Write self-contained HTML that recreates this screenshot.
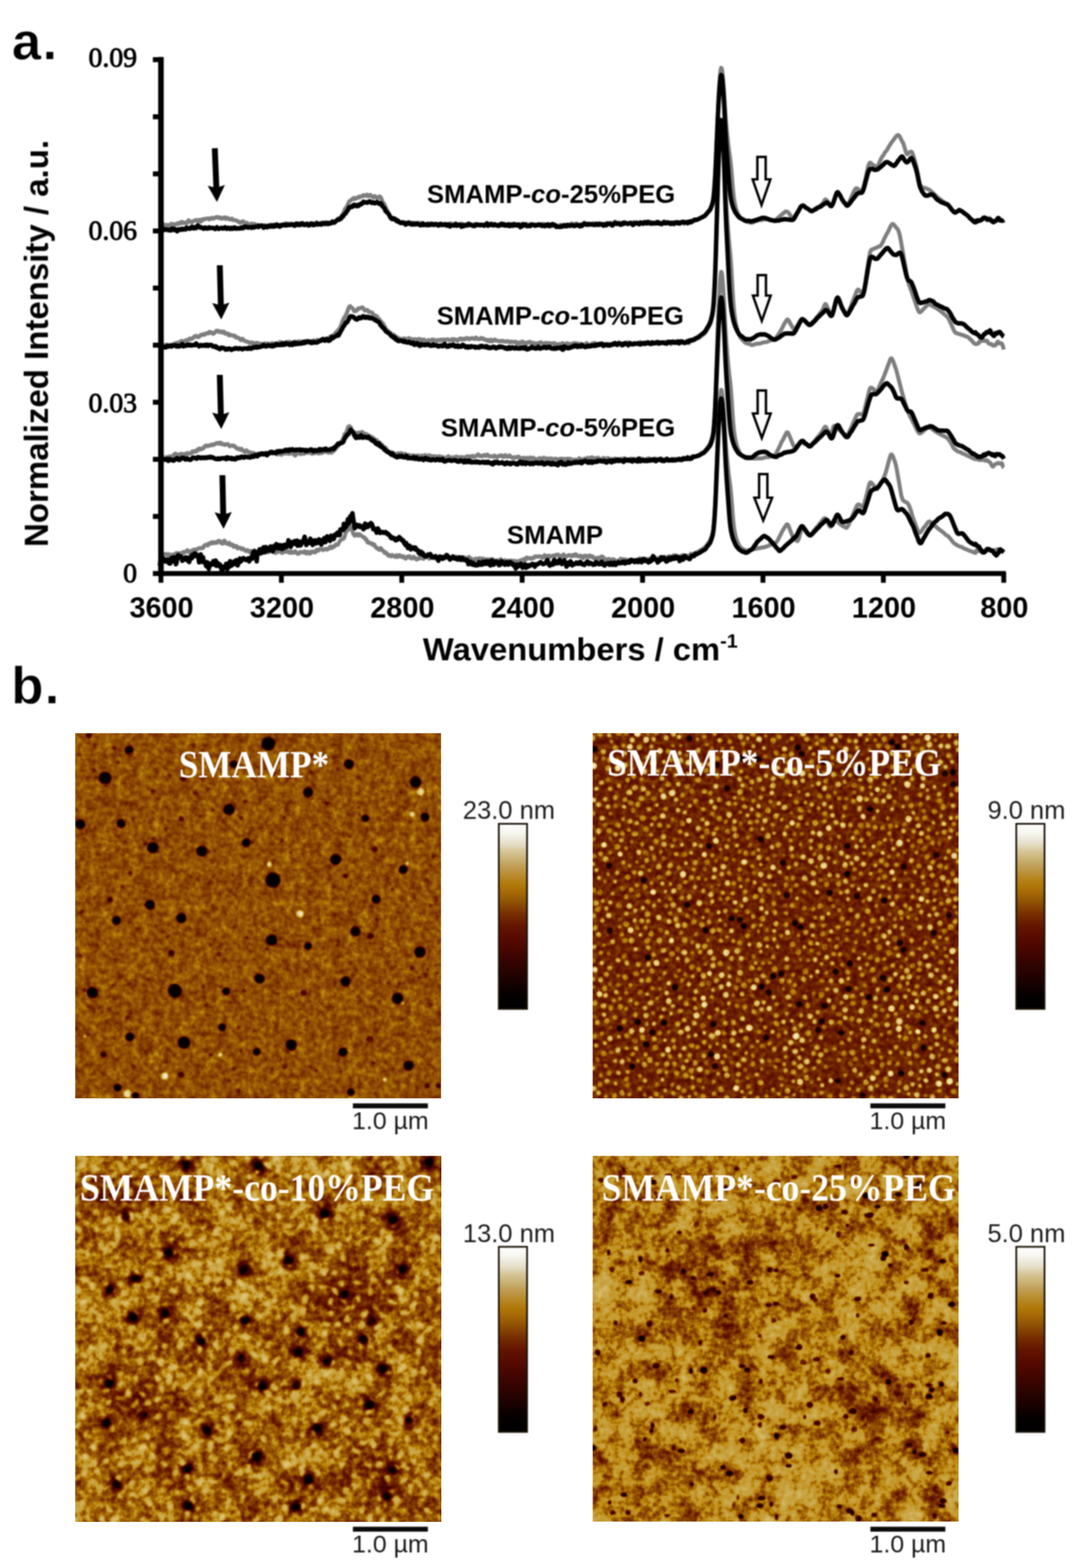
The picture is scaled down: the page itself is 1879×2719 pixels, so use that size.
<!DOCTYPE html>
<html lang="en"><head><meta charset="utf-8"><title>Figure</title>
<style>html,body{margin:0;padding:0;background:#fff}body{width:1879px;height:2719px;overflow:hidden;position:relative}svg{display:block;position:absolute;left:0;top:0}.sb{font-family:"Liberation Sans",Arial,sans-serif;font-weight:bold;fill:#000}.sr{font-family:"Liberation Sans",Arial,sans-serif;fill:#1c1c1c}.tb{font-family:"Liberation Serif","Times New Roman",serif;font-weight:bold;fill:#000}.tr{font-family:"Liberation Serif","Times New Roman",serif;fill:#000}.tw{font-family:"Liberation Serif","Times New Roman",serif;font-weight:bold;fill:#fff}</style></head><body>
<svg id="root" width="1879" height="2719" viewBox="0 0 1879 2719">
<defs><filter id="f1" filterUnits="userSpaceOnUse" x="0" y="0" width="640" height="640" color-interpolation-filters="sRGB"><feTurbulence type="fractalNoise" baseFrequency="0.11" numOctaves="2" seed="3" result="n1"/><feColorMatrix in="n1" type="matrix" values="1 0 0 0 0  1 0 0 0 0  1 0 0 0 0  0 0 0 0 1" result="a"/><feComposite in="a" in2="SourceGraphic" operator="arithmetic" k1="0" k2="0.26" k3="1" k4="-0.13" result="c"/><feTurbulence type="fractalNoise" baseFrequency="0.045" numOctaves="2" seed="17" result="n2"/><feColorMatrix in="n2" type="matrix" values="1 0 0 0 0  1 0 0 0 0  1 0 0 0 0  0 0 0 0 1" result="b"/><feComposite in="b" in2="c" operator="arithmetic" k1="0" k2="0.18" k3="1" k4="-0.09" result="c2"/><feComponentTransfer><feFuncR type="table" tableValues="0 0.004 0.008 0.012 0.015 0.035 0.056 0.077 0.099 0.123 0.148 0.173 0.198 0.222 0.245 0.268 0.291 0.314 0.335 0.356 0.377 0.398 0.419 0.442 0.465 0.488 0.516 0.545 0.57 0.594 0.618 0.649 0.685 0.721 0.749 0.761 0.773 0.786 0.814 0.841 0.86 0.878 0.896 0.914 0.929 0.942 0.955 0.968 0.981 0.987 0.994 1"/><feFuncG type="table" tableValues="0 0 0 0 0 0.002 0.004 0.006 0.008 0.009 0.011 0.013 0.015 0.018 0.022 0.025 0.028 0.032 0.047 0.062 0.077 0.092 0.113 0.146 0.179 0.212 0.242 0.271 0.306 0.342 0.378 0.418 0.46 0.502 0.542 0.578 0.614 0.65 0.686 0.723 0.751 0.778 0.805 0.832 0.859 0.886 0.913 0.94 0.965 0.977 0.988 1"/><feFuncB type="table" tableValues="0 0 0 0 0 0 0 0 0 0 0 0 0 0 0 0 0 0 0 0 0 0 0 0 0 0 0.006 0.015 0.017 0.018 0.019 0.023 0.029 0.035 0.064 0.136 0.208 0.279 0.334 0.389 0.434 0.48 0.525 0.57 0.63 0.699 0.768 0.837 0.904 0.936 0.968 1"/><feFuncA type="linear" slope="0" intercept="1"/></feComponentTransfer><feGaussianBlur stdDeviation="0.9"/></filter><filter id="f2" filterUnits="userSpaceOnUse" x="0" y="0" width="640" height="640" color-interpolation-filters="sRGB"><feTurbulence type="fractalNoise" baseFrequency="0.1" numOctaves="2" seed="5" result="n1"/><feColorMatrix in="n1" type="matrix" values="1 0 0 0 0  1 0 0 0 0  1 0 0 0 0  0 0 0 0 1" result="a"/><feComposite in="a" in2="SourceGraphic" operator="arithmetic" k1="0" k2="0.3" k3="1" k4="-0.15" result="c"/><feComponentTransfer><feFuncR type="table" tableValues="0 0.004 0.008 0.012 0.015 0.035 0.056 0.077 0.099 0.123 0.148 0.173 0.198 0.222 0.245 0.268 0.291 0.314 0.335 0.356 0.377 0.398 0.419 0.442 0.465 0.488 0.516 0.545 0.57 0.594 0.618 0.649 0.685 0.721 0.749 0.761 0.773 0.786 0.814 0.841 0.86 0.876 0.885 0.894 0.903 0.913 0.922 0.928 0.935 0.941 0.947 0.954"/><feFuncG type="table" tableValues="0 0 0 0 0 0.002 0.004 0.006 0.008 0.009 0.011 0.013 0.015 0.018 0.022 0.025 0.028 0.032 0.047 0.062 0.077 0.092 0.113 0.146 0.179 0.212 0.242 0.271 0.306 0.342 0.378 0.418 0.46 0.502 0.542 0.578 0.614 0.65 0.686 0.723 0.751 0.775 0.789 0.802 0.816 0.83 0.843 0.857 0.87 0.883 0.897 0.91"/><feFuncB type="table" tableValues="0 0 0 0 0 0 0 0 0 0 0 0 0 0 0 0 0 0 0 0 0 0 0 0 0 0 0.006 0.015 0.017 0.018 0.019 0.023 0.029 0.035 0.064 0.136 0.208 0.279 0.334 0.389 0.434 0.475 0.498 0.52 0.543 0.566 0.588 0.623 0.657 0.692 0.726 0.761"/><feFuncA type="linear" slope="0" intercept="1"/></feComponentTransfer><feGaussianBlur stdDeviation="0.9"/></filter><filter id="f3" filterUnits="userSpaceOnUse" x="0" y="0" width="640" height="640" color-interpolation-filters="sRGB"><feTurbulence type="fractalNoise" baseFrequency="0.1" numOctaves="2" seed="8" result="n1"/><feColorMatrix in="n1" type="matrix" values="1 0 0 0 0  1 0 0 0 0  1 0 0 0 0  0 0 0 0 1" result="a"/><feComposite in="a" in2="SourceGraphic" operator="arithmetic" k1="0" k2="0.42" k3="1" k4="-0.21" result="c"/><feTurbulence type="fractalNoise" baseFrequency="0.022" numOctaves="2" seed="5" result="n2"/><feColorMatrix in="n2" type="matrix" values="1 0 0 0 0  1 0 0 0 0  1 0 0 0 0  0 0 0 0 1" result="b"/><feComposite in="b" in2="c" operator="arithmetic" k1="0" k2="0.45" k3="1" k4="-0.225" result="c2"/><feComponentTransfer><feFuncR type="table" tableValues="0 0.004 0.008 0.012 0.015 0.035 0.056 0.077 0.099 0.123 0.148 0.173 0.198 0.222 0.245 0.268 0.291 0.314 0.335 0.356 0.377 0.398 0.419 0.442 0.465 0.488 0.516 0.545 0.57 0.594 0.618 0.649 0.685 0.721 0.749 0.761 0.773 0.78 0.784 0.795 0.806 0.817 0.828 0.839 0.848 0.855 0.862 0.87 0.877 0.884 0.891 0.899"/><feFuncG type="table" tableValues="0 0 0 0 0 0.002 0.004 0.006 0.008 0.009 0.011 0.013 0.015 0.018 0.022 0.025 0.028 0.032 0.047 0.062 0.077 0.092 0.113 0.146 0.179 0.212 0.242 0.271 0.306 0.342 0.378 0.418 0.46 0.502 0.542 0.578 0.614 0.633 0.647 0.662 0.676 0.691 0.706 0.72 0.733 0.743 0.754 0.765 0.776 0.787 0.798 0.809"/><feFuncB type="table" tableValues="0 0 0 0 0 0 0 0 0 0 0 0 0 0 0 0 0 0 0 0 0 0 0 0 0 0 0.006 0.015 0.017 0.018 0.019 0.023 0.029 0.035 0.064 0.136 0.208 0.246 0.275 0.297 0.319 0.341 0.362 0.384 0.404 0.422 0.44 0.458 0.476 0.494 0.512 0.531"/><feFuncA type="linear" slope="0" intercept="1"/></feComponentTransfer><feGaussianBlur stdDeviation="0.9"/></filter><filter id="f4" filterUnits="userSpaceOnUse" x="0" y="0" width="640" height="640" color-interpolation-filters="sRGB"><feTurbulence type="fractalNoise" baseFrequency="0.11" numOctaves="2" seed="12" result="n1"/><feColorMatrix in="n1" type="matrix" values="1 0 0 0 0  1 0 0 0 0  1 0 0 0 0  0 0 0 0 1" result="a"/><feComposite in="a" in2="SourceGraphic" operator="arithmetic" k1="0" k2="0.45" k3="1" k4="-0.225" result="c"/><feTurbulence type="fractalNoise" baseFrequency="0.028" numOctaves="2" seed="3" result="n2"/><feColorMatrix in="n2" type="matrix" values="1 0 0 0 0  1 0 0 0 0  1 0 0 0 0  0 0 0 0 1" result="b"/><feComposite in="b" in2="c" operator="arithmetic" k1="0" k2="0.6" k3="1" k4="-0.3" result="c2"/><feComponentTransfer><feFuncR type="table" tableValues="0 0.004 0.008 0.012 0.015 0.035 0.056 0.077 0.099 0.123 0.148 0.173 0.198 0.222 0.245 0.268 0.291 0.314 0.335 0.356 0.377 0.398 0.419 0.442 0.465 0.488 0.516 0.545 0.57 0.594 0.618 0.649 0.685 0.721 0.749 0.761 0.766 0.77 0.774 0.777 0.781 0.785 0.793 0.801 0.809 0.818 0.826 0.834 0.842 0.848 0.853 0.859"/><feFuncG type="table" tableValues="0 0 0 0 0 0.002 0.004 0.006 0.008 0.009 0.011 0.013 0.015 0.018 0.022 0.025 0.028 0.032 0.047 0.062 0.077 0.092 0.113 0.146 0.179 0.212 0.242 0.271 0.306 0.342 0.378 0.418 0.46 0.502 0.542 0.578 0.593 0.604 0.615 0.626 0.637 0.647 0.658 0.669 0.68 0.691 0.702 0.713 0.724 0.733 0.741 0.749"/><feFuncB type="table" tableValues="0 0 0 0 0 0 0 0 0 0 0 0 0 0 0 0 0 0 0 0 0 0 0 0 0 0 0.006 0.015 0.017 0.018 0.019 0.023 0.029 0.035 0.064 0.136 0.167 0.189 0.21 0.232 0.254 0.275 0.291 0.308 0.324 0.341 0.357 0.374 0.39 0.404 0.418 0.431"/><feFuncA type="linear" slope="0" intercept="1"/></feComponentTransfer><feGaussianBlur stdDeviation="0.9"/></filter><linearGradient id="cb" x1="0" y1="0" x2="0" y2="1"><stop offset="0.000" stop-color="#ffffff"/><stop offset="0.052" stop-color="#f6f5ee"/><stop offset="0.111" stop-color="#e4ddc6"/><stop offset="0.148" stop-color="#d6c698"/><stop offset="0.185" stop-color="#cbb67a"/><stop offset="0.222" stop-color="#c1a25c"/><stop offset="0.259" stop-color="#bb933e"/><stop offset="0.296" stop-color="#b68420"/><stop offset="0.333" stop-color="#b07808"/><stop offset="0.370" stop-color="#a56905"/><stop offset="0.407" stop-color="#965a05"/><stop offset="0.444" stop-color="#884604"/><stop offset="0.481" stop-color="#7a3200"/><stop offset="0.519" stop-color="#6e2300"/><stop offset="0.556" stop-color="#641400"/><stop offset="0.630" stop-color="#550a00"/><stop offset="0.704" stop-color="#410500"/><stop offset="0.778" stop-color="#2d0400"/><stop offset="0.852" stop-color="#190200"/><stop offset="0.926" stop-color="#050000"/><stop offset="1.000" stop-color="#000000"/></linearGradient><filter id="b1" x="-50%" y="-50%" width="200%" height="200%" color-interpolation-filters="sRGB"><feGaussianBlur stdDeviation="1.2"/></filter><filter id="b15" x="-50%" y="-50%" width="200%" height="200%" color-interpolation-filters="sRGB"><feGaussianBlur stdDeviation="1.7"/></filter><filter id="b2" x="-50%" y="-50%" width="200%" height="200%" color-interpolation-filters="sRGB"><feGaussianBlur stdDeviation="2"/></filter><filter id="b3" x="-50%" y="-50%" width="200%" height="200%" color-interpolation-filters="sRGB"><feGaussianBlur stdDeviation="3"/></filter><filter id="b30" x="-50%" y="-50%" width="200%" height="200%" color-interpolation-filters="sRGB"><feGaussianBlur stdDeviation="30"/></filter><filter id="b50" x="-50%" y="-50%" width="200%" height="200%" color-interpolation-filters="sRGB"><feGaussianBlur stdDeviation="50"/></filter></defs>
<filter id="soft" x="-3%" y="-3%" width="106%" height="106%" color-interpolation-filters="sRGB"><feGaussianBlur stdDeviation="0.8"/></filter>
<rect width="1879" height="2719" fill="#fff"/>
<g filter="url(#soft)">
<text class="sb" x="20.5" y="102.8" font-size="91.5" stroke="#fff" stroke-width="0.9">a<tspan x="73.8">.</tspan></text>
<text class="sb" x="19.5" y="1219.8" font-size="91.5" stroke="#fff" stroke-width="0.9">b<tspan x="77.5">.</tspan></text>
</g>
<g id="chart" filter="url(#soft)">
<path d="M277 965.4L278 963.7L279 961.6L280 960.0L281 960.2L282 961.3L283 961.8L284 962.3L285 961.2L286 960.6L287 960.5L288 962.2L289 962.5L290 961.6L291 961.0L292 960.8L293 962.4L294 963.5L295 962.2L296 961.6L297 962.0L298 961.7L299 962.5L300 961.7L301 962.2L302 962.5L303 960.8L304 960.3L305 959.4L306 959.0L307 959.7L308 959.4L309 960.0L310 959.0L311 959.6L312 959.7L313 959.8L314 960.2L315 958.6L316 958.2L317 959.3L318 956.9L319 956.9L320 958.1L321 957.0L322 957.1L323 955.7L324 955.2L325 954.1L326 955.3L327 956.2L328 958.0L329 957.9L330 956.0L331 956.0L332 955.2L333 954.5L334 954.6L335 954.1L336 953.0L337 953.0L338 952.9L339 953.1L340 953.5L341 952.8L342 952.7L343 951.4L344 950.9L345 950.6L346 950.2L347 950.9L348 950.9L349 950.6L350 950.0L351 950.6L352 950.0L353 948.4L354 946.0L355 945.7L356 944.8L357 944.6L358 944.8L359 945.5L360 946.1L361 943.2L362 942.3L363 942.5L364 942.9L365 941.8L366 942.0L367 940.2L368 942.4L369 941.7L370 941.5L371 940.4L372 941.6L373 940.5L374 940.5L375 939.8L376 941.4L377 940.6L378 938.0L379 937.7L380 937.8L381 939.4L382 938.9L383 940.1L384 942.1L385 941.5L386 942.6L387 940.1L388 938.2L389 937.4L390 938.8L391 941.8L392 941.7L393 942.0L394 943.2L395 943.1L396 942.3L397 941.1L398 941.8L399 945.1L400 944.8L401 944.2L402 945.0L403 944.4L404 946.2L405 948.3L406 947.5L407 946.5L408 946.8L409 948.2L410 946.9L411 949.0L412 951.1L413 950.5L414 950.4L415 949.5L416 950.0L417 950.2L418 951.0L419 952.5L420 951.8L421 951.0L422 951.9L423 952.7L424 953.6L425 954.8L426 954.3L427 955.7L428 955.0L429 954.0L430 955.1L431 955.7L432 956.5L433 957.8L434 957.6L435 955.3L436 956.4L437 957.0L438 958.1L439 959.4L440 958.7L441 960.5L442 961.7L443 963.1L444 962.7L445 960.1L446 961.4L447 961.2L448 958.4L449 958.4L450 958.8L451 958.9L452 960.1L453 959.4L454 959.4L455 957.2L456 957.8L457 958.0L458 958.6L459 958.1L460 958.1L461 958.0L462 955.7L463 956.1L464 957.7L465 957.6L466 957.4L467 956.7L468 955.7L469 953.9L470 955.6L471 955.7L472 956.6L473 957.4L474 957.6L475 957.0L476 958.3L477 959.1L478 958.7L479 957.5L480 955.9L481 957.4L482 955.7L483 954.9L484 953.7L485 954.6L486 954.9L487 957.7L488 958.2L489 958.9L490 956.8L491 955.9L492 956.0L493 957.0L494 956.8L495 956.9L496 956.2L497 955.0L498 955.8L499 955.6L500 957.5L501 958.4L502 957.7L503 957.3L504 956.1L505 958.7L506 957.1L507 958.3L508 957.9L509 957.1L510 958.1L511 956.9L512 956.0L513 957.7L514 958.5L515 958.9L516 960.5L517 960.1L518 959.7L519 959.5L520 957.1L521 957.2L522 957.2L523 957.3L524 957.6L525 958.0L526 958.1L527 957.7L528 955.9L529 958.3L530 958.9L531 959.9L532 957.6L533 956.8L534 957.1L535 958.1L536 957.9L537 960.2L538 959.6L539 958.7L540 956.4L541 957.1L542 956.7L543 957.2L544 956.4L545 957.8L546 958.0L547 956.8L548 956.5L549 953.1L550 954.0L551 954.8L552 954.8L553 952.9L554 952.3L555 952.5L556 952.5L557 952.0L558 952.2L559 952.5L560 953.9L561 953.2L562 952.9L563 951.9L564 951.7L565 952.5L566 952.3L567 953.1L568 952.3L569 951.3L570 951.2L571 950.6L572 948.1L573 949.2L574 947.8L575 950.4L576 947.9L577 948.9L578 948.7L579 948.3L580 946.1L581 945.9L582 944.2L583 945.1L584 944.2L585 944.7L586 944.3L587 941.4L588 940.0L589 938.2L590 937.0L591 936.2L592 935.8L593 934.9L594 934.2L595 934.3L596 933.6L597 930.9L598 928.0L599 923.7L600 922.8L601 920.7L602 919.9L603 919.1L604 918.1L605 915.7L606 914.7L607 913.9L608 915.5L609 917.8L610 919.6L611 921.3L612 924.2L613 927.0L614 927.3L615 929.1L616 927.7L617 927.7L618 925.9L619 926.2L620 928.0L621 928.9L622 927.1L623 926.4L624 927.5L625 927.8L626 928.3L627 929.4L628 930.4L629 931.1L630 931.3L631 931.5L632 932.0L633 934.8L634 934.7L635 935.0L636 937.9L637 940.4L638 939.4L639 940.1L640 941.8L641 941.3L642 941.9L643 942.2L644 943.3L645 942.4L646 944.8L647 945.0L648 944.3L649 944.2L650 947.3L651 948.4L652 949.6L653 950.8L654 950.1L655 951.0L656 952.1L657 953.3L658 953.1L659 951.0L660 950.4L661 953.2L662 952.8L663 955.1L664 954.9L665 955.6L666 956.7L667 959.1L668 958.8L669 958.2L670 958.9L671 960.8L672 962.2L673 963.5L674 963.8L675 962.3L676 964.1L677 964.1L678 964.7L679 964.3L680 962.4L681 963.8L682 964.1L683 964.2L684 964.6L685 965.7L686 964.0L687 963.0L688 964.4L689 965.9L690 965.7L691 963.2L692 962.8L693 962.7L694 963.7L695 965.2L696 965.5L697 966.0L698 965.1L699 964.4L700 965.9L701 967.4L702 967.4L703 968.7L704 967.6L705 965.6L706 965.5L707 966.4L708 964.7L709 964.8L710 964.5L711 966.8L712 968.0L713 968.2L714 968.3L715 968.3L716 966.5L717 965.4L718 966.3L719 967.1L720 968.7L721 969.2L722 970.4L723 969.8L724 969.0L725 968.5L726 967.2L727 968.5L728 968.4L729 967.8L730 966.5L731 964.9L732 967.7L733 968.0L734 969.0L735 966.8L736 965.7L737 965.0L738 964.4L739 966.3L740 965.7L741 966.0L742 965.0L743 966.3L744 968.9L745 967.9L746 966.7L747 967.1L748 966.7L749 966.0L750 964.7L751 966.9L752 967.7L753 968.2L754 966.2L755 964.8L756 966.3L757 966.1L758 966.6L759 965.3L760 965.9L761 967.6L762 968.1L763 966.9L764 967.8L765 967.1L766 967.3L767 966.4L768 966.8L769 968.2L770 967.4L771 967.0L772 966.8L773 967.5L774 965.6L775 966.5L776 967.1L777 966.9L778 967.9L779 967.4L780 966.5L781 966.5L782 967.8L783 967.1L784 966.7L785 966.5L786 965.0L787 965.3L788 966.3L789 965.0L790 964.9L791 965.7L792 966.2L793 967.8L794 967.1L795 966.3L796 965.6L797 966.0L798 966.3L799 967.4L800 967.9L801 968.2L802 968.4L803 968.4L804 966.2L805 967.3L806 968.6L807 968.7L808 967.3L809 967.9L810 967.9L811 967.0L812 967.0L813 965.9L814 967.0L815 968.7L816 969.2L817 968.6L818 969.4L819 970.8L820 971.2L821 971.5L822 970.7L823 970.8L824 968.8L825 969.1L826 968.8L827 970.1L828 970.0L829 969.3L830 968.5L831 967.9L832 968.4L833 970.0L834 970.5L835 970.0L836 969.1L837 968.3L838 970.9L839 972.0L840 970.3L841 969.8L842 972.0L843 972.3L844 970.5L845 969.8L846 969.9L847 972.4L848 972.0L849 970.0L850 970.3L851 969.7L852 969.8L853 969.3L854 969.7L855 971.6L856 971.4L857 971.7L858 973.3L859 972.0L860 971.8L861 972.8L862 972.1L863 971.8L864 972.3L865 972.8L866 970.9L867 970.8L868 969.6L869 972.5L870 973.1L871 975.1L872 975.7L873 974.8L874 973.2L875 971.4L876 973.7L877 972.8L878 973.3L879 972.4L880 972.6L881 973.9L882 972.0L883 972.4L884 973.5L885 974.4L886 972.0L887 973.7L888 972.9L889 973.6L890 974.1L891 972.3L892 973.2L893 974.2L894 973.1L895 973.0L896 973.2L897 974.0L898 973.9L899 973.4L900 972.6L901 972.6L902 971.6L903 972.8L904 973.7L905 971.6L906 970.4L907 970.9L908 969.6L909 970.3L910 971.8L911 970.7L912 967.4L913 966.8L914 967.2L915 968.4L916 968.0L917 967.8L918 967.6L919 968.6L920 967.9L921 968.9L922 968.4L923 967.6L924 968.0L925 967.7L926 966.5L927 965.0L928 964.7L929 964.8L930 965.2L931 965.2L932 965.3L933 965.4L934 964.7L935 964.4L936 965.1L937 965.2L938 965.4L939 965.4L940 967.0L941 967.2L942 965.0L943 964.3L944 962.7L945 964.3L946 965.4L947 964.5L948 965.1L949 963.9L950 963.8L951 963.6L952 965.6L953 966.0L954 964.7L955 964.1L956 964.3L957 964.2L958 963.8L959 964.3L960 963.2L961 964.3L962 963.1L963 963.5L964 962.3L965 962.8L966 962.8L967 961.5L968 962.2L969 963.9L970 964.4L971 963.7L972 963.8L973 964.9L974 966.1L975 965.8L976 964.5L977 961.2L978 963.0L979 966.0L980 966.8L981 964.8L982 964.1L983 964.2L984 963.8L985 963.1L986 962.5L987 963.0L988 963.1L989 962.9L990 964.4L991 963.3L992 964.4L993 963.8L994 962.1L995 963.5L996 962.4L997 963.7L998 961.1L999 961.5L1000 963.0L1001 964.3L1002 964.6L1003 964.8L1004 964.6L1005 964.8L1006 963.3L1007 965.7L1008 965.8L1009 965.0L1010 965.0L1011 967.8L1012 966.8L1013 963.9L1014 964.6L1015 963.4L1016 963.8L1017 965.2L1018 965.4L1019 965.6L1020 965.8L1021 963.8L1022 963.1L1023 963.3L1024 965.7L1025 964.8L1026 964.5L1027 964.6L1028 966.5L1029 967.8L1030 967.6L1031 968.4L1032 967.6L1033 968.4L1034 968.4L1035 967.8L1036 967.1L1037 968.1L1038 968.9L1039 968.4L1040 966.7L1041 965.9L1042 965.5L1043 964.8L1044 965.2L1045 965.9L1046 966.7L1047 968.4L1048 969.2L1049 970.4L1050 970.9L1051 969.4L1052 969.8L1053 970.5L1054 973.4L1055 970.7L1056 969.1L1057 970.1L1058 970.9L1059 970.8L1060 971.3L1061 970.5L1062 969.6L1063 969.6L1064 969.9L1065 971.2L1066 971.6L1067 972.8L1068 972.4L1069 973.8L1070 973.7L1071 972.0L1072 972.7L1073 971.7L1074 972.3L1075 969.7L1076 968.7L1077 969.4L1078 970.1L1079 970.1L1080 969.8L1081 969.8L1082 970.3L1083 971.3L1084 970.3L1085 970.3L1086 972.7L1087 972.6L1088 973.0L1089 972.5L1090 971.5L1091 971.1L1092 970.6L1093 970.9L1094 971.4L1095 972.3L1096 971.8L1097 972.6L1098 972.5L1099 973.5L1100 974.8L1101 973.8L1102 971.9L1103 970.8L1104 971.9L1105 971.6L1106 971.3L1107 970.9L1108 968.6L1109 968.2L1110 970.2L1111 970.5L1112 970.3L1113 968.7L1114 968.7L1115 969.4L1116 970.9L1117 970.0L1118 969.0L1119 969.6L1120 970.4L1121 971.1L1122 970.5L1123 969.5L1124 969.4L1125 969.0L1126 968.6L1127 968.9L1128 967.8L1129 970.6L1130 969.7L1131 970.8L1132 970.5L1133 969.7L1134 970.1L1135 970.0L1136 967.6L1137 968.2L1138 968.0L1139 968.1L1140 968.7L1141 968.0L1142 968.4L1143 968.0L1144 967.9L1145 968.2L1146 970.0L1147 968.8L1148 967.9L1149 967.3L1150 966.6L1151 965.1L1152 965.7L1153 966.3L1154 966.5L1155 968.8L1156 966.2L1157 966.6L1158 966.0L1159 965.7L1160 964.4L1161 964.8L1162 965.3L1163 965.2L1164 967.2L1165 967.9L1166 966.9L1167 965.3L1168 962.9L1169 964.7L1170 963.8L1171 963.3L1172 963.0L1173 963.3L1174 964.4L1175 966.0L1176 965.3L1177 965.4L1178 964.7L1179 964.4L1180 964.2L1181 965.4L1182 964.7L1183 962.8L1184 963.0L1185 965.4L1186 964.1L1187 963.4L1188 964.3L1189 965.2L1190 963.6L1191 963.8L1192 965.0L1193 963.8L1194 963.3L1195 962.9L1196 962.9L1197 960.9L1198 960.1L1199 960.9L1200 960.6L1201 961.3L1202 961.5L1203 961.7L1204 961.9L1205 961.3L1206 958.5L1207 958.0L1208 957.5L1209 957.1L1210 956.6L1211 956.2L1212 955.7L1213 954.9L1214 954.2L1215 953.6L1216 953.1L1217 952.6L1218 951.9L1219 951.1L1220 950.4L1221 949.7L1222 948.9L1223 947.8L1224 946.6L1225 945.3L1226 944.0L1227 942.6L1228 941.2L1229 939.9L1230 938.4L1231 936.7L1232 934.4L1233 931.7L1234 928.7L1235 925.1L1236 920.2L1237 912.5L1238 900.6L1239 885.6L1240 867.2L1241 843.5L1242 817.3L1243 791.7L1244 766.1L1245 741.9L1246 721.9L1247 704.9L1248 690.7L1249 681.0L1250 676.0L1251 676.9L1252 683.0L1253 693.0L1254 705.9L1255 720.4L1256 736.3L1257 753.1L1258 768.6L1259 781.4L1260 792.4L1261 802.7L1262 812.5L1263 821.5L1264 829.4L1265 836.5L1266 844.3L1267 853.9L1268 865.4L1269 878.4L1270 891.6L1271 903.0L1272 912.0L1273 918.8L1274 924.4L1275 929.2L1276 932.9L1277 936.2L1278 939.0L1279 941.3L1280 943.3L1281 945.1L1282 946.9L1283 948.4L1284 949.4L1285 950.1L1286 951.0L1287 951.8L1288 952.3L1289 952.8L1290 953.4L1291 953.9L1292 954.6L1293 955.0L1294 955.1L1295 955.1L1296 954.7L1297 954.0L1298 953.5L1299 953.5L1300 953.7L1301 953.5L1302 953.0L1303 952.7L1304 952.8L1305 952.7L1306 952.5L1307 952.2L1308 952.1L1309 951.8L1310 951.7L1311 951.6L1312 951.4L1313 951.0L1314 950.8L1315 950.7L1316 950.6L1317 950.5L1318 950.4L1319 949.9L1320 949.4L1321 949.1L1322 949.1L1323 949.2L1324 949.2L1325 948.9L1326 948.4L1327 947.9L1328 947.6L1329 947.5L1330 947.3L1331 946.9L1332 946.4L1333 945.8L1334 945.3L1335 944.8L1336 944.5L1337 944.3L1338 944.1L1339 943.7L1340 943.1L1341 942.5L1342 942.0L1343 941.7L1344 941.2L1345 940.5L1346 939.7L1347 938.7L1348 937.1L1349 935.2L1350 933.1L1351 931.0L1352 929.2L1353 927.4L1354 925.3L1355 923.1L1356 921.2L1357 919.5L1358 917.8L1359 916.2L1360 914.7L1361 913.1L1362 911.5L1363 910.1L1364 909.3L1365 909.3L1366 910.5L1367 912.4L1368 914.9L1369 917.6L1370 920.4L1371 923.1L1372 925.5L1373 927.8L1374 929.9L1375 931.9L1376 933.6L1377 934.9L1378 935.9L1379 936.6L1380 937.3L1381 937.9L1382 938.2L1383 937.6L1384 936.0L1385 933.1L1386 929.3L1387 925.5L1388 922.1L1389 919.1L1390 916.9L1391 915.8L1392 915.9L1393 916.6L1394 917.9L1395 919.2L1396 920.7L1397 922.3L1398 923.7L1399 924.9L1400 926.0L1401 927.1L1402 928.1L1403 928.3L1404 928.0L1405 927.4L1406 926.5L1407 925.3L1408 924.3L1409 923.1L1410 921.8L1411 920.4L1412 919.0L1413 917.6L1414 916.3L1415 915.0L1416 913.9L1417 912.8L1418 911.7L1419 910.5L1420 909.1L1421 907.8L1422 906.6L1423 905.5L1424 904.3L1425 902.9L1426 901.6L1427 900.4L1428 899.3L1429 898.6L1430 898.5L1431 899.0L1432 900.3L1433 902.3L1434 904.3L1435 906.4L1436 908.6L1437 910.7L1438 912.3L1439 913.3L1440 913.5L1441 912.6L1442 910.3L1443 907.2L1444 904.4L1445 902.6L1446 901.8L1447 901.7L1448 902.1L1449 903.0L1450 903.9L1451 904.6L1452 905.4L1453 906.3L1454 907.1L1455 907.9L1456 908.7L1457 909.4L1458 910.1L1459 911.0L1460 911.8L1461 912.3L1462 912.7L1463 913.0L1464 913.5L1465 914.3L1466 915.1L1467 915.3L1468 914.6L1469 913.3L1470 911.7L1471 910.1L1472 907.9L1473 905.4L1474 903.1L1475 901.0L1476 898.6L1477 895.9L1478 893.3L1479 891.2L1480 889.1L1481 886.7L1482 884.2L1483 882.0L1484 879.9L1485 877.8L1486 875.9L1487 875.0L1488 874.6L1489 874.8L1490 875.3L1491 876.2L1492 877.0L1493 877.8L1494 878.4L1495 878.6L1496 878.0L1497 876.3L1498 873.6L1499 870.2L1500 866.5L1501 862.8L1502 859.0L1503 855.2L1504 851.1L1505 846.8L1506 842.6L1507 839.2L1508 837.1L1509 836.4L1510 836.7L1511 837.5L1512 838.7L1513 840.0L1514 841.4L1515 842.7L1516 843.9L1517 845.2L1518 846.5L1519 847.8L1520 848.2L1521 847.6L1522 846.3L1523 844.9L1524 843.3L1525 841.3L1526 839.0L1527 836.9L1528 835.2L1529 833.8L1530 832.1L1531 830.2L1532 828.1L1533 825.8L1534 823.2L1535 820.2L1536 817.0L1537 813.4L1538 809.6L1539 805.8L1540 802.0L1541 798.3L1542 794.7L1543 791.4L1544 789.0L1545 788.0L1546 788.5L1547 789.9L1548 792.0L1549 794.6L1550 797.4L1551 800.1L1552 803.3L1553 807.0L1554 811.7L1555 817.1L1556 822.9L1557 828.5L1558 834.1L1559 840.0L1560 846.1L1561 852.0L1562 857.4L1563 861.9L1564 864.9L1565 866.8L1566 868.1L1567 869.0L1568 869.6L1569 870.2L1570 870.6L1571 871.0L1572 871.5L1573 872.4L1574 873.5L1575 875.2L1576 877.5L1577 880.1L1578 882.8L1579 885.8L1580 889.2L1581 892.7L1582 896.0L1583 899.0L1584 901.7L1585 904.3L1586 907.0L1587 909.8L1588 912.5L1589 915.2L1590 917.8L1591 920.4L1592 922.7L1593 923.9L1594 923.9L1595 923.4L1596 922.5L1597 921.4L1598 920.0L1599 918.4L1600 916.7L1601 915.4L1602 914.2L1603 913.1L1604 911.8L1605 910.5L1606 909.1L1607 907.7L1608 906.5L1609 905.3L1610 904.5L1611 904.1L1612 904.6L1613 905.5L1614 906.6L1615 907.6L1616 908.7L1617 909.6L1618 910.4L1619 911.1L1620 911.7L1621 912.3L1622 913.0L1623 913.8L1624 914.8L1625 915.8L1626 916.5L1627 917.1L1628 917.9L1629 918.7L1630 919.5L1631 920.2L1632 921.0L1633 921.8L1634 922.5L1635 923.3L1636 924.1L1637 925.1L1638 926.2L1639 927.3L1640 928.0L1641 928.4L1642 928.8L1643 929.5L1644 930.4L1645 931.5L1646 932.5L1647 933.7L1648 935.1L1649 936.4L1650 937.5L1651 938.8L1652 940.2L1653 941.3L1654 942.2L1655 942.8L1656 943.4L1657 943.9L1658 944.7L1659 945.5L1660 946.1L1661 946.5L1662 947.0L1663 947.3L1664 947.7L1665 948.1L1666 948.3L1667 948.4L1668 948.9L1669 949.8L1670 950.7L1671 951.1L1672 951.5L1673 951.7L1674 952.0L1675 952.4L1676 953.1L1677 953.5L1678 953.9L1679 954.3L1680 954.7L1681 955.1L1682 955.5L1683 956.0L1684 956.3L1685 956.4L1686 956.7L1687 957.4L1688 958.0L1689 958.3L1690 958.4L1691 958.7L1692 956.0L1693 954.3L1694 954.5L1695 955.7L1696 955.6L1697 954.8L1698 955.1L1699 955.7L1700 954.9L1701 953.7L1702 954.4L1703 955.9L1704 956.6L1705 956.7L1706 956.7L1707 956.5L1708 955.9L1709 955.4L1710 955.1L1711 954.8L1712 953.7L1713 952.6L1714 952.1L1715 952.2L1716 952.7L1717 954.1L1718 955.5L1719 955.5L1720 954.7L1721 954.6L1722 954.1L1723 953.6L1724 954.4L1725 956.3L1726 956.9L1727 955.9L1728 953.7L1729 952.2L1730 952.4L1731 953.9L1732 954.8L1733 953.9L1734 953.0L1735 953.5L1736 954.7L1737 955.2L1738 955.8L1739 956.8L1740 957.3" fill="none" stroke="#7e7e7e" stroke-width="6.9" stroke-linejoin="round" stroke-linecap="butt"/>
<path d="M277 794.5L278 794.2L279 793.1L280 793.5L281 792.7L282 793.1L283 793.0L284 792.9L285 793.6L286 793.8L287 793.2L288 793.2L289 792.7L290 792.5L291 792.6L292 793.0L293 792.1L294 791.2L295 791.9L296 792.8L297 791.8L298 792.0L299 791.7L300 790.2L301 789.4L302 787.5L303 788.1L304 786.6L305 787.6L306 787.5L307 788.2L308 789.6L309 789.3L310 789.6L311 789.2L312 787.4L313 788.5L314 787.0L315 787.5L316 787.1L317 787.8L318 788.3L319 788.7L320 789.5L321 787.0L322 786.8L323 786.9L324 788.0L325 785.6L326 786.0L327 786.5L328 786.3L329 786.5L330 785.9L331 786.1L332 785.5L333 783.2L334 783.7L335 782.7L336 783.7L337 783.1L338 782.3L339 781.7L340 783.0L341 781.9L342 779.9L343 781.1L344 778.7L345 777.8L346 778.5L347 778.1L348 779.4L349 777.9L350 778.2L351 778.0L352 778.0L353 776.9L354 774.8L355 774.1L356 773.5L357 772.4L358 772.4L359 773.4L360 773.8L361 773.4L362 772.7L363 772.7L364 771.8L365 772.4L366 771.5L367 770.6L368 770.9L369 771.7L370 771.3L371 771.5L372 770.4L373 769.4L374 769.2L375 768.5L376 769.0L377 768.1L378 769.1L379 769.3L380 768.6L381 768.5L382 767.5L383 768.4L384 770.2L385 770.3L386 770.1L387 769.7L388 770.5L389 771.4L390 771.6L391 770.9L392 770.2L393 770.4L394 770.5L395 770.1L396 771.3L397 772.3L398 773.8L399 773.2L400 773.1L401 772.9L402 772.6L403 772.5L404 773.5L405 772.7L406 774.0L407 773.8L408 774.5L409 776.6L410 777.2L411 778.0L412 778.0L413 778.7L414 777.9L415 777.7L416 779.6L417 780.2L418 779.3L419 778.5L420 780.6L421 780.7L422 782.1L423 782.6L424 783.8L425 783.0L426 782.4L427 780.8L428 782.4L429 782.3L430 783.5L431 785.0L432 784.5L433 786.2L434 784.4L435 785.6L436 786.6L437 785.6L438 785.3L439 785.2L440 786.1L441 786.4L442 787.8L443 788.0L444 787.9L445 787.8L446 786.9L447 787.5L448 787.6L449 788.6L450 789.3L451 788.0L452 787.4L453 787.0L454 786.4L455 785.5L456 785.8L457 786.2L458 787.8L459 787.7L460 787.9L461 786.8L462 786.6L463 787.5L464 786.4L465 788.0L466 786.5L467 784.9L468 785.0L469 784.3L470 785.0L471 785.8L472 785.5L473 786.6L474 785.8L475 784.9L476 785.6L477 785.4L478 786.3L479 787.2L480 788.0L481 785.4L482 785.0L483 785.4L484 787.5L485 787.3L486 788.1L487 787.5L488 788.5L489 787.0L490 784.8L491 783.9L492 784.6L493 785.3L494 786.6L495 786.3L496 785.2L497 785.6L498 785.7L499 786.5L500 787.1L501 787.1L502 786.5L503 786.5L504 784.4L505 784.7L506 784.8L507 785.8L508 787.1L509 786.8L510 789.0L511 787.9L512 789.9L513 788.4L514 788.0L515 785.9L516 785.8L517 785.1L518 785.3L519 784.0L520 786.0L521 787.5L522 786.7L523 786.7L524 787.0L525 784.7L526 786.2L527 786.8L528 786.4L529 785.1L530 785.4L531 785.2L532 784.9L533 784.3L534 785.2L535 785.3L536 784.9L537 785.1L538 784.8L539 785.0L540 785.3L541 787.0L542 786.4L543 786.2L544 784.8L545 785.4L546 785.8L547 785.5L548 784.5L549 783.9L550 784.9L551 785.6L552 786.4L553 785.5L554 785.8L555 785.2L556 784.7L557 785.6L558 785.6L559 785.2L560 783.9L561 782.8L562 783.1L563 783.3L564 783.4L565 783.6L566 782.3L567 783.8L568 784.1L569 785.0L570 783.5L571 784.0L572 783.2L573 784.2L574 785.1L575 783.1L576 782.6L577 783.3L578 782.1L579 781.6L580 780.1L581 779.3L582 777.3L583 776.1L584 775.3L585 774.9L586 773.1L587 771.5L588 769.7L589 768.6L590 767.4L591 766.0L592 765.2L593 763.8L594 762.5L595 759.6L596 758.3L597 753.1L598 752.5L599 751.3L600 750.3L601 748.3L602 744.9L603 741.2L604 739.7L605 739.1L606 738.9L607 740.5L608 740.8L609 744.3L610 747.1L611 747.6L612 749.7L613 752.3L614 750.9L615 751.5L616 750.6L617 750.6L618 751.5L619 751.4L620 750.6L621 751.8L622 750.2L623 750.0L624 750.4L625 750.9L626 750.1L627 749.2L628 748.9L629 751.0L630 751.2L631 752.1L632 751.9L633 753.2L634 752.4L635 752.9L636 753.6L637 753.7L638 755.7L639 756.0L640 755.4L641 756.3L642 757.8L643 757.4L644 757.7L645 759.3L646 758.7L647 760.4L648 760.2L649 762.9L650 762.0L651 762.6L652 763.0L653 763.0L654 765.7L655 766.0L656 766.8L657 766.7L658 768.7L659 768.8L660 770.5L661 770.4L662 770.7L663 772.9L664 774.2L665 774.8L666 774.9L667 775.3L668 776.0L669 777.9L670 778.1L671 780.3L672 781.3L673 783.3L674 783.1L675 783.9L676 783.4L677 784.0L678 786.3L679 785.7L680 784.3L681 784.8L682 786.2L683 787.0L684 788.2L685 787.3L686 787.5L687 788.2L688 787.8L689 786.9L690 785.9L691 786.8L692 787.3L693 788.8L694 786.6L695 785.6L696 785.6L697 786.4L698 788.2L699 788.9L700 788.4L701 787.4L702 786.8L703 788.0L704 788.8L705 789.3L706 789.7L707 789.6L708 789.5L709 789.0L710 791.2L711 791.7L712 791.5L713 789.8L714 791.3L715 790.1L716 789.7L717 790.0L718 789.6L719 789.8L720 790.9L721 791.0L722 791.3L723 791.5L724 789.7L725 789.7L726 791.4L727 791.2L728 791.0L729 791.4L730 790.3L731 791.0L732 790.0L733 790.2L734 791.0L735 790.7L736 790.4L737 789.2L738 790.1L739 790.9L740 790.3L741 791.2L742 791.6L743 791.4L744 789.4L745 790.4L746 791.0L747 790.6L748 791.5L749 793.4L750 792.7L751 790.9L752 791.0L753 791.3L754 791.4L755 791.8L756 791.6L757 791.7L758 792.5L759 791.8L760 793.1L761 791.8L762 791.0L763 792.0L764 792.5L765 792.6L766 792.9L767 792.3L768 792.9L769 793.7L770 793.9L771 793.8L772 795.4L773 796.1L774 794.6L775 792.6L776 792.7L777 791.0L778 792.2L779 792.5L780 793.4L781 793.4L782 793.0L783 793.7L784 794.1L785 793.3L786 792.7L787 793.5L788 794.1L789 793.4L790 793.4L791 791.6L792 792.0L793 793.7L794 794.1L795 793.1L796 792.7L797 793.4L798 793.4L799 792.6L800 792.4L801 793.2L802 792.8L803 793.5L804 793.5L805 793.4L806 794.1L807 792.9L808 791.9L809 792.2L810 791.2L811 792.7L812 791.7L813 792.1L814 792.4L815 791.3L816 792.8L817 792.4L818 791.8L819 790.4L820 791.1L821 792.0L822 792.6L823 792.0L824 791.1L825 791.1L826 789.9L827 789.2L828 789.3L829 787.8L830 789.1L831 790.1L832 791.2L833 791.0L834 790.3L835 791.0L836 791.2L837 790.4L838 790.1L839 789.1L840 788.9L841 790.2L842 790.7L843 789.0L844 789.4L845 788.4L846 789.4L847 790.9L848 791.2L849 791.5L850 791.1L851 791.3L852 791.4L853 791.4L854 791.1L855 792.0L856 791.9L857 790.0L858 790.3L859 791.4L860 791.8L861 792.9L862 793.0L863 792.1L864 790.9L865 790.6L866 790.6L867 789.7L868 789.7L869 791.0L870 789.9L871 790.8L872 791.7L873 792.5L874 791.3L875 790.3L876 789.1L877 791.3L878 791.5L879 791.5L880 792.3L881 792.0L882 791.6L883 789.7L884 790.4L885 791.6L886 792.7L887 792.7L888 793.8L889 793.9L890 794.1L891 793.2L892 792.7L893 793.5L894 793.3L895 793.6L896 792.9L897 791.9L898 791.9L899 791.8L900 793.1L901 793.9L902 794.0L903 794.3L904 795.0L905 795.0L906 794.6L907 793.8L908 794.6L909 794.5L910 794.0L911 795.3L912 795.7L913 796.0L914 793.9L915 794.9L916 795.1L917 795.7L918 794.6L919 793.4L920 794.1L921 794.7L922 794.0L923 794.2L924 793.7L925 794.2L926 795.5L927 795.3L928 796.0L929 797.2L930 797.2L931 797.1L932 796.8L933 795.4L934 795.1L935 795.8L936 794.3L937 794.6L938 795.8L939 796.6L940 795.8L941 795.8L942 793.8L943 793.8L944 795.1L945 796.6L946 795.3L947 795.4L948 795.3L949 794.8L950 795.9L951 797.2L952 797.6L953 796.9L954 794.9L955 796.1L956 796.6L957 795.4L958 796.6L959 796.7L960 796.3L961 797.1L962 796.6L963 795.2L964 796.9L965 797.1L966 796.8L967 796.2L968 796.5L969 796.5L970 796.6L971 795.4L972 796.2L973 795.7L974 795.5L975 796.4L976 797.1L977 796.1L978 796.6L979 795.7L980 796.7L981 796.1L982 796.0L983 795.9L984 795.3L985 795.9L986 796.2L987 797.1L988 795.5L989 797.2L990 796.3L991 797.8L992 797.0L993 797.4L994 797.5L995 797.8L996 797.6L997 797.0L998 798.5L999 797.8L1000 797.4L1001 797.7L1002 796.3L1003 797.9L1004 794.5L1005 795.4L1006 796.5L1007 796.3L1008 798.0L1009 796.6L1010 797.3L1011 796.7L1012 796.0L1013 796.3L1014 795.1L1015 795.0L1016 796.7L1017 796.0L1018 794.3L1019 793.7L1020 794.1L1021 794.2L1022 795.5L1023 794.3L1024 794.2L1025 793.3L1026 792.9L1027 795.6L1028 795.5L1029 795.0L1030 795.1L1031 795.2L1032 794.3L1033 794.4L1034 794.6L1035 795.4L1036 795.3L1037 793.7L1038 795.1L1039 795.9L1040 795.6L1041 796.2L1042 796.2L1043 796.0L1044 796.3L1045 795.3L1046 794.1L1047 794.8L1048 796.6L1049 795.9L1050 795.8L1051 795.8L1052 794.7L1053 794.5L1054 794.4L1055 794.7L1056 796.4L1057 796.7L1058 796.4L1059 796.3L1060 795.8L1061 796.2L1062 796.6L1063 796.5L1064 795.7L1065 796.5L1066 795.1L1067 796.1L1068 795.9L1069 796.0L1070 796.8L1071 796.9L1072 795.9L1073 798.0L1074 798.5L1075 797.2L1076 796.3L1077 795.3L1078 796.3L1079 797.9L1080 798.1L1081 796.1L1082 794.6L1083 794.7L1084 795.3L1085 796.2L1086 796.0L1087 796.5L1088 797.1L1089 796.5L1090 797.6L1091 798.2L1092 795.9L1093 795.4L1094 795.3L1095 795.4L1096 795.4L1097 796.0L1098 798.1L1099 796.8L1100 795.7L1101 796.4L1102 796.1L1103 796.5L1104 797.5L1105 798.5L1106 798.8L1107 798.0L1108 796.3L1109 794.8L1110 795.2L1111 795.5L1112 796.8L1113 797.6L1114 795.7L1115 796.7L1116 796.7L1117 797.5L1118 797.3L1119 797.3L1120 797.0L1121 795.5L1122 795.5L1123 795.3L1124 795.9L1125 795.0L1126 796.0L1127 796.0L1128 796.6L1129 797.5L1130 798.1L1131 798.7L1132 798.4L1133 798.3L1134 796.1L1135 794.9L1136 795.4L1137 795.4L1138 797.2L1139 797.2L1140 797.7L1141 798.3L1142 797.9L1143 796.2L1144 796.5L1145 796.5L1146 794.9L1147 796.0L1148 796.4L1149 796.5L1150 796.3L1151 796.3L1152 796.3L1153 797.4L1154 798.3L1155 797.3L1156 797.8L1157 798.6L1158 798.5L1159 797.1L1160 798.6L1161 798.3L1162 797.5L1163 796.1L1164 796.3L1165 796.0L1166 797.3L1167 796.7L1168 795.4L1169 796.3L1170 796.3L1171 796.5L1172 796.2L1173 796.8L1174 796.6L1175 796.9L1176 797.0L1177 798.1L1178 797.0L1179 796.2L1180 797.4L1181 798.7L1182 797.8L1183 794.9L1184 794.0L1185 795.4L1186 793.9L1187 795.3L1188 794.6L1189 795.7L1190 796.7L1191 796.7L1192 796.1L1193 795.7L1194 795.5L1195 795.0L1196 793.9L1197 794.6L1198 793.1L1199 791.7L1200 792.9L1201 793.2L1202 792.9L1203 792.6L1204 792.3L1205 791.6L1206 791.1L1207 790.7L1208 790.3L1209 789.9L1210 789.5L1211 789.1L1212 788.5L1213 787.9L1214 787.3L1215 786.7L1216 785.9L1217 785.1L1218 784.5L1219 783.9L1220 783.4L1221 782.8L1222 781.9L1223 780.5L1224 779.1L1225 777.8L1226 776.4L1227 774.8L1228 773.3L1229 771.9L1230 770.3L1231 768.4L1232 765.7L1233 762.7L1234 759.4L1235 755.4L1236 749.8L1237 741.2L1238 727.7L1239 710.4L1240 689.3L1241 662.2L1242 632.3L1243 603.4L1244 574.4L1245 546.9L1246 524.0L1247 504.5L1248 488.1L1249 477.0L1250 471.4L1251 472.5L1252 479.4L1253 490.9L1254 506.1L1255 523.0L1256 541.2L1257 560.4L1258 578.2L1259 593.0L1260 605.9L1261 617.7L1262 628.9L1263 639.3L1264 648.4L1265 656.6L1266 665.5L1267 676.7L1268 690.2L1269 705.4L1270 720.4L1271 733.5L1272 743.9L1273 752.0L1274 758.5L1275 764.0L1276 768.3L1277 772.1L1278 775.5L1279 778.2L1280 780.4L1281 782.4L1282 784.4L1283 786.2L1284 787.7L1285 788.8L1286 789.6L1287 790.4L1288 791.4L1289 792.3L1290 793.1L1291 793.7L1292 794.3L1293 794.7L1294 794.8L1295 794.8L1296 794.8L1297 795.0L1298 794.9L1299 794.6L1300 794.4L1301 794.4L1302 794.4L1303 794.5L1304 794.9L1305 794.9L1306 794.8L1307 794.8L1308 795.0L1309 795.2L1310 795.2L1311 794.9L1312 794.7L1313 794.7L1314 794.9L1315 794.9L1316 794.8L1317 794.7L1318 794.7L1319 794.8L1320 794.9L1321 794.8L1322 794.5L1323 794.1L1324 793.7L1325 793.4L1326 793.2L1327 793.0L1328 792.6L1329 792.4L1330 792.6L1331 792.8L1332 792.6L1333 792.3L1334 792.1L1335 791.8L1336 791.4L1337 791.2L1338 791.0L1339 790.6L1340 790.2L1341 790.2L1342 790.2L1343 789.6L1344 788.4L1345 786.8L1346 784.8L1347 782.8L1348 781.0L1349 778.9L1350 776.8L1351 774.9L1352 772.9L1353 770.6L1354 768.2L1355 766.1L1356 764.4L1357 762.9L1358 761.0L1359 758.8L1360 756.7L1361 754.8L1362 752.8L1363 750.8L1364 749.6L1365 749.6L1366 750.7L1367 752.6L1368 754.8L1369 757.1L1370 759.5L1371 761.9L1372 764.6L1373 767.2L1374 769.5L1375 771.8L1376 773.8L1377 774.9L1378 775.3L1379 775.1L1380 774.3L1381 773.4L1382 772.6L1383 772.1L1384 771.6L1385 770.6L1386 769.6L1387 768.9L1388 768.5L1389 768.0L1390 767.5L1391 767.6L1392 768.0L1393 768.6L1394 769.1L1395 769.7L1396 770.1L1397 770.5L1398 771.1L1399 771.9L1400 772.7L1401 773.5L1402 773.9L1403 773.8L1404 773.3L1405 772.4L1406 771.3L1407 770.1L1408 769.2L1409 768.3L1410 767.3L1411 765.9L1412 764.5L1413 763.3L1414 762.2L1415 761.0L1416 759.5L1417 758.2L1418 757.2L1419 756.2L1420 755.1L1421 753.7L1422 752.3L1423 751.0L1424 749.8L1425 748.3L1426 746.6L1427 745.0L1428 743.3L1429 741.6L1430 740.2L1431 739.9L1432 740.9L1433 742.7L1434 744.8L1435 747.2L1436 749.7L1437 752.1L1438 754.2L1439 755.5L1440 755.3L1441 753.3L1442 749.8L1443 745.8L1444 742.1L1445 739.5L1446 738.5L1447 738.5L1448 739.3L1449 740.3L1450 741.1L1451 741.9L1452 742.8L1453 743.7L1454 744.6L1455 745.6L1456 746.5L1457 747.4L1458 748.2L1459 749.0L1460 749.8L1461 750.7L1462 751.6L1463 752.5L1464 753.2L1465 754.0L1466 754.7L1467 755.0L1468 754.8L1469 754.1L1470 752.9L1471 751.1L1472 749.0L1473 746.7L1474 744.6L1475 742.5L1476 740.4L1477 738.0L1478 735.5L1479 733.1L1480 730.9L1481 728.8L1482 726.6L1483 724.3L1484 722.1L1485 720.2L1486 718.9L1487 718.2L1488 718.0L1489 717.9L1490 717.9L1491 718.0L1492 718.3L1493 718.5L1494 718.7L1495 718.7L1496 718.0L1497 716.1L1498 713.1L1499 709.1L1500 704.8L1501 700.7L1502 696.6L1503 692.5L1504 688.6L1505 684.6L1506 680.4L1507 676.4L1508 673.6L1509 672.2L1510 672.1L1511 672.5L1512 673.0L1513 673.7L1514 674.8L1515 676.0L1516 676.9L1517 677.8L1518 678.4L1519 678.5L1520 677.9L1521 676.9L1522 675.1L1523 672.8L1524 670.5L1525 668.4L1526 666.3L1527 664.0L1528 661.8L1529 659.6L1530 657.5L1531 655.4L1532 653.0L1533 650.4L1534 647.7L1535 645.3L1536 642.6L1537 639.8L1538 637.1L1539 634.4L1540 631.9L1541 629.2L1542 626.3L1543 623.6L1544 621.8L1545 621.3L1546 622.1L1547 623.8L1548 626.0L1549 628.5L1550 631.4L1551 634.3L1552 637.1L1553 639.8L1554 643.2L1555 647.1L1556 651.0L1557 654.8L1558 658.7L1559 662.7L1560 666.6L1561 670.6L1562 674.5L1563 678.5L1564 682.1L1565 685.4L1566 688.8L1567 692.4L1568 695.9L1569 699.1L1570 702.3L1571 705.6L1572 708.6L1573 711.5L1574 714.1L1575 716.6L1576 719.0L1577 721.0L1578 722.8L1579 724.6L1580 726.6L1581 728.8L1582 731.0L1583 732.9L1584 734.5L1585 736.3L1586 738.4L1587 740.6L1588 742.9L1589 744.9L1590 746.6L1591 748.2L1592 749.9L1593 751.2L1594 751.8L1595 751.6L1596 751.1L1597 750.5L1598 749.8L1599 749.0L1600 748.1L1601 747.1L1602 746.2L1603 745.4L1604 744.7L1605 743.8L1606 743.0L1607 742.6L1608 742.3L1609 741.9L1610 741.3L1611 740.9L1612 741.1L1613 741.8L1614 742.6L1615 743.5L1616 744.1L1617 744.8L1618 745.6L1619 746.5L1620 747.2L1621 747.8L1622 748.3L1623 748.9L1624 749.6L1625 750.2L1626 750.9L1627 751.5L1628 751.9L1629 752.4L1630 753.1L1631 753.8L1632 754.2L1633 754.6L1634 755.1L1635 755.7L1636 756.2L1637 756.5L1638 756.9L1639 757.6L1640 758.4L1641 759.0L1642 759.6L1643 760.6L1644 761.8L1645 763.3L1646 764.8L1647 766.2L1648 767.7L1649 769.3L1650 771.3L1651 773.5L1652 775.4L1653 776.9L1654 778.0L1655 778.9L1656 779.6L1657 780.3L1658 781.3L1659 782.2L1660 782.7L1661 783.1L1662 783.4L1663 783.6L1664 783.9L1665 784.2L1666 784.7L1667 785.4L1668 786.1L1669 786.6L1670 786.9L1671 787.1L1672 787.5L1673 788.0L1674 788.8L1675 789.4L1676 789.8L1677 790.1L1678 790.6L1679 791.1L1680 791.6L1681 792.0L1682 792.4L1683 793.0L1684 793.7L1685 794.2L1686 794.4L1687 794.8L1688 795.3L1689 795.9L1690 796.2L1691 795.6L1692 796.0L1693 796.3L1694 796.6L1695 796.8L1696 796.9L1697 797.5L1698 797.8L1699 796.8L1700 795.3L1701 795.6L1702 797.3L1703 797.9L1704 797.1L1705 796.3L1706 797.2L1707 798.3L1708 798.8L1709 798.9L1710 798.4L1711 798.1L1712 798.3L1713 799.7L1714 800.5L1715 801.0L1716 801.5L1717 802.8L1718 805.2L1719 807.1L1720 808.5L1721 809.1L1722 808.7L1723 806.7L1724 805.6L1725 805.4L1726 804.7L1727 804.0L1728 803.8L1729 803.3L1730 802.6L1731 803.2L1732 803.8L1733 803.9L1734 803.9L1735 803.3L1736 803.0L1737 804.2L1738 807.5L1739 810.0L1740 810.5" fill="none" stroke="#7e7e7e" stroke-width="6.9" stroke-linejoin="round" stroke-linecap="butt"/>
<path d="M277 600.3L278 600.9L279 601.0L280 601.3L281 602.3L282 601.5L283 601.7L284 601.9L285 600.1L286 600.4L287 597.8L288 598.3L289 599.5L290 599.0L291 597.8L292 599.5L293 600.1L294 599.9L295 599.8L296 598.1L297 598.8L298 599.2L299 598.1L300 597.8L301 596.3L302 596.5L303 596.3L304 595.4L305 596.2L306 594.6L307 595.3L308 595.2L309 595.4L310 593.6L311 595.0L312 593.5L313 592.7L314 591.2L315 591.5L316 591.5L317 592.0L318 592.2L319 591.4L320 591.0L321 590.7L322 590.5L323 590.3L324 589.6L325 589.3L326 588.9L327 589.3L328 588.0L329 586.9L330 587.3L331 588.1L332 587.9L333 587.5L334 586.3L335 585.9L336 584.7L337 583.2L338 583.3L339 583.6L340 582.3L341 584.1L342 583.6L343 583.6L344 584.6L345 584.3L346 583.1L347 581.7L348 580.7L349 581.3L350 580.8L351 580.1L352 580.5L353 579.0L354 579.6L355 580.4L356 579.1L357 578.8L358 577.7L359 577.6L360 578.0L361 578.2L362 576.8L363 575.3L364 577.1L365 576.8L366 576.9L367 576.5L368 577.5L369 578.8L370 578.7L371 576.9L372 576.9L373 576.4L374 575.0L375 573.5L376 573.9L377 574.1L378 573.7L379 573.9L380 575.7L381 575.3L382 575.3L383 575.9L384 574.9L385 576.7L386 576.1L387 576.1L388 575.1L389 576.5L390 578.6L391 578.4L392 577.8L393 577.9L394 579.0L395 578.6L396 581.1L397 581.4L398 581.7L399 580.0L400 580.7L401 581.4L402 581.2L403 581.7L404 581.8L405 582.5L406 583.2L407 582.1L408 583.2L409 585.3L410 584.8L411 585.3L412 585.0L413 585.9L414 586.2L415 587.6L416 587.8L417 589.6L418 588.9L419 589.6L420 587.4L421 587.9L422 589.9L423 590.3L424 591.1L425 591.2L426 592.1L427 591.9L428 592.2L429 592.6L430 593.1L431 593.9L432 593.4L433 594.8L434 594.2L435 594.3L436 595.0L437 593.8L438 593.9L439 594.3L440 595.4L441 595.7L442 595.4L443 595.2L444 595.0L445 594.2L446 594.9L447 595.6L448 596.2L449 595.5L450 595.5L451 596.4L452 596.2L453 596.3L454 596.2L455 596.5L456 596.3L457 597.0L458 596.0L459 595.3L460 596.4L461 596.1L462 596.4L463 596.4L464 595.6L465 596.7L466 596.8L467 596.2L468 597.1L469 596.6L470 596.2L471 595.3L472 594.8L473 595.7L474 596.8L475 596.4L476 595.9L477 595.3L478 595.5L479 596.2L480 595.4L481 596.8L482 597.9L483 596.6L484 595.4L485 593.1L486 594.4L487 594.9L488 593.6L489 594.1L490 594.9L491 594.9L492 594.4L493 594.9L494 595.1L495 595.7L496 594.2L497 592.9L498 594.0L499 593.9L500 593.7L501 594.0L502 592.5L503 595.8L504 594.7L505 594.6L506 594.7L507 593.8L508 593.8L509 594.4L510 592.9L511 592.5L512 592.7L513 593.6L514 594.1L515 594.4L516 594.2L517 593.6L518 591.6L519 592.3L520 593.0L521 592.4L522 593.1L523 592.4L524 594.0L525 592.3L526 592.2L527 592.3L528 592.7L529 593.1L530 591.0L531 591.8L532 592.7L533 591.1L534 593.3L535 593.0L536 593.6L537 592.6L538 592.4L539 592.2L540 592.5L541 591.3L542 591.6L543 591.0L544 590.2L545 590.9L546 591.3L547 591.3L548 590.6L549 590.6L550 589.3L551 590.9L552 590.2L553 591.0L554 591.7L555 591.6L556 589.7L557 589.0L558 588.2L559 588.8L560 588.0L561 586.8L562 588.5L563 588.8L564 590.5L565 588.0L566 588.6L567 587.2L568 588.0L569 588.1L570 585.5L571 585.7L572 584.9L573 583.1L574 583.0L575 584.1L576 582.4L577 582.1L578 580.9L579 580.2L580 579.5L581 578.7L582 576.4L583 576.5L584 575.3L585 573.5L586 574.1L587 571.8L588 570.0L589 568.9L590 567.4L591 564.6L592 561.3L593 559.1L594 555.6L595 555.0L596 551.8L597 550.0L598 549.7L599 547.2L600 545.2L601 542.9L602 540.8L603 537.1L604 534.8L605 532.4L606 531.7L607 530.9L608 532.4L609 532.7L610 534.1L611 534.5L612 535.7L613 537.6L614 539.5L615 538.6L616 539.0L617 539.6L618 538.8L619 537.8L620 536.0L621 534.8L622 535.2L623 535.0L624 535.0L625 534.0L626 533.9L627 533.8L628 532.9L629 533.6L630 534.8L631 536.4L632 538.5L633 538.4L634 538.2L635 538.2L636 537.7L637 537.5L638 539.6L639 540.6L640 540.9L641 540.5L642 541.4L643 541.8L644 542.1L645 542.0L646 543.1L647 544.8L648 545.7L649 547.1L650 547.0L651 548.1L652 547.8L653 548.1L654 549.8L655 551.9L656 552.8L657 552.9L658 555.2L659 555.7L660 556.8L661 558.0L662 559.6L663 560.7L664 560.9L665 562.9L666 565.5L667 566.1L668 568.8L669 570.1L670 571.1L671 572.6L672 574.7L673 573.8L674 575.9L675 578.2L676 577.6L677 577.2L678 579.9L679 579.7L680 579.9L681 580.4L682 580.1L683 580.8L684 581.7L685 583.5L686 584.7L687 585.3L688 584.5L689 585.0L690 586.5L691 586.3L692 587.7L693 588.3L694 587.7L695 587.7L696 587.7L697 588.2L698 587.7L699 588.7L700 586.7L701 586.8L702 587.6L703 589.3L704 588.3L705 589.1L706 588.5L707 587.7L708 586.4L709 586.3L710 587.2L711 588.1L712 587.4L713 587.9L714 588.4L715 589.4L716 588.7L717 589.8L718 588.2L719 588.2L720 588.2L721 588.7L722 589.9L723 589.6L724 589.3L725 588.3L726 587.6L727 590.1L728 590.4L729 588.9L730 588.6L731 588.9L732 590.0L733 590.0L734 589.4L735 588.7L736 590.1L737 590.9L738 591.0L739 591.4L740 591.1L741 590.4L742 590.3L743 589.6L744 591.8L745 590.9L746 590.1L747 589.9L748 589.4L749 590.4L750 588.7L751 590.6L752 590.4L753 589.5L754 590.6L755 591.1L756 590.9L757 591.5L758 591.2L759 589.4L760 590.0L761 590.1L762 589.5L763 589.2L764 590.0L765 589.0L766 590.1L767 590.4L768 589.8L769 588.7L770 588.7L771 589.5L772 589.1L773 589.2L774 588.9L775 588.9L776 588.3L777 589.1L778 589.5L779 590.1L780 589.7L781 589.4L782 589.6L783 588.4L784 589.1L785 590.3L786 588.2L787 589.9L788 588.4L789 588.7L790 588.9L791 589.1L792 590.2L793 590.9L794 590.2L795 589.3L796 587.7L797 587.4L798 587.0L799 588.3L800 588.5L801 589.0L802 587.4L803 588.5L804 588.6L805 588.6L806 588.6L807 586.8L808 587.0L809 586.6L810 586.1L811 587.5L812 586.9L813 587.6L814 588.4L815 587.2L816 587.3L817 586.5L818 586.1L819 586.8L820 586.7L821 587.1L822 587.6L823 588.0L824 587.5L825 585.4L826 585.9L827 586.6L828 587.5L829 587.8L830 588.2L831 587.9L832 588.0L833 587.0L834 586.0L835 586.6L836 586.4L837 587.1L838 588.4L839 587.7L840 588.9L841 589.0L842 589.9L843 590.0L844 589.4L845 590.7L846 589.7L847 589.8L848 591.8L849 591.4L850 590.4L851 588.9L852 591.8L853 591.3L854 591.5L855 590.9L856 589.6L857 589.1L858 588.7L859 590.3L860 590.1L861 590.7L862 590.7L863 591.1L864 591.3L865 591.7L866 591.8L867 591.6L868 591.4L869 590.9L870 591.7L871 590.9L872 591.7L873 591.7L874 592.2L875 592.3L876 592.1L877 592.4L878 592.0L879 592.3L880 591.5L881 591.8L882 592.4L883 593.4L884 593.8L885 593.4L886 592.3L887 592.8L888 592.6L889 593.2L890 593.0L891 593.2L892 593.6L893 592.5L894 592.4L895 594.3L896 594.8L897 596.0L898 595.0L899 594.1L900 593.7L901 595.0L902 594.0L903 594.3L904 593.4L905 592.3L906 592.9L907 594.0L908 593.4L909 594.7L910 594.7L911 595.1L912 594.5L913 595.5L914 594.9L915 593.6L916 594.0L917 593.4L918 592.8L919 592.8L920 594.5L921 594.4L922 596.1L923 594.7L924 596.5L925 594.6L926 594.9L927 595.8L928 598.3L929 596.7L930 596.7L931 595.3L932 595.0L933 595.6L934 595.7L935 595.3L936 595.0L937 593.4L938 594.2L939 594.2L940 595.0L941 596.1L942 596.3L943 597.5L944 597.5L945 594.7L946 594.5L947 594.4L948 595.0L949 597.2L950 597.8L951 596.0L952 594.9L953 595.6L954 595.5L955 595.4L956 595.8L957 595.5L958 595.6L959 595.4L960 596.0L961 594.9L962 596.7L963 598.0L964 597.4L965 596.8L966 597.0L967 598.0L968 597.9L969 597.3L970 596.4L971 597.1L972 597.8L973 597.0L974 596.1L975 594.8L976 596.8L977 596.3L978 597.0L979 597.2L980 596.9L981 595.9L982 595.4L983 595.9L984 595.2L985 596.2L986 596.1L987 597.6L988 596.9L989 596.7L990 596.6L991 596.7L992 595.8L993 597.0L994 596.5L995 595.0L996 594.8L997 596.8L998 597.0L999 598.6L1000 597.0L1001 595.3L1002 596.3L1003 596.7L1004 597.7L1005 597.1L1006 596.3L1007 596.2L1008 596.2L1009 596.9L1010 597.3L1011 599.0L1012 597.4L1013 598.6L1014 598.0L1015 597.1L1016 595.8L1017 595.0L1018 597.4L1019 598.4L1020 598.8L1021 598.1L1022 598.2L1023 597.4L1024 597.4L1025 596.5L1026 596.1L1027 595.5L1028 595.1L1029 595.0L1030 596.0L1031 595.0L1032 596.4L1033 596.6L1034 597.6L1035 598.0L1036 599.2L1037 598.3L1038 597.6L1039 595.9L1040 597.3L1041 597.6L1042 597.6L1043 596.9L1044 597.1L1045 597.2L1046 597.4L1047 596.3L1048 597.6L1049 597.1L1050 597.0L1051 596.6L1052 596.3L1053 597.3L1054 596.8L1055 596.5L1056 596.7L1057 598.2L1058 597.8L1059 597.8L1060 598.2L1061 598.0L1062 597.7L1063 597.5L1064 596.2L1065 596.6L1066 596.6L1067 596.3L1068 596.4L1069 596.1L1070 596.3L1071 595.5L1072 595.4L1073 593.6L1074 595.3L1075 595.6L1076 595.2L1077 595.4L1078 596.4L1079 595.5L1080 596.3L1081 595.9L1082 597.5L1083 596.0L1084 594.2L1085 594.5L1086 594.0L1087 593.9L1088 595.0L1089 593.8L1090 595.5L1091 594.2L1092 596.0L1093 596.6L1094 596.0L1095 596.1L1096 597.2L1097 595.9L1098 595.4L1099 594.3L1100 595.1L1101 595.9L1102 595.8L1103 595.9L1104 596.2L1105 596.4L1106 597.0L1107 596.1L1108 594.1L1109 594.3L1110 593.2L1111 594.3L1112 596.3L1113 596.2L1114 595.4L1115 594.9L1116 595.4L1117 594.2L1118 594.1L1119 594.4L1120 593.4L1121 593.7L1122 594.1L1123 595.6L1124 595.3L1125 594.9L1126 594.1L1127 594.4L1128 594.0L1129 593.3L1130 595.1L1131 593.3L1132 593.4L1133 594.4L1134 595.3L1135 595.6L1136 593.9L1137 594.7L1138 594.7L1139 596.1L1140 596.4L1141 595.5L1142 596.1L1143 594.5L1144 593.9L1145 595.0L1146 594.8L1147 595.1L1148 594.0L1149 593.4L1150 594.4L1151 593.9L1152 593.8L1153 593.3L1154 593.2L1155 592.3L1156 592.5L1157 592.9L1158 593.7L1159 593.9L1160 594.8L1161 594.5L1162 595.1L1163 596.6L1164 594.0L1165 592.5L1166 591.6L1167 592.2L1168 593.3L1169 593.5L1170 592.8L1171 592.2L1172 593.8L1173 594.0L1174 595.2L1175 594.5L1176 595.4L1177 595.9L1178 596.2L1179 594.6L1180 594.0L1181 592.1L1182 593.3L1183 593.1L1184 594.1L1185 594.8L1186 593.7L1187 594.0L1188 593.5L1189 592.8L1190 593.5L1191 594.5L1192 594.3L1193 594.9L1194 595.0L1195 592.7L1196 591.6L1197 591.1L1198 591.5L1199 591.7L1200 591.0L1201 589.7L1202 588.6L1203 588.2L1204 588.8L1205 589.4L1206 588.3L1207 587.9L1208 587.4L1209 586.8L1210 586.4L1211 586.1L1212 585.7L1213 584.8L1214 583.9L1215 583.0L1216 582.2L1217 581.5L1218 580.9L1219 580.3L1220 579.6L1221 578.7L1222 577.6L1223 576.3L1224 574.7L1225 573.1L1226 571.4L1227 569.6L1228 567.9L1229 566.2L1230 564.5L1231 562.5L1232 559.7L1233 556.0L1234 551.9L1235 546.9L1236 540.2L1237 530.2L1238 514.6L1239 494.5L1240 469.7L1241 437.8L1242 402.7L1243 368.8L1244 334.6L1245 302.2L1246 275.4L1247 252.5L1248 233.4L1249 220.5L1250 213.9L1251 215.2L1252 223.4L1253 237.0L1254 254.7L1255 274.6L1256 296.2L1257 318.8L1258 339.7L1259 357.0L1260 372.1L1261 386.1L1262 399.3L1263 411.5L1264 422.1L1265 432.0L1266 442.5L1267 455.5L1268 471.2L1269 489.1L1270 506.8L1271 522.2L1272 534.4L1273 543.7L1274 551.2L1275 557.7L1276 562.8L1277 567.2L1278 571.1L1279 574.4L1280 577.1L1281 579.7L1282 582.2L1283 584.4L1284 586.1L1285 587.4L1286 588.4L1287 589.5L1288 590.5L1289 591.6L1290 592.6L1291 593.4L1292 594.3L1293 594.8L1294 595.2L1295 595.6L1296 595.9L1297 596.2L1298 596.4L1299 596.5L1300 596.7L1301 597.3L1302 598.0L1303 598.4L1304 598.4L1305 598.2L1306 597.8L1307 597.3L1308 597.0L1309 596.8L1310 596.4L1311 596.0L1312 595.8L1313 595.9L1314 596.1L1315 596.0L1316 595.8L1317 595.5L1318 595.3L1319 595.1L1320 594.8L1321 594.4L1322 594.1L1323 593.8L1324 593.6L1325 593.5L1326 593.4L1327 593.4L1328 593.3L1329 593.0L1330 592.6L1331 592.2L1332 591.8L1333 591.3L1334 590.8L1335 590.3L1336 590.1L1337 589.9L1338 589.7L1339 589.5L1340 589.4L1341 588.9L1342 588.5L1343 588.2L1344 587.5L1345 586.0L1346 584.4L1347 582.9L1348 581.6L1349 580.1L1350 578.6L1351 577.1L1352 575.5L1353 573.8L1354 572.1L1355 570.4L1356 568.5L1357 566.5L1358 564.4L1359 562.5L1360 560.8L1361 559.1L1362 557.4L1363 555.8L1364 554.5L1365 553.8L1366 554.3L1367 555.6L1368 557.4L1369 559.3L1370 561.1L1371 562.9L1372 564.7L1373 566.4L1374 568.1L1375 569.6L1376 570.7L1377 571.0L1378 570.3L1379 569.1L1380 567.8L1381 566.4L1382 564.8L1383 563.2L1384 561.5L1385 559.7L1386 557.9L1387 556.3L1388 555.0L1389 553.9L1390 553.2L1391 553.3L1392 554.1L1393 555.0L1394 555.9L1395 556.8L1396 557.6L1397 558.4L1398 559.5L1399 560.8L1400 562.0L1401 562.7L1402 563.3L1403 563.8L1404 563.7L1405 562.6L1406 561.2L1407 559.8L1408 558.7L1409 557.7L1410 556.9L1411 556.1L1412 555.1L1413 553.8L1414 552.5L1415 551.2L1416 549.8L1417 548.6L1418 547.6L1419 546.3L1420 544.9L1421 543.6L1422 542.5L1423 541.3L1424 540.0L1425 538.4L1426 536.7L1427 534.7L1428 532.2L1429 529.6L1430 527.7L1431 527.1L1432 528.1L1433 530.2L1434 532.5L1435 534.7L1436 537.0L1437 539.6L1438 542.4L1439 545.0L1440 547.0L1441 547.9L1442 547.2L1443 545.0L1444 541.9L1445 538.4L1446 534.6L1447 530.5L1448 526.5L1449 522.6L1450 519.1L1451 516.5L1452 515.5L1453 516.5L1454 518.8L1455 521.5L1456 524.2L1457 526.9L1458 529.5L1459 532.0L1460 534.3L1461 536.4L1462 538.2L1463 539.8L1464 541.5L1465 543.2L1466 544.6L1467 545.5L1468 545.7L1469 544.7L1470 543.0L1471 541.0L1472 538.6L1473 535.9L1474 533.4L1475 531.1L1476 528.3L1477 525.4L1478 522.9L1479 520.3L1480 517.7L1481 515.2L1482 512.8L1483 510.2L1484 507.4L1485 505.0L1486 503.3L1487 502.2L1488 502.1L1489 502.9L1490 504.2L1491 505.5L1492 506.6L1493 507.6L1494 508.6L1495 508.9L1496 507.9L1497 505.4L1498 501.3L1499 495.9L1500 489.7L1501 483.1L1502 476.1L1503 469.1L1504 462.3L1505 455.7L1506 449.3L1507 443.5L1508 438.6L1509 435.3L1510 433.5L1511 432.7L1512 432.4L1513 432.1L1514 431.7L1515 431.2L1516 430.8L1517 430.4L1518 430.0L1519 429.5L1520 429.1L1521 428.6L1522 428.0L1523 427.5L1524 427.3L1525 427.1L1526 426.6L1527 425.4L1528 423.7L1529 421.9L1530 420.1L1531 418.1L1532 415.7L1533 413.5L1534 411.6L1535 409.7L1536 407.6L1537 405.7L1538 404.1L1539 402.5L1540 400.5L1541 398.3L1542 396.1L1543 393.9L1544 391.9L1545 390.3L1546 389.1L1547 388.4L1548 388.5L1549 389.3L1550 390.2L1551 391.3L1552 392.7L1553 394.1L1554 395.2L1555 396.2L1556 397.5L1557 399.3L1558 401.8L1559 405.2L1560 409.6L1561 414.8L1562 420.5L1563 426.2L1564 431.7L1565 437.3L1566 442.9L1567 448.5L1568 454.3L1569 460.2L1570 466.3L1571 472.3L1572 477.9L1573 483.0L1574 487.3L1575 491.0L1576 494.1L1577 497.0L1578 499.7L1579 502.5L1580 505.5L1581 508.3L1582 511.0L1583 514.0L1584 517.1L1585 519.9L1586 522.6L1587 525.7L1588 528.8L1589 531.7L1590 534.2L1591 536.7L1592 539.1L1593 540.8L1594 541.6L1595 541.4L1596 540.9L1597 539.9L1598 538.9L1599 537.8L1600 536.6L1601 535.5L1602 534.6L1603 533.7L1604 532.6L1605 531.5L1606 530.5L1607 529.7L1608 528.8L1609 527.7L1610 527.2L1611 527.2L1612 527.7L1613 528.6L1614 529.4L1615 530.1L1616 530.6L1617 531.1L1618 531.6L1619 532.1L1620 532.6L1621 533.3L1622 533.9L1623 534.3L1624 534.8L1625 535.5L1626 536.3L1627 537.1L1628 537.9L1629 538.4L1630 539.0L1631 539.9L1632 540.9L1633 541.7L1634 542.4L1635 543.1L1636 544.0L1637 545.0L1638 545.8L1639 546.6L1640 547.6L1641 548.6L1642 549.6L1643 550.9L1644 552.3L1645 554.1L1646 556.1L1647 558.5L1648 560.7L1649 562.9L1650 565.1L1651 567.4L1652 569.7L1653 571.8L1654 573.8L1655 575.5L1656 576.7L1657 577.5L1658 577.8L1659 578.2L1660 578.5L1661 578.6L1662 578.8L1663 579.2L1664 579.6L1665 580.1L1666 580.4L1667 580.6L1668 580.8L1669 581.2L1670 581.4L1671 581.7L1672 582.3L1673 583.0L1674 583.4L1675 583.5L1676 583.6L1677 584.1L1678 584.9L1679 585.7L1680 586.4L1681 587.3L1682 588.5L1683 589.5L1684 590.3L1685 591.2L1686 592.5L1687 593.8L1688 594.9L1689 595.6L1690 595.9L1691 596.4L1692 596.8L1693 596.4L1694 595.8L1695 595.6L1696 595.6L1697 593.7L1698 591.9L1699 591.7L1700 591.8L1701 591.1L1702 590.7L1703 591.0L1704 591.0L1705 590.7L1706 590.3L1707 591.1L1708 591.4L1709 591.2L1710 590.6L1711 591.0L1712 592.3L1713 594.6L1714 595.9L1715 596.1L1716 596.3L1717 597.0L1718 596.7L1719 596.9L1720 597.9L1721 599.3L1722 599.4L1723 598.8L1724 598.8L1725 599.0L1726 598.2L1727 596.2L1728 594.4L1729 592.9L1730 592.4L1731 593.6L1732 595.3L1733 595.8L1734 595.4L1735 595.1L1736 595.3L1737 596.4L1738 598.6L1739 602.3L1740 606.1" fill="none" stroke="#7e7e7e" stroke-width="6.9" stroke-linejoin="round" stroke-linecap="butt"/>
<path d="M277 392.6L278 393.2L279 391.2L280 390.6L281 390.5L282 389.6L283 390.0L284 389.4L285 391.6L286 391.4L287 390.9L288 389.9L289 390.2L290 391.4L291 392.2L292 390.1L293 390.6L294 390.7L295 390.2L296 389.1L297 388.0L298 389.3L299 390.2L300 390.3L301 388.8L302 388.9L303 389.7L304 389.0L305 388.9L306 388.8L307 387.3L308 387.7L309 388.3L310 388.2L311 386.3L312 387.4L313 386.0L314 386.3L315 384.6L316 386.8L317 386.2L318 385.5L319 386.5L320 385.7L321 386.3L322 386.9L323 387.2L324 387.0L325 385.0L326 383.2L327 381.8L328 383.0L329 384.0L330 384.1L331 384.3L332 385.9L333 385.6L334 384.2L335 383.7L336 383.2L337 382.3L338 382.1L339 382.5L340 381.5L341 381.9L342 383.2L343 382.1L344 383.1L345 381.2L346 381.3L347 381.3L348 384.4L349 381.8L350 382.6L351 380.2L352 380.0L353 381.1L354 380.7L355 379.9L356 379.5L357 379.3L358 378.9L359 378.9L360 379.4L361 378.6L362 379.1L363 380.6L364 379.1L365 378.6L366 378.1L367 377.7L368 378.9L369 379.4L370 378.2L371 378.7L372 377.7L373 378.0L374 377.3L375 376.5L376 376.3L377 376.2L378 377.1L379 378.0L380 377.0L381 377.4L382 377.3L383 378.3L384 379.4L385 378.4L386 378.7L387 378.4L388 377.1L389 376.9L390 377.7L391 379.5L392 377.4L393 379.1L394 377.6L395 379.0L396 378.9L397 379.3L398 380.6L399 380.4L400 380.5L401 379.5L402 379.1L403 380.7L404 381.6L405 381.7L406 381.7L407 381.8L408 381.9L409 382.2L410 382.7L411 382.8L412 383.3L413 384.5L414 384.4L415 385.4L416 386.4L417 386.1L418 385.4L419 384.6L420 384.4L421 383.5L422 384.3L423 386.0L424 387.1L425 387.3L426 387.1L427 386.4L428 388.2L429 387.0L430 388.5L431 389.5L432 390.3L433 390.4L434 388.9L435 389.2L436 387.5L437 389.0L438 388.4L439 388.3L440 388.9L441 388.4L442 390.3L443 389.4L444 390.4L445 390.5L446 389.7L447 390.1L448 390.4L449 390.9L450 391.0L451 390.7L452 391.6L453 392.5L454 391.0L455 391.3L456 391.5L457 391.8L458 391.6L459 390.5L460 392.1L461 391.4L462 391.6L463 391.8L464 391.7L465 392.8L466 391.0L467 390.8L468 389.7L469 389.8L470 390.8L471 390.5L472 391.3L473 390.3L474 391.3L475 390.2L476 392.1L477 393.2L478 392.5L479 392.4L480 391.6L481 391.1L482 390.6L483 390.4L484 390.7L485 391.2L486 391.8L487 391.9L488 391.4L489 391.9L490 389.1L491 389.4L492 389.9L493 389.3L494 387.7L495 387.3L496 387.5L497 388.9L498 387.7L499 387.9L500 388.5L501 388.0L502 388.0L503 389.2L504 388.9L505 387.7L506 390.0L507 388.7L508 388.7L509 388.7L510 389.6L511 389.1L512 389.3L513 388.0L514 389.5L515 390.0L516 389.3L517 388.3L518 388.0L519 387.8L520 388.0L521 388.6L522 390.0L523 388.6L524 388.4L525 387.6L526 387.7L527 388.3L528 389.6L529 389.2L530 389.5L531 388.4L532 388.8L533 387.7L534 388.6L535 389.6L536 389.0L537 388.5L538 388.6L539 391.1L540 390.6L541 389.1L542 387.7L543 387.0L544 388.9L545 389.4L546 390.3L547 388.7L548 388.9L549 389.7L550 390.2L551 389.5L552 388.6L553 389.0L554 388.8L555 389.7L556 389.0L557 386.6L558 386.6L559 385.6L560 386.6L561 387.9L562 388.4L563 389.6L564 389.2L565 389.4L566 388.9L567 389.5L568 388.6L569 388.4L570 387.1L571 386.2L572 386.5L573 387.4L574 386.4L575 387.0L576 386.7L577 385.1L578 385.1L579 384.8L580 385.5L581 385.7L582 383.7L583 382.8L584 381.8L585 380.8L586 378.9L587 380.1L588 379.5L589 377.5L590 377.6L591 376.6L592 374.8L593 374.8L594 371.2L595 369.8L596 367.4L597 365.1L598 362.2L599 361.2L600 360.6L601 358.4L602 356.2L603 354.4L604 351.4L605 349.7L606 348.5L607 348.0L608 347.9L609 346.7L610 345.7L611 345.4L612 343.9L613 345.1L614 343.5L615 344.3L616 344.9L617 344.3L618 343.0L619 343.0L620 343.1L621 342.9L622 341.2L623 341.7L624 342.0L625 340.5L626 340.4L627 340.1L628 340.0L629 340.2L630 338.3L631 338.7L632 338.8L633 339.6L634 339.1L635 338.6L636 337.6L637 339.1L638 340.4L639 339.9L640 338.8L641 339.1L642 338.0L643 339.1L644 339.8L645 340.3L646 341.9L647 341.5L648 342.4L649 340.2L650 340.0L651 341.2L652 341.5L653 342.2L654 344.1L655 342.7L656 342.1L657 341.2L658 340.6L659 341.1L660 342.3L661 344.6L662 347.1L663 349.2L664 352.0L665 352.9L666 353.4L667 356.4L668 358.3L669 360.7L670 362.5L671 364.4L672 367.2L673 369.7L674 371.5L675 372.6L676 374.6L677 376.3L678 377.4L679 377.2L680 377.4L681 379.1L682 381.0L683 380.8L684 379.2L685 381.3L686 383.5L687 382.6L688 382.7L689 384.1L690 384.3L691 385.0L692 385.7L693 385.8L694 385.5L695 386.0L696 385.8L697 385.7L698 386.1L699 386.2L700 385.6L701 386.3L702 385.9L703 386.5L704 387.4L705 387.1L706 386.8L707 387.1L708 385.9L709 385.3L710 386.6L711 386.9L712 386.0L713 385.7L714 385.7L715 386.0L716 386.7L717 386.5L718 386.3L719 387.3L720 388.2L721 390.1L722 388.7L723 388.8L724 386.5L725 387.1L726 386.2L727 387.0L728 387.1L729 387.1L730 386.7L731 387.3L732 387.3L733 387.8L734 388.7L735 388.9L736 389.6L737 389.9L738 389.5L739 391.2L740 389.8L741 388.4L742 387.1L743 387.2L744 387.7L745 387.4L746 387.9L747 389.6L748 387.9L749 390.4L750 388.8L751 388.1L752 388.8L753 388.1L754 388.3L755 388.6L756 390.0L757 389.2L758 389.5L759 388.8L760 389.2L761 390.0L762 389.6L763 389.4L764 389.8L765 388.9L766 388.7L767 390.2L768 389.7L769 389.6L770 388.9L771 389.7L772 391.0L773 389.8L774 390.0L775 389.8L776 388.5L777 389.3L778 390.8L779 389.1L780 389.0L781 387.3L782 387.4L783 388.4L784 388.4L785 389.5L786 391.2L787 390.5L788 390.4L789 388.0L790 388.2L791 389.2L792 388.7L793 390.6L794 390.7L795 390.0L796 388.9L797 389.2L798 389.5L799 388.2L800 389.3L801 387.8L802 389.5L803 389.5L804 392.0L805 391.5L806 390.0L807 389.2L808 390.9L809 390.9L810 391.8L811 391.2L812 391.3L813 389.6L814 390.4L815 390.2L816 390.0L817 390.1L818 390.8L819 390.0L820 390.3L821 388.7L822 389.2L823 389.0L824 389.0L825 389.6L826 389.9L827 389.7L828 389.5L829 390.0L830 390.0L831 389.8L832 390.5L833 391.1L834 389.9L835 389.6L836 390.2L837 390.7L838 389.7L839 390.1L840 390.0L841 389.7L842 389.8L843 389.2L844 389.8L845 390.0L846 389.6L847 388.2L848 389.3L849 390.5L850 389.7L851 389.2L852 387.7L853 388.1L854 389.7L855 390.5L856 389.8L857 388.6L858 390.5L859 390.8L860 389.2L861 389.6L862 390.1L863 391.1L864 389.5L865 388.8L866 389.5L867 388.6L868 389.3L869 389.2L870 390.5L871 390.2L872 391.2L873 389.6L874 389.6L875 390.6L876 390.4L877 389.8L878 390.8L879 389.7L880 389.5L881 389.9L882 389.1L883 389.3L884 388.6L885 389.9L886 388.6L887 389.8L888 390.7L889 392.5L890 391.4L891 391.1L892 389.8L893 388.7L894 390.3L895 390.5L896 389.7L897 389.5L898 389.3L899 390.8L900 391.3L901 389.8L902 390.4L903 389.2L904 388.4L905 389.6L906 389.9L907 389.3L908 389.9L909 389.6L910 390.1L911 389.9L912 389.5L913 388.5L914 389.3L915 390.7L916 390.4L917 390.5L918 390.7L919 388.2L920 389.6L921 390.6L922 390.0L923 389.6L924 390.2L925 389.4L926 389.6L927 389.0L928 389.3L929 389.5L930 390.9L931 390.1L932 390.1L933 390.6L934 389.7L935 389.3L936 390.3L937 392.1L938 392.3L939 391.6L940 390.4L941 388.2L942 389.4L943 388.9L944 390.4L945 390.8L946 390.3L947 390.9L948 390.1L949 390.1L950 391.4L951 390.8L952 390.4L953 391.9L954 391.2L955 392.9L956 390.4L957 391.5L958 390.4L959 389.4L960 389.9L961 391.5L962 390.6L963 389.8L964 391.6L965 393.0L966 392.7L967 392.0L968 391.2L969 391.2L970 390.7L971 390.1L972 389.8L973 391.2L974 390.5L975 391.3L976 390.9L977 389.6L978 389.8L979 389.7L980 390.9L981 390.7L982 392.3L983 391.2L984 389.9L985 389.8L986 390.1L987 391.0L988 390.7L989 392.6L990 390.8L991 387.2L992 388.4L993 388.8L994 388.4L995 389.1L996 389.0L997 389.0L998 387.9L999 388.9L1000 387.6L1001 388.5L1002 389.7L1003 389.2L1004 390.2L1005 389.3L1006 389.0L1007 388.5L1008 390.3L1009 390.7L1010 389.8L1011 388.0L1012 388.2L1013 388.0L1014 388.2L1015 388.9L1016 389.7L1017 389.2L1018 390.4L1019 388.1L1020 389.0L1021 387.8L1022 388.3L1023 389.2L1024 389.4L1025 389.4L1026 389.6L1027 389.4L1028 387.0L1029 387.1L1030 387.8L1031 388.0L1032 387.7L1033 387.3L1034 387.2L1035 388.1L1036 387.9L1037 387.4L1038 387.1L1039 389.1L1040 388.5L1041 389.5L1042 388.4L1043 388.1L1044 388.0L1045 387.8L1046 387.6L1047 388.2L1048 389.0L1049 389.0L1050 387.8L1051 388.9L1052 389.0L1053 389.2L1054 388.8L1055 388.0L1056 387.3L1057 387.4L1058 386.3L1059 386.5L1060 387.8L1061 388.0L1062 389.1L1063 389.2L1064 387.4L1065 387.0L1066 384.2L1067 385.3L1068 386.8L1069 386.8L1070 386.9L1071 386.2L1072 386.6L1073 386.2L1074 385.7L1075 386.1L1076 387.0L1077 387.9L1078 387.6L1079 387.3L1080 387.9L1081 385.7L1082 385.1L1083 386.3L1084 387.3L1085 387.2L1086 387.9L1087 387.4L1088 387.8L1089 387.0L1090 386.2L1091 385.9L1092 386.2L1093 385.9L1094 387.3L1095 387.0L1096 388.1L1097 387.2L1098 387.0L1099 385.1L1100 386.8L1101 387.1L1102 386.7L1103 386.0L1104 387.4L1105 387.7L1106 386.9L1107 387.3L1108 386.7L1109 385.9L1110 385.9L1111 386.6L1112 386.1L1113 385.4L1114 385.7L1115 387.9L1116 386.9L1117 386.6L1118 385.8L1119 387.1L1120 386.6L1121 387.3L1122 387.0L1123 386.6L1124 386.3L1125 386.6L1126 387.8L1127 387.3L1128 387.8L1129 384.9L1130 386.0L1131 386.0L1132 385.9L1133 386.8L1134 387.7L1135 385.9L1136 385.5L1137 384.8L1138 385.4L1139 387.0L1140 386.4L1141 386.1L1142 386.6L1143 386.0L1144 386.4L1145 388.1L1146 387.4L1147 387.2L1148 386.7L1149 386.4L1150 386.3L1151 385.0L1152 385.2L1153 385.9L1154 387.1L1155 386.2L1156 384.9L1157 385.4L1158 385.9L1159 387.2L1160 386.1L1161 386.2L1162 385.7L1163 386.2L1164 386.1L1165 385.6L1166 386.6L1167 385.5L1168 385.7L1169 385.8L1170 386.9L1171 387.4L1172 386.8L1173 386.7L1174 387.8L1175 386.5L1176 386.4L1177 386.0L1178 385.7L1179 385.2L1180 386.4L1181 385.5L1182 385.4L1183 385.4L1184 386.9L1185 386.7L1186 388.1L1187 385.8L1188 386.0L1189 385.4L1190 385.2L1191 385.2L1192 384.1L1193 384.8L1194 384.0L1195 385.2L1196 384.2L1197 384.0L1198 382.8L1199 382.8L1200 383.5L1201 382.7L1202 381.9L1203 382.3L1204 382.8L1205 381.7L1206 381.0L1207 380.6L1208 380.5L1209 380.2L1210 379.9L1211 379.5L1212 379.0L1213 378.4L1214 377.8L1215 377.3L1216 376.9L1217 376.3L1218 375.7L1219 375.0L1220 374.6L1221 374.2L1222 373.6L1223 372.5L1224 371.2L1225 370.0L1226 368.8L1227 367.6L1228 366.3L1229 365.2L1230 363.9L1231 362.3L1232 360.2L1233 357.7L1234 354.9L1235 351.6L1236 346.9L1237 339.9L1238 328.9L1239 314.8L1240 297.5L1241 275.0L1242 250.2L1243 226.3L1244 202.3L1245 179.5L1246 160.7L1247 144.6L1248 131.1L1249 122.1L1250 117.6L1251 118.4L1252 124.1L1253 133.5L1254 145.9L1255 159.8L1256 175.0L1257 191.0L1258 205.7L1259 217.8L1260 228.4L1261 238.2L1262 247.4L1263 256.0L1264 263.5L1265 270.2L1266 277.5L1267 286.7L1268 297.8L1269 310.4L1270 322.8L1271 333.4L1272 342.0L1273 348.6L1274 354.0L1275 358.6L1276 362.2L1277 365.3L1278 368.0L1279 370.3L1280 372.1L1281 373.7L1282 375.4L1283 376.9L1284 378.0L1285 378.8L1286 379.6L1287 380.3L1288 381.0L1289 381.6L1290 382.3L1291 382.9L1292 383.4L1293 383.6L1294 383.9L1295 384.4L1296 385.0L1297 385.3L1298 385.3L1299 385.3L1300 385.6L1301 386.0L1302 386.2L1303 386.1L1304 386.0L1305 385.9L1306 385.5L1307 384.9L1308 384.5L1309 384.1L1310 383.7L1311 383.3L1312 383.0L1313 382.6L1314 382.2L1315 382.0L1316 381.8L1317 381.6L1318 381.6L1319 381.6L1320 381.7L1321 381.4L1322 381.1L1323 380.7L1324 380.4L1325 380.2L1326 380.2L1327 380.3L1328 380.5L1329 380.5L1330 380.7L1331 380.9L1332 381.1L1333 381.4L1334 381.7L1335 381.9L1336 382.2L1337 382.2L1338 382.0L1339 382.0L1340 382.4L1341 382.6L1342 382.7L1343 382.4L1344 382.0L1345 381.2L1346 380.1L1347 378.9L1348 378.1L1349 377.4L1350 376.7L1351 375.7L1352 374.7L1353 373.7L1354 372.8L1355 372.1L1356 371.3L1357 370.5L1358 369.7L1359 368.9L1360 367.9L1361 367.0L1362 366.6L1363 366.6L1364 366.8L1365 367.3L1366 368.2L1367 369.3L1368 370.4L1369 371.9L1370 373.5L1371 375.0L1372 376.3L1373 377.5L1374 378.3L1375 378.3L1376 377.6L1377 376.4L1378 374.7L1379 372.9L1380 371.4L1381 370.1L1382 368.6L1383 366.9L1384 365.1L1385 363.3L1386 361.6L1387 360.0L1388 358.6L1389 357.4L1390 356.6L1391 356.4L1392 356.8L1393 357.5L1394 358.2L1395 359.0L1396 359.8L1397 360.2L1398 360.6L1399 361.3L1400 362.3L1401 363.0L1402 363.5L1403 364.2L1404 365.0L1405 365.7L1406 366.0L1407 365.9L1408 365.5L1409 365.0L1410 364.4L1411 363.5L1412 362.7L1413 361.9L1414 361.1L1415 360.7L1416 360.3L1417 359.8L1418 359.3L1419 358.8L1420 358.2L1421 357.5L1422 356.6L1423 355.6L1424 354.8L1425 354.1L1426 353.2L1427 351.8L1428 349.9L1429 347.6L1430 346.2L1431 345.8L1432 346.4L1433 347.3L1434 348.3L1435 349.7L1436 351.4L1437 353.0L1438 354.4L1439 355.8L1440 356.7L1441 357.0L1442 356.5L1443 355.0L1444 352.7L1445 350.1L1446 347.3L1447 344.2L1448 341.2L1449 338.3L1450 335.9L1451 334.1L1452 333.4L1453 333.8L1454 335.1L1455 336.9L1456 338.8L1457 340.8L1458 342.6L1459 344.4L1460 345.9L1461 347.3L1462 348.8L1463 350.5L1464 351.9L1465 353.0L1466 354.1L1467 355.4L1468 356.1L1469 355.7L1470 354.3L1471 352.5L1472 350.4L1473 348.2L1474 345.9L1475 343.6L1476 341.2L1477 338.9L1478 336.7L1479 334.5L1480 332.3L1481 330.3L1482 328.6L1483 327.3L1484 326.6L1485 326.4L1486 326.9L1487 327.7L1488 328.4L1489 329.0L1490 329.6L1491 330.3L1492 331.1L1493 331.4L1494 331.1L1495 329.9L1496 327.3L1497 323.6L1498 319.5L1499 315.3L1500 310.9L1501 306.4L1502 301.7L1503 297.0L1504 292.3L1505 288.2L1506 285.0L1507 283.0L1508 282.1L1509 282.2L1510 283.1L1511 284.2L1512 285.1L1513 285.7L1514 286.3L1515 287.1L1516 288.0L1517 289.0L1518 289.7L1519 289.9L1520 289.7L1521 288.9L1522 287.1L1523 284.7L1524 282.3L1525 280.1L1526 278.1L1527 275.9L1528 273.7L1529 272.0L1530 270.6L1531 269.4L1532 268.0L1533 266.1L1534 264.2L1535 262.9L1536 262.1L1537 260.9L1538 259.1L1539 257.2L1540 255.3L1541 253.8L1542 252.3L1543 250.7L1544 249.1L1545 247.6L1546 246.2L1547 245.0L1548 243.7L1549 242.3L1550 240.8L1551 239.5L1552 238.2L1553 236.9L1554 235.6L1555 234.7L1556 234.1L1557 234.1L1558 234.7L1559 235.9L1560 237.4L1561 239.5L1562 241.8L1563 243.8L1564 245.5L1565 247.3L1566 249.5L1567 252.4L1568 255.7L1569 259.3L1570 262.6L1571 265.4L1572 267.1L1573 267.5L1574 266.8L1575 265.8L1576 264.9L1577 264.0L1578 263.2L1579 262.9L1580 263.3L1581 264.5L1582 266.6L1583 269.5L1584 272.9L1585 276.3L1586 279.6L1587 282.9L1588 286.7L1589 291.2L1590 296.1L1591 301.4L1592 306.8L1593 312.1L1594 316.6L1595 320.2L1596 322.6L1597 323.8L1598 324.3L1599 324.7L1600 325.2L1601 325.5L1602 325.7L1603 325.9L1604 326.3L1605 326.6L1606 326.9L1607 327.2L1608 327.6L1609 328.2L1610 328.9L1611 329.3L1612 329.7L1613 330.5L1614 331.8L1615 332.9L1616 333.6L1617 334.2L1618 335.1L1619 336.1L1620 337.1L1621 338.2L1622 339.1L1623 340.0L1624 340.9L1625 341.9L1626 343.0L1627 343.7L1628 344.3L1629 345.0L1630 345.8L1631 346.6L1632 347.3L1633 348.2L1634 348.9L1635 349.5L1636 350.4L1637 351.2L1638 351.8L1639 352.1L1640 352.6L1641 353.1L1642 353.6L1643 354.4L1644 355.6L1645 357.0L1646 358.6L1647 360.1L1648 361.4L1649 362.6L1650 363.8L1651 365.0L1652 366.1L1653 367.3L1654 368.3L1655 369.0L1656 369.1L1657 368.6L1658 367.9L1659 367.1L1660 366.4L1661 365.5L1662 364.8L1663 364.5L1664 364.6L1665 364.9L1666 365.6L1667 366.3L1668 366.9L1669 367.4L1670 368.0L1671 368.9L1672 369.7L1673 370.4L1674 371.3L1675 372.1L1676 372.8L1677 373.4L1678 374.3L1679 375.4L1680 376.6L1681 377.3L1682 378.1L1683 379.0L1684 380.2L1685 381.4L1686 382.6L1687 383.7L1688 384.6L1689 385.4L1690 385.8L1691 386.3L1692 385.7L1693 384.6L1694 384.1L1695 383.9L1696 383.6L1697 383.1L1698 383.0L1699 382.9L1700 382.2L1701 381.3L1702 380.0L1703 378.5L1704 377.4L1705 377.3L1706 377.7L1707 378.0L1708 378.7L1709 380.2L1710 381.7L1711 382.0L1712 380.8L1713 379.1L1714 378.0L1715 378.0L1716 378.9L1717 380.9L1718 382.2L1719 382.3L1720 381.9L1721 382.4L1722 383.1L1723 383.1L1724 382.6L1725 382.5L1726 382.5L1727 381.6L1728 379.6L1729 378.2L1730 378.4L1731 378.4L1732 378.6L1733 380.0L1734 381.7L1735 382.2L1736 382.4L1737 382.3L1738 382.6L1739 384.0L1740 385.9" fill="none" stroke="#7e7e7e" stroke-width="6.9" stroke-linejoin="round" stroke-linecap="butt"/>
<path d="M277 981.2L278 972.5L279 973.6L280 973.9L281 970.0L282 968.2L283 968.3L284 969.6L285 971.9L286 973.4L287 972.0L288 973.9L289 973.7L290 970.2L291 971.4L292 970.7L293 976.9L294 977.1L295 977.2L296 975.5L297 967.8L298 971.5L299 967.8L300 973.1L301 966.4L302 966.6L303 968.8L304 970.8L305 978.4L306 976.0L307 970.2L308 963.6L309 962.5L310 964.9L311 966.4L312 964.8L313 966.4L314 965.2L315 968.0L316 972.5L317 970.8L318 969.3L319 968.2L320 967.9L321 966.9L322 970.6L323 968.2L324 966.7L325 970.5L326 971.8L327 973.8L328 974.6L329 969.9L330 967.4L331 964.4L332 965.2L333 967.8L334 962.0L335 962.5L336 964.3L337 964.3L338 959.4L339 961.1L340 960.8L341 963.1L342 964.9L343 962.7L344 967.6L345 975.1L346 970.9L347 973.5L348 961.4L349 968.0L350 974.5L351 971.5L352 966.3L353 973.3L354 974.7L355 976.0L356 977.3L357 981.0L358 974.9L359 982.5L360 975.2L361 981.9L362 986.6L363 980.2L364 981.0L365 978.2L366 977.5L367 977.0L368 975.8L369 978.9L370 973.0L371 978.6L372 976.1L373 973.6L374 972.0L375 981.2L376 975.1L377 977.3L378 978.5L379 977.5L380 981.6L381 978.7L382 983.3L383 980.9L384 988.5L385 989.0L386 986.3L387 986.3L388 985.5L389 982.6L390 981.5L391 980.6L392 977.6L393 981.1L394 987.1L395 983.1L396 984.0L397 976.2L398 979.6L399 973.1L400 981.7L401 974.6L402 980.3L403 977.9L404 976.8L405 975.9L406 978.3L407 972.8L408 975.5L409 973.0L410 971.2L411 979.8L412 980.4L413 976.7L414 975.9L415 973.8L416 968.5L417 974.0L418 972.5L419 971.8L420 969.3L421 969.5L422 967.7L423 969.0L424 969.2L425 970.0L426 971.1L427 969.7L428 969.1L429 969.1L430 968.4L431 969.7L432 973.6L433 969.7L434 968.1L435 966.4L436 969.0L437 969.0L438 961.0L439 957.5L440 956.2L441 955.4L442 958.0L443 960.0L444 962.2L445 973.3L446 961.8L447 959.7L448 960.5L449 954.2L450 952.6L451 953.3L452 957.1L453 959.3L454 954.5L455 955.7L456 949.8L457 949.0L458 954.7L459 957.3L460 956.3L461 948.5L462 950.9L463 955.2L464 954.2L465 953.9L466 952.2L467 954.2L468 948.9L469 947.7L470 954.1L471 951.2L472 954.7L473 955.7L474 952.4L475 946.8L476 948.8L477 951.1L478 947.3L479 943.4L480 946.0L481 946.0L482 946.2L483 951.0L484 945.2L485 947.4L486 946.0L487 945.6L488 948.3L489 952.0L490 946.7L491 947.0L492 950.6L493 944.8L494 946.9L495 944.6L496 944.6L497 948.4L498 943.2L499 944.3L500 936.9L501 942.3L502 945.8L503 947.1L504 948.3L505 940.2L506 940.5L507 941.7L508 939.8L509 943.1L510 940.7L511 938.2L512 938.4L513 943.4L514 938.8L515 937.7L516 946.3L517 945.2L518 940.7L519 941.4L520 939.3L521 945.9L522 943.8L523 942.4L524 940.1L525 939.0L526 936.8L527 934.2L528 930.7L529 934.7L530 939.7L531 945.1L532 943.3L533 941.0L534 939.1L535 941.8L536 940.3L537 940.7L538 934.1L539 936.5L540 942.0L541 942.9L542 945.1L543 939.9L544 943.0L545 937.3L546 939.4L547 937.1L548 942.1L549 941.1L550 941.7L551 941.1L552 937.3L553 935.4L554 939.6L555 936.2L556 937.5L557 944.4L558 940.8L559 941.2L560 938.9L561 936.6L562 933.1L563 935.2L564 940.2L565 937.8L566 931.3L567 930.0L568 935.0L569 932.8L570 933.4L571 937.2L572 938.0L573 933.2L574 928.8L575 929.9L576 931.7L577 931.8L578 934.9L579 933.8L580 927.5L581 926.9L582 927.2L583 926.6L584 924.8L585 923.8L586 928.1L587 922.8L588 923.0L589 927.9L590 918.2L591 918.3L592 917.5L593 917.2L594 918.2L595 919.0L596 908.4L597 913.5L598 915.7L599 911.2L600 913.3L601 907.3L602 906.0L603 900.5L604 901.9L605 907.8L606 903.2L607 895.5L608 896.8L609 894.4L610 892.0L611 889.9L612 898.2L613 903.9L614 911.6L615 916.0L616 912.0L617 911.7L618 909.9L619 910.0L620 911.7L621 912.9L622 911.5L623 911.0L624 913.8L625 913.3L626 912.3L627 914.5L628 914.4L629 914.7L630 917.8L631 915.3L632 912.4L633 907.9L634 913.4L635 914.2L636 913.4L637 912.5L638 913.4L639 909.5L640 911.8L641 909.7L642 908.3L643 907.2L644 909.5L645 909.2L646 912.8L647 917.7L648 917.1L649 916.6L650 917.5L651 917.4L652 921.6L653 923.8L654 922.4L655 916.3L656 918.3L657 920.3L658 921.5L659 924.2L660 923.2L661 923.1L662 922.8L663 922.5L664 923.6L665 924.0L666 923.9L667 923.3L668 922.6L669 924.0L670 923.7L671 925.9L672 925.4L673 925.7L674 927.3L675 928.6L676 928.6L677 931.7L678 933.1L679 931.6L680 933.3L681 932.3L682 933.5L683 933.1L684 934.6L685 936.4L686 937.0L687 933.9L688 934.5L689 935.8L690 935.3L691 934.4L692 931.2L693 932.3L694 934.4L695 933.9L696 935.3L697 937.4L698 936.9L699 937.0L700 940.2L701 942.6L702 942.0L703 945.4L704 941.4L705 943.9L706 945.4L707 950.3L708 946.9L709 947.1L710 946.3L711 951.2L712 952.7L713 950.2L714 951.1L715 949.7L716 949.1L717 950.0L718 950.9L719 952.4L720 949.5L721 951.6L722 953.5L723 953.7L724 955.4L725 954.6L726 959.3L727 959.6L728 960.0L729 958.4L730 956.8L731 958.0L732 961.3L733 959.1L734 962.2L735 963.1L736 964.4L737 964.6L738 965.1L739 963.3L740 963.2L741 963.5L742 961.6L743 963.0L744 962.1L745 962.7L746 960.9L747 963.2L748 964.5L749 966.8L750 965.8L751 966.5L752 966.3L753 965.2L754 965.2L755 964.4L756 965.7L757 967.0L758 968.8L759 971.0L760 972.4L761 969.0L762 966.9L763 964.9L764 967.3L765 967.7L766 967.7L767 969.1L768 965.9L769 968.3L770 966.6L771 965.5L772 966.1L773 964.5L774 962.4L775 962.7L776 965.8L777 965.0L778 966.5L779 968.7L780 970.4L781 969.0L782 968.7L783 967.6L784 966.4L785 965.1L786 967.0L787 968.2L788 968.6L789 968.2L790 967.7L791 969.3L792 968.7L793 970.2L794 968.0L795 969.9L796 966.8L797 968.2L798 968.3L799 970.9L800 967.1L801 966.9L802 969.0L803 970.8L804 970.9L805 970.0L806 970.7L807 970.6L808 972.2L809 970.9L810 970.9L811 974.6L812 978.4L813 977.6L814 977.3L815 975.9L816 974.2L817 977.4L818 978.6L819 977.3L820 979.3L821 976.3L822 977.8L823 978.7L824 980.5L825 980.1L826 979.0L827 978.6L828 980.2L829 978.0L830 974.7L831 976.3L832 976.7L833 979.1L834 979.4L835 978.7L836 978.9L837 974.1L838 974.4L839 974.2L840 975.1L841 977.9L842 976.1L843 973.3L844 973.7L845 977.7L846 976.8L847 973.5L848 977.5L849 979.5L850 980.5L851 978.2L852 972.3L853 972.0L854 972.6L855 976.1L856 979.2L857 975.6L858 975.1L859 974.0L860 973.6L861 975.9L862 974.2L863 975.6L864 978.8L865 980.0L866 978.7L867 979.5L868 978.4L869 973.3L870 973.4L871 974.1L872 976.6L873 976.6L874 978.0L875 979.2L876 977.0L877 975.0L878 974.9L879 977.2L880 978.9L881 977.2L882 978.8L883 974.9L884 975.5L885 974.9L886 976.4L887 976.3L888 977.5L889 979.7L890 979.7L891 981.2L892 979.1L893 980.3L894 985.9L895 984.7L896 980.9L897 978.9L898 982.2L899 981.6L900 981.5L901 979.6L902 979.5L903 977.4L904 979.5L905 980.1L906 984.7L907 982.8L908 982.8L909 980.1L910 978.5L911 983.4L912 984.6L913 981.9L914 980.5L915 983.0L916 979.9L917 981.9L918 981.0L919 981.0L920 980.2L921 979.0L922 978.2L923 977.7L924 979.5L925 979.6L926 981.2L927 982.7L928 981.2L929 978.4L930 979.2L931 978.6L932 978.6L933 977.9L934 976.9L935 976.3L936 975.4L937 974.7L938 975.7L939 977.0L940 977.3L941 978.3L942 978.1L943 978.1L944 977.1L945 976.9L946 975.4L947 976.1L948 971.8L949 971.3L950 973.5L951 976.8L952 979.8L953 980.8L954 978.2L955 977.7L956 979.0L957 977.9L958 979.2L959 976.0L960 972.2L961 970.9L962 974.1L963 977.2L964 975.8L965 976.1L966 976.4L967 976.8L968 973.9L969 971.5L970 970.9L971 973.6L972 974.1L973 975.5L974 978.2L975 975.6L976 974.3L977 974.7L978 971.7L979 974.7L980 976.1L981 979.4L982 982.6L983 977.2L984 975.9L985 975.7L986 979.3L987 978.5L988 976.2L989 973.3L990 975.1L991 977.3L992 980.3L993 977.4L994 978.6L995 978.9L996 977.9L997 977.8L998 977.2L999 975.5L1000 976.4L1001 977.5L1002 975.8L1003 977.7L1004 976.2L1005 975.9L1006 974.3L1007 975.7L1008 977.5L1009 978.5L1010 977.8L1011 978.9L1012 978.4L1013 979.7L1014 978.1L1015 976.5L1016 977.1L1017 976.6L1018 973.4L1019 975.1L1020 976.4L1021 978.1L1022 975.6L1023 976.0L1024 976.2L1025 977.0L1026 977.1L1027 978.1L1028 979.3L1029 978.3L1030 977.9L1031 978.9L1032 978.0L1033 974.5L1034 975.8L1035 976.8L1036 976.0L1037 977.9L1038 977.4L1039 978.4L1040 977.7L1041 978.1L1042 976.5L1043 973.9L1044 975.5L1045 977.5L1046 977.7L1047 980.4L1048 980.8L1049 979.1L1050 977.9L1051 977.2L1052 977.4L1053 977.4L1054 976.4L1055 976.5L1056 979.3L1057 979.4L1058 976.0L1059 975.8L1060 977.7L1061 977.7L1062 979.5L1063 976.3L1064 976.8L1065 975.6L1066 979.2L1067 979.7L1068 978.9L1069 976.9L1070 976.3L1071 976.3L1072 974.9L1073 975.6L1074 976.8L1075 976.2L1076 976.1L1077 976.7L1078 976.0L1079 974.2L1080 974.6L1081 975.5L1082 973.8L1083 977.0L1084 975.8L1085 975.9L1086 976.1L1087 975.6L1088 973.4L1089 973.8L1090 974.2L1091 975.3L1092 972.8L1093 971.2L1094 973.7L1095 970.8L1096 971.5L1097 971.6L1098 971.9L1099 973.2L1100 974.8L1101 972.6L1102 971.7L1103 971.8L1104 972.6L1105 971.7L1106 974.9L1107 971.8L1108 972.4L1109 971.9L1110 971.1L1111 972.1L1112 975.0L1113 973.5L1114 973.4L1115 969.6L1116 969.3L1117 969.7L1118 969.8L1119 971.6L1120 973.0L1121 972.7L1122 972.5L1123 974.2L1124 975.2L1125 972.6L1126 971.7L1127 974.0L1128 972.1L1129 971.7L1130 972.0L1131 967.5L1132 964.3L1133 965.2L1134 968.6L1135 969.9L1136 970.3L1137 970.1L1138 971.8L1139 972.1L1140 975.4L1141 971.3L1142 972.0L1143 972.9L1144 971.9L1145 968.4L1146 966.3L1147 967.7L1148 970.0L1149 968.2L1150 968.9L1151 967.2L1152 969.0L1153 971.1L1154 972.0L1155 973.8L1156 972.3L1157 972.7L1158 969.9L1159 967.4L1160 968.5L1161 969.1L1162 970.6L1163 970.5L1164 967.9L1165 966.4L1166 966.5L1167 968.5L1168 969.2L1169 969.0L1170 968.4L1171 965.5L1172 967.9L1173 968.3L1174 966.0L1175 966.6L1176 966.7L1177 968.2L1178 973.0L1179 972.4L1180 969.8L1181 966.6L1182 966.7L1183 969.2L1184 970.3L1185 967.9L1186 964.7L1187 963.8L1188 964.8L1189 966.1L1190 967.7L1191 967.6L1192 967.5L1193 968.0L1194 968.2L1195 969.7L1196 969.3L1197 966.5L1198 965.7L1199 963.7L1200 964.0L1201 964.1L1202 964.5L1203 964.5L1204 962.3L1205 960.0L1206 961.3L1207 961.3L1208 961.0L1209 960.4L1210 959.7L1211 959.3L1212 958.7L1213 958.2L1214 957.7L1215 957.1L1216 956.3L1217 955.6L1218 955.0L1219 954.5L1220 954.0L1221 953.5L1222 952.9L1223 952.0L1224 950.6L1225 948.9L1226 947.4L1227 946.2L1228 945.1L1229 943.8L1230 942.6L1231 941.0L1232 938.6L1233 935.6L1234 932.6L1235 929.4L1236 924.7L1237 917.4L1238 906.2L1239 892.1L1240 874.5L1241 851.7L1242 826.3L1243 801.8L1244 777.2L1245 754.2L1246 735.2L1247 718.7L1248 704.7L1249 695.3L1250 691.1L1251 692.7L1252 699.3L1253 710.2L1254 724.7L1255 742.1L1256 762.7L1257 785.2L1258 805.1L1259 821.9L1260 836.6L1261 850.3L1262 863.8L1263 877.7L1264 891.2L1265 902.9L1266 912.4L1267 919.2L1268 924.1L1269 928.3L1270 932.3L1271 935.4L1272 937.7L1273 939.9L1274 942.3L1275 944.7L1276 946.5L1277 947.8L1278 948.9L1279 950.2L1280 951.6L1281 952.6L1282 953.2L1283 953.9L1284 954.5L1285 955.1L1286 955.9L1287 956.5L1288 956.9L1289 957.0L1290 957.1L1291 957.6L1292 958.2L1293 958.5L1294 958.3L1295 958.0L1296 957.6L1297 956.9L1298 956.1L1299 955.3L1300 954.6L1301 954.1L1302 953.5L1303 952.9L1304 952.0L1305 950.8L1306 949.3L1307 947.7L1308 946.3L1309 944.9L1310 943.6L1311 942.0L1312 940.4L1313 939.1L1314 938.2L1315 937.4L1316 936.4L1317 935.5L1318 934.7L1319 933.9L1320 932.8L1321 931.7L1322 930.9L1323 930.2L1324 929.6L1325 929.3L1326 929.7L1327 930.3L1328 931.1L1329 931.9L1330 932.5L1331 933.0L1332 933.7L1333 934.7L1334 935.8L1335 937.0L1336 938.2L1337 939.2L1338 940.1L1339 941.3L1340 942.7L1341 943.9L1342 944.9L1343 946.0L1344 947.4L1345 948.7L1346 949.8L1347 950.9L1348 952.0L1349 953.2L1350 954.5L1351 955.5L1352 955.4L1353 954.7L1354 953.9L1355 953.0L1356 952.1L1357 951.0L1358 950.2L1359 949.2L1360 948.1L1361 947.0L1362 946.1L1363 945.2L1364 944.3L1365 943.4L1366 942.5L1367 941.7L1368 940.9L1369 939.9L1370 939.0L1371 938.4L1372 937.5L1373 936.3L1374 935.0L1375 934.1L1376 933.2L1377 932.5L1378 931.8L1379 930.9L1380 929.7L1381 928.2L1382 926.4L1383 924.2L1384 921.8L1385 919.6L1386 917.8L1387 916.2L1388 914.5L1389 913.0L1390 912.3L1391 912.8L1392 913.7L1393 914.9L1394 916.3L1395 917.7L1396 919.0L1397 920.4L1398 922.0L1399 923.6L1400 925.0L1401 926.0L1402 927.0L1403 928.0L1404 928.4L1405 928.2L1406 927.6L1407 926.9L1408 925.9L1409 924.8L1410 923.5L1411 922.3L1412 921.3L1413 920.5L1414 919.6L1415 918.5L1416 917.2L1417 916.1L1418 915.4L1419 914.7L1420 913.5L1421 912.1L1422 910.9L1423 909.8L1424 909.0L1425 908.3L1426 907.4L1427 906.4L1428 905.3L1429 904.4L1430 903.5L1431 902.5L1432 901.7L1433 901.5L1434 902.1L1435 903.2L1436 904.5L1437 905.8L1438 907.1L1439 908.6L1440 910.1L1441 910.9L1442 910.7L1443 909.5L1444 907.7L1445 905.4L1446 902.9L1447 900.5L1448 898.2L1449 896.0L1450 894.1L1451 892.8L1452 892.6L1453 893.5L1454 895.0L1455 896.7L1456 898.6L1457 900.7L1458 902.7L1459 904.2L1460 905.0L1461 905.2L1462 905.2L1463 905.2L1464 905.1L1465 904.6L1466 904.3L1467 904.0L1468 903.8L1469 903.4L1470 903.0L1471 902.6L1472 902.3L1473 902.0L1474 901.5L1475 900.6L1476 899.8L1477 899.0L1478 898.1L1479 896.8L1480 895.3L1481 893.8L1482 892.2L1483 890.6L1484 889.2L1485 888.0L1486 886.9L1487 885.9L1488 885.2L1489 885.0L1490 885.3L1491 886.2L1492 887.1L1493 888.0L1494 889.0L1495 889.7L1496 889.8L1497 888.9L1498 886.9L1499 884.1L1500 881.1L1501 878.1L1502 875.1L1503 872.0L1504 868.8L1505 865.7L1506 862.4L1507 859.1L1508 856.0L1509 853.4L1510 851.6L1511 850.6L1512 849.9L1513 849.3L1514 848.9L1515 848.5L1516 847.9L1517 847.4L1518 847.1L1519 846.8L1520 846.1L1521 845.3L1522 844.4L1523 843.3L1524 841.9L1525 840.7L1526 839.3L1527 837.7L1528 836.4L1529 835.4L1530 834.2L1531 832.9L1532 832.1L1533 831.7L1534 831.8L1535 832.3L1536 833.3L1537 834.8L1538 836.5L1539 837.8L1540 838.9L1541 840.2L1542 841.9L1543 844.0L1544 846.7L1545 849.9L1546 853.4L1547 857.1L1548 860.8L1549 864.4L1550 867.9L1551 871.4L1552 875.0L1553 878.6L1554 881.5L1555 883.5L1556 884.7L1557 885.0L1558 884.6L1559 884.2L1560 883.9L1561 883.4L1562 882.8L1563 882.6L1564 883.1L1565 883.8L1566 884.7L1567 885.8L1568 887.0L1569 888.1L1570 889.2L1571 890.2L1572 891.5L1573 893.1L1574 895.1L1575 897.0L1576 898.9L1577 901.0L1578 903.1L1579 905.2L1580 907.1L1581 909.0L1582 910.7L1583 912.8L1584 915.2L1585 918.0L1586 920.9L1587 923.8L1588 926.5L1589 928.8L1590 931.2L1591 933.9L1592 936.7L1593 939.2L1594 941.1L1595 942.0L1596 942.0L1597 941.1L1598 939.5L1599 937.4L1600 935.4L1601 933.6L1602 932.1L1603 930.4L1604 928.6L1605 926.8L1606 925.0L1607 923.3L1608 921.6L1609 919.8L1610 918.3L1611 917.2L1612 916.1L1613 914.8L1614 913.2L1615 911.9L1616 910.6L1617 909.1L1618 907.6L1619 906.5L1620 905.6L1621 904.9L1622 904.1L1623 903.3L1624 902.4L1625 901.2L1626 900.0L1627 899.1L1628 898.4L1629 897.9L1630 897.5L1631 897.0L1632 896.2L1633 895.5L1634 895.0L1635 894.2L1636 893.1L1637 892.1L1638 891.3L1639 891.1L1640 891.1L1641 891.1L1642 891.2L1643 891.5L1644 891.8L1645 892.4L1646 893.4L1647 894.9L1648 896.9L1649 899.2L1650 901.6L1651 904.1L1652 906.7L1653 909.2L1654 911.8L1655 914.3L1656 916.5L1657 918.9L1658 921.5L1659 923.6L1660 924.9L1661 925.6L1662 925.6L1663 925.4L1664 925.2L1665 925.1L1666 925.1L1667 924.9L1668 924.9L1669 925.4L1670 926.5L1671 927.7L1672 928.9L1673 930.2L1674 931.5L1675 932.8L1676 934.2L1677 935.5L1678 936.9L1679 938.1L1680 939.2L1681 939.9L1682 940.6L1683 941.2L1684 941.7L1685 942.2L1686 942.9L1687 943.6L1688 944.1L1689 944.3L1690 944.6L1691 943.1L1692 944.4L1693 945.8L1694 947.0L1695 947.5L1696 947.4L1697 947.7L1698 949.8L1699 952.2L1700 952.9L1701 953.7L1702 955.9L1703 957.8L1704 958.0L1705 957.9L1706 957.9L1707 957.2L1708 956.1L1709 954.8L1710 953.1L1711 952.0L1712 952.1L1713 952.3L1714 952.2L1715 952.8L1716 953.9L1717 954.6L1718 954.4L1719 954.5L1720 955.4L1721 956.3L1722 957.3L1723 959.2L1724 960.5L1725 960.7L1726 961.8L1727 963.1L1728 962.4L1729 960.3L1730 959.2L1731 958.5L1732 956.5L1733 953.4L1734 952.7L1735 953.7L1736 954.5L1737 954.7L1738 955.6L1739 957.0L1740 957.9" fill="none" stroke="#000" stroke-width="7.7" stroke-linejoin="round" stroke-linecap="butt"/>
<path d="M277 797.0L278 797.2L279 797.9L280 797.0L281 796.8L282 797.0L283 796.9L284 797.0L285 796.7L286 797.2L287 796.8L288 797.3L289 795.9L290 796.1L291 797.2L292 799.1L293 796.6L294 795.8L295 797.0L296 797.6L297 798.0L298 797.4L299 797.7L300 798.6L301 798.8L302 798.1L303 797.1L304 796.7L305 795.4L306 796.2L307 794.5L308 795.0L309 795.4L310 797.6L311 797.7L312 796.9L313 796.5L314 795.0L315 794.5L316 794.0L317 794.2L318 793.9L319 795.1L320 795.4L321 796.8L322 796.7L323 796.5L324 794.9L325 795.2L326 795.7L327 796.9L328 797.1L329 797.3L330 797.5L331 796.7L332 796.0L333 794.9L334 793.4L335 793.5L336 793.9L337 793.5L338 794.1L339 795.1L340 794.9L341 795.5L342 793.8L343 792.6L344 792.7L345 793.6L346 793.5L347 794.2L348 794.6L349 793.3L350 794.2L351 793.9L352 793.9L353 793.2L354 794.4L355 793.7L356 794.2L357 794.2L358 792.9L359 793.3L360 793.9L361 793.0L362 792.6L363 792.1L364 792.5L365 793.5L366 792.2L367 792.7L368 793.1L369 793.2L370 794.4L371 794.2L372 794.9L373 795.5L374 795.9L375 796.0L376 796.1L377 795.9L378 794.9L379 796.2L380 796.1L381 796.1L382 795.8L383 794.8L384 794.5L385 794.6L386 794.5L387 794.9L388 795.0L389 794.2L390 794.3L391 794.7L392 796.2L393 794.0L394 792.9L395 793.6L396 793.6L397 795.2L398 794.6L399 795.2L400 795.0L401 794.1L402 796.2L403 795.8L404 795.1L405 794.8L406 796.4L407 796.0L408 796.5L409 795.9L410 795.3L411 793.4L412 794.2L413 794.3L414 794.4L415 793.0L416 794.0L417 793.5L418 793.2L419 791.7L420 792.9L421 792.6L422 793.0L423 793.6L424 792.3L425 791.8L426 792.1L427 792.1L428 792.4L429 792.8L430 792.9L431 793.0L432 792.9L433 793.2L434 793.5L435 792.6L436 791.1L437 791.3L438 790.6L439 792.2L440 791.9L441 791.0L442 791.1L443 788.9L444 789.6L445 790.5L446 791.3L447 789.2L448 788.3L449 787.3L450 787.2L451 788.2L452 788.1L453 786.6L454 787.2L455 786.5L456 787.1L457 788.1L458 788.0L459 787.0L460 786.5L461 785.8L462 787.5L463 789.4L464 787.7L465 787.6L466 786.2L467 785.3L468 784.0L469 785.3L470 784.1L471 783.5L472 784.2L473 785.0L474 785.0L475 785.0L476 785.2L477 784.3L478 785.6L479 784.9L480 783.1L481 782.5L482 783.1L483 784.0L484 783.8L485 782.2L486 782.1L487 783.2L488 782.6L489 783.0L490 782.6L491 782.6L492 781.5L493 781.9L494 780.9L495 780.1L496 781.6L497 781.0L498 780.2L499 780.2L500 781.9L501 781.8L502 779.4L503 779.3L504 780.3L505 779.7L506 780.3L507 779.1L508 780.2L509 780.7L510 780.3L511 781.0L512 780.6L513 779.5L514 779.7L515 780.5L516 779.8L517 779.9L518 780.0L519 779.4L520 779.3L521 781.2L522 780.4L523 780.2L524 779.8L525 780.2L526 780.2L527 780.4L528 781.6L529 781.0L530 781.9L531 780.4L532 781.9L533 781.2L534 781.4L535 780.9L536 780.7L537 780.4L538 779.4L539 779.7L540 779.4L541 780.6L542 782.0L543 782.7L544 781.7L545 780.6L546 780.3L547 781.5L548 781.9L549 781.8L550 781.2L551 780.3L552 780.2L553 781.3L554 778.6L555 779.1L556 780.6L557 781.1L558 780.6L559 779.2L560 779.8L561 780.3L562 779.8L563 778.7L564 780.1L565 777.9L566 778.9L567 780.4L568 780.2L569 780.0L570 780.1L571 780.0L572 780.2L573 778.6L574 778.8L575 778.1L576 778.2L577 777.8L578 778.8L579 775.9L580 777.4L581 775.9L582 774.3L583 773.2L584 771.9L585 770.7L586 769.3L587 770.7L588 770.0L589 769.5L590 768.4L591 768.3L592 768.0L593 768.1L594 767.1L595 766.4L596 764.2L597 761.3L598 759.1L599 758.4L600 757.0L601 754.7L602 753.3L603 753.4L604 753.1L605 751.1L606 749.7L607 746.5L608 745.0L609 746.1L610 746.7L611 748.8L612 749.1L613 751.3L614 754.9L615 756.5L616 757.9L617 759.4L618 757.7L619 756.7L620 759.0L621 758.2L622 758.4L623 758.9L624 758.7L625 755.8L626 754.8L627 756.1L628 757.4L629 759.2L630 757.6L631 758.2L632 758.1L633 757.5L634 758.0L635 758.4L636 759.2L637 758.2L638 758.2L639 757.7L640 759.3L641 760.3L642 761.5L643 760.9L644 762.2L645 763.9L646 764.6L647 764.9L648 763.8L649 765.3L650 766.1L651 768.9L652 768.1L653 769.5L654 770.7L655 769.7L656 768.9L657 768.8L658 773.0L659 773.0L660 774.4L661 773.3L662 775.7L663 775.9L664 776.3L665 777.1L666 779.6L667 780.2L668 780.2L669 781.4L670 782.7L671 783.6L672 783.4L673 783.8L674 784.8L675 785.1L676 786.7L677 785.8L678 786.7L679 788.8L680 788.6L681 786.9L682 787.9L683 790.2L684 791.0L685 791.6L686 791.7L687 792.0L688 793.0L689 791.6L690 791.6L691 790.8L692 792.2L693 790.6L694 791.8L695 791.1L696 791.6L697 790.6L698 792.7L699 792.5L700 792.5L701 793.1L702 792.9L703 791.4L704 790.9L705 790.2L706 792.0L707 794.5L708 794.1L709 794.3L710 794.6L711 794.4L712 794.1L713 794.4L714 794.8L715 794.0L716 794.6L717 792.7L718 794.5L719 794.6L720 795.8L721 793.7L722 793.3L723 795.0L724 795.7L725 796.4L726 796.5L727 796.6L728 796.3L729 795.2L730 795.4L731 796.3L732 795.4L733 796.2L734 797.7L735 795.6L736 795.2L737 794.3L738 794.9L739 794.7L740 797.0L741 797.0L742 796.5L743 796.0L744 797.8L745 797.6L746 797.4L747 798.2L748 798.2L749 797.1L750 796.5L751 797.1L752 797.0L753 797.4L754 797.4L755 798.2L756 797.6L757 796.4L758 796.2L759 796.6L760 797.2L761 796.6L762 798.1L763 797.6L764 797.6L765 796.8L766 798.0L767 795.9L768 796.7L769 799.2L770 800.1L771 799.2L772 800.1L773 799.3L774 799.2L775 798.5L776 798.3L777 798.0L778 797.7L779 798.4L780 798.4L781 798.1L782 798.6L783 799.3L784 798.9L785 798.4L786 798.5L787 797.9L788 798.0L789 798.1L790 798.1L791 799.3L792 800.1L793 800.2L794 800.3L795 800.6L796 800.5L797 798.6L798 798.2L799 798.9L800 799.2L801 799.1L802 799.3L803 800.9L804 801.7L805 801.5L806 798.7L807 798.7L808 801.5L809 801.5L810 800.6L811 799.6L812 799.0L813 798.7L814 801.4L815 800.9L816 801.2L817 800.4L818 802.0L819 801.5L820 801.3L821 800.9L822 800.8L823 801.8L824 801.1L825 801.7L826 800.4L827 801.2L828 801.6L829 800.7L830 801.0L831 802.4L832 802.0L833 802.3L834 801.5L835 801.5L836 801.4L837 800.6L838 801.3L839 802.5L840 802.2L841 801.7L842 801.0L843 802.5L844 802.7L845 801.5L846 800.8L847 801.5L848 802.1L849 802.7L850 803.5L851 802.7L852 804.0L853 803.1L854 805.2L855 803.8L856 804.0L857 800.9L858 802.3L859 802.8L860 801.1L861 801.0L862 800.9L863 802.1L864 803.4L865 803.3L866 803.2L867 803.0L868 802.3L869 802.3L870 801.6L871 803.1L872 803.5L873 802.6L874 803.1L875 805.0L876 804.3L877 803.9L878 802.0L879 801.9L880 803.5L881 804.0L882 803.1L883 803.4L884 803.0L885 805.0L886 802.8L887 803.7L888 803.4L889 803.0L890 802.1L891 802.8L892 803.0L893 804.1L894 803.9L895 805.2L896 804.0L897 805.1L898 805.2L899 802.0L900 801.8L901 800.5L902 800.5L903 802.4L904 803.1L905 804.3L906 802.9L907 801.5L908 802.2L909 803.8L910 802.9L911 804.8L912 802.0L913 802.7L914 802.9L915 803.3L916 803.1L917 802.9L918 803.5L919 804.7L920 803.7L921 803.7L922 802.3L923 804.4L924 804.9L925 803.9L926 803.4L927 802.5L928 802.2L929 803.2L930 803.2L931 802.2L932 802.9L933 803.8L934 802.8L935 803.3L936 803.2L937 803.6L938 803.8L939 801.9L940 801.8L941 803.4L942 804.2L943 805.5L944 804.0L945 804.5L946 804.6L947 803.6L948 802.3L949 803.4L950 803.5L951 803.8L952 802.8L953 803.7L954 804.8L955 805.4L956 803.6L957 804.2L958 802.7L959 805.1L960 804.6L961 804.6L962 804.1L963 804.0L964 805.0L965 806.2L966 806.2L967 806.7L968 805.0L969 802.0L970 802.9L971 801.9L972 803.0L973 801.0L974 802.9L975 805.4L976 805.3L977 804.8L978 803.8L979 803.8L980 805.9L981 805.9L982 804.5L983 803.4L984 802.7L985 801.6L986 802.6L987 804.4L988 803.8L989 803.0L990 802.8L991 803.7L992 803.1L993 802.6L994 802.6L995 801.7L996 802.4L997 802.8L998 801.4L999 800.9L1000 801.4L1001 802.1L1002 802.3L1003 801.9L1004 802.3L1005 800.7L1006 800.7L1007 802.2L1008 803.4L1009 802.9L1010 800.2L1011 800.6L1012 800.9L1013 799.7L1014 799.6L1015 799.0L1016 800.3L1017 800.8L1018 801.8L1019 801.3L1020 802.4L1021 800.2L1022 801.4L1023 801.7L1024 802.3L1025 802.5L1026 800.3L1027 802.4L1028 801.8L1029 801.2L1030 800.6L1031 800.1L1032 801.0L1033 800.7L1034 801.0L1035 799.6L1036 800.2L1037 798.8L1038 799.5L1039 799.4L1040 799.4L1041 798.9L1042 799.8L1043 800.1L1044 799.7L1045 800.1L1046 800.1L1047 798.9L1048 799.1L1049 800.3L1050 801.8L1051 802.1L1052 801.9L1053 800.8L1054 799.5L1055 799.1L1056 798.6L1057 798.8L1058 800.5L1059 800.2L1060 801.7L1061 799.5L1062 798.4L1063 798.8L1064 799.4L1065 800.2L1066 799.3L1067 797.9L1068 799.1L1069 798.0L1070 797.3L1071 798.5L1072 799.5L1073 799.5L1074 797.7L1075 798.8L1076 798.7L1077 799.1L1078 798.9L1079 798.7L1080 798.3L1081 800.9L1082 798.0L1083 797.1L1084 798.0L1085 798.2L1086 798.3L1087 797.8L1088 798.6L1089 797.5L1090 798.4L1091 798.6L1092 797.8L1093 797.9L1094 799.7L1095 799.8L1096 800.2L1097 798.2L1098 797.3L1099 798.0L1100 797.9L1101 799.0L1102 799.4L1103 798.9L1104 799.1L1105 800.2L1106 797.7L1107 795.4L1108 795.7L1109 798.4L1110 800.0L1111 798.7L1112 798.4L1113 798.5L1114 798.7L1115 797.7L1116 799.1L1117 799.5L1118 799.2L1119 798.9L1120 798.0L1121 799.5L1122 799.5L1123 799.0L1124 798.0L1125 798.4L1126 797.5L1127 798.7L1128 797.3L1129 797.8L1130 797.9L1131 796.9L1132 798.0L1133 798.3L1134 796.9L1135 798.1L1136 798.1L1137 799.7L1138 798.5L1139 797.2L1140 797.0L1141 796.9L1142 797.3L1143 797.2L1144 795.9L1145 796.3L1146 797.1L1147 799.1L1148 798.1L1149 798.5L1150 798.5L1151 799.5L1152 798.1L1153 798.4L1154 797.8L1155 796.8L1156 795.6L1157 797.8L1158 796.9L1159 798.7L1160 798.5L1161 798.2L1162 798.0L1163 797.9L1164 798.4L1165 797.1L1166 797.8L1167 798.5L1168 798.1L1169 798.1L1170 798.3L1171 798.5L1172 797.4L1173 796.6L1174 797.0L1175 797.1L1176 796.5L1177 795.8L1178 796.6L1179 796.9L1180 797.3L1181 797.1L1182 796.1L1183 797.0L1184 796.5L1185 795.1L1186 796.1L1187 795.6L1188 795.9L1189 795.1L1190 795.5L1191 794.7L1192 793.1L1193 793.6L1194 794.9L1195 796.0L1196 796.1L1197 795.6L1198 795.1L1199 795.1L1200 793.6L1201 792.3L1202 791.5L1203 791.8L1204 791.9L1205 791.6L1206 791.6L1207 791.2L1208 790.9L1209 790.7L1210 790.4L1211 790.1L1212 789.6L1213 789.0L1214 788.4L1215 787.8L1216 787.2L1217 786.5L1218 786.1L1219 785.7L1220 785.1L1221 784.1L1222 783.1L1223 782.0L1224 780.9L1225 779.8L1226 778.7L1227 777.5L1228 776.3L1229 775.1L1230 773.7L1231 772.1L1232 769.9L1233 767.2L1234 764.1L1235 760.4L1236 755.6L1237 748.3L1238 736.8L1239 722.0L1240 703.9L1241 680.5L1242 654.7L1243 629.9L1244 604.8L1245 580.9L1246 561.1L1247 544.3L1248 530.2L1249 520.6L1250 516.0L1251 517.5L1252 524.4L1253 535.6L1254 550.5L1255 568.3L1256 589.5L1257 612.9L1258 633.8L1259 651.1L1260 666.2L1261 680.4L1262 694.8L1263 709.5L1264 723.2L1265 734.9L1266 744.3L1267 751.5L1268 756.7L1269 761.1L1270 765.1L1271 768.5L1272 771.2L1273 773.6L1274 775.8L1275 777.9L1276 779.6L1277 781.2L1278 782.9L1279 784.4L1280 785.7L1281 786.7L1282 787.4L1283 788.0L1284 788.7L1285 789.4L1286 790.0L1287 790.5L1288 791.0L1289 791.5L1290 792.0L1291 792.4L1292 792.8L1293 793.1L1294 793.2L1295 793.4L1296 793.6L1297 793.6L1298 793.4L1299 793.4L1300 793.7L1301 793.8L1302 793.6L1303 793.2L1304 792.7L1305 792.0L1306 791.3L1307 790.5L1308 789.6L1309 788.6L1310 787.7L1311 787.2L1312 786.7L1313 786.1L1314 785.4L1315 785.0L1316 784.7L1317 784.4L1318 784.2L1319 783.9L1320 783.8L1321 783.6L1322 783.7L1323 783.8L1324 783.6L1325 783.3L1326 783.4L1327 783.8L1328 784.2L1329 784.5L1330 785.1L1331 785.8L1332 786.7L1333 787.7L1334 788.4L1335 788.9L1336 789.2L1337 789.6L1338 790.2L1339 790.8L1340 791.3L1341 791.6L1342 791.8L1343 791.9L1344 792.1L1345 792.3L1346 792.2L1347 791.6L1348 790.7L1349 790.0L1350 789.6L1351 789.3L1352 788.9L1353 788.5L1354 788.2L1355 787.8L1356 787.4L1357 786.7L1358 785.9L1359 785.2L1360 784.7L1361 784.8L1362 784.8L1363 784.5L1364 784.1L1365 783.9L1366 783.7L1367 783.6L1368 783.6L1369 783.6L1370 783.3L1371 782.9L1372 782.7L1373 782.5L1374 782.2L1375 781.8L1376 781.3L1377 780.6L1378 779.6L1379 778.5L1380 777.4L1381 775.9L1382 774.4L1383 773.0L1384 771.7L1385 770.2L1386 768.5L1387 767.1L1388 766.0L1389 765.2L1390 764.6L1391 764.5L1392 764.7L1393 765.5L1394 766.7L1395 767.9L1396 768.7L1397 769.3L1398 770.0L1399 770.9L1400 771.8L1401 772.7L1402 773.5L1403 774.1L1404 774.1L1405 773.6L1406 772.9L1407 771.8L1408 770.6L1409 769.5L1410 768.7L1411 767.9L1412 767.0L1413 766.2L1414 765.2L1415 764.1L1416 763.1L1417 762.2L1418 761.3L1419 760.2L1420 759.3L1421 758.6L1422 757.8L1423 756.8L1424 755.8L1425 754.6L1426 753.5L1427 752.5L1428 751.6L1429 750.4L1430 749.5L1431 748.9L1432 748.7L1433 748.7L1434 749.2L1435 750.3L1436 751.9L1437 753.7L1438 755.6L1439 757.6L1440 759.2L1441 760.1L1442 760.1L1443 758.9L1444 756.6L1445 753.6L1446 750.4L1447 747.3L1448 744.3L1449 741.6L1450 739.3L1451 737.7L1452 737.1L1453 737.4L1454 738.6L1455 740.4L1456 742.4L1457 744.3L1458 746.1L1459 747.8L1460 749.5L1461 750.9L1462 752.1L1463 753.4L1464 754.8L1465 756.1L1466 757.1L1467 757.8L1468 758.0L1469 757.7L1470 756.9L1471 755.5L1472 753.8L1473 752.0L1474 750.4L1475 749.1L1476 747.9L1477 746.4L1478 744.7L1479 742.8L1480 741.0L1481 739.4L1482 737.8L1483 736.3L1484 734.7L1485 733.0L1486 731.5L1487 730.5L1488 730.1L1489 730.0L1490 729.8L1491 729.5L1492 729.3L1493 728.9L1494 728.6L1495 728.4L1496 727.6L1497 725.7L1498 723.1L1499 720.2L1500 717.1L1501 713.8L1502 710.2L1503 706.6L1504 703.2L1505 699.8L1506 696.3L1507 693.2L1508 690.3L1509 687.6L1510 685.3L1511 684.1L1512 683.6L1513 683.5L1514 683.3L1515 683.3L1516 683.4L1517 683.7L1518 683.6L1519 683.3L1520 682.5L1521 681.5L1522 680.5L1523 679.5L1524 678.4L1525 677.3L1526 676.2L1527 675.1L1528 673.8L1529 672.5L1530 671.2L1531 669.7L1532 668.5L1533 667.6L1534 666.7L1535 665.7L1536 665.0L1537 664.7L1538 664.9L1539 665.6L1540 666.6L1541 667.6L1542 668.6L1543 669.6L1544 670.5L1545 671.6L1546 673.0L1547 674.9L1548 676.7L1549 678.7L1550 680.9L1551 683.3L1552 685.9L1553 688.3L1554 690.0L1555 690.8L1556 690.9L1557 690.7L1558 690.7L1559 690.9L1560 691.2L1561 691.2L1562 691.5L1563 692.3L1564 693.8L1565 695.7L1566 697.9L1567 700.1L1568 702.0L1569 704.0L1570 706.2L1571 708.4L1572 710.4L1573 711.9L1574 712.7L1575 713.2L1576 713.4L1577 713.4L1578 713.5L1579 714.2L1580 715.2L1581 716.8L1582 719.0L1583 721.6L1584 724.0L1585 726.3L1586 728.7L1587 731.0L1588 733.4L1589 735.9L1590 738.2L1591 740.3L1592 742.6L1593 744.5L1594 745.6L1595 746.0L1596 745.9L1597 745.4L1598 744.8L1599 744.3L1600 743.7L1601 743.2L1602 742.8L1603 742.5L1604 742.0L1605 741.5L1606 741.1L1607 740.9L1608 740.9L1609 740.6L1610 740.0L1611 739.5L1612 739.2L1613 739.2L1614 739.2L1615 739.6L1616 739.9L1617 740.2L1618 741.0L1619 742.0L1620 742.6L1621 742.9L1622 743.4L1623 744.4L1624 745.4L1625 746.0L1626 746.2L1627 746.0L1628 746.2L1629 746.6L1630 746.8L1631 746.8L1632 746.7L1633 746.6L1634 746.6L1635 746.8L1636 747.0L1637 746.9L1638 746.8L1639 746.8L1640 747.0L1641 746.9L1642 747.0L1643 747.6L1644 748.8L1645 750.3L1646 751.8L1647 753.2L1648 754.6L1649 756.2L1650 758.0L1651 759.7L1652 761.2L1653 762.8L1654 764.8L1655 766.6L1656 768.1L1657 769.2L1658 769.9L1659 770.5L1660 771.0L1661 771.5L1662 771.9L1663 772.2L1664 772.6L1665 773.0L1666 773.2L1667 773.5L1668 773.8L1669 774.5L1670 775.2L1671 775.9L1672 776.4L1673 777.0L1674 777.8L1675 778.4L1676 778.9L1677 779.5L1678 780.0L1679 780.5L1680 781.5L1681 782.7L1682 783.6L1683 784.1L1684 784.8L1685 786.0L1686 786.9L1687 787.0L1688 786.9L1689 787.5L1690 788.3L1691 789.2L1692 789.5L1693 790.3L1694 791.5L1695 792.4L1696 792.1L1697 791.5L1698 791.9L1699 792.6L1700 792.4L1701 791.5L1702 791.1L1703 790.9L1704 789.9L1705 788.3L1706 788.2L1707 789.0L1708 789.5L1709 788.2L1710 786.7L1711 786.3L1712 786.5L1713 785.7L1714 785.2L1715 786.1L1716 786.9L1717 786.8L1718 787.0L1719 788.4L1720 789.3L1721 788.7L1722 787.9L1723 788.9L1724 790.7L1725 790.9L1726 789.5L1727 787.8L1728 787.2L1729 787.7L1730 788.2L1731 788.1L1732 787.6L1733 788.0L1734 788.9L1735 790.1L1736 790.5L1737 790.7L1738 791.6L1739 793.8L1740 795.8" fill="none" stroke="#000" stroke-width="7.7" stroke-linejoin="round" stroke-linecap="butt"/>
<path d="M277 601.2L278 600.3L279 602.1L280 602.9L281 603.5L282 602.8L283 601.5L284 601.6L285 601.1L286 602.5L287 602.7L288 601.5L289 600.8L290 599.6L291 601.0L292 600.3L293 600.3L294 600.2L295 600.2L296 599.0L297 600.9L298 600.1L299 600.0L300 599.7L301 598.7L302 599.1L303 599.3L304 599.4L305 598.8L306 600.9L307 600.6L308 600.2L309 599.7L310 600.9L311 600.5L312 600.3L313 599.6L314 598.5L315 597.9L316 596.7L317 599.6L318 600.6L319 599.6L320 598.6L321 599.2L322 599.6L323 599.3L324 599.1L325 597.4L326 597.9L327 597.5L328 598.8L329 597.8L330 599.0L331 598.3L332 598.2L333 599.0L334 598.3L335 598.5L336 598.2L337 597.6L338 598.5L339 597.5L340 595.6L341 596.5L342 597.7L343 598.4L344 599.6L345 600.6L346 599.6L347 599.2L348 598.3L349 599.4L350 599.2L351 599.6L352 598.7L353 598.6L354 598.4L355 599.4L356 598.2L357 599.6L358 598.8L359 597.8L360 598.8L361 599.9L362 599.2L363 598.0L364 598.1L365 598.5L366 598.1L367 598.4L368 599.6L369 600.9L370 600.8L371 600.7L372 601.0L373 601.8L374 600.4L375 601.8L376 603.1L377 602.4L378 603.2L379 604.0L380 604.7L381 605.5L382 604.7L383 604.2L384 602.7L385 603.3L386 603.4L387 603.1L388 604.2L389 604.3L390 604.5L391 606.2L392 604.9L393 605.1L394 605.8L395 605.9L396 604.4L397 604.9L398 604.4L399 605.1L400 605.8L401 606.8L402 606.4L403 605.9L404 605.1L405 605.2L406 604.3L407 604.8L408 603.5L409 603.6L410 604.5L411 604.4L412 604.1L413 605.1L414 604.9L415 604.2L416 603.9L417 604.6L418 604.9L419 605.1L420 605.7L421 604.5L422 604.7L423 604.3L424 604.1L425 604.4L426 604.3L427 604.3L428 604.6L429 605.0L430 604.4L431 603.1L432 603.7L433 604.7L434 604.5L435 603.4L436 604.6L437 603.4L438 603.4L439 602.0L440 602.9L441 602.9L442 602.6L443 602.2L444 601.4L445 602.6L446 602.9L447 601.7L448 602.1L449 602.0L450 602.0L451 601.2L452 601.3L453 601.1L454 600.2L455 600.4L456 598.5L457 598.2L458 599.5L459 599.8L460 600.7L461 600.0L462 600.5L463 599.2L464 599.2L465 598.5L466 599.6L467 599.6L468 599.9L469 600.1L470 599.0L471 598.8L472 600.7L473 600.4L474 600.3L475 598.4L476 598.6L477 599.3L478 598.7L479 596.5L480 597.2L481 598.2L482 597.5L483 597.9L484 598.1L485 598.2L486 598.3L487 597.0L488 596.2L489 597.2L490 595.8L491 598.3L492 597.6L493 597.5L494 597.0L495 594.9L496 597.1L497 596.6L498 595.8L499 596.0L500 596.2L501 596.6L502 598.2L503 596.7L504 597.0L505 595.9L506 595.5L507 598.2L508 595.6L509 594.2L510 594.6L511 594.4L512 597.0L513 595.7L514 594.6L515 596.4L516 595.5L517 596.3L518 595.6L519 595.1L520 595.0L521 596.0L522 594.8L523 595.7L524 595.5L525 593.8L526 593.1L527 594.6L528 593.1L529 594.6L530 593.5L531 593.6L532 592.6L533 592.3L534 591.9L535 592.2L536 593.7L537 592.4L538 592.8L539 593.6L540 594.8L541 593.8L542 593.2L543 594.1L544 593.1L545 594.0L546 593.7L547 593.6L548 593.8L549 594.2L550 593.8L551 593.1L552 591.8L553 592.0L554 591.3L555 591.0L556 590.0L557 590.5L558 589.5L559 588.4L560 590.0L561 589.8L562 589.9L563 590.7L564 589.9L565 588.6L566 587.9L567 589.3L568 590.4L569 589.4L570 591.0L571 589.0L572 590.3L573 587.6L574 585.7L575 584.4L576 586.1L577 586.6L578 584.9L579 584.7L580 584.1L581 583.6L582 583.1L583 582.5L584 580.9L585 580.3L586 582.0L587 581.6L588 579.4L589 578.0L590 575.7L591 573.8L592 572.2L593 570.5L594 568.3L595 566.3L596 565.5L597 564.2L598 562.3L599 560.1L600 559.2L601 559.4L602 558.7L603 555.9L604 554.7L605 552.7L606 550.2L607 548.9L608 548.5L609 548.4L610 549.0L611 548.9L612 550.0L613 549.7L614 551.0L615 551.9L616 553.2L617 552.7L618 553.8L619 554.2L620 553.1L621 552.4L622 550.6L623 551.3L624 550.6L625 551.8L626 550.7L627 551.3L628 549.5L629 548.4L630 548.3L631 549.2L632 550.1L633 551.1L634 549.7L635 549.8L636 549.5L637 550.7L638 551.1L639 549.8L640 551.3L641 551.9L642 552.0L643 550.7L644 551.1L645 552.0L646 552.3L647 552.7L648 553.3L649 554.6L650 555.1L651 554.7L652 556.2L653 556.9L654 557.1L655 557.3L656 557.5L657 558.9L658 559.9L659 563.2L660 563.0L661 565.2L662 566.4L663 567.7L664 568.5L665 568.6L666 570.8L667 571.5L668 573.1L669 574.9L670 575.1L671 576.1L672 576.7L673 577.1L674 578.0L675 578.8L676 579.1L677 581.0L678 582.5L679 582.3L680 583.6L681 584.8L682 583.8L683 584.0L684 586.6L685 585.6L686 588.8L687 588.7L688 588.7L689 590.0L690 591.2L691 591.5L692 591.2L693 590.4L694 590.7L695 590.9L696 590.6L697 591.1L698 591.8L699 592.7L700 591.3L701 591.2L702 591.5L703 592.5L704 593.6L705 593.3L706 594.0L707 593.3L708 593.6L709 592.7L710 593.7L711 594.9L712 595.5L713 595.1L714 595.5L715 595.2L716 594.0L717 596.0L718 598.0L719 597.8L720 597.2L721 597.4L722 595.5L723 595.0L724 596.4L725 596.5L726 597.9L727 599.8L728 599.9L729 598.0L730 596.6L731 597.0L732 597.1L733 598.4L734 597.9L735 597.7L736 597.4L737 598.7L738 598.4L739 597.8L740 597.3L741 597.4L742 597.2L743 597.8L744 598.9L745 598.4L746 599.4L747 599.6L748 599.4L749 598.1L750 598.4L751 597.4L752 599.1L753 598.4L754 598.8L755 598.9L756 598.9L757 598.9L758 599.2L759 600.6L760 600.9L761 600.0L762 599.8L763 599.1L764 599.1L765 599.5L766 600.5L767 600.5L768 600.1L769 597.7L770 597.7L771 596.4L772 598.4L773 599.1L774 601.0L775 600.7L776 600.7L777 601.1L778 600.0L779 598.5L780 598.4L781 599.7L782 598.9L783 599.5L784 599.2L785 597.6L786 597.8L787 598.5L788 598.9L789 601.0L790 600.6L791 600.4L792 600.7L793 599.4L794 601.5L795 599.6L796 600.2L797 601.0L798 600.2L799 601.1L800 600.9L801 600.2L802 597.9L803 599.5L804 599.0L805 599.7L806 600.4L807 602.2L808 600.7L809 602.2L810 601.3L811 600.7L812 602.6L813 601.1L814 601.3L815 600.8L816 601.9L817 600.2L818 600.6L819 601.1L820 601.2L821 601.4L822 602.0L823 601.2L824 602.8L825 602.3L826 602.6L827 601.5L828 601.7L829 601.6L830 602.8L831 602.5L832 601.5L833 600.0L834 600.9L835 601.5L836 599.9L837 600.7L838 601.2L839 601.4L840 601.2L841 602.1L842 602.2L843 600.2L844 600.8L845 601.8L846 603.3L847 602.9L848 602.2L849 603.7L850 603.3L851 603.3L852 603.0L853 602.8L854 601.5L855 601.3L856 601.3L857 602.5L858 602.8L859 602.5L860 604.0L861 603.0L862 602.7L863 602.7L864 602.2L865 601.2L866 602.3L867 601.7L868 601.1L869 601.2L870 602.1L871 601.8L872 602.0L873 602.5L874 602.9L875 603.9L876 603.0L877 603.2L878 604.0L879 605.0L880 603.8L881 604.3L882 602.3L883 604.4L884 603.1L885 602.6L886 604.1L887 603.0L888 602.2L889 603.3L890 603.4L891 603.9L892 604.3L893 604.2L894 602.6L895 603.7L896 603.9L897 604.1L898 604.3L899 604.4L900 604.3L901 603.1L902 604.2L903 603.0L904 602.5L905 603.5L906 602.4L907 602.2L908 604.1L909 602.9L910 603.1L911 602.3L912 604.5L913 605.8L914 606.0L915 605.4L916 604.6L917 605.1L918 603.7L919 603.6L920 603.6L921 602.5L922 601.5L923 602.8L924 603.4L925 603.6L926 603.9L927 604.0L928 603.7L929 604.5L930 604.5L931 603.6L932 602.4L933 601.3L934 602.6L935 603.1L936 604.5L937 603.6L938 603.2L939 603.7L940 603.2L941 602.8L942 603.0L943 601.8L944 602.6L945 601.9L946 602.5L947 603.6L948 602.0L949 602.6L950 602.9L951 602.6L952 601.4L953 601.7L954 602.3L955 603.9L956 604.1L957 604.5L958 604.5L959 604.0L960 604.8L961 603.6L962 604.6L963 604.6L964 604.4L965 604.2L966 603.0L967 603.4L968 603.1L969 603.4L970 603.6L971 602.7L972 602.2L973 602.5L974 605.2L975 606.3L976 606.4L977 604.3L978 600.6L979 601.1L980 601.6L981 603.2L982 602.6L983 602.8L984 603.8L985 603.1L986 603.8L987 603.2L988 603.3L989 602.4L990 601.5L991 601.7L992 602.0L993 601.3L994 599.9L995 599.4L996 600.4L997 599.1L998 600.6L999 600.5L1000 599.4L1001 601.6L1002 601.4L1003 600.0L1004 599.9L1005 599.4L1006 599.5L1007 601.0L1008 599.6L1009 598.4L1010 600.0L1011 600.1L1012 600.8L1013 601.1L1014 602.0L1015 601.8L1016 600.5L1017 601.2L1018 600.5L1019 599.5L1020 600.9L1021 600.4L1022 600.3L1023 600.7L1024 599.6L1025 599.4L1026 600.0L1027 599.2L1028 599.3L1029 598.8L1030 598.4L1031 599.9L1032 599.4L1033 599.5L1034 597.4L1035 598.0L1036 598.0L1037 597.0L1038 598.2L1039 597.2L1040 597.4L1041 597.2L1042 596.0L1043 595.8L1044 596.7L1045 599.2L1046 600.0L1047 599.2L1048 599.0L1049 597.8L1050 598.2L1051 597.5L1052 597.7L1053 599.1L1054 599.0L1055 599.0L1056 598.2L1057 599.2L1058 598.0L1059 598.4L1060 598.0L1061 597.9L1062 596.3L1063 596.7L1064 597.1L1065 596.6L1066 594.9L1067 595.6L1068 596.1L1069 598.0L1070 598.1L1071 595.9L1072 595.8L1073 595.4L1074 595.7L1075 596.2L1076 596.8L1077 597.5L1078 598.6L1079 597.2L1080 598.1L1081 596.0L1082 596.6L1083 595.0L1084 595.0L1085 596.2L1086 596.3L1087 597.2L1088 596.9L1089 598.8L1090 596.6L1091 596.4L1092 595.0L1093 596.7L1094 596.6L1095 597.0L1096 596.7L1097 596.5L1098 597.1L1099 596.6L1100 595.9L1101 596.3L1102 595.9L1103 595.7L1104 595.9L1105 595.5L1106 595.1L1107 596.1L1108 595.9L1109 597.2L1110 597.3L1111 595.5L1112 595.6L1113 595.1L1114 595.7L1115 596.3L1116 594.7L1117 596.2L1118 596.3L1119 596.1L1120 595.0L1121 594.5L1122 595.0L1123 593.9L1124 595.2L1125 594.6L1126 595.8L1127 596.3L1128 596.6L1129 596.3L1130 594.9L1131 593.8L1132 594.9L1133 595.6L1134 595.3L1135 595.2L1136 594.7L1137 594.5L1138 593.6L1139 593.0L1140 593.1L1141 593.5L1142 595.4L1143 595.7L1144 595.0L1145 594.5L1146 593.9L1147 594.6L1148 594.2L1149 594.3L1150 593.9L1151 595.1L1152 595.0L1153 595.4L1154 595.7L1155 595.0L1156 595.7L1157 594.6L1158 594.3L1159 592.6L1160 592.9L1161 592.9L1162 594.1L1163 593.3L1164 592.9L1165 593.0L1166 593.3L1167 594.0L1168 593.0L1169 594.1L1170 594.3L1171 594.3L1172 593.3L1173 593.7L1174 592.8L1175 592.0L1176 594.0L1177 595.1L1178 594.3L1179 593.9L1180 591.9L1181 593.0L1182 593.1L1183 592.2L1184 593.2L1185 594.5L1186 594.3L1187 594.8L1188 594.0L1189 594.0L1190 593.4L1191 591.8L1192 592.5L1193 593.0L1194 592.7L1195 590.5L1196 590.7L1197 589.8L1198 590.0L1199 589.3L1200 589.8L1201 590.0L1202 589.6L1203 588.7L1204 587.7L1205 587.1L1206 586.5L1207 586.1L1208 585.6L1209 585.3L1210 584.8L1211 584.2L1212 583.3L1213 582.4L1214 581.6L1215 580.8L1216 580.1L1217 579.3L1218 578.5L1219 577.5L1220 576.7L1221 575.9L1222 575.0L1223 573.5L1224 571.8L1225 570.0L1226 568.3L1227 566.6L1228 564.8L1229 563.0L1230 561.1L1231 558.9L1232 555.9L1233 552.3L1234 548.2L1235 543.2L1236 536.5L1237 526.4L1238 510.5L1239 490.3L1240 465.4L1241 433.4L1242 398.1L1243 363.9L1244 329.4L1245 296.6L1246 269.7L1247 246.7L1248 227.4L1249 214.4L1250 208.1L1251 210.0L1252 219.2L1253 234.7L1254 255.4L1255 279.9L1256 309.0L1257 340.9L1258 369.4L1259 392.8L1260 413.4L1261 432.9L1262 452.7L1263 473.0L1264 492.2L1265 508.5L1266 521.4L1267 531.2L1268 538.5L1269 544.5L1270 549.8L1271 554.3L1272 558.1L1273 561.5L1274 564.6L1275 567.3L1276 569.7L1277 571.8L1278 573.9L1279 575.9L1280 577.8L1281 579.3L1282 580.4L1283 581.3L1284 582.2L1285 582.9L1286 583.5L1287 584.2L1288 585.1L1289 585.9L1290 586.6L1291 587.4L1292 588.0L1293 588.3L1294 588.2L1295 588.0L1296 588.1L1297 588.1L1298 588.2L1299 588.4L1300 588.6L1301 588.6L1302 588.2L1303 587.5L1304 587.0L1305 586.6L1306 586.0L1307 585.4L1308 584.7L1309 584.1L1310 583.3L1311 582.4L1312 581.8L1313 581.3L1314 580.9L1315 580.6L1316 580.4L1317 580.1L1318 579.7L1319 579.6L1320 579.9L1321 580.1L1322 580.0L1323 579.9L1324 579.8L1325 579.7L1326 579.8L1327 580.4L1328 581.1L1329 581.4L1330 581.7L1331 582.2L1332 582.8L1333 583.5L1334 584.3L1335 585.1L1336 585.9L1337 586.4L1338 587.0L1339 587.7L1340 588.3L1341 588.7L1342 589.0L1343 589.0L1344 588.7L1345 588.2L1346 587.6L1347 587.0L1348 586.6L1349 586.1L1350 585.5L1351 584.9L1352 584.2L1353 583.4L1354 582.5L1355 581.8L1356 581.3L1357 580.6L1358 579.7L1359 579.0L1360 578.7L1361 578.5L1362 578.3L1363 578.3L1364 578.2L1365 578.2L1366 578.1L1367 578.2L1368 578.4L1369 578.4L1370 578.4L1371 578.2L1372 578.1L1373 578.5L1374 578.6L1375 578.4L1376 577.8L1377 576.7L1378 575.2L1379 573.5L1380 571.8L1381 569.8L1382 567.8L1383 565.9L1384 564.0L1385 562.2L1386 560.3L1387 558.2L1388 556.3L1389 554.6L1390 553.6L1391 553.3L1392 553.9L1393 554.5L1394 555.2L1395 556.0L1396 557.2L1397 558.3L1398 559.3L1399 560.3L1400 561.2L1401 562.2L1402 563.0L1403 563.4L1404 563.5L1405 563.2L1406 562.5L1407 561.6L1408 560.7L1409 559.9L1410 558.9L1411 557.8L1412 556.7L1413 555.7L1414 554.7L1415 553.5L1416 552.0L1417 550.9L1418 550.2L1419 549.4L1420 548.3L1421 547.1L1422 546.3L1423 545.6L1424 544.6L1425 543.5L1426 542.6L1427 541.9L1428 540.8L1429 539.4L1430 538.3L1431 537.9L1432 537.9L1433 538.1L1434 538.7L1435 539.9L1436 541.4L1437 543.1L1438 544.9L1439 546.5L1440 547.6L1441 547.8L1442 547.0L1443 544.9L1444 541.7L1445 538.0L1446 534.3L1447 530.2L1448 525.8L1449 521.8L1450 518.7L1451 516.7L1452 516.2L1453 517.1L1454 518.9L1455 521.3L1456 524.1L1457 526.8L1458 529.5L1459 532.2L1460 534.6L1461 536.3L1462 538.0L1463 539.9L1464 541.8L1465 543.5L1466 545.2L1467 546.4L1468 546.6L1469 546.0L1470 544.8L1471 543.2L1472 541.3L1473 539.5L1474 537.8L1475 536.2L1476 534.4L1477 532.3L1478 530.2L1479 528.7L1480 527.4L1481 525.8L1482 523.9L1483 521.7L1484 519.6L1485 517.9L1486 516.6L1487 515.7L1488 515.2L1489 515.0L1490 514.8L1491 514.4L1492 514.0L1493 513.8L1494 513.8L1495 513.2L1496 511.4L1497 508.2L1498 504.2L1499 499.3L1500 493.5L1501 487.3L1502 481.3L1503 475.3L1504 469.2L1505 463.3L1506 457.8L1507 452.9L1508 449.0L1509 446.5L1510 445.5L1511 445.3L1512 445.6L1513 446.0L1514 446.5L1515 447.3L1516 448.2L1517 448.8L1518 448.9L1519 448.9L1520 448.8L1521 448.4L1522 447.5L1523 446.2L1524 444.9L1525 443.6L1526 442.5L1527 441.4L1528 440.3L1529 439.3L1530 438.1L1531 436.7L1532 435.5L1533 434.4L1534 433.3L1535 432.2L1536 431.1L1537 430.4L1538 430.0L1539 430.1L1540 430.9L1541 432.1L1542 433.5L1543 434.8L1544 436.0L1545 437.3L1546 438.4L1547 439.5L1548 440.6L1549 441.5L1550 441.7L1551 441.8L1552 442.1L1553 442.1L1554 441.9L1555 441.3L1556 440.4L1557 439.5L1558 438.9L1559 438.4L1560 438.1L1561 438.6L1562 440.3L1563 443.1L1564 446.7L1565 451.0L1566 455.6L1567 460.0L1568 464.3L1569 468.6L1570 472.9L1571 477.0L1572 480.5L1573 483.3L1574 485.3L1575 486.6L1576 487.0L1577 487.3L1578 487.8L1579 488.7L1580 490.2L1581 492.4L1582 494.8L1583 497.3L1584 499.9L1585 502.6L1586 505.4L1587 508.5L1588 511.7L1589 514.6L1590 517.1L1591 519.6L1592 522.0L1593 523.9L1594 525.0L1595 525.4L1596 525.3L1597 525.0L1598 524.7L1599 524.7L1600 524.7L1601 524.3L1602 523.9L1603 523.4L1604 523.0L1605 522.8L1606 522.6L1607 522.5L1608 521.8L1609 521.0L1610 520.4L1611 520.3L1612 520.4L1613 520.7L1614 521.1L1615 521.4L1616 521.9L1617 522.5L1618 523.2L1619 524.1L1620 525.3L1621 526.4L1622 527.2L1623 527.7L1624 528.1L1625 528.5L1626 529.1L1627 529.7L1628 530.3L1629 530.8L1630 531.3L1631 531.6L1632 532.0L1633 532.5L1634 533.0L1635 533.6L1636 534.2L1637 534.7L1638 535.1L1639 535.2L1640 535.4L1641 535.8L1642 536.5L1643 537.5L1644 538.8L1645 540.1L1646 541.4L1647 543.0L1648 544.7L1649 546.5L1650 548.4L1651 550.4L1652 552.1L1653 553.6L1654 555.2L1655 556.9L1656 558.2L1657 559.0L1658 559.6L1659 559.9L1660 560.2L1661 560.5L1662 560.9L1663 560.9L1664 560.6L1665 560.6L1666 560.8L1667 561.0L1668 561.3L1669 561.7L1670 562.0L1671 562.4L1672 563.2L1673 564.4L1674 565.4L1675 566.2L1676 567.2L1677 568.3L1678 569.2L1679 569.9L1680 570.6L1681 571.4L1682 572.3L1683 573.3L1684 574.4L1685 575.2L1686 576.0L1687 576.7L1688 577.3L1689 577.6L1690 577.9L1691 576.4L1692 578.1L1693 579.4L1694 580.0L1695 580.1L1696 581.0L1697 582.2L1698 584.0L1699 584.8L1700 585.1L1701 585.1L1702 585.3L1703 584.4L1704 582.5L1705 580.4L1706 579.2L1707 579.1L1708 578.8L1709 577.3L1710 575.9L1711 575.7L1712 576.0L1713 576.3L1714 575.9L1715 574.4L1716 572.7L1717 574.0L1718 577.2L1719 579.1L1720 579.1L1721 580.0L1722 582.0L1723 582.5L1724 580.8L1725 578.1L1726 577.4L1727 578.3L1728 578.6L1729 577.2L1730 576.6L1731 576.0L1732 575.5L1733 575.5L1734 576.5L1735 578.2L1736 579.7L1737 580.6L1738 581.6L1739 583.0L1740 583.5" fill="none" stroke="#000" stroke-width="7.7" stroke-linejoin="round" stroke-linecap="butt"/>
<path d="M277 399.2L278 400.3L279 399.5L280 399.1L281 398.6L282 399.2L283 399.3L284 398.8L285 397.4L286 398.5L287 398.5L288 398.4L289 398.6L290 398.3L291 398.0L292 398.7L293 399.5L294 399.3L295 399.1L296 399.6L297 397.0L298 397.9L299 396.5L300 397.3L301 398.6L302 397.7L303 397.0L304 399.2L305 399.6L306 400.1L307 401.1L308 399.2L309 397.5L310 397.7L311 398.0L312 398.8L313 397.9L314 397.1L315 396.6L316 396.6L317 398.1L318 397.3L319 397.6L320 397.6L321 397.9L322 397.9L323 394.7L324 396.0L325 395.4L326 396.1L327 395.6L328 395.6L329 396.7L330 395.8L331 395.9L332 393.7L333 394.8L334 393.4L335 394.0L336 395.9L337 394.9L338 395.7L339 395.0L340 395.5L341 392.6L342 392.0L343 390.9L344 392.9L345 393.1L346 393.0L347 394.7L348 393.9L349 394.5L350 395.0L351 394.9L352 396.4L353 396.7L354 396.3L355 396.2L356 394.6L357 395.3L358 395.9L359 396.5L360 396.2L361 396.1L362 394.3L363 394.3L364 395.5L365 395.2L366 395.5L367 395.5L368 395.2L369 395.1L370 395.6L371 396.2L372 395.8L373 397.1L374 395.7L375 395.2L376 394.1L377 394.9L378 396.3L379 396.9L380 396.7L381 396.0L382 395.8L383 395.2L384 395.5L385 395.1L386 396.4L387 396.2L388 395.3L389 394.9L390 394.0L391 395.9L392 395.4L393 396.8L394 395.8L395 395.0L396 395.6L397 396.3L398 396.5L399 397.0L400 395.2L401 395.4L402 396.2L403 396.9L404 396.0L405 394.6L406 394.7L407 394.5L408 396.3L409 396.2L410 395.8L411 396.5L412 395.9L413 395.9L414 395.9L415 396.3L416 396.3L417 395.5L418 394.7L419 394.4L420 394.4L421 395.9L422 395.3L423 393.1L424 393.0L425 393.7L426 393.9L427 393.1L428 394.0L429 394.1L430 394.8L431 393.8L432 394.3L433 393.9L434 394.2L435 394.3L436 395.1L437 393.8L438 393.5L439 393.1L440 394.5L441 393.7L442 393.8L443 393.3L444 392.6L445 392.5L446 392.8L447 393.5L448 393.8L449 391.6L450 392.1L451 391.9L452 391.6L453 391.9L454 391.1L455 392.2L456 393.3L457 394.9L458 393.5L459 392.7L460 392.3L461 393.2L462 393.7L463 394.3L464 392.9L465 391.7L466 392.7L467 392.2L468 393.0L469 392.3L470 391.7L471 390.9L472 392.8L473 392.1L474 392.9L475 390.8L476 390.3L477 392.2L478 392.1L479 390.6L480 389.4L481 390.4L482 391.6L483 392.5L484 392.5L485 393.0L486 390.5L487 391.0L488 391.1L489 389.8L490 390.0L491 390.2L492 390.5L493 389.9L494 390.5L495 390.9L496 389.6L497 390.8L498 390.3L499 390.0L500 389.6L501 390.3L502 390.2L503 390.1L504 389.3L505 389.7L506 389.5L507 389.1L508 389.6L509 390.3L510 391.5L511 391.2L512 389.2L513 388.0L514 387.7L515 390.0L516 389.0L517 389.8L518 388.4L519 390.3L520 389.8L521 389.6L522 388.0L523 387.3L524 387.2L525 389.4L526 388.7L527 389.8L528 388.9L529 390.0L530 389.6L531 389.3L532 388.1L533 389.7L534 389.4L535 390.9L536 389.7L537 388.6L538 388.1L539 387.4L540 387.9L541 388.1L542 389.4L543 390.3L544 390.2L545 390.1L546 389.3L547 388.8L548 387.9L549 386.6L550 387.5L551 389.0L552 389.1L553 388.8L554 388.0L555 387.6L556 387.6L557 389.4L558 387.8L559 387.5L560 388.1L561 386.8L562 386.9L563 387.5L564 387.5L565 386.3L566 387.2L567 387.3L568 387.3L569 386.6L570 388.2L571 387.8L572 386.8L573 386.8L574 387.1L575 386.0L576 384.2L577 384.5L578 384.7L579 386.1L580 384.6L581 384.8L582 383.5L583 382.6L584 382.2L585 381.3L586 380.8L587 381.3L588 380.9L589 379.6L590 379.0L591 379.4L592 377.5L593 375.3L594 375.7L595 374.9L596 372.6L597 371.5L598 370.7L599 370.4L600 368.9L601 366.9L602 365.4L603 364.5L604 362.5L605 359.4L606 359.1L607 359.5L608 359.3L609 358.6L610 357.5L611 358.4L612 356.1L613 356.3L614 355.0L615 356.6L616 356.9L617 356.1L618 357.4L619 356.6L620 355.4L621 357.1L622 356.5L623 355.7L624 354.4L625 353.4L626 354.3L627 353.6L628 352.7L629 352.0L630 349.7L631 350.6L632 350.9L633 351.1L634 350.6L635 351.2L636 351.2L637 351.5L638 350.2L639 350.3L640 349.4L641 348.9L642 350.2L643 350.7L644 351.9L645 351.9L646 351.1L647 350.6L648 352.0L649 351.7L650 352.6L651 351.9L652 351.6L653 350.8L654 350.6L655 351.2L656 352.1L657 353.4L658 353.8L659 352.6L660 352.3L661 353.0L662 355.6L663 357.8L664 358.8L665 359.6L666 360.7L667 362.2L668 365.6L669 366.7L670 366.9L671 368.8L672 369.6L673 370.0L674 371.3L675 373.6L676 375.8L677 377.6L678 378.3L679 379.6L680 378.9L681 378.6L682 378.7L683 379.8L684 379.2L685 380.1L686 380.4L687 381.3L688 382.8L689 384.0L690 382.9L691 384.0L692 384.8L693 385.6L694 386.7L695 386.5L696 386.2L697 386.7L698 385.5L699 386.2L700 386.9L701 386.7L702 388.0L703 389.5L704 389.1L705 386.9L706 386.4L707 386.6L708 385.9L709 386.8L710 387.9L711 388.6L712 388.2L713 388.1L714 389.4L715 388.3L716 389.1L717 388.3L718 389.1L719 388.4L720 388.3L721 388.2L722 387.3L723 387.8L724 388.7L725 388.8L726 389.1L727 389.1L728 390.6L729 390.4L730 389.7L731 390.0L732 390.3L733 387.4L734 388.1L735 390.0L736 389.8L737 389.8L738 389.1L739 389.0L740 389.9L741 389.0L742 389.7L743 390.6L744 389.7L745 390.1L746 389.8L747 388.9L748 388.1L749 388.3L750 389.0L751 388.9L752 390.1L753 389.2L754 388.7L755 388.3L756 388.6L757 389.3L758 389.9L759 390.9L760 391.2L761 389.0L762 389.8L763 388.5L764 388.1L765 388.5L766 390.2L767 389.9L768 390.1L769 390.0L770 389.4L771 388.7L772 388.8L773 389.0L774 390.6L775 391.3L776 390.9L777 390.6L778 389.3L779 389.8L780 392.8L781 391.4L782 391.3L783 390.6L784 390.8L785 390.8L786 390.5L787 390.6L788 391.1L789 390.4L790 388.0L791 389.3L792 391.5L793 390.7L794 390.2L795 390.3L796 390.7L797 389.6L798 390.7L799 392.0L800 393.2L801 391.4L802 390.8L803 390.3L804 392.1L805 391.5L806 390.6L807 391.0L808 390.4L809 390.7L810 390.7L811 389.7L812 388.1L813 388.8L814 388.7L815 388.8L816 389.9L817 390.8L818 391.0L819 391.0L820 391.5L821 391.9L822 392.1L823 390.8L824 390.7L825 389.2L826 390.6L827 389.3L828 390.0L829 389.5L830 389.5L831 390.0L832 390.6L833 390.1L834 389.9L835 389.6L836 390.5L837 390.4L838 390.5L839 391.4L840 390.6L841 389.7L842 388.8L843 388.5L844 387.3L845 388.9L846 391.5L847 390.4L848 389.7L849 390.1L850 389.1L851 388.4L852 389.9L853 389.0L854 389.5L855 390.9L856 390.4L857 389.8L858 389.0L859 390.3L860 390.7L861 390.7L862 390.9L863 391.6L864 391.7L865 390.4L866 391.2L867 389.8L868 389.9L869 388.3L870 388.0L871 389.0L872 389.8L873 390.3L874 388.7L875 389.8L876 391.1L877 390.6L878 390.4L879 390.9L880 391.4L881 389.1L882 390.7L883 391.6L884 392.1L885 390.7L886 389.7L887 389.8L888 390.4L889 390.9L890 389.0L891 388.5L892 389.2L893 389.0L894 390.6L895 391.1L896 389.9L897 390.7L898 390.5L899 389.4L900 390.8L901 392.3L902 394.0L903 392.4L904 391.0L905 392.4L906 391.3L907 388.8L908 389.1L909 389.2L910 390.0L911 389.4L912 391.2L913 392.2L914 392.0L915 392.1L916 391.8L917 391.4L918 391.3L919 392.0L920 390.8L921 390.0L922 389.2L923 389.3L924 390.2L925 390.1L926 390.1L927 391.4L928 391.3L929 390.6L930 390.2L931 390.4L932 390.7L933 389.5L934 389.2L935 389.3L936 389.3L937 389.9L938 390.1L939 390.5L940 391.6L941 391.0L942 391.2L943 391.0L944 392.1L945 390.6L946 389.9L947 391.3L948 391.4L949 390.6L950 389.0L951 391.1L952 391.9L953 391.0L954 389.8L955 390.2L956 389.8L957 388.8L958 390.3L959 388.9L960 390.0L961 390.7L962 390.7L963 390.6L964 393.5L965 393.4L966 392.7L967 393.5L968 393.4L969 393.5L970 393.4L971 393.6L972 392.5L973 392.1L974 393.0L975 391.9L976 392.6L977 392.0L978 390.8L979 391.7L980 391.2L981 392.4L982 391.6L983 390.3L984 391.8L985 390.0L986 390.8L987 391.2L988 390.4L989 390.8L990 390.4L991 390.7L992 390.7L993 390.7L994 390.8L995 392.0L996 391.1L997 391.6L998 390.8L999 390.2L1000 390.5L1001 390.8L1002 390.8L1003 390.9L1004 390.8L1005 392.5L1006 390.7L1007 392.1L1008 392.2L1009 391.8L1010 389.9L1011 389.5L1012 389.2L1013 387.1L1014 388.0L1015 388.7L1016 389.4L1017 389.8L1018 388.4L1019 388.8L1020 389.5L1021 389.6L1022 388.6L1023 388.7L1024 389.3L1025 388.6L1026 389.2L1027 389.3L1028 389.8L1029 390.0L1030 390.1L1031 389.9L1032 388.9L1033 389.9L1034 388.5L1035 388.6L1036 389.4L1037 390.0L1038 390.0L1039 388.8L1040 388.1L1041 388.7L1042 389.0L1043 389.1L1044 389.9L1045 389.4L1046 391.3L1047 390.8L1048 389.9L1049 389.3L1050 389.0L1051 390.5L1052 389.8L1053 387.6L1054 388.7L1055 388.5L1056 388.0L1057 387.8L1058 388.5L1059 388.5L1060 389.3L1061 391.0L1062 390.8L1063 389.5L1064 388.3L1065 386.9L1066 386.3L1067 387.0L1068 386.8L1069 388.3L1070 387.8L1071 388.0L1072 387.6L1073 387.7L1074 388.8L1075 389.5L1076 389.9L1077 389.2L1078 389.1L1079 387.6L1080 386.6L1081 388.2L1082 387.3L1083 386.3L1084 386.3L1085 387.1L1086 387.4L1087 387.9L1088 388.2L1089 388.3L1090 387.7L1091 387.4L1092 387.1L1093 386.8L1094 386.6L1095 388.2L1096 388.5L1097 390.1L1098 388.5L1099 389.1L1100 388.2L1101 386.6L1102 386.9L1103 386.8L1104 386.4L1105 386.9L1106 388.0L1107 387.7L1108 388.9L1109 388.2L1110 385.7L1111 386.4L1112 387.2L1113 386.8L1114 387.9L1115 386.7L1116 387.5L1117 385.3L1118 385.1L1119 385.9L1120 386.6L1121 387.5L1122 385.1L1123 386.6L1124 384.8L1125 385.9L1126 386.0L1127 387.5L1128 387.6L1129 387.8L1130 387.2L1131 386.7L1132 387.5L1133 387.0L1134 387.3L1135 387.0L1136 387.5L1137 386.9L1138 386.4L1139 387.2L1140 385.1L1141 385.7L1142 385.9L1143 387.9L1144 387.5L1145 387.3L1146 388.4L1147 388.7L1148 387.1L1149 386.9L1150 386.0L1151 384.8L1152 386.4L1153 387.3L1154 387.3L1155 387.0L1156 386.4L1157 386.7L1158 385.7L1159 386.6L1160 387.4L1161 387.6L1162 388.2L1163 386.5L1164 386.6L1165 387.8L1166 387.2L1167 387.5L1168 388.4L1169 387.6L1170 386.4L1171 385.7L1172 385.8L1173 385.8L1174 385.5L1175 387.1L1176 385.8L1177 387.0L1178 387.7L1179 386.7L1180 386.2L1181 385.6L1182 385.5L1183 384.5L1184 384.5L1185 385.7L1186 385.8L1187 385.7L1188 385.1L1189 385.4L1190 385.7L1191 386.1L1192 387.1L1193 385.2L1194 385.9L1195 385.9L1196 384.3L1197 384.0L1198 385.4L1199 384.5L1200 384.1L1201 383.6L1202 382.7L1203 381.6L1204 380.9L1205 380.9L1206 381.5L1207 381.3L1208 381.0L1209 380.7L1210 380.3L1211 379.8L1212 379.2L1213 378.8L1214 378.3L1215 377.7L1216 377.2L1217 376.7L1218 376.2L1219 375.7L1220 375.2L1221 374.7L1222 373.9L1223 372.8L1224 371.7L1225 370.6L1226 369.4L1227 368.2L1228 367.0L1229 365.9L1230 364.8L1231 363.3L1232 361.1L1233 358.6L1234 356.1L1235 353.0L1236 348.5L1237 341.6L1238 331.0L1239 317.5L1240 301.0L1241 279.7L1242 256.3L1243 233.5L1244 210.6L1245 189.0L1246 171.1L1247 155.8L1248 142.9L1249 134.3L1250 130.1L1251 131.2L1252 137.3L1253 147.7L1254 161.3L1255 177.6L1256 197.0L1257 218.1L1258 237.0L1259 252.7L1260 266.4L1261 279.4L1262 292.6L1263 306.0L1264 318.7L1265 329.5L1266 338.2L1267 344.7L1268 349.5L1269 353.6L1270 357.2L1271 360.2L1272 362.6L1273 364.9L1274 367.0L1275 368.9L1276 370.4L1277 371.7L1278 372.9L1279 374.3L1280 375.5L1281 376.6L1282 377.4L1283 378.0L1284 378.5L1285 379.1L1286 379.6L1287 380.1L1288 380.6L1289 381.2L1290 381.7L1291 382.2L1292 382.7L1293 383.1L1294 383.1L1295 383.0L1296 383.0L1297 383.0L1298 382.9L1299 383.1L1300 383.6L1301 384.0L1302 383.9L1303 383.5L1304 383.2L1305 383.1L1306 383.2L1307 382.8L1308 382.2L1309 381.8L1310 381.6L1311 381.4L1312 381.1L1313 380.9L1314 380.5L1315 380.0L1316 379.7L1317 379.4L1318 379.0L1319 378.5L1320 378.2L1321 377.9L1322 377.9L1323 377.8L1324 377.7L1325 377.8L1326 378.0L1327 378.2L1328 378.5L1329 379.0L1330 379.3L1331 379.6L1332 379.9L1333 380.3L1334 380.8L1335 381.1L1336 381.4L1337 381.7L1338 382.0L1339 382.1L1340 382.2L1341 382.6L1342 382.8L1343 382.9L1344 382.8L1345 382.7L1346 382.6L1347 382.5L1348 382.5L1349 382.5L1350 382.4L1351 382.2L1352 381.8L1353 381.4L1354 381.0L1355 381.0L1356 381.0L1357 380.8L1358 380.3L1359 380.0L1360 380.1L1361 380.3L1362 380.3L1363 380.3L1364 380.5L1365 380.6L1366 380.7L1367 380.8L1368 380.9L1369 381.0L1370 381.2L1371 381.4L1372 381.5L1373 381.5L1374 381.2L1375 380.7L1376 379.8L1377 378.3L1378 376.5L1379 374.7L1380 372.9L1381 371.0L1382 369.3L1383 367.6L1384 365.8L1385 364.1L1386 362.2L1387 360.2L1388 358.6L1389 357.7L1390 357.1L1391 356.6L1392 356.4L1393 356.8L1394 357.5L1395 358.5L1396 359.5L1397 360.2L1398 360.8L1399 361.4L1400 361.9L1401 362.4L1402 363.2L1403 364.0L1404 364.7L1405 365.5L1406 366.0L1407 366.1L1408 365.8L1409 365.5L1410 364.9L1411 364.0L1412 363.4L1413 363.1L1414 362.9L1415 362.2L1416 361.2L1417 360.3L1418 359.9L1419 359.6L1420 359.3L1421 358.9L1422 358.5L1423 357.9L1424 357.2L1425 356.2L1426 355.3L1427 354.6L1428 354.2L1429 353.6L1430 352.9L1431 352.1L1432 351.6L1433 351.2L1434 351.3L1435 352.1L1436 353.2L1437 354.3L1438 355.3L1439 356.4L1440 357.3L1441 357.4L1442 356.6L1443 354.9L1444 352.7L1445 350.0L1446 347.1L1447 344.1L1448 340.9L1449 337.9L1450 335.4L1451 333.7L1452 333.2L1453 334.0L1454 335.6L1455 337.1L1456 338.5L1457 340.2L1458 342.4L1459 344.6L1460 346.3L1461 347.7L1462 349.3L1463 350.9L1464 352.0L1465 352.9L1466 354.3L1467 355.7L1468 356.7L1469 356.7L1470 356.0L1471 354.9L1472 353.7L1473 352.7L1474 351.4L1475 349.9L1476 348.4L1477 347.0L1478 345.8L1479 344.7L1480 343.5L1481 342.1L1482 340.6L1483 339.3L1484 338.3L1485 337.0L1486 336.0L1487 335.3L1488 335.0L1489 334.6L1490 334.4L1491 334.4L1492 334.4L1493 334.4L1494 334.0L1495 332.8L1496 330.6L1497 327.7L1498 324.3L1499 320.7L1500 316.9L1501 313.1L1502 309.4L1503 305.4L1504 301.7L1505 298.5L1506 296.0L1507 294.1L1508 293.2L1509 292.9L1510 292.9L1511 292.8L1512 292.9L1513 293.1L1514 293.6L1515 294.1L1516 294.6L1517 294.8L1518 294.4L1519 294.1L1520 294.0L1521 294.0L1522 293.4L1523 292.4L1524 291.3L1525 290.5L1526 290.0L1527 289.3L1528 288.4L1529 287.4L1530 286.5L1531 285.8L1532 284.8L1533 283.5L1534 282.3L1535 281.6L1536 281.3L1537 281.2L1538 281.1L1539 281.4L1540 282.0L1541 282.6L1542 283.2L1543 283.9L1544 284.7L1545 285.4L1546 286.0L1547 286.5L1548 287.1L1549 287.6L1550 287.4L1551 286.8L1552 285.6L1553 284.3L1554 282.8L1555 281.4L1556 280.0L1557 278.5L1558 277.1L1559 275.9L1560 274.8L1561 273.3L1562 272.1L1563 271.4L1564 271.6L1565 272.5L1566 274.3L1567 276.2L1568 277.8L1569 279.1L1570 280.4L1571 281.2L1572 281.5L1573 281.2L1574 280.3L1575 279.1L1576 277.9L1577 276.5L1578 275.1L1579 274.0L1580 273.9L1581 275.0L1582 276.9L1583 279.5L1584 282.3L1585 285.1L1586 287.8L1587 290.7L1588 294.1L1589 297.9L1590 302.1L1591 306.8L1592 311.9L1593 317.0L1594 321.3L1595 324.6L1596 327.2L1597 329.3L1598 331.3L1599 333.1L1600 334.6L1601 335.8L1602 337.2L1603 338.4L1604 339.1L1605 339.4L1606 339.4L1607 339.4L1608 339.2L1609 338.9L1610 338.4L1611 337.8L1612 337.7L1613 337.7L1614 337.5L1615 337.1L1616 337.1L1617 337.7L1618 338.5L1619 339.5L1620 340.8L1621 342.1L1622 343.3L1623 344.6L1624 345.7L1625 346.4L1626 347.0L1627 347.6L1628 348.3L1629 348.9L1630 349.7L1631 350.4L1632 350.8L1633 351.2L1634 351.6L1635 351.9L1636 352.1L1637 352.5L1638 353.0L1639 353.5L1640 353.8L1641 354.0L1642 354.4L1643 355.0L1644 356.0L1645 357.2L1646 358.4L1647 359.5L1648 360.9L1649 362.5L1650 363.8L1651 364.9L1652 366.0L1653 367.1L1654 367.9L1655 368.4L1656 368.4L1657 367.8L1658 367.2L1659 366.8L1660 366.4L1661 365.4L1662 364.4L1663 364.1L1664 364.6L1665 365.3L1666 365.8L1667 366.2L1668 366.9L1669 367.7L1670 368.4L1671 369.2L1672 370.2L1673 370.9L1674 371.4L1675 372.1L1676 373.0L1677 373.9L1678 374.6L1679 375.5L1680 376.8L1681 378.2L1682 379.2L1683 379.9L1684 380.7L1685 381.6L1686 382.4L1687 383.4L1688 384.5L1689 385.1L1690 385.1L1691 383.0L1692 384.5L1693 384.5L1694 383.0L1695 382.0L1696 382.3L1697 382.8L1698 382.7L1699 382.1L1700 381.4L1701 381.6L1702 381.1L1703 379.9L1704 378.7L1705 377.8L1706 377.4L1707 377.3L1708 378.0L1709 378.4L1710 379.5L1711 380.2L1712 380.7L1713 380.8L1714 381.0L1715 380.8L1716 380.5L1717 381.0L1718 382.3L1719 383.4L1720 384.1L1721 384.9L1722 385.4L1723 384.8L1724 383.8L1725 383.3L1726 383.2L1727 382.6L1728 381.2L1729 379.5L1730 378.2L1731 378.1L1732 379.9L1733 381.7L1734 382.5L1735 382.5L1736 382.5L1737 382.3L1738 382.5L1739 382.5L1740 381.9" fill="none" stroke="#000" stroke-width="7.7" stroke-linejoin="round" stroke-linecap="butt"/>
<rect x="274.2" y="98.8" width="9.6" height="900" fill="#000"/>
<rect x="274.2" y="990.2" width="1469" height="8.6" fill="#000"/>
<rect x="265" y="99.2" width="12" height="8.6" fill="#000"/>
<rect x="265" y="198.2" width="12" height="8.6" fill="#000"/>
<rect x="265" y="297.2" width="12" height="8.6" fill="#000"/>
<rect x="265" y="396.2" width="12" height="8.6" fill="#000"/>
<rect x="265" y="495.2" width="12" height="8.6" fill="#000"/>
<rect x="265" y="594.2" width="12" height="8.6" fill="#000"/>
<rect x="265" y="693.2" width="12" height="8.6" fill="#000"/>
<rect x="265" y="792.2" width="12" height="8.6" fill="#000"/>
<rect x="265" y="891.2" width="12" height="8.6" fill="#000"/>
<rect x="265" y="990.2" width="12" height="8.6" fill="#000"/>
<rect x="274.8" y="992" width="8.4" height="18.5" fill="#000"/>
<rect x="483.5" y="992" width="8.4" height="18.5" fill="#000"/>
<rect x="692.2" y="992" width="8.4" height="18.5" fill="#000"/>
<rect x="900.9" y="992" width="8.4" height="18.5" fill="#000"/>
<rect x="1109.6" y="992" width="8.4" height="18.5" fill="#000"/>
<rect x="1318.3" y="992" width="8.4" height="18.5" fill="#000"/>
<rect x="1527.0" y="992" width="8.4" height="18.5" fill="#000"/>
<rect x="1735.7" y="992" width="8.4" height="18.5" fill="#000"/>
<text class="tr" x="237.5" y="116.2" font-size="48" text-anchor="end" stroke="#000" stroke-width="1.5">0.09</text>
<text class="tr" x="237.5" y="415.5" font-size="48" text-anchor="end" stroke="#000" stroke-width="1.5">0.06</text>
<text class="tr" x="237.5" y="714.5" font-size="48" text-anchor="end" stroke="#000" stroke-width="1.5">0.03</text>
<text class="tr" x="237.5" y="1009.5" font-size="48" text-anchor="end" stroke="#000" stroke-width="1.5">0</text>
<text class="sb" x="280.0" y="1071.3" font-size="50" text-anchor="middle">3600</text>
<text class="sb" x="488.7" y="1071.3" font-size="50" text-anchor="middle">3200</text>
<text class="sb" x="697.4" y="1071.3" font-size="50" text-anchor="middle">2800</text>
<text class="sb" x="906.1" y="1071.3" font-size="50" text-anchor="middle">2400</text>
<text class="sb" x="1114.8" y="1071.3" font-size="50" text-anchor="middle">2000</text>
<text class="sb" x="1323.5" y="1071.3" font-size="50" text-anchor="middle">1600</text>
<text class="sb" x="1532.2" y="1071.3" font-size="50" text-anchor="middle">1200</text>
<text class="sb" x="1740.9" y="1071.3" font-size="50" text-anchor="middle">800</text>
<text class="sb" x="733" y="1144.8" font-size="56" textLength="546" lengthAdjust="spacingAndGlyphs">Wavenumbers / cm<tspan font-size="34" dy="-22">-1</tspan></text>
<text class="sb" transform="translate(83 948.5) rotate(-90)" font-size="57.23">Normalized Intensity / a.u.</text>
<text class="sb" x="740.0" y="352.0" font-size="44" textLength="430.5" lengthAdjust="spacingAndGlyphs">SMAMP-<tspan font-style="italic">co</tspan>-25%PEG</text>
<text class="sb" x="757.0" y="563.3" font-size="44" textLength="428.5" lengthAdjust="spacingAndGlyphs">SMAMP-<tspan font-style="italic">co</tspan>-10%PEG</text>
<text class="sb" x="764.0" y="756.7" font-size="44" textLength="406.5" lengthAdjust="spacingAndGlyphs">SMAMP-<tspan font-style="italic">co</tspan>-5%PEG</text>
<text class="sb" x="878.5" y="943.3" font-size="44" textLength="167.0" lengthAdjust="spacingAndGlyphs">SMAMP</text>
<polygon points="367.2,257.2 369.9,324.5 359.9,321.9 376.0,350.3 389.8,320.7 380.1,324.1 377.4,256.8" fill="#000"/>
<polygon points="375.9,460.1 377.7,528.1 367.7,525.4 383.5,554.0 397.7,524.6 387.9,527.9 386.1,459.9" fill="#000"/>
<polygon points="375.9,650.1 377.7,718.1 367.7,715.4 383.5,744.0 397.7,714.6 387.9,717.9 386.1,649.9" fill="#000"/>
<polygon points="380.4,824.1 381.8,891.1 371.9,888.3 387.5,917.0 401.9,887.7 392.0,890.9 390.6,823.9" fill="#000"/>
<polygon points="1312.8,272.1 1327.2,272.1 1327.2,311.0 1335.4,311.0 1320.0,355.5 1304.6,311.0 1312.8,311.0" fill="#fff" stroke="#000" stroke-width="4.2" stroke-linejoin="miter"/>
<polygon points="1313.3,477.1 1327.7,477.1 1327.7,512.5 1335.9,512.5 1320.5,556.5 1305.1,512.5 1313.3,512.5" fill="#fff" stroke="#000" stroke-width="4.2" stroke-linejoin="miter"/>
<polygon points="1313.3,677.1 1327.7,677.1 1327.7,717.0 1335.9,717.0 1320.5,759.5 1305.1,717.0 1313.3,717.0" fill="#fff" stroke="#000" stroke-width="4.2" stroke-linejoin="miter"/>
<polygon points="1315.8,822.1 1330.2,822.1 1330.2,863.0 1338.4,863.0 1323.0,902.5 1307.6,863.0 1315.8,863.0" fill="#fff" stroke="#000" stroke-width="4.2" stroke-linejoin="miter"/>
</g>
<svg x="130.0" y="1271.0" width="634.5" height="633.5" overflow="hidden">
<g filter="url(#f1)">
<rect width="640" height="640" fill="#8c8c8c"/>
<g filter="url(#b15)">
<circle cx="24" cy="4" r="5.1" fill="#383838"/>
<circle cx="94" cy="30" r="7.1" fill="#000000"/>
<circle cx="335" cy="19" r="11.2" fill="#000000"/>
<circle cx="52" cy="78" r="10.2" fill="#000000"/>
<circle cx="475" cy="54" r="8.1" fill="#000000"/>
<circle cx="275" cy="54" r="6.1" fill="#000000"/>
<circle cx="590" cy="85" r="9.1" fill="#000000"/>
<circle cx="404" cy="103" r="8.1" fill="#000000"/>
<circle cx="187" cy="79" r="4.6" fill="#383838"/>
<circle cx="267" cy="133" r="9.1" fill="#000000"/>
<circle cx="9" cy="158" r="8.1" fill="#000000"/>
<circle cx="80" cy="157" r="7.1" fill="#000000"/>
<circle cx="184" cy="149" r="4.1" fill="#383838"/>
<circle cx="503" cy="148" r="6.1" fill="#000000"/>
<circle cx="607" cy="146" r="7.1" fill="#000000"/>
<circle cx="297" cy="190" r="7.1" fill="#000000"/>
<circle cx="135" cy="199" r="9.1" fill="#000000"/>
<circle cx="220" cy="205" r="9.1" fill="#000000"/>
<circle cx="520" cy="202" r="5.1" fill="#383838"/>
<circle cx="452" cy="219" r="9.1" fill="#000000"/>
<circle cx="569" cy="237" r="7.1" fill="#000000"/>
<circle cx="343" cy="255" r="12.2" fill="#000000"/>
<circle cx="469" cy="248" r="4.1" fill="#383838"/>
<circle cx="130" cy="298" r="8.1" fill="#000000"/>
<circle cx="522" cy="288" r="7.1" fill="#000000"/>
<circle cx="61" cy="289" r="4.1" fill="#383838"/>
<circle cx="72" cy="325" r="7.1" fill="#000000"/>
<circle cx="184" cy="321" r="8.1" fill="#000000"/>
<circle cx="486" cy="344" r="8.1" fill="#000000"/>
<circle cx="512" cy="352" r="5.1" fill="#383838"/>
<circle cx="341" cy="359" r="9.1" fill="#000000"/>
<circle cx="404" cy="369" r="6.1" fill="#000000"/>
<circle cx="598" cy="380" r="9.1" fill="#000000"/>
<circle cx="167" cy="382" r="5.1" fill="#383838"/>
<circle cx="320" cy="426" r="8.1" fill="#000000"/>
<circle cx="469" cy="431" r="8.1" fill="#000000"/>
<circle cx="30" cy="450" r="9.1" fill="#000000"/>
<circle cx="173" cy="447" r="11.2" fill="#000000"/>
<circle cx="262" cy="448" r="6.1" fill="#000000"/>
<circle cx="396" cy="451" r="5.1" fill="#383838"/>
<circle cx="559" cy="460" r="9.1" fill="#000000"/>
<circle cx="255" cy="510" r="6.1" fill="#000000"/>
<circle cx="95" cy="527" r="7.1" fill="#000000"/>
<circle cx="189" cy="537" r="10.2" fill="#000000"/>
<circle cx="375" cy="541" r="9.1" fill="#000000"/>
<circle cx="315" cy="553" r="6.1" fill="#000000"/>
<circle cx="465" cy="553" r="7.1" fill="#000000"/>
<circle cx="511" cy="531" r="5.1" fill="#383838"/>
<circle cx="49" cy="558" r="5.1" fill="#383838"/>
<circle cx="578" cy="577" r="8.1" fill="#000000"/>
<circle cx="184" cy="593" r="5.1" fill="#383838"/>
<circle cx="74" cy="615" r="6.1" fill="#000000"/>
<circle cx="105" cy="629" r="6.1" fill="#000000"/>
<circle cx="478" cy="623" r="6.1" fill="#000000"/>
<circle cx="610" cy="612" r="4.1" fill="#383838"/>
<circle cx="630" cy="612" r="4.1" fill="#383838"/>
<circle cx="584" cy="408" r="3.4" fill="#5f5f5f"/>
<circle cx="55" cy="500" r="2.7" fill="#6a6a6a"/>
<circle cx="153" cy="346" r="2.8" fill="#6e6e6e"/>
<circle cx="531" cy="374" r="2.7" fill="#636363"/>
<circle cx="448" cy="268" r="2.3" fill="#6f6f6f"/>
<circle cx="287" cy="112" r="2.3" fill="#636363"/>
<circle cx="42" cy="477" r="2.3" fill="#676767"/>
<circle cx="231" cy="97" r="3.1" fill="#676767"/>
<circle cx="23" cy="523" r="2.6" fill="#606060"/>
<circle cx="409" cy="68" r="2.8" fill="#666666"/>
<circle cx="283" cy="620" r="3.4" fill="#646464"/>
<circle cx="568" cy="497" r="2.6" fill="#646464"/>
<circle cx="82" cy="268" r="3.7" fill="#656565"/>
<circle cx="276" cy="582" r="3.7" fill="#626262"/>
<circle cx="451" cy="32" r="2.4" fill="#696969"/>
<circle cx="374" cy="208" r="2.4" fill="#626262"/>
<circle cx="544" cy="434" r="3.8" fill="#646464"/>
<circle cx="288" cy="551" r="3.2" fill="#646464"/>
<circle cx="344" cy="71" r="3.5" fill="#616161"/>
<circle cx="327" cy="334" r="2.6" fill="#737373"/>
<circle cx="267" cy="603" r="3.5" fill="#686868"/>
<circle cx="8" cy="38" r="3.5" fill="#666666"/>
<circle cx="34" cy="165" r="2.6" fill="#747474"/>
<circle cx="567" cy="128" r="2.4" fill="#6a6a6a"/>
<circle cx="473" cy="381" r="3.7" fill="#747474"/>
<circle cx="357" cy="566" r="2.7" fill="#6f6f6f"/>
<circle cx="136" cy="183" r="2.6" fill="#626262"/>
<circle cx="9" cy="387" r="3.6" fill="#626262"/>
<circle cx="550" cy="271" r="2.5" fill="#5d5d5d"/>
<circle cx="268" cy="467" r="3.0" fill="#6e6e6e"/>
<circle cx="588" cy="287" r="2.8" fill="#656565"/>
<circle cx="585" cy="18" r="2.6" fill="#5e5e5e"/>
<circle cx="359" cy="187" r="3.4" fill="#5e5e5e"/>
<circle cx="17" cy="446" r="3.5" fill="#656565"/>
<circle cx="157" cy="167" r="3.0" fill="#646464"/>
<circle cx="456" cy="388" r="2.3" fill="#606060"/>
<circle cx="616" cy="299" r="3.4" fill="#616161"/>
<circle cx="408" cy="579" r="2.3" fill="#606060"/>
<circle cx="188" cy="199" r="2.7" fill="#6b6b6b"/>
<circle cx="634" cy="225" r="2.2" fill="#5e5e5e"/>
<circle cx="249" cy="384" r="3.6" fill="#5f5f5f"/>
<circle cx="225" cy="349" r="3.5" fill="#6b6b6b"/>
<circle cx="632" cy="476" r="2.2" fill="#737373"/>
<circle cx="622" cy="214" r="3.2" fill="#6b6b6b"/>
<circle cx="586" cy="526" r="3.6" fill="#727272"/>
<circle cx="293" cy="446" r="3.7" fill="#636363"/>
<circle cx="288" cy="147" r="3.1" fill="#626262"/>
<circle cx="217" cy="145" r="2.9" fill="#606060"/>
<circle cx="627" cy="289" r="3.1" fill="#6f6f6f"/>
<circle cx="588" cy="465" r="2.3" fill="#717171"/>
<circle cx="356" cy="357" r="3.7" fill="#626262"/>
<circle cx="582" cy="153" r="3.6" fill="#6a6a6a"/>
<circle cx="423" cy="323" r="2.9" fill="#717171"/>
<circle cx="492" cy="130" r="3.0" fill="#6b6b6b"/>
<circle cx="454" cy="368" r="2.2" fill="#6e6e6e"/>
<circle cx="67" cy="612" r="2.5" fill="#747474"/>
<circle cx="341" cy="584" r="3.2" fill="#757575"/>
<circle cx="13" cy="309" r="3.0" fill="#626262"/>
<circle cx="455" cy="62" r="2.6" fill="#6a6a6a"/>
<circle cx="1" cy="513" r="3.5" fill="#626262"/>
<circle cx="158" cy="409" r="3.5" fill="#707070"/>
<circle cx="330" cy="84" r="2.4" fill="#747474"/>
<circle cx="96" cy="243" r="3.3" fill="#5c5c5c"/>
<circle cx="493" cy="142" r="2.3" fill="#626262"/>
<circle cx="154" cy="277" r="3.1" fill="#737373"/>
<circle cx="240" cy="250" r="2.4" fill="#636363"/>
<circle cx="516" cy="95" r="2.5" fill="#696969"/>
<circle cx="596" cy="424" r="2.9" fill="#707070"/>
<circle cx="227" cy="472" r="3.1" fill="#646464"/>
<circle cx="434" cy="163" r="2.3" fill="#707070"/>
<circle cx="437" cy="122" r="3.6" fill="#5d5d5d"/>
<circle cx="418" cy="585" r="2.5" fill="#666666"/>
<circle cx="91" cy="493" r="3.6" fill="#646464"/>
<circle cx="75" cy="51" r="2.9" fill="#656565"/>
<circle cx="511" cy="532" r="3.2" fill="#636363"/>
<circle cx="628" cy="416" r="3.3" fill="#686868"/>
<circle cx="490" cy="457" r="2.7" fill="#6a6a6a"/>
<circle cx="383" cy="619" r="2.9" fill="#656565"/>
<circle cx="100" cy="149" r="2.7" fill="#606060"/>
<circle cx="69" cy="26" r="3.2" fill="#666666"/>
<circle cx="53" cy="90" r="3.6" fill="#747474"/>
<circle cx="161" cy="151" r="2.2" fill="#5e5e5e"/>
<circle cx="87" cy="152" r="2.9" fill="#636363"/>
<circle cx="307" cy="190" r="3.4" fill="#606060"/>
<circle cx="536" cy="344" r="2.6" fill="#606060"/>
<circle cx="346" cy="343" r="2.9" fill="#757575"/>
<circle cx="122" cy="192" r="2.6" fill="#626262"/>
<circle cx="136" cy="101" r="3.6" fill="#636363"/>
<circle cx="171" cy="238" r="2.5" fill="#757575"/>
<circle cx="157" cy="571" r="2.5" fill="#6b6b6b"/>
<circle cx="242" cy="204" r="2.4" fill="#747474"/>
<circle cx="94" cy="435" r="3.6" fill="#636363"/>
<circle cx="37" cy="78" r="2.6" fill="#606060"/>
<circle cx="97" cy="37" r="3.6" fill="#6b6b6b"/>
<circle cx="409" cy="37" r="2.9" fill="#6b6b6b"/>
<circle cx="523" cy="324" r="2.4" fill="#626262"/>
<circle cx="422" cy="66" r="3.1" fill="#717171"/>
<circle cx="351" cy="454" r="3.7" fill="#747474"/>
<circle cx="102" cy="578" r="3.2" fill="#6a6a6a"/>
<circle cx="273" cy="247" r="2.6" fill="#636363"/>
<circle cx="564" cy="102" r="3.0" fill="#6d6d6d"/>
<circle cx="369" cy="553" r="2.8" fill="#696969"/>
<circle cx="33" cy="65" r="2.7" fill="#636363"/>
<circle cx="618" cy="472" r="3.1" fill="#686868"/>
<circle cx="125" cy="233" r="3.1" fill="#757575"/>
<circle cx="208" cy="104" r="3.3" fill="#707070"/>
<circle cx="608" cy="419" r="3.6" fill="#5e5e5e"/>
<circle cx="219" cy="325" r="2.7" fill="#717171"/>
<circle cx="61" cy="478" r="3.7" fill="#626262"/>
<circle cx="160" cy="353" r="3.4" fill="#6f6f6f"/>
<circle cx="363" cy="147" r="2.8" fill="#5d5d5d"/>
<circle cx="307" cy="77" r="2.9" fill="#5f5f5f"/>
<circle cx="612" cy="410" r="2.4" fill="#666666"/>
<circle cx="164" cy="73" r="3.1" fill="#676767"/>
<circle cx="559" cy="441" r="2.9" fill="#6c6c6c"/>
<circle cx="431" cy="372" r="2.9" fill="#6f6f6f"/>
<circle cx="128" cy="427" r="2.5" fill="#626262"/>
<circle cx="630" cy="343" r="3.4" fill="#6e6e6e"/>
<circle cx="494" cy="336" r="3.6" fill="#5f5f5f"/>
<circle cx="221" cy="31" r="2.9" fill="#626262"/>
<circle cx="252" cy="441" r="2.4" fill="#5e5e5e"/>
<circle cx="563" cy="435" r="2.6" fill="#5f5f5f"/>
<circle cx="438" cy="102" r="3.7" fill="#6f6f6f"/>
<circle cx="503" cy="424" r="2.5" fill="#616161"/>
<circle cx="432" cy="178" r="3.0" fill="#727272"/>
<circle cx="453" cy="510" r="3.3" fill="#707070"/>
<circle cx="193" cy="166" r="2.9" fill="#727272"/>
<circle cx="239" cy="134" r="2.9" fill="#6c6c6c"/>
<circle cx="207" cy="22" r="3.0" fill="#737373"/>
<circle cx="23" cy="474" r="3.2" fill="#606060"/>
<circle cx="120" cy="435" r="2.5" fill="#747474"/>
<circle cx="145" cy="206" r="2.6" fill="#686868"/>
<circle cx="629" cy="270" r="3.0" fill="#6e6e6e"/>
<circle cx="8" cy="313" r="2.4" fill="#737373"/>
<circle cx="124" cy="556" r="3.2" fill="#6b6b6b"/>
<circle cx="20" cy="168" r="2.6" fill="#727272"/>
<circle cx="333" cy="374" r="2.6" fill="#5d5d5d"/>
<circle cx="231" cy="205" r="3.2" fill="#6d6d6d"/>
<circle cx="296" cy="118" r="3.4" fill="#606060"/>
<circle cx="88" cy="189" r="3.0" fill="#696969"/>
<circle cx="332" cy="226" r="3.7" fill="#6c6c6c"/>
<circle cx="408" cy="615" r="2.5" fill="#6c6c6c"/>
<circle cx="284" cy="297" r="2.8" fill="#666666"/>
<circle cx="475" cy="179" r="2.5" fill="#616161"/>
<circle cx="609" cy="254" r="3.1" fill="#6b6b6b"/>
<circle cx="235" cy="367" r="2.2" fill="#666666"/>
<circle cx="478" cy="399" r="2.6" fill="#636363"/>
<circle cx="266" cy="222" r="2.8" fill="#747474"/>
<circle cx="66" cy="438" r="2.9" fill="#747474"/>
<circle cx="478" cy="367" r="2.4" fill="#696969"/>
<circle cx="508" cy="251" r="3.6" fill="#707070"/>
<circle cx="283" cy="623" r="3.4" fill="#6c6c6c"/>
<circle cx="412" cy="114" r="2.3" fill="#676767"/>
<circle cx="517" cy="572" r="3.5" fill="#656565"/>
<circle cx="481" cy="420" r="3.4" fill="#727272"/>
<circle cx="283" cy="511" r="3.8" fill="#707070"/>
<circle cx="71" cy="78" r="3.5" fill="#6e6e6e"/>
<circle cx="609" cy="133" r="3.1" fill="#636363"/>
<circle cx="278" cy="123" r="2.3" fill="#707070"/>
<circle cx="374" cy="118" r="2.3" fill="#727272"/>
<circle cx="298" cy="355" r="2.3" fill="#626262"/>
<circle cx="222" cy="440" r="2.7" fill="#5e5e5e"/>
<circle cx="208" cy="38" r="3.6" fill="#626262"/>
<circle cx="236" cy="558" r="2.8" fill="#5f5f5f"/>
<circle cx="629" cy="319" r="2.9" fill="#666666"/>
<circle cx="364" cy="580" r="3.4" fill="#666666"/>
<circle cx="306" cy="614" r="2.5" fill="#707070"/>
<circle cx="525" cy="174" r="2.4" fill="#6d6d6d"/>
<circle cx="33" cy="286" r="3.1" fill="#6f6f6f"/>
<circle cx="376" cy="167" r="3.6" fill="#717171"/>
<circle cx="599" cy="102" r="6.3" fill="#dbdbdb"/>
<circle cx="585" cy="141" r="4.5" fill="#dbdbdb"/>
<circle cx="390" cy="314" r="6.3" fill="#dbdbdb"/>
<circle cx="337" cy="228" r="4.5" fill="#dbdbdb"/>
<circle cx="155" cy="595" r="6.3" fill="#dbdbdb"/>
<circle cx="91" cy="625" r="6.3" fill="#dbdbdb"/>
<circle cx="17" cy="526" r="2.7" fill="#dbdbdb"/>
<circle cx="576" cy="226" r="2.7" fill="#dbdbdb"/>
<circle cx="252" cy="558" r="3.6" fill="#dbdbdb"/>
<circle cx="568" cy="468" r="2.7" fill="#dbdbdb"/>
<circle cx="537" cy="601" r="3.6" fill="#dbdbdb"/>
</g>
</g></svg>
<g filter="url(#soft)">
<text class="tw" x="310.0" y="1348.3" font-size="68.5" textLength="260.5" lengthAdjust="spacingAndGlyphs">SMAMP*</text>
<rect x="864.6" y="1428.5" width="49" height="321" fill="url(#cb)" stroke="#1c1408" stroke-width="3"/>
<text class="sr" x="882.2" y="1420.0" font-size="44.2" text-anchor="middle">23.0 nm</text>
<rect x="611.7" y="1913.3" width="130" height="8.6" fill="#0c0c0c"/>
<text class="sr" x="610.2" y="1958.0" font-size="43.2">1.0 µm</text>
</g>
<svg x="1027.0" y="1271.0" width="634.5" height="633.5" overflow="hidden">
<g filter="url(#f2)">
<rect width="640" height="640" fill="#6f6f6f"/>
<g filter="url(#b1)">
<circle cx="31" cy="183" r="3.7" fill="#a9a9a9"/>
<circle cx="457" cy="14" r="3.8" fill="#cccccc"/>
<circle cx="131" cy="32" r="4.8" fill="#a8a8a8"/>
<circle cx="192" cy="421" r="4.9" fill="#b9b9b9"/>
<circle cx="195" cy="370" r="5.2" fill="#b5b5b5"/>
<circle cx="44" cy="550" r="4.8" fill="#bebebe"/>
<circle cx="85" cy="113" r="5.1" fill="#a4a4a4"/>
<circle cx="315" cy="548" r="4.3" fill="#ababab"/>
<circle cx="482" cy="616" r="5.0" fill="#bfbfbf"/>
<circle cx="482" cy="244" r="3.6" fill="#cbcbcb"/>
<circle cx="259" cy="453" r="3.9" fill="#c7c7c7"/>
<circle cx="172" cy="542" r="4.8" fill="#a5a5a5"/>
<circle cx="579" cy="483" r="3.8" fill="#a1a1a1"/>
<circle cx="190" cy="180" r="4.2" fill="#a7a7a7"/>
<circle cx="208" cy="292" r="3.7" fill="#c1c1c1"/>
<circle cx="345" cy="138" r="3.2" fill="#a1a1a1"/>
<circle cx="508" cy="461" r="4.5" fill="#b1b1b1"/>
<circle cx="539" cy="170" r="4.0" fill="#c2c2c2"/>
<circle cx="390" cy="414" r="3.9" fill="#cccccc"/>
<circle cx="245" cy="260" r="4.2" fill="#a9a9a9"/>
<circle cx="514" cy="381" r="5.2" fill="#aaaaaa"/>
<circle cx="570" cy="311" r="4.4" fill="#c0c0c0"/>
<circle cx="526" cy="545" r="4.2" fill="#c3c3c3"/>
<circle cx="500" cy="563" r="3.9" fill="#b1b1b1"/>
<circle cx="443" cy="288" r="3.6" fill="#bdbdbd"/>
<circle cx="194" cy="520" r="3.4" fill="#cacaca"/>
<circle cx="89" cy="255" r="5.0" fill="#141414"/>
<circle cx="147" cy="375" r="4.9" fill="#a1a1a1"/>
<circle cx="562" cy="208" r="3.3" fill="#b1b1b1"/>
<circle cx="511" cy="506" r="4.9" fill="#c0c0c0"/>
<circle cx="422" cy="155" r="4.6" fill="#bfbfbf"/>
<circle cx="520" cy="297" r="4.6" fill="#c5c5c5"/>
<circle cx="469" cy="292" r="3.3" fill="#afafaf"/>
<circle cx="548" cy="446" r="3.6" fill="#b2b2b2"/>
<circle cx="107" cy="114" r="4.7" fill="#a9a9a9"/>
<circle cx="539" cy="232" r="5.0" fill="#141414"/>
<circle cx="242" cy="26" r="3.3" fill="#cbcbcb"/>
<circle cx="402" cy="510" r="4.4" fill="#a8a8a8"/>
<circle cx="569" cy="124" r="4.6" fill="#a4a4a4"/>
<circle cx="544" cy="112" r="4.8" fill="#a8a8a8"/>
<circle cx="237" cy="243" r="4.2" fill="#a9a9a9"/>
<circle cx="362" cy="324" r="4.7" fill="#bababa"/>
<circle cx="336" cy="332" r="4.4" fill="#a7a7a7"/>
<circle cx="591" cy="156" r="3.3" fill="#c4c4c4"/>
<circle cx="132" cy="518" r="3.2" fill="#a5a5a5"/>
<circle cx="586" cy="44" r="4.6" fill="#bcbcbc"/>
<circle cx="496" cy="22" r="5.2" fill="#a7a7a7"/>
<circle cx="323" cy="278" r="3.6" fill="#b7b7b7"/>
<circle cx="438" cy="494" r="3.7" fill="#c1c1c1"/>
<circle cx="30" cy="47" r="5.3" fill="#a6a6a6"/>
<circle cx="384" cy="452" r="3.6" fill="#a1a1a1"/>
<circle cx="96" cy="390" r="5.0" fill="#141414"/>
<circle cx="96" cy="293" r="5.1" fill="#a1a1a1"/>
<circle cx="622" cy="535" r="4.8" fill="#a1a1a1"/>
<circle cx="582" cy="465" r="4.6" fill="#c8c8c8"/>
<circle cx="1" cy="427" r="4.4" fill="#b3b3b3"/>
<circle cx="367" cy="304" r="4.5" fill="#aeaeae"/>
<circle cx="277" cy="231" r="3.7" fill="#acacac"/>
<circle cx="180" cy="490" r="5.4" fill="#e3e3e3"/>
<circle cx="454" cy="103" r="3.7" fill="#a1a1a1"/>
<circle cx="483" cy="499" r="4.1" fill="#bebebe"/>
<circle cx="469" cy="145" r="4.6" fill="#ededed"/>
<circle cx="210" cy="175" r="4.5" fill="#b1b1b1"/>
<circle cx="570" cy="587" r="3.8" fill="#cacaca"/>
<circle cx="392" cy="88" r="4.6" fill="#c3c3c3"/>
<circle cx="87" cy="232" r="4.1" fill="#a2a2a2"/>
<circle cx="73" cy="325" r="3.7" fill="#c4c4c4"/>
<circle cx="165" cy="70" r="3.5" fill="#c7c7c7"/>
<circle cx="119" cy="206" r="3.6" fill="#aaaaaa"/>
<circle cx="422" cy="198" r="3.4" fill="#a5a5a5"/>
<circle cx="332" cy="212" r="3.3" fill="#a1a1a1"/>
<circle cx="56" cy="56" r="4.9" fill="#c7c7c7"/>
<circle cx="160" cy="138" r="3.7" fill="#bcbcbc"/>
<circle cx="40" cy="493" r="4.6" fill="#a2a2a2"/>
<circle cx="315" cy="174" r="3.3" fill="#c5c5c5"/>
<circle cx="514" cy="214" r="3.7" fill="#a1a1a1"/>
<circle cx="124" cy="217" r="4.3" fill="#a8a8a8"/>
<circle cx="427" cy="180" r="4.0" fill="#aaaaaa"/>
<circle cx="169" cy="559" r="4.4" fill="#adadad"/>
<circle cx="342" cy="472" r="3.3" fill="#bababa"/>
<circle cx="570" cy="174" r="4.2" fill="#c4c4c4"/>
<circle cx="338" cy="85" r="5.0" fill="#a5a5a5"/>
<circle cx="610" cy="516" r="3.8" fill="#b6b6b6"/>
<circle cx="413" cy="128" r="3.7" fill="#c5c5c5"/>
<circle cx="616" cy="23" r="4.9" fill="#c8c8c8"/>
<circle cx="269" cy="599" r="3.2" fill="#a2a2a2"/>
<circle cx="203" cy="493" r="4.3" fill="#afafaf"/>
<circle cx="619" cy="445" r="4.9" fill="#f2f2f2"/>
<circle cx="192" cy="615" r="3.2" fill="#a1a1a1"/>
<circle cx="251" cy="604" r="4.4" fill="#a2a2a2"/>
<circle cx="82" cy="595" r="3.5" fill="#acacac"/>
<circle cx="480" cy="29" r="3.7" fill="#a3a3a3"/>
<circle cx="68" cy="517" r="5.1" fill="#c6c6c6"/>
<circle cx="611" cy="374" r="3.8" fill="#a5a5a5"/>
<circle cx="256" cy="416" r="5.2" fill="#bebebe"/>
<circle cx="251" cy="378" r="5.0" fill="#c4c4c4"/>
<circle cx="275" cy="97" r="3.6" fill="#a7a7a7"/>
<circle cx="65" cy="24" r="5.1" fill="#ebebeb"/>
<circle cx="289" cy="81" r="5.0" fill="#bebebe"/>
<circle cx="447" cy="40" r="4.2" fill="#a3a3a3"/>
<circle cx="2" cy="57" r="5.6" fill="#efefef"/>
<circle cx="511" cy="445" r="5.0" fill="#141414"/>
<circle cx="546" cy="509" r="4.9" fill="#a7a7a7"/>
<circle cx="145" cy="323" r="5.0" fill="#aaaaaa"/>
<circle cx="343" cy="186" r="4.0" fill="#a2a2a2"/>
<circle cx="234" cy="171" r="4.9" fill="#a4a4a4"/>
<circle cx="59" cy="478" r="3.8" fill="#a4a4a4"/>
<circle cx="464" cy="2" r="4.5" fill="#cacaca"/>
<circle cx="152" cy="171" r="4.4" fill="#aeaeae"/>
<circle cx="502" cy="322" r="4.1" fill="#bebebe"/>
<circle cx="295" cy="167" r="3.4" fill="#cccccc"/>
<circle cx="383" cy="556" r="4.4" fill="#a3a3a3"/>
<circle cx="630" cy="17" r="4.7" fill="#c0c0c0"/>
<circle cx="333" cy="28" r="4.6" fill="#cbcbcb"/>
<circle cx="535" cy="405" r="4.0" fill="#ababab"/>
<circle cx="251" cy="195" r="3.5" fill="#bababa"/>
<circle cx="39" cy="569" r="4.0" fill="#b8b8b8"/>
<circle cx="578" cy="603" r="4.4" fill="#cacaca"/>
<circle cx="584" cy="20" r="5.2" fill="#c1c1c1"/>
<circle cx="556" cy="27" r="4.7" fill="#a3a3a3"/>
<circle cx="622" cy="481" r="3.5" fill="#aeaeae"/>
<circle cx="568" cy="477" r="4.1" fill="#a9a9a9"/>
<circle cx="432" cy="537" r="4.1" fill="#adadad"/>
<circle cx="303" cy="370" r="3.2" fill="#c3c3c3"/>
<circle cx="141" cy="274" r="4.9" fill="#bdbdbd"/>
<circle cx="531" cy="621" r="3.4" fill="#bababa"/>
<circle cx="56" cy="116" r="4.6" fill="#b0b0b0"/>
<circle cx="341" cy="430" r="4.5" fill="#a1a1a1"/>
<circle cx="172" cy="406" r="5.1" fill="#a5a5a5"/>
<circle cx="210" cy="391" r="4.7" fill="#b3b3b3"/>
<circle cx="439" cy="29" r="4.9" fill="#ececec"/>
<circle cx="23" cy="219" r="5.1" fill="#c4c4c4"/>
<circle cx="514" cy="270" r="3.7" fill="#aaaaaa"/>
<circle cx="547" cy="186" r="3.3" fill="#bfbfbf"/>
<circle cx="193" cy="560" r="4.1" fill="#bababa"/>
<circle cx="241" cy="322" r="5.0" fill="#141414"/>
<circle cx="3" cy="371" r="3.9" fill="#c0c0c0"/>
<circle cx="222" cy="288" r="3.2" fill="#ababab"/>
<circle cx="312" cy="518" r="4.2" fill="#bdbdbd"/>
<circle cx="231" cy="154" r="3.9" fill="#a2a2a2"/>
<circle cx="337" cy="487" r="3.6" fill="#a5a5a5"/>
<circle cx="43" cy="243" r="4.2" fill="#b9b9b9"/>
<circle cx="472" cy="383" r="3.5" fill="#acacac"/>
<circle cx="486" cy="326" r="5.0" fill="#a9a9a9"/>
<circle cx="476" cy="401" r="3.6" fill="#a9a9a9"/>
<circle cx="14" cy="209" r="4.4" fill="#b3b3b3"/>
<circle cx="289" cy="216" r="5.0" fill="#bfbfbf"/>
<circle cx="97" cy="429" r="5.1" fill="#adadad"/>
<circle cx="10" cy="306" r="5.2" fill="#a4a4a4"/>
<circle cx="20" cy="194" r="4.6" fill="#eeeeee"/>
<circle cx="610" cy="593" r="5.0" fill="#141414"/>
<circle cx="267" cy="77" r="3.9" fill="#a5a5a5"/>
<circle cx="79" cy="569" r="3.4" fill="#ababab"/>
<circle cx="52" cy="270" r="4.9" fill="#a3a3a3"/>
<circle cx="58" cy="1" r="3.8" fill="#aaaaaa"/>
<circle cx="106" cy="384" r="4.4" fill="#b4b4b4"/>
<circle cx="209" cy="446" r="3.3" fill="#bcbcbc"/>
<circle cx="122" cy="144" r="5.1" fill="#cccccc"/>
<circle cx="599" cy="578" r="5.2" fill="#b8b8b8"/>
<circle cx="363" cy="621" r="3.6" fill="#a6a6a6"/>
<circle cx="549" cy="556" r="4.7" fill="#c5c5c5"/>
<circle cx="398" cy="611" r="3.7" fill="#c8c8c8"/>
<circle cx="279" cy="335" r="4.5" fill="#b1b1b1"/>
<circle cx="90" cy="575" r="5.0" fill="#b9b9b9"/>
<circle cx="632" cy="567" r="5.2" fill="#b5b5b5"/>
<circle cx="442" cy="343" r="3.8" fill="#a5a5a5"/>
<circle cx="236" cy="186" r="3.4" fill="#a7a7a7"/>
<circle cx="559" cy="241" r="3.7" fill="#bfbfbf"/>
<circle cx="293" cy="583" r="3.5" fill="#a5a5a5"/>
<circle cx="335" cy="562" r="3.7" fill="#a3a3a3"/>
<circle cx="328" cy="611" r="3.3" fill="#b3b3b3"/>
<circle cx="101" cy="468" r="4.8" fill="#c4c4c4"/>
<circle cx="468" cy="629" r="5.0" fill="#141414"/>
<circle cx="536" cy="476" r="4.5" fill="#aaaaaa"/>
<circle cx="258" cy="44" r="5.0" fill="#141414"/>
<circle cx="119" cy="492" r="3.8" fill="#a9a9a9"/>
<circle cx="359" cy="563" r="3.9" fill="#b5b5b5"/>
<circle cx="617" cy="583" r="5.3" fill="#c2c2c2"/>
<circle cx="438" cy="129" r="4.8" fill="#a1a1a1"/>
<circle cx="481" cy="288" r="4.8" fill="#cacaca"/>
<circle cx="492" cy="300" r="3.8" fill="#a5a5a5"/>
<circle cx="337" cy="392" r="4.4" fill="#c7c7c7"/>
<circle cx="577" cy="364" r="4.0" fill="#c0c0c0"/>
<circle cx="357" cy="380" r="5.3" fill="#a2a2a2"/>
<circle cx="470" cy="228" r="4.7" fill="#c3c3c3"/>
<circle cx="89" cy="67" r="5.3" fill="#c3c3c3"/>
<circle cx="430" cy="277" r="3.5" fill="#bcbcbc"/>
<circle cx="397" cy="500" r="5.0" fill="#141414"/>
<circle cx="416" cy="143" r="4.3" fill="#c9c9c9"/>
<circle cx="551" cy="572" r="4.0" fill="#afafaf"/>
<circle cx="151" cy="307" r="4.4" fill="#c3c3c3"/>
<circle cx="614" cy="387" r="3.8" fill="#a9a9a9"/>
<circle cx="496" cy="253" r="4.0" fill="#adadad"/>
<circle cx="232" cy="381" r="5.7" fill="#e9e9e9"/>
<circle cx="516" cy="428" r="4.7" fill="#b5b5b5"/>
<circle cx="57" cy="35" r="3.6" fill="#c4c4c4"/>
<circle cx="497" cy="191" r="5.0" fill="#a4a4a4"/>
<circle cx="65" cy="153" r="4.7" fill="#afafaf"/>
<circle cx="504" cy="631" r="5.1" fill="#a2a2a2"/>
<circle cx="583" cy="56" r="3.4" fill="#a2a2a2"/>
<circle cx="420" cy="224" r="3.4" fill="#b0b0b0"/>
<circle cx="302" cy="312" r="3.9" fill="#cccccc"/>
<circle cx="401" cy="230" r="5.5" fill="#e5e5e5"/>
<circle cx="212" cy="129" r="4.6" fill="#c0c0c0"/>
<circle cx="611" cy="273" r="3.7" fill="#c3c3c3"/>
<circle cx="264" cy="275" r="4.5" fill="#aaaaaa"/>
<circle cx="394" cy="109" r="5.0" fill="#aaaaaa"/>
<circle cx="524" cy="119" r="3.7" fill="#a2a2a2"/>
<circle cx="465" cy="160" r="5.3" fill="#a2a2a2"/>
<circle cx="223" cy="618" r="5.3" fill="#a9a9a9"/>
<circle cx="148" cy="334" r="4.9" fill="#c4c4c4"/>
<circle cx="122" cy="558" r="4.3" fill="#bfbfbf"/>
<circle cx="30" cy="530" r="5.0" fill="#cacaca"/>
<circle cx="455" cy="585" r="4.7" fill="#bcbcbc"/>
<circle cx="373" cy="473" r="4.9" fill="#a9a9a9"/>
<circle cx="619" cy="409" r="3.4" fill="#a7a7a7"/>
<circle cx="11" cy="350" r="4.9" fill="#bcbcbc"/>
<circle cx="394" cy="175" r="4.9" fill="#c6c6c6"/>
<circle cx="246" cy="556" r="3.5" fill="#a3a3a3"/>
<circle cx="626" cy="89" r="5.0" fill="#141414"/>
<circle cx="597" cy="264" r="4.1" fill="#a4a4a4"/>
<circle cx="314" cy="458" r="3.7" fill="#b4b4b4"/>
<circle cx="218" cy="591" r="3.5" fill="#b4b4b4"/>
<circle cx="396" cy="528" r="4.0" fill="#b5b5b5"/>
<circle cx="233" cy="594" r="5.1" fill="#c3c3c3"/>
<circle cx="350" cy="175" r="4.3" fill="#a4a4a4"/>
<circle cx="447" cy="159" r="4.4" fill="#b5b5b5"/>
<circle cx="180" cy="349" r="4.0" fill="#a5a5a5"/>
<circle cx="90" cy="627" r="3.4" fill="#a3a3a3"/>
<circle cx="416" cy="399" r="3.5" fill="#bebebe"/>
<circle cx="625" cy="126" r="4.1" fill="#b7b7b7"/>
<circle cx="163" cy="176" r="4.0" fill="#bebebe"/>
<circle cx="461" cy="619" r="3.9" fill="#bbbbbb"/>
<circle cx="55" cy="500" r="4.5" fill="#a7a7a7"/>
<circle cx="273" cy="195" r="4.2" fill="#a3a3a3"/>
<circle cx="589" cy="247" r="4.7" fill="#b3b3b3"/>
<circle cx="93" cy="167" r="5.3" fill="#a7a7a7"/>
<circle cx="574" cy="546" r="5.0" fill="#141414"/>
<circle cx="413" cy="603" r="4.3" fill="#e1e1e1"/>
<circle cx="160" cy="418" r="3.5" fill="#a7a7a7"/>
<circle cx="621" cy="148" r="3.5" fill="#c2c2c2"/>
<circle cx="279" cy="387" r="4.4" fill="#a8a8a8"/>
<circle cx="439" cy="458" r="4.9" fill="#cacaca"/>
<circle cx="299" cy="41" r="4.0" fill="#a1a1a1"/>
<circle cx="64" cy="103" r="5.2" fill="#cacaca"/>
<circle cx="150" cy="7" r="3.8" fill="#c8c8c8"/>
<circle cx="57" cy="424" r="4.9" fill="#ababab"/>
<circle cx="618" cy="460" r="4.8" fill="#a4a4a4"/>
<circle cx="541" cy="8" r="4.5" fill="#dcdcdc"/>
<circle cx="67" cy="272" r="4.7" fill="#ababab"/>
<circle cx="194" cy="471" r="4.9" fill="#f4f4f4"/>
<circle cx="323" cy="626" r="3.3" fill="#b3b3b3"/>
<circle cx="248" cy="123" r="3.6" fill="#b3b3b3"/>
<circle cx="521" cy="201" r="3.8" fill="#bebebe"/>
<circle cx="338" cy="346" r="4.5" fill="#e5e5e5"/>
<circle cx="367" cy="371" r="3.2" fill="#bdbdbd"/>
<circle cx="143" cy="73" r="4.2" fill="#a1a1a1"/>
<circle cx="442" cy="196" r="5.0" fill="#141414"/>
<circle cx="128" cy="8" r="4.6" fill="#bababa"/>
<circle cx="76" cy="418" r="5.0" fill="#a2a2a2"/>
<circle cx="348" cy="604" r="3.3" fill="#c2c2c2"/>
<circle cx="377" cy="26" r="3.4" fill="#b3b3b3"/>
<circle cx="95" cy="360" r="5.2" fill="#b0b0b0"/>
<circle cx="472" cy="197" r="3.8" fill="#a1a1a1"/>
<circle cx="452" cy="634" r="4.0" fill="#a2a2a2"/>
<circle cx="216" cy="44" r="5.0" fill="#a9a9a9"/>
<circle cx="105" cy="52" r="5.2" fill="#c7c7c7"/>
<circle cx="392" cy="600" r="3.5" fill="#a9a9a9"/>
<circle cx="140" cy="22" r="3.3" fill="#a6a6a6"/>
<circle cx="224" cy="245" r="4.2" fill="#bababa"/>
<circle cx="75" cy="375" r="3.6" fill="#c5c5c5"/>
<circle cx="13" cy="609" r="4.7" fill="#a5a5a5"/>
<circle cx="568" cy="187" r="5.2" fill="#adadad"/>
<circle cx="48" cy="210" r="4.4" fill="#ebebeb"/>
<circle cx="11" cy="124" r="4.5" fill="#c1c1c1"/>
<circle cx="292" cy="379" r="3.5" fill="#bfbfbf"/>
<circle cx="269" cy="143" r="3.8" fill="#c0c0c0"/>
<circle cx="623" cy="431" r="3.5" fill="#c2c2c2"/>
<circle cx="589" cy="631" r="4.9" fill="#bcbcbc"/>
<circle cx="266" cy="529" r="4.6" fill="#afafaf"/>
<circle cx="153" cy="48" r="4.9" fill="#bebebe"/>
<circle cx="68" cy="360" r="5.2" fill="#b0b0b0"/>
<circle cx="311" cy="104" r="4.0" fill="#cbcbcb"/>
<circle cx="272" cy="367" r="3.4" fill="#b9b9b9"/>
<circle cx="96" cy="105" r="4.9" fill="#b1b1b1"/>
<circle cx="403" cy="29" r="5.1" fill="#a5a5a5"/>
<circle cx="503" cy="164" r="4.6" fill="#a9a9a9"/>
<circle cx="176" cy="237" r="3.7" fill="#a1a1a1"/>
<circle cx="590" cy="224" r="4.5" fill="#a1a1a1"/>
<circle cx="23" cy="631" r="3.4" fill="#a2a2a2"/>
<circle cx="315" cy="358" r="3.7" fill="#bababa"/>
<circle cx="446" cy="400" r="5.0" fill="#141414"/>
<circle cx="63" cy="168" r="3.5" fill="#a7a7a7"/>
<circle cx="368" cy="252" r="5.3" fill="#bababa"/>
<circle cx="363" cy="533" r="4.9" fill="#cbcbcb"/>
<circle cx="301" cy="357" r="5.1" fill="#a2a2a2"/>
<circle cx="236" cy="469" r="3.6" fill="#b9b9b9"/>
<circle cx="318" cy="144" r="5.3" fill="#bebebe"/>
<circle cx="471" cy="209" r="3.6" fill="#aeaeae"/>
<circle cx="593" cy="136" r="4.8" fill="#a2a2a2"/>
<circle cx="299" cy="152" r="4.8" fill="#cbcbcb"/>
<circle cx="287" cy="142" r="5.3" fill="#a3a3a3"/>
<circle cx="179" cy="119" r="5.1" fill="#a4a4a4"/>
<circle cx="353" cy="227" r="4.4" fill="#c4c4c4"/>
<circle cx="169" cy="126" r="3.5" fill="#b9b9b9"/>
<circle cx="148" cy="134" r="4.2" fill="#b9b9b9"/>
<circle cx="97" cy="326" r="3.8" fill="#b2b2b2"/>
<circle cx="28" cy="317" r="4.8" fill="#c7c7c7"/>
<circle cx="299" cy="263" r="3.5" fill="#a4a4a4"/>
<circle cx="59" cy="313" r="4.3" fill="#aaaaaa"/>
<circle cx="233" cy="354" r="3.8" fill="#afafaf"/>
<circle cx="174" cy="615" r="4.1" fill="#a6a6a6"/>
<circle cx="302" cy="630" r="3.7" fill="#acacac"/>
<circle cx="561" cy="560" r="4.6" fill="#a2a2a2"/>
<circle cx="519" cy="132" r="3.5" fill="#c6c6c6"/>
<circle cx="246" cy="167" r="5.1" fill="#a7a7a7"/>
<circle cx="321" cy="61" r="4.3" fill="#cbcbcb"/>
<circle cx="191" cy="507" r="5.0" fill="#a2a2a2"/>
<circle cx="272" cy="430" r="3.9" fill="#a1a1a1"/>
<circle cx="450" cy="554" r="5.3" fill="#a4a4a4"/>
<circle cx="222" cy="202" r="3.3" fill="#b6b6b6"/>
<circle cx="107" cy="299" r="3.9" fill="#acacac"/>
<circle cx="275" cy="167" r="3.9" fill="#bababa"/>
<circle cx="446" cy="73" r="3.7" fill="#c7c7c7"/>
<circle cx="609" cy="158" r="4.1" fill="#cccccc"/>
<circle cx="223" cy="360" r="4.1" fill="#c0c0c0"/>
<circle cx="313" cy="388" r="4.1" fill="#aaaaaa"/>
<circle cx="47" cy="323" r="3.4" fill="#a1a1a1"/>
<circle cx="296" cy="400" r="3.2" fill="#b1b1b1"/>
<circle cx="562" cy="439" r="4.3" fill="#a5a5a5"/>
<circle cx="116" cy="426" r="3.7" fill="#a3a3a3"/>
<circle cx="253" cy="429" r="4.7" fill="#a1a1a1"/>
<circle cx="20" cy="368" r="3.3" fill="#a5a5a5"/>
<circle cx="168" cy="284" r="4.9" fill="#bababa"/>
<circle cx="121" cy="261" r="3.8" fill="#c3c3c3"/>
<circle cx="70" cy="557" r="4.1" fill="#a7a7a7"/>
<circle cx="164" cy="394" r="5.0" fill="#c3c3c3"/>
<circle cx="232" cy="218" r="4.6" fill="#aeaeae"/>
<circle cx="361" cy="147" r="5.1" fill="#bbbbbb"/>
<circle cx="105" cy="485" r="3.6" fill="#a8a8a8"/>
<circle cx="496" cy="551" r="3.2" fill="#aaaaaa"/>
<circle cx="247" cy="294" r="4.0" fill="#cbcbcb"/>
<circle cx="602" cy="118" r="5.3" fill="#a1a1a1"/>
<circle cx="113" cy="66" r="3.3" fill="#adadad"/>
<circle cx="39" cy="258" r="3.2" fill="#c0c0c0"/>
<circle cx="614" cy="233" r="4.2" fill="#a3a3a3"/>
<circle cx="280" cy="441" r="5.1" fill="#e7e7e7"/>
<circle cx="335" cy="586" r="4.4" fill="#b3b3b3"/>
<circle cx="145" cy="210" r="4.1" fill="#c4c4c4"/>
<circle cx="564" cy="490" r="4.9" fill="#a5a5a5"/>
<circle cx="11" cy="251" r="3.5" fill="#bebebe"/>
<circle cx="183" cy="165" r="4.8" fill="#bababa"/>
<circle cx="7" cy="97" r="3.7" fill="#bebebe"/>
<circle cx="456" cy="566" r="4.3" fill="#a2a2a2"/>
<circle cx="211" cy="626" r="4.0" fill="#aaaaaa"/>
<circle cx="568" cy="108" r="4.3" fill="#a8a8a8"/>
<circle cx="137" cy="360" r="4.5" fill="#ececec"/>
<circle cx="2" cy="214" r="4.9" fill="#a3a3a3"/>
<circle cx="290" cy="518" r="4.3" fill="#aaaaaa"/>
<circle cx="9" cy="502" r="4.8" fill="#b0b0b0"/>
<circle cx="276" cy="408" r="5.0" fill="#b8b8b8"/>
<circle cx="340" cy="233" r="3.6" fill="#bdbdbd"/>
<circle cx="4" cy="410" r="4.6" fill="#f0f0f0"/>
<circle cx="584" cy="585" r="4.6" fill="#e5e5e5"/>
<circle cx="103" cy="159" r="3.4" fill="#c6c6c6"/>
<circle cx="520" cy="59" r="4.5" fill="#a4a4a4"/>
<circle cx="607" cy="251" r="5.2" fill="#b9b9b9"/>
<circle cx="46" cy="527" r="3.3" fill="#b5b5b5"/>
<circle cx="376" cy="136" r="3.3" fill="#a7a7a7"/>
<circle cx="177" cy="461" r="3.8" fill="#b3b3b3"/>
<circle cx="346" cy="10" r="3.7" fill="#aaaaaa"/>
<circle cx="566" cy="530" r="3.3" fill="#aaaaaa"/>
<circle cx="79" cy="501" r="5.0" fill="#141414"/>
<circle cx="543" cy="530" r="5.1" fill="#b5b5b5"/>
<circle cx="388" cy="232" r="3.2" fill="#a5a5a5"/>
<circle cx="525" cy="418" r="3.8" fill="#c8c8c8"/>
<circle cx="546" cy="89" r="5.7" fill="#dedede"/>
<circle cx="624" cy="378" r="5.5" fill="#e5e5e5"/>
<circle cx="164" cy="93" r="5.0" fill="#a1a1a1"/>
<circle cx="512" cy="364" r="3.9" fill="#cbcbcb"/>
<circle cx="553" cy="360" r="4.4" fill="#ababab"/>
<circle cx="249" cy="616" r="5.2" fill="#e8e8e8"/>
<circle cx="449" cy="520" r="4.0" fill="#aeaeae"/>
<circle cx="4" cy="468" r="5.2" fill="#afafaf"/>
<circle cx="242" cy="533" r="5.1" fill="#a2a2a2"/>
<circle cx="564" cy="274" r="3.7" fill="#a7a7a7"/>
<circle cx="463" cy="131" r="4.6" fill="#bababa"/>
<circle cx="274" cy="624" r="3.8" fill="#a4a4a4"/>
<circle cx="40" cy="26" r="5.3" fill="#a3a3a3"/>
<circle cx="321" cy="568" r="4.3" fill="#a1a1a1"/>
<circle cx="470" cy="532" r="5.1" fill="#c8c8c8"/>
<circle cx="129" cy="451" r="3.9" fill="#c9c9c9"/>
<circle cx="525" cy="97" r="3.4" fill="#b4b4b4"/>
<circle cx="567" cy="338" r="4.7" fill="#b6b6b6"/>
<circle cx="515" cy="345" r="4.2" fill="#cacaca"/>
<circle cx="492" cy="117" r="5.2" fill="#b1b1b1"/>
<circle cx="99" cy="567" r="5.3" fill="#b7b7b7"/>
<circle cx="72" cy="242" r="4.4" fill="#a6a6a6"/>
<circle cx="621" cy="337" r="5.2" fill="#a6a6a6"/>
<circle cx="378" cy="533" r="3.2" fill="#a9a9a9"/>
<circle cx="460" cy="62" r="5.0" fill="#141414"/>
<circle cx="255" cy="237" r="4.2" fill="#b7b7b7"/>
<circle cx="592" cy="347" r="5.0" fill="#141414"/>
<circle cx="102" cy="260" r="3.5" fill="#a3a3a3"/>
<circle cx="297" cy="26" r="3.5" fill="#bbbbbb"/>
<circle cx="443" cy="330" r="4.6" fill="#b4b4b4"/>
<circle cx="402" cy="154" r="4.3" fill="#a2a2a2"/>
<circle cx="504" cy="425" r="5.0" fill="#141414"/>
<circle cx="344" cy="273" r="3.5" fill="#a2a2a2"/>
<circle cx="17" cy="325" r="4.4" fill="#b8b8b8"/>
<circle cx="592" cy="304" r="4.3" fill="#a3a3a3"/>
<circle cx="66" cy="121" r="5.0" fill="#a1a1a1"/>
<circle cx="539" cy="73" r="3.6" fill="#b4b4b4"/>
<circle cx="521" cy="403" r="4.3" fill="#a9a9a9"/>
<circle cx="425" cy="247" r="4.0" fill="#c2c2c2"/>
<circle cx="421" cy="13" r="4.6" fill="#dddddd"/>
<circle cx="236" cy="122" r="4.6" fill="#b2b2b2"/>
<circle cx="623" cy="397" r="3.4" fill="#c4c4c4"/>
<circle cx="123" cy="377" r="4.9" fill="#c6c6c6"/>
<circle cx="83" cy="449" r="4.8" fill="#a1a1a1"/>
<circle cx="612" cy="217" r="3.5" fill="#b0b0b0"/>
<circle cx="335" cy="519" r="3.5" fill="#b3b3b3"/>
<circle cx="362" cy="490" r="4.0" fill="#b3b3b3"/>
<circle cx="123" cy="110" r="5.2" fill="#dfdfdf"/>
<circle cx="306" cy="568" r="4.7" fill="#a1a1a1"/>
<circle cx="373" cy="62" r="5.1" fill="#a1a1a1"/>
<circle cx="536" cy="322" r="3.5" fill="#acacac"/>
<circle cx="257" cy="6" r="5.2" fill="#c2c2c2"/>
<circle cx="353" cy="120" r="4.3" fill="#acacac"/>
<circle cx="316" cy="311" r="4.9" fill="#a4a4a4"/>
<circle cx="156" cy="157" r="5.0" fill="#a7a7a7"/>
<circle cx="625" cy="274" r="5.2" fill="#aaaaaa"/>
<circle cx="258" cy="391" r="4.6" fill="#c7c7c7"/>
<circle cx="585" cy="337" r="5.2" fill="#c1c1c1"/>
<circle cx="16" cy="521" r="3.9" fill="#acacac"/>
<circle cx="540" cy="22" r="4.4" fill="#b5b5b5"/>
<circle cx="126" cy="533" r="3.3" fill="#cccccc"/>
<circle cx="260" cy="495" r="4.6" fill="#c5c5c5"/>
<circle cx="255" cy="324" r="5.0" fill="#141414"/>
<circle cx="430" cy="6" r="3.7" fill="#a5a5a5"/>
<circle cx="128" cy="588" r="4.2" fill="#afafaf"/>
<circle cx="488" cy="429" r="5.0" fill="#a8a8a8"/>
<circle cx="494" cy="98" r="4.4" fill="#e8e8e8"/>
<circle cx="303" cy="432" r="4.4" fill="#acacac"/>
<circle cx="512" cy="148" r="3.5" fill="#a7a7a7"/>
<circle cx="148" cy="391" r="3.3" fill="#bebebe"/>
<circle cx="263" cy="634" r="3.5" fill="#bdbdbd"/>
<circle cx="532" cy="439" r="5.0" fill="#a3a3a3"/>
<circle cx="345" cy="37" r="5.1" fill="#a2a2a2"/>
<circle cx="611" cy="344" r="4.8" fill="#a5a5a5"/>
<circle cx="2" cy="116" r="4.2" fill="#c1c1c1"/>
<circle cx="179" cy="626" r="3.8" fill="#a3a3a3"/>
<circle cx="98" cy="132" r="4.2" fill="#a8a8a8"/>
<circle cx="44" cy="394" r="4.3" fill="#c4c4c4"/>
<circle cx="51" cy="570" r="4.7" fill="#c2c2c2"/>
<circle cx="474" cy="606" r="5.1" fill="#c4c4c4"/>
<circle cx="188" cy="196" r="3.5" fill="#b1b1b1"/>
<circle cx="614" cy="357" r="3.4" fill="#b2b2b2"/>
<circle cx="202" cy="54" r="3.9" fill="#b5b5b5"/>
<circle cx="269" cy="181" r="3.7" fill="#a6a6a6"/>
<circle cx="204" cy="544" r="3.7" fill="#c0c0c0"/>
<circle cx="478" cy="159" r="4.7" fill="#a2a2a2"/>
<circle cx="165" cy="317" r="4.6" fill="#a5a5a5"/>
<circle cx="140" cy="625" r="4.0" fill="#a9a9a9"/>
<circle cx="572" cy="503" r="5.0" fill="#141414"/>
<circle cx="31" cy="97" r="4.0" fill="#bcbcbc"/>
<circle cx="206" cy="119" r="4.5" fill="#c1c1c1"/>
<circle cx="587" cy="420" r="5.0" fill="#c4c4c4"/>
<circle cx="135" cy="262" r="3.2" fill="#c0c0c0"/>
<circle cx="163" cy="39" r="3.3" fill="#a2a2a2"/>
<circle cx="178" cy="267" r="4.0" fill="#b8b8b8"/>
<circle cx="557" cy="58" r="4.3" fill="#b2b2b2"/>
<circle cx="150" cy="412" r="3.6" fill="#a8a8a8"/>
<circle cx="327" cy="417" r="5.0" fill="#141414"/>
<circle cx="380" cy="51" r="5.0" fill="#b0b0b0"/>
<circle cx="46" cy="92" r="4.0" fill="#aeaeae"/>
<circle cx="457" cy="363" r="3.5" fill="#b2b2b2"/>
<circle cx="243" cy="278" r="4.0" fill="#bfbfbf"/>
<circle cx="219" cy="264" r="3.5" fill="#a1a1a1"/>
<circle cx="167" cy="526" r="3.6" fill="#b2b2b2"/>
<circle cx="630" cy="288" r="4.8" fill="#bababa"/>
<circle cx="431" cy="430" r="5.0" fill="#c7c7c7"/>
<circle cx="481" cy="342" r="4.3" fill="#a2a2a2"/>
<circle cx="373" cy="107" r="4.1" fill="#c4c4c4"/>
<circle cx="393" cy="383" r="4.4" fill="#a8a8a8"/>
<circle cx="13" cy="3" r="4.6" fill="#a1a1a1"/>
<circle cx="456" cy="442" r="3.7" fill="#a7a7a7"/>
<circle cx="337" cy="162" r="3.7" fill="#afafaf"/>
<circle cx="297" cy="467" r="3.8" fill="#c4c4c4"/>
<circle cx="173" cy="381" r="3.4" fill="#a5a5a5"/>
<circle cx="465" cy="244" r="3.9" fill="#a1a1a1"/>
<circle cx="277" cy="55" r="5.2" fill="#a1a1a1"/>
<circle cx="17" cy="148" r="4.8" fill="#c2c2c2"/>
<circle cx="411" cy="359" r="3.3" fill="#acacac"/>
<circle cx="69" cy="63" r="3.6" fill="#a4a4a4"/>
<circle cx="493" cy="506" r="4.6" fill="#a2a2a2"/>
<circle cx="296" cy="421" r="4.5" fill="#b5b5b5"/>
<circle cx="374" cy="394" r="3.6" fill="#a5a5a5"/>
<circle cx="466" cy="482" r="4.8" fill="#c4c4c4"/>
<circle cx="435" cy="144" r="3.3" fill="#a7a7a7"/>
<circle cx="386" cy="156" r="5.2" fill="#bababa"/>
<circle cx="348" cy="449" r="5.2" fill="#a7a7a7"/>
<circle cx="173" cy="101" r="5.1" fill="#a7a7a7"/>
<circle cx="182" cy="11" r="3.4" fill="#acacac"/>
<circle cx="554" cy="383" r="5.0" fill="#a8a8a8"/>
<circle cx="13" cy="277" r="4.9" fill="#a4a4a4"/>
<circle cx="87" cy="303" r="3.7" fill="#b8b8b8"/>
<circle cx="425" cy="356" r="4.0" fill="#a2a2a2"/>
<circle cx="434" cy="67" r="3.5" fill="#b4b4b4"/>
<circle cx="118" cy="342" r="4.6" fill="#a1a1a1"/>
<circle cx="50" cy="186" r="4.1" fill="#bebebe"/>
<circle cx="331" cy="501" r="4.2" fill="#c3c3c3"/>
<circle cx="426" cy="47" r="4.7" fill="#b2b2b2"/>
<circle cx="562" cy="465" r="3.8" fill="#c5c5c5"/>
<circle cx="21" cy="538" r="3.6" fill="#b9b9b9"/>
<circle cx="453" cy="378" r="3.7" fill="#a6a6a6"/>
<circle cx="280" cy="483" r="4.5" fill="#ababab"/>
<circle cx="261" cy="114" r="4.1" fill="#a1a1a1"/>
<circle cx="426" cy="89" r="5.1" fill="#c9c9c9"/>
<circle cx="370" cy="346" r="4.7" fill="#a6a6a6"/>
<circle cx="168" cy="9" r="5.0" fill="#141414"/>
<circle cx="66" cy="463" r="4.1" fill="#a1a1a1"/>
<circle cx="447" cy="574" r="4.6" fill="#a2a2a2"/>
<circle cx="606" cy="4" r="3.9" fill="#a2a2a2"/>
<circle cx="22" cy="258" r="3.3" fill="#a7a7a7"/>
<circle cx="630" cy="469" r="5.0" fill="#e8e8e8"/>
<circle cx="425" cy="603" r="5.0" fill="#141414"/>
<circle cx="304" cy="218" r="3.9" fill="#a7a7a7"/>
<circle cx="243" cy="71" r="4.1" fill="#cbcbcb"/>
<circle cx="44" cy="61" r="5.4" fill="#efefef"/>
<circle cx="590" cy="382" r="3.8" fill="#a5a5a5"/>
<circle cx="360" cy="193" r="3.4" fill="#a8a8a8"/>
<circle cx="116" cy="520" r="4.6" fill="#ababab"/>
<circle cx="338" cy="51" r="3.9" fill="#a1a1a1"/>
<circle cx="385" cy="627" r="3.3" fill="#a7a7a7"/>
<circle cx="336" cy="264" r="4.6" fill="#adadad"/>
<circle cx="610" cy="91" r="3.3" fill="#aeaeae"/>
<circle cx="469" cy="332" r="4.3" fill="#a2a2a2"/>
<circle cx="136" cy="487" r="3.3" fill="#bdbdbd"/>
<circle cx="125" cy="416" r="3.5" fill="#a9a9a9"/>
<circle cx="97" cy="401" r="4.5" fill="#bcbcbc"/>
<circle cx="27" cy="61" r="5.3" fill="#bababa"/>
<circle cx="551" cy="520" r="3.7" fill="#bababa"/>
<circle cx="4" cy="527" r="5.2" fill="#a4a4a4"/>
<circle cx="449" cy="226" r="3.9" fill="#bebebe"/>
<circle cx="364" cy="549" r="3.6" fill="#b6b6b6"/>
<circle cx="565" cy="161" r="4.7" fill="#c3c3c3"/>
<circle cx="474" cy="264" r="4.0" fill="#cccccc"/>
<circle cx="192" cy="630" r="4.4" fill="#b8b8b8"/>
<circle cx="434" cy="160" r="4.8" fill="#dbdbdb"/>
<circle cx="585" cy="443" r="3.6" fill="#acacac"/>
<circle cx="288" cy="344" r="3.3" fill="#b8b8b8"/>
<circle cx="593" cy="93" r="3.4" fill="#c9c9c9"/>
<circle cx="45" cy="0" r="5.3" fill="#a6a6a6"/>
<circle cx="177" cy="65" r="3.5" fill="#bbbbbb"/>
<circle cx="177" cy="193" r="4.3" fill="#c5c5c5"/>
<circle cx="384" cy="581" r="3.4" fill="#bfbfbf"/>
<circle cx="505" cy="100" r="4.1" fill="#b7b7b7"/>
<circle cx="264" cy="475" r="4.7" fill="#a4a4a4"/>
<circle cx="337" cy="282" r="5.0" fill="#141414"/>
<circle cx="327" cy="351" r="3.6" fill="#a5a5a5"/>
<circle cx="395" cy="216" r="5.2" fill="#c8c8c8"/>
<circle cx="597" cy="411" r="3.9" fill="#bcbcbc"/>
<circle cx="184" cy="252" r="4.4" fill="#bdbdbd"/>
<circle cx="153" cy="346" r="3.8" fill="#b1b1b1"/>
<circle cx="86" cy="515" r="4.8" fill="#e1e1e1"/>
<circle cx="322" cy="194" r="5.3" fill="#a2a2a2"/>
<circle cx="402" cy="70" r="3.3" fill="#c2c2c2"/>
<circle cx="210" cy="505" r="5.0" fill="#141414"/>
<circle cx="313" cy="233" r="4.7" fill="#ececec"/>
<circle cx="555" cy="196" r="4.2" fill="#aaaaaa"/>
<circle cx="46" cy="299" r="5.2" fill="#a1a1a1"/>
<circle cx="236" cy="436" r="4.4" fill="#ececec"/>
<circle cx="536" cy="555" r="4.0" fill="#a6a6a6"/>
<circle cx="30" cy="435" r="3.9" fill="#a2a2a2"/>
<circle cx="23" cy="577" r="3.4" fill="#a6a6a6"/>
<circle cx="304" cy="134" r="5.2" fill="#b6b6b6"/>
<circle cx="390" cy="365" r="3.5" fill="#cccccc"/>
<circle cx="631" cy="256" r="5.2" fill="#c9c9c9"/>
<circle cx="551" cy="305" r="4.4" fill="#bcbcbc"/>
<circle cx="344" cy="537" r="5.1" fill="#c4c4c4"/>
<circle cx="399" cy="321" r="4.7" fill="#bbbbbb"/>
<circle cx="295" cy="55" r="4.0" fill="#acacac"/>
<circle cx="1" cy="581" r="3.7" fill="#bbbbbb"/>
<circle cx="11" cy="624" r="4.6" fill="#c0c0c0"/>
<circle cx="136" cy="46" r="5.0" fill="#a1a1a1"/>
<circle cx="59" cy="600" r="4.5" fill="#a8a8a8"/>
<circle cx="634" cy="223" r="4.2" fill="#a6a6a6"/>
<circle cx="397" cy="624" r="3.7" fill="#a7a7a7"/>
<circle cx="499" cy="238" r="4.4" fill="#a2a2a2"/>
<circle cx="248" cy="55" r="4.5" fill="#ababab"/>
<circle cx="219" cy="311" r="3.4" fill="#cccccc"/>
<circle cx="459" cy="318" r="4.9" fill="#b3b3b3"/>
<circle cx="225" cy="571" r="4.3" fill="#acacac"/>
<circle cx="274" cy="155" r="4.6" fill="#a7a7a7"/>
<circle cx="159" cy="498" r="4.1" fill="#b5b5b5"/>
<circle cx="11" cy="170" r="5.0" fill="#c1c1c1"/>
<circle cx="328" cy="75" r="5.0" fill="#b8b8b8"/>
<circle cx="377" cy="491" r="4.8" fill="#c8c8c8"/>
<circle cx="512" cy="490" r="4.1" fill="#a4a4a4"/>
<circle cx="521" cy="85" r="3.9" fill="#aaaaaa"/>
<circle cx="492" cy="75" r="5.2" fill="#a8a8a8"/>
<circle cx="77" cy="224" r="3.2" fill="#b8b8b8"/>
<circle cx="207" cy="526" r="5.2" fill="#bfbfbf"/>
<circle cx="215" cy="222" r="3.6" fill="#a2a2a2"/>
<circle cx="152" cy="559" r="4.0" fill="#bcbcbc"/>
<circle cx="488" cy="147" r="3.4" fill="#b8b8b8"/>
<circle cx="199" cy="307" r="4.6" fill="#aaaaaa"/>
<circle cx="374" cy="520" r="5.3" fill="#adadad"/>
<circle cx="593" cy="276" r="4.2" fill="#a3a3a3"/>
<circle cx="159" cy="621" r="4.5" fill="#ababab"/>
<circle cx="196" cy="254" r="3.4" fill="#a7a7a7"/>
<circle cx="383" cy="260" r="5.0" fill="#c6c6c6"/>
<circle cx="545" cy="412" r="5.2" fill="#b7b7b7"/>
<circle cx="288" cy="203" r="3.3" fill="#b5b5b5"/>
<circle cx="142" cy="545" r="4.6" fill="#acacac"/>
<circle cx="31" cy="294" r="3.8" fill="#c6c6c6"/>
<circle cx="277" cy="456" r="3.7" fill="#a1a1a1"/>
<circle cx="299" cy="510" r="3.7" fill="#adadad"/>
<circle cx="610" cy="172" r="4.8" fill="#b4b4b4"/>
<circle cx="23" cy="455" r="4.3" fill="#c1c1c1"/>
<circle cx="40" cy="608" r="3.2" fill="#c1c1c1"/>
<circle cx="597" cy="526" r="4.9" fill="#ababab"/>
<circle cx="142" cy="574" r="4.6" fill="#b4b4b4"/>
<circle cx="58" cy="331" r="5.3" fill="#a2a2a2"/>
<circle cx="123" cy="180" r="4.9" fill="#b8b8b8"/>
<circle cx="476" cy="12" r="3.5" fill="#bebebe"/>
<circle cx="463" cy="114" r="5.6" fill="#e4e4e4"/>
<circle cx="534" cy="311" r="4.8" fill="#c1c1c1"/>
<circle cx="487" cy="274" r="4.5" fill="#b4b4b4"/>
<circle cx="138" cy="610" r="3.7" fill="#acacac"/>
<circle cx="220" cy="149" r="4.8" fill="#a8a8a8"/>
<circle cx="483" cy="551" r="4.1" fill="#aaaaaa"/>
<circle cx="368" cy="458" r="4.5" fill="#bfbfbf"/>
<circle cx="207" cy="267" r="3.4" fill="#a2a2a2"/>
<circle cx="291" cy="606" r="5.3" fill="#b1b1b1"/>
<circle cx="581" cy="99" r="3.3" fill="#bcbcbc"/>
<circle cx="81" cy="25" r="5.0" fill="#b4b4b4"/>
<circle cx="553" cy="1" r="4.8" fill="#a1a1a1"/>
<circle cx="564" cy="518" r="4.4" fill="#f0f0f0"/>
<circle cx="27" cy="81" r="4.4" fill="#a4a4a4"/>
<circle cx="233" cy="96" r="5.0" fill="#141414"/>
<circle cx="542" cy="299" r="4.3" fill="#a2a2a2"/>
<circle cx="480" cy="63" r="3.3" fill="#bbbbbb"/>
<circle cx="468" cy="97" r="4.3" fill="#ababab"/>
<circle cx="94" cy="221" r="4.5" fill="#adadad"/>
<circle cx="37" cy="464" r="3.7" fill="#a4a4a4"/>
<circle cx="214" cy="187" r="5.0" fill="#ececec"/>
<circle cx="612" cy="59" r="4.0" fill="#c2c2c2"/>
<circle cx="517" cy="633" r="4.5" fill="#b7b7b7"/>
<circle cx="161" cy="259" r="4.1" fill="#a8a8a8"/>
<circle cx="622" cy="107" r="4.2" fill="#a9a9a9"/>
<circle cx="573" cy="571" r="4.5" fill="#a3a3a3"/>
<circle cx="515" cy="520" r="4.3" fill="#a4a4a4"/>
<circle cx="93" cy="490" r="5.0" fill="#c8c8c8"/>
<circle cx="507" cy="185" r="3.4" fill="#adadad"/>
<circle cx="438" cy="593" r="3.6" fill="#b1b1b1"/>
<circle cx="574" cy="261" r="3.8" fill="#a2a2a2"/>
<circle cx="205" cy="104" r="4.4" fill="#a5a5a5"/>
<circle cx="168" cy="631" r="3.2" fill="#cacaca"/>
<circle cx="256" cy="102" r="5.3" fill="#b1b1b1"/>
<circle cx="411" cy="246" r="4.4" fill="#c8c8c8"/>
<circle cx="272" cy="511" r="5.8" fill="#ededed"/>
<circle cx="7" cy="238" r="3.3" fill="#bebebe"/>
<circle cx="486" cy="411" r="5.0" fill="#aeaeae"/>
<circle cx="102" cy="177" r="4.1" fill="#a2a2a2"/>
<circle cx="293" cy="440" r="5.0" fill="#141414"/>
<circle cx="402" cy="140" r="4.5" fill="#a5a5a5"/>
<circle cx="196" cy="342" r="5.0" fill="#141414"/>
<circle cx="618" cy="205" r="4.5" fill="#a6a6a6"/>
<circle cx="356" cy="25" r="5.0" fill="#141414"/>
<circle cx="59" cy="525" r="4.7" fill="#adadad"/>
<circle cx="117" cy="160" r="4.9" fill="#a6a6a6"/>
<circle cx="355" cy="287" r="3.5" fill="#cbcbcb"/>
<circle cx="178" cy="49" r="3.5" fill="#adadad"/>
<circle cx="490" cy="475" r="4.1" fill="#c1c1c1"/>
<circle cx="517" cy="591" r="4.9" fill="#e8e8e8"/>
<circle cx="604" cy="144" r="3.4" fill="#aeaeae"/>
<circle cx="488" cy="534" r="4.5" fill="#bbbbbb"/>
<circle cx="611" cy="71" r="5.0" fill="#141414"/>
<circle cx="477" cy="309" r="4.9" fill="#b9b9b9"/>
<circle cx="564" cy="424" r="3.8" fill="#a2a2a2"/>
<circle cx="197" cy="65" r="4.8" fill="#b5b5b5"/>
<circle cx="542" cy="243" r="3.3" fill="#acacac"/>
<circle cx="245" cy="220" r="3.4" fill="#a1a1a1"/>
<circle cx="149" cy="615" r="4.4" fill="#bababa"/>
<circle cx="79" cy="401" r="4.5" fill="#acacac"/>
<circle cx="307" cy="249" r="4.4" fill="#bebebe"/>
<circle cx="173" cy="363" r="4.1" fill="#adadad"/>
<circle cx="493" cy="55" r="4.0" fill="#bbbbbb"/>
<circle cx="339" cy="458" r="4.9" fill="#bfbfbf"/>
<circle cx="92" cy="557" r="4.4" fill="#b9b9b9"/>
<circle cx="194" cy="211" r="4.6" fill="#e2e2e2"/>
<circle cx="249" cy="178" r="5.3" fill="#acacac"/>
<circle cx="417" cy="300" r="4.1" fill="#a6a6a6"/>
<circle cx="442" cy="275" r="4.5" fill="#b4b4b4"/>
<circle cx="507" cy="409" r="4.3" fill="#a1a1a1"/>
<circle cx="532" cy="500" r="5.7" fill="#e1e1e1"/>
<circle cx="548" cy="149" r="5.7" fill="#dddddd"/>
<circle cx="292" cy="497" r="3.8" fill="#a2a2a2"/>
<circle cx="95" cy="42" r="4.6" fill="#ababab"/>
<circle cx="386" cy="320" r="3.7" fill="#aaaaaa"/>
<circle cx="54" cy="225" r="3.5" fill="#acacac"/>
<circle cx="55" cy="386" r="5.1" fill="#a8a8a8"/>
<circle cx="138" cy="104" r="5.7" fill="#e5e5e5"/>
<circle cx="478" cy="362" r="3.3" fill="#a1a1a1"/>
<circle cx="597" cy="540" r="4.2" fill="#c5c5c5"/>
<circle cx="392" cy="569" r="4.3" fill="#b4b4b4"/>
<circle cx="212" cy="237" r="4.6" fill="#cbcbcb"/>
<circle cx="554" cy="79" r="4.4" fill="#acacac"/>
<circle cx="327" cy="598" r="4.6" fill="#a1a1a1"/>
<circle cx="566" cy="49" r="5.0" fill="#141414"/>
<circle cx="331" cy="444" r="3.3" fill="#a9a9a9"/>
<circle cx="466" cy="186" r="4.5" fill="#b4b4b4"/>
<circle cx="66" cy="437" r="3.8" fill="#bdbdbd"/>
<circle cx="155" cy="194" r="3.4" fill="#c6c6c6"/>
<circle cx="308" cy="119" r="3.9" fill="#afafaf"/>
<circle cx="204" cy="380" r="5.2" fill="#cbcbcb"/>
<circle cx="577" cy="388" r="4.8" fill="#c5c5c5"/>
<circle cx="462" cy="499" r="4.8" fill="#bababa"/>
<circle cx="235" cy="57" r="3.9" fill="#afafaf"/>
<circle cx="291" cy="272" r="5.2" fill="#bcbcbc"/>
<circle cx="1" cy="140" r="4.5" fill="#a7a7a7"/>
<circle cx="395" cy="42" r="3.2" fill="#b6b6b6"/>
<circle cx="35" cy="362" r="4.5" fill="#b8b8b8"/>
<circle cx="45" cy="421" r="3.4" fill="#aeaeae"/>
<circle cx="603" cy="50" r="4.6" fill="#cacaca"/>
<circle cx="40" cy="126" r="4.3" fill="#aaaaaa"/>
<circle cx="185" cy="295" r="5.0" fill="#c5c5c5"/>
<circle cx="32" cy="554" r="4.1" fill="#a2a2a2"/>
<circle cx="266" cy="555" r="3.4" fill="#b5b5b5"/>
<circle cx="482" cy="211" r="4.6" fill="#acacac"/>
<circle cx="364" cy="83" r="4.2" fill="#c7c7c7"/>
<circle cx="39" cy="112" r="4.4" fill="#bababa"/>
<circle cx="196" cy="401" r="3.7" fill="#a3a3a3"/>
<circle cx="451" cy="469" r="4.8" fill="#a1a1a1"/>
<circle cx="358" cy="102" r="3.3" fill="#a1a1a1"/>
<circle cx="351" cy="330" r="5.0" fill="#141414"/>
<circle cx="459" cy="26" r="3.9" fill="#ababab"/>
<circle cx="527" cy="284" r="4.9" fill="#a2a2a2"/>
<circle cx="592" cy="515" r="4.5" fill="#f3f3f3"/>
<circle cx="442" cy="215" r="4.1" fill="#c9c9c9"/>
<circle cx="80" cy="207" r="4.5" fill="#c4c4c4"/>
<circle cx="367" cy="276" r="3.7" fill="#b0b0b0"/>
<circle cx="210" cy="605" r="4.0" fill="#a2a2a2"/>
<circle cx="178" cy="477" r="4.2" fill="#b9b9b9"/>
<circle cx="529" cy="573" r="3.9" fill="#a1a1a1"/>
<circle cx="150" cy="234" r="4.5" fill="#b0b0b0"/>
<circle cx="567" cy="66" r="5.2" fill="#a7a7a7"/>
<circle cx="379" cy="200" r="3.8" fill="#b8b8b8"/>
<circle cx="347" cy="366" r="5.1" fill="#b5b5b5"/>
<circle cx="292" cy="184" r="5.0" fill="#141414"/>
<circle cx="253" cy="576" r="4.7" fill="#b4b4b4"/>
<circle cx="379" cy="187" r="3.8" fill="#bababa"/>
<circle cx="228" cy="67" r="3.9" fill="#b6b6b6"/>
<circle cx="618" cy="39" r="5.0" fill="#aeaeae"/>
<circle cx="413" cy="430" r="4.3" fill="#acacac"/>
<circle cx="626" cy="622" r="4.8" fill="#ababab"/>
<circle cx="320" cy="470" r="4.2" fill="#a9a9a9"/>
<circle cx="337" cy="407" r="4.7" fill="#a1a1a1"/>
<circle cx="292" cy="245" r="5.3" fill="#cacaca"/>
<circle cx="300" cy="5" r="3.2" fill="#a8a8a8"/>
<circle cx="132" cy="243" r="4.9" fill="#aaaaaa"/>
<circle cx="630" cy="3" r="3.6" fill="#a7a7a7"/>
<circle cx="59" cy="399" r="4.3" fill="#c2c2c2"/>
<circle cx="580" cy="215" r="4.9" fill="#a6a6a6"/>
<circle cx="519" cy="3" r="3.6" fill="#a4a4a4"/>
<circle cx="572" cy="92" r="4.6" fill="#dedede"/>
<circle cx="28" cy="383" r="3.6" fill="#a8a8a8"/>
<circle cx="139" cy="149" r="3.2" fill="#a8a8a8"/>
<circle cx="129" cy="346" r="4.1" fill="#bfbfbf"/>
<circle cx="532" cy="191" r="5.8" fill="#e3e3e3"/>
<circle cx="115" cy="320" r="5.1" fill="#c3c3c3"/>
<circle cx="453" cy="252" r="4.4" fill="#a2a2a2"/>
<circle cx="115" cy="232" r="5.0" fill="#bababa"/>
<circle cx="127" cy="300" r="3.9" fill="#b1b1b1"/>
<circle cx="369" cy="121" r="3.3" fill="#bebebe"/>
<circle cx="554" cy="475" r="4.5" fill="#f0f0f0"/>
<circle cx="625" cy="68" r="5.0" fill="#141414"/>
<circle cx="74" cy="95" r="5.2" fill="#b1b1b1"/>
<circle cx="135" cy="288" r="4.1" fill="#a1a1a1"/>
<circle cx="420" cy="548" r="3.8" fill="#aaaaaa"/>
<circle cx="397" cy="400" r="3.3" fill="#b9b9b9"/>
<circle cx="183" cy="369" r="4.7" fill="#cacaca"/>
<circle cx="318" cy="35" r="4.9" fill="#a3a3a3"/>
<circle cx="183" cy="545" r="4.1" fill="#a8a8a8"/>
<circle cx="138" cy="196" r="3.7" fill="#a9a9a9"/>
<circle cx="192" cy="132" r="4.0" fill="#aeaeae"/>
<circle cx="526" cy="459" r="5.1" fill="#bcbcbc"/>
<circle cx="55" cy="128" r="3.7" fill="#c8c8c8"/>
<circle cx="95" cy="453" r="3.3" fill="#b5b5b5"/>
<circle cx="365" cy="1" r="5.0" fill="#cacaca"/>
<circle cx="94" cy="505" r="3.7" fill="#adadad"/>
<circle cx="399" cy="348" r="5.2" fill="#a5a5a5"/>
<circle cx="313" cy="13" r="5.2" fill="#aaaaaa"/>
<circle cx="262" cy="567" r="4.6" fill="#b9b9b9"/>
<circle cx="200" cy="360" r="3.4" fill="#a3a3a3"/>
<circle cx="338" cy="621" r="5.0" fill="#c1c1c1"/>
<circle cx="51" cy="349" r="4.3" fill="#a9a9a9"/>
<circle cx="280" cy="243" r="4.1" fill="#a2a2a2"/>
<circle cx="231" cy="503" r="4.7" fill="#b6b6b6"/>
<circle cx="527" cy="162" r="3.4" fill="#b5b5b5"/>
<circle cx="380" cy="605" r="3.9" fill="#a6a6a6"/>
<circle cx="183" cy="81" r="5.2" fill="#ababab"/>
<circle cx="470" cy="560" r="3.6" fill="#a8a8a8"/>
<circle cx="152" cy="482" r="4.6" fill="#aaaaaa"/>
<circle cx="80" cy="282" r="4.4" fill="#a3a3a3"/>
<circle cx="233" cy="633" r="5.2" fill="#b1b1b1"/>
<circle cx="176" cy="328" r="4.7" fill="#a9a9a9"/>
<circle cx="418" cy="383" r="3.8" fill="#a6a6a6"/>
<circle cx="565" cy="299" r="4.1" fill="#b4b4b4"/>
<circle cx="106" cy="504" r="3.6" fill="#c5c5c5"/>
<circle cx="257" cy="517" r="4.1" fill="#bcbcbc"/>
<circle cx="323" cy="525" r="3.9" fill="#a2a2a2"/>
<circle cx="523" cy="72" r="3.4" fill="#aaaaaa"/>
<circle cx="33" cy="15" r="3.5" fill="#b0b0b0"/>
<circle cx="447" cy="307" r="4.5" fill="#b1b1b1"/>
<circle cx="112" cy="575" r="4.3" fill="#a7a7a7"/>
<circle cx="278" cy="560" r="3.9" fill="#a3a3a3"/>
<circle cx="458" cy="344" r="4.2" fill="#a1a1a1"/>
<circle cx="199" cy="157" r="4.5" fill="#c7c7c7"/>
<circle cx="371" cy="11" r="4.8" fill="#b2b2b2"/>
<circle cx="604" cy="296" r="4.0" fill="#a3a3a3"/>
<circle cx="24" cy="304" r="3.7" fill="#c6c6c6"/>
<circle cx="269" cy="352" r="4.8" fill="#b0b0b0"/>
<circle cx="27" cy="128" r="4.0" fill="#b8b8b8"/>
<circle cx="241" cy="572" r="3.8" fill="#a6a6a6"/>
<circle cx="461" cy="271" r="3.4" fill="#c1c1c1"/>
<circle cx="516" cy="554" r="3.9" fill="#c4c4c4"/>
<circle cx="61" cy="611" r="4.4" fill="#a3a3a3"/>
<circle cx="112" cy="610" r="4.5" fill="#a6a6a6"/>
<circle cx="162" cy="594" r="5.3" fill="#b0b0b0"/>
<circle cx="411" cy="630" r="4.6" fill="#a2a2a2"/>
<circle cx="323" cy="6" r="4.9" fill="#aaaaaa"/>
<circle cx="451" cy="182" r="3.4" fill="#c7c7c7"/>
<circle cx="105" cy="276" r="4.7" fill="#f0f0f0"/>
<circle cx="360" cy="393" r="3.4" fill="#aeaeae"/>
<circle cx="104" cy="519" r="5.0" fill="#141414"/>
<circle cx="452" cy="118" r="4.8" fill="#a2a2a2"/>
<circle cx="32" cy="511" r="3.4" fill="#a1a1a1"/>
<circle cx="116" cy="290" r="3.4" fill="#a5a5a5"/>
<circle cx="619" cy="604" r="5.7" fill="#f3f3f3"/>
<circle cx="22" cy="159" r="3.9" fill="#a9a9a9"/>
<circle cx="432" cy="323" r="5.1" fill="#a2a2a2"/>
<circle cx="409" cy="313" r="3.6" fill="#cacaca"/>
<circle cx="229" cy="560" r="3.9" fill="#a8a8a8"/>
<circle cx="30" cy="343" r="5.0" fill="#141414"/>
<circle cx="198" cy="171" r="5.2" fill="#a7a7a7"/>
<circle cx="568" cy="612" r="3.2" fill="#c2c2c2"/>
<circle cx="91" cy="603" r="4.3" fill="#c5c5c5"/>
<circle cx="202" cy="434" r="5.0" fill="#a2a2a2"/>
<circle cx="47" cy="512" r="5.0" fill="#141414"/>
<circle cx="117" cy="444" r="3.4" fill="#a2a2a2"/>
<circle cx="531" cy="40" r="5.1" fill="#a7a7a7"/>
<circle cx="601" cy="620" r="4.1" fill="#a9a9a9"/>
<circle cx="155" cy="429" r="3.7" fill="#a4a4a4"/>
<circle cx="318" cy="49" r="3.5" fill="#a9a9a9"/>
<circle cx="202" cy="196" r="5.0" fill="#141414"/>
<circle cx="220" cy="116" r="5.1" fill="#a2a2a2"/>
<circle cx="414" cy="501" r="4.8" fill="#c7c7c7"/>
<circle cx="363" cy="175" r="3.4" fill="#a9a9a9"/>
<circle cx="102" cy="24" r="3.9" fill="#b1b1b1"/>
<circle cx="556" cy="138" r="3.8" fill="#c5c5c5"/>
<circle cx="52" cy="174" r="4.3" fill="#a5a5a5"/>
<circle cx="369" cy="413" r="5.3" fill="#a1a1a1"/>
<circle cx="30" cy="408" r="4.5" fill="#a9a9a9"/>
<circle cx="288" cy="127" r="3.9" fill="#c7c7c7"/>
<circle cx="348" cy="588" r="5.1" fill="#b7b7b7"/>
<circle cx="231" cy="333" r="3.8" fill="#a4a4a4"/>
<circle cx="31" cy="208" r="3.4" fill="#ababab"/>
<circle cx="602" cy="330" r="5.1" fill="#b4b4b4"/>
<circle cx="197" cy="572" r="4.4" fill="#a1a1a1"/>
<circle cx="471" cy="348" r="3.7" fill="#a6a6a6"/>
<circle cx="383" cy="306" r="3.5" fill="#a6a6a6"/>
<circle cx="87" cy="148" r="5.1" fill="#aeaeae"/>
<circle cx="490" cy="164" r="4.4" fill="#bcbcbc"/>
<circle cx="526" cy="374" r="4.0" fill="#a2a2a2"/>
<circle cx="77" cy="42" r="4.7" fill="#a6a6a6"/>
<circle cx="12" cy="453" r="4.9" fill="#ededed"/>
<circle cx="532" cy="526" r="3.5" fill="#b1b1b1"/>
<circle cx="226" cy="277" r="4.1" fill="#ababab"/>
<circle cx="370" cy="585" r="4.7" fill="#a8a8a8"/>
<circle cx="15" cy="381" r="3.8" fill="#b4b4b4"/>
<circle cx="66" cy="342" r="5.0" fill="#efefef"/>
<circle cx="107" cy="531" r="4.8" fill="#bcbcbc"/>
<circle cx="390" cy="484" r="3.7" fill="#b9b9b9"/>
<circle cx="372" cy="157" r="3.6" fill="#aaaaaa"/>
<circle cx="477" cy="45" r="3.4" fill="#a8a8a8"/>
<circle cx="509" cy="601" r="5.2" fill="#a5a5a5"/>
<circle cx="43" cy="197" r="5.3" fill="#adadad"/>
<circle cx="633" cy="518" r="3.7" fill="#a3a3a3"/>
<circle cx="519" cy="186" r="3.6" fill="#aaaaaa"/>
<circle cx="359" cy="470" r="5.0" fill="#141414"/>
<circle cx="187" cy="380" r="4.3" fill="#a5a5a5"/>
<circle cx="45" cy="589" r="4.3" fill="#c5c5c5"/>
<circle cx="227" cy="232" r="5.1" fill="#c6c6c6"/>
<circle cx="523" cy="254" r="3.8" fill="#adadad"/>
<circle cx="133" cy="327" r="4.7" fill="#c5c5c5"/>
<circle cx="350" cy="64" r="4.5" fill="#b1b1b1"/>
<circle cx="64" cy="300" r="5.2" fill="#c8c8c8"/>
<circle cx="64" cy="230" r="3.6" fill="#b4b4b4"/>
<circle cx="246" cy="112" r="3.5" fill="#b4b4b4"/>
<circle cx="633" cy="203" r="4.2" fill="#a9a9a9"/>
<circle cx="316" cy="409" r="4.9" fill="#ababab"/>
<circle cx="466" cy="514" r="3.4" fill="#a6a6a6"/>
<circle cx="9" cy="566" r="4.3" fill="#a7a7a7"/>
<circle cx="64" cy="627" r="3.3" fill="#a5a5a5"/>
<circle cx="603" cy="432" r="4.4" fill="#c0c0c0"/>
<circle cx="562" cy="628" r="4.8" fill="#c3c3c3"/>
<circle cx="598" cy="491" r="4.1" fill="#bdbdbd"/>
<circle cx="227" cy="485" r="4.2" fill="#c7c7c7"/>
<circle cx="494" cy="135" r="3.3" fill="#c1c1c1"/>
<circle cx="518" cy="478" r="5.6" fill="#ececec"/>
<circle cx="431" cy="629" r="4.3" fill="#a9a9a9"/>
<circle cx="365" cy="215" r="4.7" fill="#cbcbcb"/>
<circle cx="477" cy="518" r="4.9" fill="#b5b5b5"/>
<circle cx="350" cy="627" r="3.2" fill="#b7b7b7"/>
<circle cx="221" cy="325" r="3.4" fill="#b3b3b3"/>
<circle cx="502" cy="576" r="4.8" fill="#a2a2a2"/>
<circle cx="124" cy="503" r="5.0" fill="#141414"/>
<circle cx="406" cy="416" r="3.2" fill="#adadad"/>
<circle cx="389" cy="19" r="4.1" fill="#afafaf"/>
<circle cx="604" cy="397" r="4.8" fill="#a9a9a9"/>
<circle cx="546" cy="434" r="3.7" fill="#b6b6b6"/>
<circle cx="311" cy="198" r="4.4" fill="#bdbdbd"/>
<circle cx="625" cy="244" r="4.4" fill="#a3a3a3"/>
<circle cx="289" cy="368" r="5.2" fill="#c3c3c3"/>
<circle cx="183" cy="30" r="4.8" fill="#b4b4b4"/>
<circle cx="162" cy="226" r="3.6" fill="#c0c0c0"/>
<circle cx="407" cy="444" r="3.5" fill="#b9b9b9"/>
<circle cx="313" cy="91" r="5.2" fill="#bcbcbc"/>
<circle cx="281" cy="259" r="3.7" fill="#bdbdbd"/>
<circle cx="245" cy="520" r="5.0" fill="#c2c2c2"/>
<circle cx="294" cy="291" r="4.7" fill="#a7a7a7"/>
<circle cx="198" cy="224" r="5.2" fill="#a6a6a6"/>
<circle cx="343" cy="108" r="3.3" fill="#b6b6b6"/>
<circle cx="278" cy="574" r="4.9" fill="#ababab"/>
<circle cx="86" cy="193" r="4.3" fill="#aeaeae"/>
<circle cx="366" cy="427" r="4.9" fill="#b3b3b3"/>
<circle cx="382" cy="173" r="4.1" fill="#bebebe"/>
<circle cx="388" cy="7" r="3.9" fill="#a4a4a4"/>
<circle cx="16" cy="399" r="3.8" fill="#c9c9c9"/>
<circle cx="244" cy="361" r="3.5" fill="#b9b9b9"/>
<circle cx="205" cy="40" r="4.7" fill="#b8b8b8"/>
<circle cx="591" cy="32" r="4.4" fill="#a8a8a8"/>
<circle cx="601" cy="192" r="4.2" fill="#a1a1a1"/>
<circle cx="195" cy="236" r="4.2" fill="#acacac"/>
<circle cx="395" cy="255" r="4.0" fill="#a5a5a5"/>
<circle cx="619" cy="5" r="4.2" fill="#bdbdbd"/>
<circle cx="140" cy="474" r="4.0" fill="#b7b7b7"/>
<circle cx="619" cy="181" r="3.3" fill="#cacaca"/>
<circle cx="566" cy="231" r="4.7" fill="#a1a1a1"/>
<circle cx="224" cy="420" r="4.9" fill="#ededed"/>
<circle cx="264" cy="128" r="4.5" fill="#bbbbbb"/>
<circle cx="442" cy="245" r="5.0" fill="#141414"/>
<circle cx="106" cy="93" r="3.3" fill="#a7a7a7"/>
<circle cx="519" cy="241" r="4.5" fill="#ececec"/>
<circle cx="127" cy="275" r="3.3" fill="#c1c1c1"/>
<circle cx="76" cy="469" r="4.1" fill="#bcbcbc"/>
<circle cx="429" cy="384" r="4.0" fill="#b3b3b3"/>
<circle cx="265" cy="585" r="3.9" fill="#aaaaaa"/>
<circle cx="59" cy="451" r="3.9" fill="#a8a8a8"/>
<circle cx="493" cy="589" r="4.5" fill="#b7b7b7"/>
<circle cx="215" cy="56" r="5.0" fill="#141414"/>
<circle cx="535" cy="590" r="5.0" fill="#141414"/>
<circle cx="131" cy="549" r="4.9" fill="#e8e8e8"/>
<circle cx="555" cy="610" r="3.9" fill="#c2c2c2"/>
<circle cx="102" cy="348" r="5.0" fill="#b6b6b6"/>
<circle cx="621" cy="169" r="4.6" fill="#aaaaaa"/>
<circle cx="631" cy="312" r="3.4" fill="#a3a3a3"/>
<circle cx="131" cy="89" r="5.1" fill="#aeaeae"/>
<circle cx="285" cy="592" r="3.8" fill="#aeaeae"/>
<circle cx="590" cy="191" r="4.2" fill="#adadad"/>
<circle cx="293" cy="304" r="3.9" fill="#c6c6c6"/>
<circle cx="111" cy="0" r="4.8" fill="#afafaf"/>
<circle cx="411" cy="277" r="5.0" fill="#141414"/>
<circle cx="533" cy="364" r="5.0" fill="#141414"/>
<circle cx="112" cy="460" r="3.3" fill="#a6a6a6"/>
<circle cx="15" cy="86" r="4.6" fill="#bbbbbb"/>
<circle cx="255" cy="254" r="4.5" fill="#a5a5a5"/>
<circle cx="410" cy="464" r="4.2" fill="#cccccc"/>
<circle cx="505" cy="352" r="4.9" fill="#cbcbcb"/>
<circle cx="246" cy="153" r="4.1" fill="#bcbcbc"/>
<circle cx="6" cy="295" r="5.2" fill="#b7b7b7"/>
<circle cx="525" cy="335" r="3.9" fill="#ababab"/>
<circle cx="269" cy="255" r="3.9" fill="#a2a2a2"/>
<circle cx="159" cy="380" r="5.1" fill="#cacaca"/>
<circle cx="124" cy="479" r="4.3" fill="#cacaca"/>
<circle cx="116" cy="360" r="5.2" fill="#b7b7b7"/>
<circle cx="20" cy="489" r="3.9" fill="#c7c7c7"/>
<circle cx="468" cy="420" r="3.9" fill="#b0b0b0"/>
<circle cx="515" cy="572" r="4.4" fill="#adadad"/>
<circle cx="381" cy="334" r="4.8" fill="#acacac"/>
<circle cx="497" cy="2" r="4.1" fill="#acacac"/>
<circle cx="593" cy="290" r="3.3" fill="#c1c1c1"/>
<circle cx="443" cy="426" r="3.6" fill="#c7c7c7"/>
<circle cx="317" cy="579" r="3.2" fill="#b4b4b4"/>
<circle cx="363" cy="36" r="5.0" fill="#141414"/>
<circle cx="200" cy="588" r="4.6" fill="#a2a2a2"/>
<circle cx="536" cy="338" r="4.1" fill="#bfbfbf"/>
<circle cx="610" cy="423" r="4.8" fill="#c0c0c0"/>
<circle cx="61" cy="250" r="5.1" fill="#aaaaaa"/>
<circle cx="61" cy="82" r="4.4" fill="#b9b9b9"/>
<circle cx="557" cy="170" r="4.1" fill="#a9a9a9"/>
<circle cx="438" cy="229" r="5.2" fill="#c2c2c2"/>
<circle cx="221" cy="400" r="4.9" fill="#a8a8a8"/>
<circle cx="110" cy="626" r="4.8" fill="#acacac"/>
<circle cx="6" cy="542" r="3.9" fill="#bcbcbc"/>
<circle cx="35" cy="279" r="3.4" fill="#b2b2b2"/>
<circle cx="544" cy="615" r="5.3" fill="#cbcbcb"/>
<circle cx="41" cy="450" r="4.2" fill="#c0c0c0"/>
<circle cx="87" cy="413" r="3.4" fill="#c0c0c0"/>
<circle cx="445" cy="617" r="3.4" fill="#ababab"/>
<circle cx="458" cy="218" r="5.0" fill="#c3c3c3"/>
<circle cx="142" cy="185" r="3.9" fill="#a3a3a3"/>
<circle cx="83" cy="350" r="3.3" fill="#c2c2c2"/>
<circle cx="600" cy="608" r="5.4" fill="#e9e9e9"/>
<circle cx="286" cy="535" r="3.2" fill="#bdbdbd"/>
<circle cx="287" cy="45" r="5.0" fill="#141414"/>
<circle cx="20" cy="556" r="5.0" fill="#a7a7a7"/>
<circle cx="251" cy="473" r="4.1" fill="#ababab"/>
<circle cx="584" cy="316" r="3.6" fill="#cacaca"/>
<circle cx="472" cy="438" r="3.7" fill="#a5a5a5"/>
<circle cx="386" cy="393" r="4.4" fill="#c5c5c5"/>
<circle cx="2" cy="185" r="4.1" fill="#ababab"/>
<circle cx="117" cy="31" r="5.0" fill="#e3e3e3"/>
<circle cx="85" cy="80" r="4.3" fill="#a6a6a6"/>
<circle cx="244" cy="502" r="4.8" fill="#a6a6a6"/>
<circle cx="212" cy="1" r="4.3" fill="#a4a4a4"/>
<circle cx="349" cy="572" r="4.6" fill="#ababab"/>
<circle cx="572" cy="29" r="5.0" fill="#b4b4b4"/>
<circle cx="207" cy="458" r="3.6" fill="#b3b3b3"/>
<circle cx="383" cy="36" r="3.6" fill="#b9b9b9"/>
<circle cx="306" cy="478" r="4.7" fill="#e7e7e7"/>
<circle cx="318" cy="331" r="4.8" fill="#c4c4c4"/>
<circle cx="506" cy="50" r="4.1" fill="#bababa"/>
<circle cx="316" cy="213" r="3.9" fill="#a1a1a1"/>
<circle cx="292" cy="111" r="4.3" fill="#a6a6a6"/>
<circle cx="312" cy="159" r="3.8" fill="#a9a9a9"/>
<circle cx="4" cy="338" r="4.9" fill="#b4b4b4"/>
<circle cx="265" cy="289" r="5.0" fill="#c4c4c4"/>
<circle cx="490" cy="230" r="3.6" fill="#b9b9b9"/>
<circle cx="350" cy="513" r="4.5" fill="#b8b8b8"/>
<circle cx="481" cy="94" r="3.2" fill="#adadad"/>
<circle cx="620" cy="551" r="4.0" fill="#acacac"/>
<circle cx="423" cy="371" r="4.4" fill="#b6b6b6"/>
<circle cx="229" cy="544" r="3.9" fill="#c3c3c3"/>
<circle cx="633" cy="609" r="3.4" fill="#c2c2c2"/>
<circle cx="178" cy="311" r="4.1" fill="#a1a1a1"/>
<circle cx="162" cy="469" r="5.0" fill="#a7a7a7"/>
<circle cx="69" cy="578" r="5.0" fill="#141414"/>
<circle cx="152" cy="458" r="4.5" fill="#bdbdbd"/>
<circle cx="445" cy="14" r="4.0" fill="#a8a8a8"/>
<circle cx="606" cy="469" r="5.0" fill="#a7a7a7"/>
<circle cx="405" cy="580" r="3.9" fill="#a1a1a1"/>
<circle cx="336" cy="313" r="4.0" fill="#acacac"/>
<circle cx="450" cy="606" r="3.9" fill="#adadad"/>
<circle cx="51" cy="624" r="4.9" fill="#b4b4b4"/>
<circle cx="445" cy="57" r="3.7" fill="#aeaeae"/>
<circle cx="380" cy="124" r="4.4" fill="#bcbcbc"/>
<circle cx="120" cy="79" r="4.3" fill="#bfbfbf"/>
<circle cx="207" cy="27" r="3.5" fill="#a1a1a1"/>
<circle cx="215" cy="430" r="4.6" fill="#b3b3b3"/>
<circle cx="44" cy="160" r="5.1" fill="#b0b0b0"/>
<circle cx="415" cy="42" r="4.4" fill="#a4a4a4"/>
<circle cx="179" cy="524" r="3.6" fill="#c9c9c9"/>
<circle cx="542" cy="457" r="3.9" fill="#bbbbbb"/>
<circle cx="501" cy="523" r="3.2" fill="#aeaeae"/>
<circle cx="611" cy="568" r="5.0" fill="#bcbcbc"/>
<circle cx="256" cy="137" r="3.3" fill="#b1b1b1"/>
<circle cx="318" cy="490" r="4.6" fill="#b2b2b2"/>
<circle cx="420" cy="103" r="3.6" fill="#a3a3a3"/>
<circle cx="29" cy="231" r="5.0" fill="#141414"/>
<circle cx="278" cy="1" r="5.2" fill="#b6b6b6"/>
<circle cx="48" cy="475" r="5.3" fill="#acacac"/>
<circle cx="398" cy="429" r="4.3" fill="#a1a1a1"/>
<circle cx="346" cy="299" r="4.6" fill="#b3b3b3"/>
<circle cx="422" cy="446" r="4.9" fill="#c4c4c4"/>
<circle cx="487" cy="197" r="3.8" fill="#c9c9c9"/>
<circle cx="238" cy="422" r="3.6" fill="#bcbcbc"/>
<circle cx="124" cy="50" r="3.7" fill="#bdbdbd"/>
<circle cx="406" cy="263" r="4.7" fill="#b5b5b5"/>
<circle cx="567" cy="399" r="4.5" fill="#b2b2b2"/>
<circle cx="163" cy="569" r="3.7" fill="#c5c5c5"/>
<circle cx="533" cy="60" r="5.0" fill="#bdbdbd"/>
<circle cx="79" cy="124" r="4.9" fill="#bbbbbb"/>
<circle cx="202" cy="328" r="4.5" fill="#a9a9a9"/>
<circle cx="530" cy="211" r="3.6" fill="#a6a6a6"/>
<circle cx="485" cy="570" r="4.4" fill="#a9a9a9"/>
<circle cx="127" cy="132" r="4.3" fill="#afafaf"/>
<circle cx="614" cy="633" r="4.2" fill="#a6a6a6"/>
<circle cx="268" cy="310" r="4.8" fill="#aaaaaa"/>
<circle cx="351" cy="437" r="4.0" fill="#b5b5b5"/>
<circle cx="444" cy="444" r="5.0" fill="#141414"/>
<circle cx="511" cy="75" r="4.6" fill="#c8c8c8"/>
<circle cx="380" cy="377" r="4.2" fill="#a4a4a4"/>
<circle cx="68" cy="189" r="3.8" fill="#a1a1a1"/>
<circle cx="346" cy="499" r="3.3" fill="#cbcbcb"/>
<circle cx="360" cy="605" r="5.5" fill="#e3e3e3"/>
<circle cx="379" cy="422" r="3.2" fill="#bababa"/>
<circle cx="214" cy="92" r="4.5" fill="#cacaca"/>
<circle cx="378" cy="364" r="4.8" fill="#a5a5a5"/>
<circle cx="497" cy="372" r="4.9" fill="#a3a3a3"/>
<circle cx="481" cy="81" r="5.2" fill="#c2c2c2"/>
<circle cx="208" cy="140" r="4.2" fill="#a2a2a2"/>
<circle cx="233" cy="197" r="4.1" fill="#bfbfbf"/>
<circle cx="585" cy="234" r="5.1" fill="#c1c1c1"/>
<circle cx="25" cy="604" r="4.7" fill="#b4b4b4"/>
<circle cx="174" cy="422" r="3.8" fill="#bababa"/>
<circle cx="467" cy="453" r="3.8" fill="#cccccc"/>
<circle cx="564" cy="15" r="4.8" fill="#a1a1a1"/>
<circle cx="597" cy="174" r="3.3" fill="#b1b1b1"/>
<circle cx="378" cy="74" r="4.5" fill="#b9b9b9"/>
<circle cx="629" cy="327" r="4.6" fill="#bcbcbc"/>
<circle cx="497" cy="338" r="3.2" fill="#a2a2a2"/>
<circle cx="132" cy="434" r="4.0" fill="#c4c4c4"/>
<circle cx="259" cy="300" r="3.4" fill="#b4b4b4"/>
<circle cx="234" cy="260" r="4.9" fill="#bfbfbf"/>
<circle cx="405" cy="551" r="4.2" fill="#a9a9a9"/>
<circle cx="263" cy="438" r="5.3" fill="#ababab"/>
<circle cx="307" cy="539" r="3.7" fill="#adadad"/>
<circle cx="216" cy="561" r="5.2" fill="#eaeaea"/>
<circle cx="184" cy="410" r="4.5" fill="#a5a5a5"/>
<circle cx="153" cy="22" r="3.4" fill="#aeaeae"/>
<circle cx="59" cy="547" r="3.5" fill="#a8a8a8"/>
<circle cx="581" cy="292" r="3.7" fill="#cccccc"/>
<circle cx="58" cy="284" r="4.5" fill="#a6a6a6"/>
<circle cx="132" cy="162" r="3.9" fill="#b3b3b3"/>
<circle cx="104" cy="443" r="3.8" fill="#a1a1a1"/>
<circle cx="441" cy="359" r="4.2" fill="#a1a1a1"/>
<circle cx="418" cy="72" r="5.2" fill="#b3b3b3"/>
<circle cx="549" cy="423" r="5.0" fill="#c2c2c2"/>
<circle cx="4" cy="28" r="5.0" fill="#141414"/>
<circle cx="262" cy="335" r="5.0" fill="#141414"/>
<circle cx="116" cy="250" r="4.6" fill="#ababab"/>
<circle cx="389" cy="276" r="3.9" fill="#c7c7c7"/>
<circle cx="334" cy="299" r="4.1" fill="#a5a5a5"/>
<circle cx="132" cy="465" r="5.3" fill="#c8c8c8"/>
<circle cx="19" cy="473" r="5.2" fill="#aeaeae"/>
<circle cx="351" cy="86" r="4.8" fill="#bdbdbd"/>
<circle cx="392" cy="59" r="4.4" fill="#b3b3b3"/>
<circle cx="442" cy="414" r="4.6" fill="#a7a7a7"/>
<circle cx="74" cy="534" r="5.1" fill="#a1a1a1"/>
<circle cx="261" cy="19" r="4.1" fill="#a1a1a1"/>
<circle cx="285" cy="469" r="5.3" fill="#cacaca"/>
<circle cx="332" cy="574" r="3.5" fill="#bbbbbb"/>
<circle cx="345" cy="201" r="4.7" fill="#c0c0c0"/>
<circle cx="314" cy="296" r="4.5" fill="#a6a6a6"/>
<circle cx="409" cy="109" r="4.7" fill="#a9a9a9"/>
<circle cx="216" cy="539" r="3.3" fill="#bcbcbc"/>
<circle cx="618" cy="316" r="5.0" fill="#141414"/>
<circle cx="43" cy="48" r="4.1" fill="#a4a4a4"/>
<circle cx="348" cy="419" r="4.1" fill="#a8a8a8"/>
<circle cx="198" cy="20" r="3.5" fill="#aeaeae"/>
<circle cx="371" cy="570" r="5.1" fill="#c9c9c9"/>
<circle cx="597" cy="592" r="3.7" fill="#c2c2c2"/>
<circle cx="385" cy="501" r="4.3" fill="#bbbbbb"/>
<circle cx="431" cy="208" r="4.6" fill="#bebebe"/>
<circle cx="19" cy="33" r="4.7" fill="#c8c8c8"/>
<circle cx="547" cy="320" r="3.7" fill="#ababab"/>
<circle cx="555" cy="404" r="4.8" fill="#a7a7a7"/>
<circle cx="193" cy="274" r="4.6" fill="#a6a6a6"/>
<circle cx="458" cy="283" r="5.0" fill="#141414"/>
<circle cx="70" cy="134" r="4.7" fill="#ababab"/>
<circle cx="109" cy="546" r="5.2" fill="#a2a2a2"/>
<circle cx="159" cy="211" r="5.1" fill="#a1a1a1"/>
<circle cx="401" cy="334" r="4.0" fill="#a6a6a6"/>
<circle cx="143" cy="441" r="5.0" fill="#141414"/>
<circle cx="84" cy="243" r="5.0" fill="#cccccc"/>
<circle cx="563" cy="149" r="4.0" fill="#b1b1b1"/>
<circle cx="582" cy="404" r="5.2" fill="#bbbbbb"/>
<circle cx="241" cy="343" r="4.2" fill="#c2c2c2"/>
<circle cx="602" cy="230" r="5.0" fill="#a5a5a5"/>
<circle cx="203" cy="417" r="4.3" fill="#e9e9e9"/>
<circle cx="493" cy="393" r="4.5" fill="#a9a9a9"/>
<circle cx="353" cy="526" r="5.8" fill="#f3f3f3"/>
<circle cx="539" cy="128" r="3.4" fill="#aeaeae"/>
<circle cx="361" cy="507" r="4.6" fill="#b8b8b8"/>
<circle cx="156" cy="108" r="4.4" fill="#aaaaaa"/>
<circle cx="432" cy="468" r="3.9" fill="#a7a7a7"/>
<circle cx="572" cy="250" r="4.0" fill="#afafaf"/>
<circle cx="324" cy="241" r="3.6" fill="#cccccc"/>
<circle cx="93" cy="208" r="5.2" fill="#a2a2a2"/>
<circle cx="371" cy="598" r="5.2" fill="#aaaaaa"/>
<circle cx="395" cy="196" r="4.9" fill="#acacac"/>
<circle cx="69" cy="12" r="4.6" fill="#c8c8c8"/>
<circle cx="519" cy="36" r="4.1" fill="#cacaca"/>
<circle cx="135" cy="313" r="4.3" fill="#a6a6a6"/>
<circle cx="78" cy="338" r="4.1" fill="#a5a5a5"/>
<circle cx="146" cy="590" r="4.7" fill="#b3b3b3"/>
<circle cx="555" cy="284" r="3.5" fill="#a6a6a6"/>
<circle cx="14" cy="428" r="4.8" fill="#b6b6b6"/>
<circle cx="336" cy="633" r="4.1" fill="#afafaf"/>
<circle cx="632" cy="497" r="4.3" fill="#c3c3c3"/>
<circle cx="1" cy="440" r="3.8" fill="#a1a1a1"/>
<circle cx="40" cy="73" r="3.5" fill="#a1a1a1"/>
<circle cx="360" cy="578" r="5.3" fill="#c4c4c4"/>
<circle cx="53" cy="22" r="3.7" fill="#a9a9a9"/>
<circle cx="381" cy="91" r="3.5" fill="#a1a1a1"/>
<circle cx="519" cy="16" r="5.0" fill="#141414"/>
<circle cx="406" cy="389" r="4.5" fill="#c2c2c2"/>
<circle cx="97" cy="372" r="4.3" fill="#a9a9a9"/>
<circle cx="185" cy="602" r="4.8" fill="#ababab"/>
<circle cx="56" cy="360" r="5.1" fill="#b2b2b2"/>
<circle cx="427" cy="567" r="4.1" fill="#b5b5b5"/>
<circle cx="506" cy="392" r="3.5" fill="#bbbbbb"/>
<circle cx="102" cy="200" r="4.3" fill="#b6b6b6"/>
<circle cx="111" cy="399" r="5.4" fill="#e1e1e1"/>
<circle cx="602" cy="559" r="3.3" fill="#a5a5a5"/>
<circle cx="27" cy="245" r="3.6" fill="#b5b5b5"/>
<circle cx="576" cy="148" r="5.0" fill="#a3a3a3"/>
<circle cx="539" cy="376" r="5.0" fill="#141414"/>
<circle cx="279" cy="318" r="4.2" fill="#b3b3b3"/>
<circle cx="581" cy="8" r="5.5" fill="#f3f3f3"/>
<circle cx="138" cy="383" r="5.2" fill="#a4a4a4"/>
<circle cx="93" cy="12" r="5.3" fill="#e5e5e5"/>
<circle cx="596" cy="212" r="5.0" fill="#141414"/>
<circle cx="504" cy="118" r="4.4" fill="#c7c7c7"/>
<circle cx="357" cy="351" r="3.3" fill="#a2a2a2"/>
<circle cx="426" cy="337" r="4.0" fill="#a1a1a1"/>
<circle cx="160" cy="333" r="5.3" fill="#bababa"/>
<circle cx="554" cy="265" r="3.9" fill="#aeaeae"/>
<circle cx="74" cy="175" r="5.3" fill="#b8b8b8"/>
<circle cx="346" cy="213" r="3.9" fill="#a4a4a4"/>
<circle cx="619" cy="494" r="3.4" fill="#bdbdbd"/>
<circle cx="604" cy="22" r="3.9" fill="#c6c6c6"/>
<circle cx="403" cy="371" r="5.2" fill="#a1a1a1"/>
<circle cx="148" cy="505" r="4.9" fill="#aaaaaa"/>
<circle cx="475" cy="115" r="4.5" fill="#b8b8b8"/>
<circle cx="417" cy="25" r="3.8" fill="#ababab"/>
<circle cx="552" cy="590" r="5.1" fill="#c0c0c0"/>
<circle cx="454" cy="91" r="5.1" fill="#aaaaaa"/>
<circle cx="540" cy="158" r="4.3" fill="#a3a3a3"/>
<circle cx="581" cy="182" r="4.9" fill="#a6a6a6"/>
<circle cx="178" cy="225" r="5.0" fill="#b3b3b3"/>
<circle cx="258" cy="67" r="3.3" fill="#adadad"/>
<circle cx="409" cy="165" r="4.9" fill="#eeeeee"/>
<circle cx="292" cy="333" r="3.2" fill="#a2a2a2"/>
<circle cx="192" cy="320" r="3.2" fill="#bebebe"/>
<circle cx="292" cy="228" r="3.5" fill="#c0c0c0"/>
<circle cx="533" cy="265" r="4.0" fill="#cccccc"/>
<circle cx="215" cy="165" r="4.6" fill="#a1a1a1"/>
<circle cx="336" cy="251" r="3.9" fill="#acacac"/>
<circle cx="194" cy="101" r="4.7" fill="#a9a9a9"/>
<circle cx="595" cy="457" r="4.8" fill="#dddddd"/>
<circle cx="395" cy="300" r="4.9" fill="#b2b2b2"/>
<circle cx="428" cy="307" r="4.1" fill="#aaaaaa"/>
<circle cx="491" cy="461" r="4.7" fill="#c8c8c8"/>
<circle cx="413" cy="184" r="3.5" fill="#a4a4a4"/>
<circle cx="427" cy="262" r="4.9" fill="#acacac"/>
<circle cx="493" cy="612" r="4.2" fill="#a3a3a3"/>
<circle cx="595" cy="478" r="5.3" fill="#c0c0c0"/>
<circle cx="217" cy="74" r="5.2" fill="#a1a1a1"/>
<circle cx="440" cy="114" r="3.5" fill="#a4a4a4"/>
<circle cx="289" cy="11" r="4.8" fill="#dcdcdc"/>
<circle cx="526" cy="487" r="3.8" fill="#a1a1a1"/>
<circle cx="438" cy="480" r="5.0" fill="#c8c8c8"/>
<circle cx="64" cy="567" r="3.4" fill="#a4a4a4"/>
<circle cx="283" cy="399" r="3.6" fill="#c1c1c1"/>
<circle cx="486" cy="599" r="5.1" fill="#e2e2e2"/>
<circle cx="228" cy="42" r="3.8" fill="#c2c2c2"/>
<circle cx="300" cy="74" r="4.2" fill="#b4b4b4"/>
<circle cx="82" cy="617" r="4.0" fill="#afafaf"/>
<circle cx="257" cy="266" r="3.4" fill="#bebebe"/>
<circle cx="173" cy="598" r="3.4" fill="#b9b9b9"/>
<circle cx="2" cy="617" r="5.1" fill="#bbbbbb"/>
<circle cx="608" cy="128" r="5.2" fill="#aaaaaa"/>
<circle cx="503" cy="208" r="3.6" fill="#cbcbcb"/>
<circle cx="276" cy="544" r="4.1" fill="#a8a8a8"/>
<circle cx="562" cy="323" r="4.2" fill="#a4a4a4"/>
<circle cx="167" cy="436" r="4.2" fill="#b2b2b2"/>
<circle cx="581" cy="113" r="4.2" fill="#c5c5c5"/>
<circle cx="402" cy="96" r="4.6" fill="#c2c2c2"/>
<circle cx="78" cy="1" r="5.5" fill="#f3f3f3"/>
<circle cx="436" cy="556" r="4.7" fill="#a6a6a6"/>
<circle cx="628" cy="301" r="3.5" fill="#a3a3a3"/>
<circle cx="101" cy="634" r="4.0" fill="#c0c0c0"/>
<circle cx="14" cy="594" r="3.6" fill="#a2a2a2"/>
<circle cx="109" cy="188" r="5.1" fill="#a6a6a6"/>
<circle cx="54" cy="68" r="3.6" fill="#acacac"/>
<circle cx="116" cy="587" r="5.0" fill="#a2a2a2"/>
<circle cx="396" cy="558" r="4.8" fill="#bbbbbb"/>
<circle cx="484" cy="106" r="3.3" fill="#b5b5b5"/>
<circle cx="575" cy="201" r="4.9" fill="#a5a5a5"/>
<circle cx="276" cy="132" r="3.3" fill="#c2c2c2"/>
<circle cx="328" cy="150" r="3.4" fill="#b8b8b8"/>
<circle cx="221" cy="13" r="4.5" fill="#bcbcbc"/>
<circle cx="595" cy="13" r="3.6" fill="#a8a8a8"/>
<circle cx="334" cy="547" r="4.8" fill="#c5c5c5"/>
<circle cx="491" cy="490" r="4.8" fill="#a5a5a5"/>
<circle cx="547" cy="491" r="3.3" fill="#b3b3b3"/>
<circle cx="179" cy="448" r="4.0" fill="#cacaca"/>
<circle cx="153" cy="519" r="5.0" fill="#cacaca"/>
<circle cx="402" cy="51" r="5.0" fill="#141414"/>
<circle cx="96" cy="1" r="3.3" fill="#a3a3a3"/>
<circle cx="478" cy="175" r="4.6" fill="#aeaeae"/>
<circle cx="48" cy="460" r="3.6" fill="#a6a6a6"/>
<circle cx="149" cy="89" r="4.3" fill="#c1c1c1"/>
<circle cx="405" cy="83" r="4.5" fill="#a3a3a3"/>
<circle cx="237" cy="408" r="3.3" fill="#aaaaaa"/>
<circle cx="633" cy="147" r="4.3" fill="#b2b2b2"/>
<circle cx="491" cy="360" r="3.8" fill="#b6b6b6"/>
<circle cx="553" cy="221" r="4.6" fill="#bbbbbb"/>
<circle cx="399" cy="13" r="5.1" fill="#a4a4a4"/>
<circle cx="95" cy="314" r="5.1" fill="#acacac"/>
<circle cx="18" cy="291" r="3.4" fill="#b8b8b8"/>
<circle cx="209" cy="403" r="4.9" fill="#b8b8b8"/>
<circle cx="220" cy="341" r="4.5" fill="#a5a5a5"/>
<circle cx="634" cy="539" r="3.3" fill="#bcbcbc"/>
<circle cx="279" cy="117" r="4.3" fill="#adadad"/>
<circle cx="501" cy="221" r="4.8" fill="#a8a8a8"/>
<circle cx="507" cy="251" r="4.8" fill="#a5a5a5"/>
<circle cx="223" cy="440" r="4.7" fill="#bebebe"/>
<circle cx="328" cy="430" r="5.1" fill="#b7b7b7"/>
<circle cx="295" cy="543" r="5.1" fill="#a2a2a2"/>
<circle cx="47" cy="336" r="3.7" fill="#adadad"/>
<circle cx="361" cy="337" r="5.0" fill="#141414"/>
<circle cx="253" cy="541" r="4.0" fill="#cacaca"/>
<circle cx="231" cy="454" r="5.2" fill="#c1c1c1"/>
<circle cx="527" cy="229" r="4.4" fill="#aaaaaa"/>
<circle cx="234" cy="287" r="4.0" fill="#adadad"/>
<circle cx="402" cy="473" r="5.0" fill="#141414"/>
<circle cx="93" cy="540" r="5.0" fill="#141414"/>
<circle cx="164" cy="298" r="5.0" fill="#141414"/>
<circle cx="455" cy="236" r="4.1" fill="#a5a5a5"/>
<circle cx="503" cy="267" r="3.8" fill="#c2c2c2"/>
<circle cx="431" cy="520" r="5.0" fill="#141414"/>
<circle cx="464" cy="81" r="3.3" fill="#c6c6c6"/>
<circle cx="357" cy="160" r="4.5" fill="#a1a1a1"/>
<circle cx="429" cy="502" r="4.6" fill="#a3a3a3"/>
<circle cx="22" cy="115" r="3.9" fill="#b2b2b2"/>
<circle cx="91" cy="477" r="4.3" fill="#bababa"/>
<circle cx="155" cy="286" r="4.6" fill="#a6a6a6"/>
<circle cx="294" cy="569" r="4.2" fill="#c3c3c3"/>
<circle cx="285" cy="429" r="4.7" fill="#b7b7b7"/>
<circle cx="38" cy="629" r="5.1" fill="#aaaaaa"/>
<circle cx="189" cy="55" r="3.6" fill="#c1c1c1"/>
<circle cx="570" cy="288" r="4.6" fill="#f1f1f1"/>
<circle cx="574" cy="135" r="4.2" fill="#ababab"/>
<circle cx="510" cy="229" r="5.1" fill="#a7a7a7"/>
<circle cx="121" cy="601" r="3.3" fill="#bfbfbf"/>
<circle cx="147" cy="59" r="3.5" fill="#a5a5a5"/>
<circle cx="193" cy="5" r="4.9" fill="#a3a3a3"/>
<circle cx="348" cy="252" r="4.2" fill="#a6a6a6"/>
<circle cx="633" cy="175" r="3.8" fill="#b3b3b3"/>
<circle cx="515" cy="285" r="3.4" fill="#bababa"/>
<circle cx="85" cy="429" r="4.3" fill="#bbbbbb"/>
<circle cx="617" cy="291" r="5.1" fill="#c0c0c0"/>
<circle cx="481" cy="132" r="5.0" fill="#141414"/>
<circle cx="176" cy="503" r="4.6" fill="#bdbdbd"/>
<circle cx="502" cy="481" r="4.2" fill="#a2a2a2"/>
<circle cx="194" cy="536" r="4.0" fill="#b2b2b2"/>
<circle cx="439" cy="257" r="4.6" fill="#bebebe"/>
<circle cx="471" cy="467" r="5.2" fill="#a5a5a5"/>
<circle cx="106" cy="11" r="3.9" fill="#bebebe"/>
<circle cx="249" cy="309" r="3.9" fill="#afafaf"/>
<circle cx="567" cy="374" r="3.4" fill="#a4a4a4"/>
<circle cx="237" cy="142" r="5.2" fill="#c2c2c2"/>
<circle cx="53" cy="149" r="3.6" fill="#a2a2a2"/>
<circle cx="541" cy="206" r="3.5" fill="#aaaaaa"/>
<circle cx="279" cy="23" r="3.6" fill="#c9c9c9"/>
<circle cx="530" cy="386" r="4.3" fill="#bababa"/>
<circle cx="597" cy="372" r="3.5" fill="#b1b1b1"/>
<circle cx="77" cy="264" r="4.2" fill="#b0b0b0"/>
<circle cx="286" cy="633" r="3.8" fill="#b1b1b1"/>
<circle cx="333" cy="40" r="5.3" fill="#aaaaaa"/>
<circle cx="506" cy="88" r="4.6" fill="#b2b2b2"/>
<circle cx="230" cy="309" r="4.2" fill="#b5b5b5"/>
<circle cx="256" cy="364" r="4.9" fill="#b1b1b1"/>
<circle cx="216" cy="479" r="3.8" fill="#c3c3c3"/>
<circle cx="151" cy="35" r="3.7" fill="#c9c9c9"/>
<circle cx="29" cy="169" r="4.9" fill="#a9a9a9"/>
<circle cx="597" cy="315" r="3.9" fill="#bcbcbc"/>
<circle cx="229" cy="521" r="3.9" fill="#a3a3a3"/>
<circle cx="547" cy="38" r="4.9" fill="#b7b7b7"/>
<circle cx="606" cy="548" r="3.6" fill="#a1a1a1"/>
<circle cx="337" cy="65" r="5.0" fill="#e3e3e3"/>
<circle cx="205" cy="557" r="5.0" fill="#141414"/>
<circle cx="145" cy="115" r="4.0" fill="#c4c4c4"/>
<circle cx="385" cy="211" r="3.9" fill="#a2a2a2"/>
<circle cx="623" cy="50" r="3.3" fill="#c1c1c1"/>
<circle cx="633" cy="450" r="5.1" fill="#a5a5a5"/>
<circle cx="44" cy="437" r="4.0" fill="#a4a4a4"/>
<circle cx="140" cy="533" r="4.6" fill="#a9a9a9"/>
<circle cx="531" cy="513" r="5.2" fill="#f4f4f4"/>
<circle cx="270" cy="613" r="4.5" fill="#a3a3a3"/>
<circle cx="102" cy="413" r="5.1" fill="#a9a9a9"/>
<circle cx="514" cy="110" r="4.9" fill="#c1c1c1"/>
<circle cx="462" cy="391" r="3.8" fill="#c1c1c1"/>
<circle cx="418" cy="476" r="4.9" fill="#a5a5a5"/>
<circle cx="159" cy="547" r="3.7" fill="#c3c3c3"/>
<circle cx="191" cy="485" r="3.7" fill="#a1a1a1"/>
<circle cx="589" cy="561" r="5.2" fill="#bfbfbf"/>
<circle cx="333" cy="129" r="5.3" fill="#cacaca"/>
<circle cx="126" cy="620" r="3.4" fill="#c1c1c1"/>
<circle cx="107" cy="217" r="4.5" fill="#a7a7a7"/>
<circle cx="592" cy="361" r="3.9" fill="#b3b3b3"/>
<circle cx="313" cy="618" r="3.8" fill="#a7a7a7"/>
<circle cx="91" cy="267" r="4.5" fill="#a9a9a9"/>
<circle cx="558" cy="452" r="5.1" fill="#afafaf"/>
<circle cx="157" cy="245" r="5.5" fill="#e9e9e9"/>
<circle cx="283" cy="284" r="5.1" fill="#afafaf"/>
<circle cx="225" cy="27" r="3.3" fill="#a5a5a5"/>
<circle cx="192" cy="460" r="4.6" fill="#ededed"/>
<circle cx="330" cy="225" r="5.0" fill="#141414"/>
<circle cx="32" cy="477" r="4.8" fill="#afafaf"/>
<circle cx="0" cy="9" r="5.2" fill="#b6b6b6"/>
<circle cx="190" cy="150" r="3.9" fill="#aaaaaa"/>
<circle cx="548" cy="626" r="3.2" fill="#bbbbbb"/>
<circle cx="515" cy="174" r="3.6" fill="#a6a6a6"/>
<circle cx="414" cy="3" r="4.1" fill="#bebebe"/>
<circle cx="427" cy="113" r="3.7" fill="#a2a2a2"/>
<circle cx="537" cy="424" r="4.0" fill="#bdbdbd"/>
<circle cx="241" cy="391" r="4.9" fill="#b1b1b1"/>
<circle cx="577" cy="526" r="3.9" fill="#bcbcbc"/>
<circle cx="316" cy="264" r="3.3" fill="#aeaeae"/>
<circle cx="569" cy="1" r="3.5" fill="#bcbcbc"/>
<circle cx="88" cy="97" r="5.0" fill="#bfbfbf"/>
<circle cx="409" cy="199" r="5.1" fill="#b5b5b5"/>
<circle cx="634" cy="29" r="4.3" fill="#b5b5b5"/>
<circle cx="506" cy="291" r="5.0" fill="#141414"/>
<circle cx="153" cy="633" r="4.4" fill="#bebebe"/>
<circle cx="379" cy="222" r="5.2" fill="#c5c5c5"/>
<circle cx="135" cy="230" r="5.2" fill="#afafaf"/>
<circle cx="84" cy="53" r="4.5" fill="#c2c2c2"/>
<circle cx="19" cy="45" r="3.9" fill="#a3a3a3"/>
<circle cx="632" cy="98" r="5.2" fill="#b0b0b0"/>
<circle cx="257" cy="157" r="3.7" fill="#a1a1a1"/>
<circle cx="259" cy="622" r="3.3" fill="#bfbfbf"/>
<circle cx="494" cy="445" r="3.9" fill="#bbbbbb"/>
<circle cx="364" cy="70" r="5.2" fill="#e0e0e0"/>
<circle cx="61" cy="588" r="3.7" fill="#b4b4b4"/>
<circle cx="112" cy="125" r="3.3" fill="#bdbdbd"/>
<circle cx="357" cy="51" r="3.3" fill="#b6b6b6"/>
<circle cx="515" cy="314" r="3.8" fill="#a3a3a3"/>
<circle cx="354" cy="264" r="4.1" fill="#adadad"/>
<circle cx="74" cy="308" r="3.8" fill="#c8c8c8"/>
<circle cx="21" cy="443" r="4.8" fill="#b6b6b6"/>
<circle cx="306" cy="275" r="5.0" fill="#a5a5a5"/>
<circle cx="128" cy="394" r="3.6" fill="#a8a8a8"/>
<circle cx="506" cy="11" r="4.9" fill="#a3a3a3"/>
<circle cx="559" cy="544" r="5.0" fill="#a9a9a9"/>
<circle cx="361" cy="133" r="5.2" fill="#a2a2a2"/>
<circle cx="24" cy="419" r="4.7" fill="#aaaaaa"/>
<circle cx="544" cy="51" r="5.0" fill="#a4a4a4"/>
<circle cx="205" cy="280" r="5.0" fill="#bebebe"/>
<circle cx="151" cy="267" r="5.2" fill="#a1a1a1"/>
<circle cx="208" cy="343" r="5.1" fill="#bfbfbf"/>
<circle cx="433" cy="402" r="4.2" fill="#a1a1a1"/>
<circle cx="573" cy="78" r="4.6" fill="#c2c2c2"/>
<circle cx="464" cy="408" r="3.7" fill="#bfbfbf"/>
<circle cx="567" cy="411" r="4.6" fill="#a1a1a1"/>
<circle cx="255" cy="206" r="3.4" fill="#ababab"/>
<circle cx="295" cy="322" r="5.3" fill="#a1a1a1"/>
<circle cx="1" cy="227" r="3.8" fill="#bebebe"/>
<circle cx="319" cy="504" r="5.0" fill="#a4a4a4"/>
<circle cx="605" cy="450" r="4.4" fill="#afafaf"/>
<circle cx="278" cy="209" r="5.0" fill="#a1a1a1"/>
<circle cx="580" cy="273" r="5.0" fill="#b2b2b2"/>
<circle cx="304" cy="178" r="5.2" fill="#bdbdbd"/>
<circle cx="129" cy="574" r="5.0" fill="#b2b2b2"/>
<circle cx="293" cy="479" r="4.2" fill="#c1c1c1"/>
<circle cx="509" cy="612" r="3.4" fill="#a8a8a8"/>
<circle cx="302" cy="342" r="3.8" fill="#a4a4a4"/>
<circle cx="409" cy="217" r="3.2" fill="#bdbdbd"/>
<circle cx="105" cy="36" r="4.7" fill="#a1a1a1"/>
<circle cx="99" cy="238" r="3.2" fill="#b3b3b3"/>
<circle cx="186" cy="583" r="5.2" fill="#c6c6c6"/>
<circle cx="255" cy="80" r="4.5" fill="#b7b7b7"/>
<circle cx="465" cy="592" r="4.1" fill="#b1b1b1"/>
<circle cx="611" cy="530" r="3.7" fill="#a5a5a5"/>
<circle cx="633" cy="552" r="3.6" fill="#c3c3c3"/>
<circle cx="135" cy="62" r="3.3" fill="#a3a3a3"/>
<circle cx="76" cy="547" r="4.4" fill="#bababa"/>
<circle cx="346" cy="156" r="4.7" fill="#ededed"/>
<circle cx="511" cy="24" r="4.7" fill="#a7a7a7"/>
<circle cx="171" cy="208" r="3.3" fill="#bfbfbf"/>
<circle cx="157" cy="580" r="4.5" fill="#bebebe"/>
<circle cx="617" cy="259" r="4.7" fill="#ababab"/>
<circle cx="593" cy="0" r="4.7" fill="#a9a9a9"/>
<circle cx="524" cy="356" r="5.2" fill="#a1a1a1"/>
<circle cx="308" cy="399" r="3.3" fill="#a1a1a1"/>
<circle cx="244" cy="455" r="3.8" fill="#afafaf"/>
<circle cx="601" cy="106" r="4.2" fill="#c4c4c4"/>
<circle cx="563" cy="38" r="4.1" fill="#b9b9b9"/>
<circle cx="458" cy="197" r="3.9" fill="#c3c3c3"/>
<circle cx="120" cy="632" r="3.7" fill="#a2a2a2"/>
<circle cx="29" cy="4" r="3.9" fill="#b7b7b7"/>
<circle cx="118" cy="99" r="4.3" fill="#aeaeae"/>
<circle cx="276" cy="85" r="4.7" fill="#bdbdbd"/>
<circle cx="529" cy="24" r="5.0" fill="#141414"/>
<circle cx="4" cy="492" r="4.4" fill="#a2a2a2"/>
<circle cx="296" cy="97" r="4.0" fill="#a3a3a3"/>
<circle cx="450" cy="496" r="4.7" fill="#adadad"/>
<circle cx="414" cy="344" r="3.9" fill="#c0c0c0"/>
<circle cx="289" cy="409" r="3.8" fill="#a5a5a5"/>
<circle cx="402" cy="123" r="4.3" fill="#c2c2c2"/>
<circle cx="321" cy="371" r="3.4" fill="#c4c4c4"/>
<circle cx="611" cy="306" r="3.4" fill="#a3a3a3"/>
<circle cx="465" cy="51" r="4.2" fill="#a3a3a3"/>
<circle cx="469" cy="545" r="4.1" fill="#c3c3c3"/>
<circle cx="40" cy="176" r="4.3" fill="#aeaeae"/>
<circle cx="2" cy="317" r="4.2" fill="#a9a9a9"/>
<circle cx="165" cy="513" r="5.0" fill="#c8c8c8"/>
<circle cx="323" cy="122" r="4.3" fill="#c1c1c1"/>
<circle cx="610" cy="481" r="4.3" fill="#c9c9c9"/>
<circle cx="333" cy="175" r="3.9" fill="#c1c1c1"/>
<circle cx="382" cy="351" r="3.3" fill="#c4c4c4"/>
<circle cx="213" cy="578" r="5.0" fill="#141414"/>
<circle cx="414" cy="55" r="4.7" fill="#a1a1a1"/>
<circle cx="383" cy="243" r="4.8" fill="#c3c3c3"/>
<circle cx="552" cy="126" r="5.0" fill="#a9a9a9"/>
<circle cx="92" cy="338" r="3.8" fill="#a3a3a3"/>
<circle cx="231" cy="582" r="5.3" fill="#aeaeae"/>
<circle cx="72" cy="75" r="4.7" fill="#a1a1a1"/>
<circle cx="484" cy="632" r="4.5" fill="#a3a3a3"/>
<circle cx="482" cy="389" r="5.1" fill="#a2a2a2"/>
<circle cx="178" cy="572" r="4.8" fill="#b7b7b7"/>
<circle cx="210" cy="250" r="4.2" fill="#c5c5c5"/>
<circle cx="481" cy="0" r="3.8" fill="#a5a5a5"/>
<circle cx="457" cy="171" r="5.0" fill="#a1a1a1"/>
<circle cx="602" cy="354" r="3.6" fill="#bbbbbb"/>
<circle cx="391" cy="515" r="5.0" fill="#141414"/>
<circle cx="583" cy="168" r="3.5" fill="#acacac"/>
<circle cx="250" cy="442" r="4.2" fill="#a8a8a8"/>
<circle cx="305" cy="450" r="5.0" fill="#141414"/>
<circle cx="427" cy="488" r="4.7" fill="#a1a1a1"/>
<circle cx="437" cy="85" r="3.7" fill="#bababa"/>
<circle cx="167" cy="152" r="4.8" fill="#f1f1f1"/>
<circle cx="544" cy="392" r="3.3" fill="#a7a7a7"/>
<circle cx="2" cy="272" r="4.5" fill="#aaaaaa"/>
<circle cx="413" cy="289" r="4.6" fill="#a2a2a2"/>
<circle cx="422" cy="414" r="5.0" fill="#141414"/>
<circle cx="6" cy="44" r="4.3" fill="#a3a3a3"/>
<circle cx="313" cy="422" r="5.0" fill="#141414"/>
<circle cx="159" cy="359" r="5.3" fill="#aeaeae"/>
<circle cx="269" cy="9" r="3.3" fill="#c1c1c1"/>
<circle cx="524" cy="323" r="3.7" fill="#a8a8a8"/>
<circle cx="586" cy="546" r="4.1" fill="#a9a9a9"/>
<circle cx="77" cy="156" r="4.1" fill="#c1c1c1"/>
<circle cx="577" cy="629" r="3.3" fill="#acacac"/>
<circle cx="490" cy="12" r="3.5" fill="#a2a2a2"/>
<circle cx="498" cy="282" r="3.4" fill="#b3b3b3"/>
<circle cx="108" cy="148" r="4.7" fill="#a6a6a6"/>
<circle cx="166" cy="51" r="4.9" fill="#dfdfdf"/>
<circle cx="155" cy="124" r="3.5" fill="#a3a3a3"/>
<circle cx="253" cy="592" r="4.4" fill="#afafaf"/>
<circle cx="85" cy="326" r="4.6" fill="#c9c9c9"/>
<circle cx="451" cy="265" r="3.8" fill="#a8a8a8"/>
<circle cx="390" cy="545" r="5.2" fill="#b1b1b1"/>
<circle cx="626" cy="158" r="4.5" fill="#ababab"/>
<circle cx="144" cy="422" r="3.7" fill="#a2a2a2"/>
<circle cx="140" cy="2" r="4.8" fill="#cccccc"/>
<circle cx="301" cy="528" r="5.0" fill="#141414"/>
<circle cx="266" cy="208" r="4.6" fill="#a1a1a1"/>
<circle cx="25" cy="499" r="5.0" fill="#b1b1b1"/>
<circle cx="31" cy="140" r="3.4" fill="#a5a5a5"/>
<circle cx="532" cy="607" r="4.2" fill="#a6a6a6"/>
<circle cx="594" cy="62" r="3.9" fill="#a6a6a6"/>
<circle cx="238" cy="15" r="4.3" fill="#a5a5a5"/>
<circle cx="190" cy="436" r="5.0" fill="#a9a9a9"/>
<circle cx="140" cy="298" r="5.0" fill="#b9b9b9"/>
<circle cx="28" cy="590" r="5.2" fill="#ababab"/>
<circle cx="516" cy="161" r="4.8" fill="#afafaf"/>
<circle cx="627" cy="213" r="5.3" fill="#e3e3e3"/>
<circle cx="171" cy="251" r="4.7" fill="#aaaaaa"/>
<circle cx="208" cy="212" r="4.0" fill="#a6a6a6"/>
<circle cx="74" cy="489" r="4.4" fill="#b0b0b0"/>
<circle cx="445" cy="532" r="4.4" fill="#aaaaaa"/>
<circle cx="392" cy="131" r="3.6" fill="#b6b6b6"/>
<circle cx="171" cy="586" r="4.6" fill="#afafaf"/>
<circle cx="124" cy="193" r="5.0" fill="#c7c7c7"/>
<circle cx="315" cy="343" r="3.5" fill="#c9c9c9"/>
<circle cx="397" cy="454" r="5.2" fill="#a8a8a8"/>
<circle cx="260" cy="91" r="4.0" fill="#c2c2c2"/>
<circle cx="190" cy="332" r="5.1" fill="#a6a6a6"/>
<circle cx="451" cy="457" r="4.7" fill="#a6a6a6"/>
<circle cx="566" cy="600" r="3.6" fill="#aaaaaa"/>
<circle cx="352" cy="552" r="5.1" fill="#c4c4c4"/>
<circle cx="574" cy="451" r="4.8" fill="#c9c9c9"/>
<circle cx="1" cy="395" r="5.1" fill="#a2a2a2"/>
<circle cx="286" cy="154" r="4.0" fill="#b2b2b2"/>
<circle cx="479" cy="458" r="5.0" fill="#141414"/>
<circle cx="217" cy="520" r="5.1" fill="#e6e6e6"/>
<circle cx="58" cy="200" r="3.8" fill="#a6a6a6"/>
<circle cx="263" cy="224" r="5.0" fill="#dfdfdf"/>
<circle cx="134" cy="561" r="4.0" fill="#a5a5a5"/>
<circle cx="539" cy="350" r="3.6" fill="#a3a3a3"/>
<circle cx="313" cy="79" r="4.6" fill="#c0c0c0"/>
<circle cx="263" cy="34" r="4.2" fill="#b7b7b7"/>
<circle cx="87" cy="528" r="4.6" fill="#b2b2b2"/>
</g>
</g></svg>
<g filter="url(#soft)">
<text class="tw" x="1052.5" y="1345.3" font-size="68.5" textLength="579.0" lengthAdjust="spacingAndGlyphs">SMAMP*-co-5%PEG</text>
<rect x="1761.6" y="1428.5" width="49" height="321" fill="url(#cb)" stroke="#1c1408" stroke-width="3"/>
<text class="sr" x="1779.2" y="1420.0" font-size="44.2" text-anchor="middle">9.0 nm</text>
<rect x="1508.7" y="1913.3" width="130" height="8.6" fill="#0c0c0c"/>
<text class="sr" x="1507.2" y="1958.0" font-size="43.2">1.0 µm</text>
</g>
<svg x="130.0" y="2004.0" width="634.5" height="634.6" overflow="hidden">
<g filter="url(#f3)">
<rect width="640" height="640" fill="#8f8f8f"/>
<g filter="url(#b30)" opacity="0.9">
<ellipse cx="60" cy="250" rx="70" ry="110" fill="#9e9e9e"/>
<ellipse cx="330" cy="190" rx="110" ry="70" fill="#9e9e9e"/>
<ellipse cx="410" cy="390" rx="70" ry="60" fill="#9e9e9e"/>
<ellipse cx="600" cy="400" rx="50" ry="60" fill="#999999"/>
<ellipse cx="390" cy="40" rx="80" ry="40" fill="#999999"/>
<ellipse cx="470" cy="250" rx="80" ry="60" fill="#6b6b6b"/>
<ellipse cx="120" cy="420" rx="70" ry="60" fill="#707070"/>
<ellipse cx="520" cy="560" rx="60" ry="50" fill="#707070"/>
<ellipse cx="60" cy="60" rx="60" ry="50" fill="#757575"/>
</g>
<g filter="url(#b3)" opacity="0.8">
<circle cx="88" cy="105" r="15.0" fill="#545454"/>
<circle cx="162" cy="170" r="15.0" fill="#545454"/>
<circle cx="105" cy="212" r="15.0" fill="#545454"/>
<circle cx="60" cy="232" r="15.0" fill="#545454"/>
<circle cx="291" cy="198" r="15.0" fill="#545454"/>
<circle cx="370" cy="181" r="15.0" fill="#545454"/>
<circle cx="432" cy="100" r="15.0" fill="#545454"/>
<circle cx="551" cy="111" r="15.0" fill="#545454"/>
<circle cx="568" cy="198" r="15.0" fill="#545454"/>
<circle cx="466" cy="241" r="15.0" fill="#545454"/>
<circle cx="100" cy="280" r="15.0" fill="#545454"/>
<circle cx="156" cy="274" r="15.0" fill="#545454"/>
<circle cx="294" cy="286" r="15.0" fill="#545454"/>
<circle cx="218" cy="322" r="15.0" fill="#545454"/>
<circle cx="390" cy="305" r="15.0" fill="#545454"/>
<circle cx="514" cy="288" r="15.0" fill="#545454"/>
<circle cx="289" cy="353" r="15.0" fill="#545454"/>
<circle cx="387" cy="339" r="15.0" fill="#545454"/>
<circle cx="438" cy="356" r="15.0" fill="#545454"/>
<circle cx="500" cy="319" r="15.0" fill="#545454"/>
<circle cx="60" cy="396" r="15.0" fill="#545454"/>
<circle cx="325" cy="398" r="15.0" fill="#545454"/>
<circle cx="384" cy="398" r="15.0" fill="#545454"/>
<circle cx="534" cy="370" r="15.0" fill="#545454"/>
<circle cx="117" cy="449" r="15.0" fill="#545454"/>
<circle cx="55" cy="463" r="15.0" fill="#545454"/>
<circle cx="229" cy="477" r="15.0" fill="#545454"/>
<circle cx="421" cy="472" r="15.0" fill="#545454"/>
<circle cx="511" cy="432" r="15.0" fill="#545454"/>
<circle cx="579" cy="460" r="15.0" fill="#545454"/>
<circle cx="314" cy="522" r="15.0" fill="#545454"/>
<circle cx="196" cy="542" r="15.0" fill="#545454"/>
<circle cx="72" cy="570" r="15.0" fill="#545454"/>
<circle cx="404" cy="562" r="15.0" fill="#545454"/>
<circle cx="551" cy="545" r="15.0" fill="#545454"/>
<circle cx="540" cy="590" r="15.0" fill="#545454"/>
<circle cx="384" cy="610" r="15.0" fill="#545454"/>
<circle cx="196" cy="607" r="15.0" fill="#545454"/>
<circle cx="320" cy="18" r="15.0" fill="#545454"/>
<circle cx="613" cy="9" r="15.0" fill="#545454"/>
<circle cx="193" cy="15" r="15.0" fill="#545454"/>
</g>
<g filter="url(#b2)">
<ellipse cx="158" cy="286" rx="6.7" ry="5.6" fill="#c8c8c8" fill-opacity="0.9" transform="rotate(135 158 286)"/>
<ellipse cx="261" cy="165" rx="6.8" ry="4.7" fill="#b9b9b9" fill-opacity="0.9" transform="rotate(49 261 165)"/>
<ellipse cx="552" cy="117" rx="9.1" ry="5.9" fill="#b2b2b2" fill-opacity="0.9" transform="rotate(63 552 117)"/>
<ellipse cx="12" cy="605" rx="8.5" ry="4.4" fill="#c2c2c2" fill-opacity="0.9" transform="rotate(84 12 605)"/>
<ellipse cx="432" cy="309" rx="7.3" ry="4.1" fill="#d3d3d3" fill-opacity="0.9" transform="rotate(123 432 309)"/>
<ellipse cx="612" cy="250" rx="5.6" ry="4.3" fill="#bfbfbf" fill-opacity="0.9" transform="rotate(144 612 250)"/>
<ellipse cx="50" cy="223" rx="7.1" ry="4.6" fill="#cbcbcb" fill-opacity="0.9" transform="rotate(173 50 223)"/>
<ellipse cx="104" cy="624" rx="6.4" ry="4.4" fill="#bfbfbf" fill-opacity="0.9" transform="rotate(152 104 624)"/>
<ellipse cx="559" cy="313" rx="7.0" ry="4.0" fill="#c3c3c3" fill-opacity="0.9" transform="rotate(167 559 313)"/>
<ellipse cx="254" cy="286" rx="9.3" ry="5.6" fill="#b1b1b1" fill-opacity="0.9" transform="rotate(135 254 286)"/>
<ellipse cx="457" cy="157" rx="7.3" ry="4.5" fill="#b9b9b9" fill-opacity="0.9" transform="rotate(122 457 157)"/>
<ellipse cx="395" cy="90" rx="7.8" ry="5.2" fill="#b3b3b3" fill-opacity="0.9" transform="rotate(41 395 90)"/>
<ellipse cx="128" cy="52" rx="9.1" ry="4.3" fill="#b4b4b4" fill-opacity="0.9" transform="rotate(84 128 52)"/>
<ellipse cx="605" cy="35" rx="9.0" ry="5.0" fill="#bbbbbb" fill-opacity="0.9" transform="rotate(95 605 35)"/>
<ellipse cx="380" cy="459" rx="6.4" ry="4.8" fill="#bfbfbf" fill-opacity="0.9" transform="rotate(96 380 459)"/>
<ellipse cx="616" cy="521" rx="8.4" ry="4.4" fill="#b0b0b0" fill-opacity="0.9" transform="rotate(143 616 521)"/>
<ellipse cx="335" cy="210" rx="7.3" ry="5.9" fill="#b7b7b7" fill-opacity="0.9" transform="rotate(145 335 210)"/>
<ellipse cx="225" cy="50" rx="9.4" ry="5.1" fill="#b2b2b2" fill-opacity="0.9" transform="rotate(112 225 50)"/>
<ellipse cx="353" cy="105" rx="6.3" ry="3.8" fill="#cfcfcf" fill-opacity="0.9" transform="rotate(85 353 105)"/>
<ellipse cx="187" cy="533" rx="6.6" ry="4.3" fill="#cdcdcd" fill-opacity="0.9" transform="rotate(171 187 533)"/>
<ellipse cx="230" cy="216" rx="8.6" ry="5.5" fill="#d1d1d1" fill-opacity="0.9" transform="rotate(105 230 216)"/>
<ellipse cx="451" cy="20" rx="7.8" ry="5.0" fill="#bcbcbc" fill-opacity="0.9" transform="rotate(89 451 20)"/>
<ellipse cx="300" cy="464" rx="9.1" ry="5.4" fill="#c6c6c6" fill-opacity="0.9" transform="rotate(8 300 464)"/>
<ellipse cx="491" cy="153" rx="7.1" ry="5.8" fill="#b2b2b2" fill-opacity="0.9" transform="rotate(37 491 153)"/>
<ellipse cx="194" cy="87" rx="7.9" ry="4.7" fill="#bbbbbb" fill-opacity="0.9" transform="rotate(23 194 87)"/>
<ellipse cx="378" cy="103" rx="6.4" ry="4.0" fill="#bdbdbd" fill-opacity="0.9" transform="rotate(163 378 103)"/>
<ellipse cx="509" cy="317" rx="8.9" ry="5.7" fill="#b7b7b7" fill-opacity="0.9" transform="rotate(55 509 317)"/>
<ellipse cx="38" cy="249" rx="5.6" ry="4.4" fill="#b3b3b3" fill-opacity="0.9" transform="rotate(25 38 249)"/>
<ellipse cx="393" cy="119" rx="6.7" ry="4.4" fill="#c3c3c3" fill-opacity="0.9" transform="rotate(129 393 119)"/>
<ellipse cx="271" cy="56" rx="5.7" ry="5.8" fill="#bebebe" fill-opacity="0.9" transform="rotate(159 271 56)"/>
<ellipse cx="465" cy="250" rx="6.2" ry="4.4" fill="#d1d1d1" fill-opacity="0.9" transform="rotate(73 465 250)"/>
<ellipse cx="218" cy="252" rx="8.0" ry="4.4" fill="#d5d5d5" fill-opacity="0.9" transform="rotate(109 218 252)"/>
<ellipse cx="11" cy="297" rx="8.0" ry="4.0" fill="#b0b0b0" fill-opacity="0.9" transform="rotate(29 11 297)"/>
<ellipse cx="567" cy="103" rx="7.4" ry="3.5" fill="#d7d7d7" fill-opacity="0.9" transform="rotate(165 567 103)"/>
<ellipse cx="536" cy="175" rx="7.4" ry="3.6" fill="#c2c2c2" fill-opacity="0.9" transform="rotate(60 536 175)"/>
<ellipse cx="488" cy="529" rx="5.8" ry="5.7" fill="#b5b5b5" fill-opacity="0.9" transform="rotate(177 488 529)"/>
<ellipse cx="572" cy="617" rx="5.9" ry="5.1" fill="#bdbdbd" fill-opacity="0.9" transform="rotate(46 572 617)"/>
<ellipse cx="272" cy="435" rx="6.3" ry="5.8" fill="#d5d5d5" fill-opacity="0.9" transform="rotate(84 272 435)"/>
<ellipse cx="207" cy="506" rx="8.4" ry="5.7" fill="#b7b7b7" fill-opacity="0.9" transform="rotate(162 207 506)"/>
<ellipse cx="276" cy="324" rx="7.1" ry="5.2" fill="#b0b0b0" fill-opacity="0.9" transform="rotate(40 276 324)"/>
<ellipse cx="484" cy="110" rx="8.4" ry="5.4" fill="#b5b5b5" fill-opacity="0.9" transform="rotate(87 484 110)"/>
<ellipse cx="287" cy="570" rx="5.8" ry="5.9" fill="#b4b4b4" fill-opacity="0.9" transform="rotate(14 287 570)"/>
<ellipse cx="437" cy="181" rx="8.8" ry="4.4" fill="#b5b5b5" fill-opacity="0.9" transform="rotate(120 437 181)"/>
<ellipse cx="267" cy="360" rx="7.2" ry="3.7" fill="#cfcfcf" fill-opacity="0.9" transform="rotate(162 267 360)"/>
<ellipse cx="614" cy="356" rx="8.5" ry="4.1" fill="#bbbbbb" fill-opacity="0.9" transform="rotate(131 614 356)"/>
<ellipse cx="617" cy="108" rx="6.9" ry="6.0" fill="#b2b2b2" fill-opacity="0.9" transform="rotate(114 617 108)"/>
<ellipse cx="150" cy="359" rx="6.9" ry="5.5" fill="#d0d0d0" fill-opacity="0.9" transform="rotate(69 150 359)"/>
<ellipse cx="415" cy="612" rx="7.1" ry="4.0" fill="#cecece" fill-opacity="0.9" transform="rotate(169 415 612)"/>
<ellipse cx="562" cy="234" rx="9.5" ry="4.6" fill="#d6d6d6" fill-opacity="0.9" transform="rotate(65 562 234)"/>
<ellipse cx="217" cy="540" rx="7.7" ry="4.1" fill="#c9c9c9" fill-opacity="0.9" transform="rotate(90 217 540)"/>
<ellipse cx="247" cy="423" rx="9.2" ry="5.8" fill="#c4c4c4" fill-opacity="0.9" transform="rotate(163 247 423)"/>
<ellipse cx="281" cy="386" rx="8.1" ry="4.6" fill="#b1b1b1" fill-opacity="0.9" transform="rotate(125 281 386)"/>
<ellipse cx="498" cy="614" rx="7.4" ry="4.8" fill="#cccccc" fill-opacity="0.9" transform="rotate(115 498 614)"/>
<ellipse cx="512" cy="443" rx="9.0" ry="4.6" fill="#d2d2d2" fill-opacity="0.9" transform="rotate(164 512 443)"/>
<ellipse cx="511" cy="169" rx="5.8" ry="4.0" fill="#d2d2d2" fill-opacity="0.9" transform="rotate(53 511 169)"/>
<ellipse cx="518" cy="554" rx="8.5" ry="4.9" fill="#b0b0b0" fill-opacity="0.9" transform="rotate(146 518 554)"/>
<ellipse cx="524" cy="479" rx="9.4" ry="5.2" fill="#b8b8b8" fill-opacity="0.9" transform="rotate(66 524 479)"/>
<ellipse cx="328" cy="351" rx="8.0" ry="3.9" fill="#d2d2d2" fill-opacity="0.9" transform="rotate(60 328 351)"/>
<ellipse cx="354" cy="631" rx="9.1" ry="5.4" fill="#b6b6b6" fill-opacity="0.9" transform="rotate(9 354 631)"/>
<ellipse cx="626" cy="324" rx="7.0" ry="3.6" fill="#b0b0b0" fill-opacity="0.9" transform="rotate(134 626 324)"/>
<ellipse cx="479" cy="594" rx="5.6" ry="4.9" fill="#b0b0b0" fill-opacity="0.9" transform="rotate(84 479 594)"/>
<ellipse cx="445" cy="274" rx="5.7" ry="3.8" fill="#d2d2d2" fill-opacity="0.9" transform="rotate(66 445 274)"/>
<ellipse cx="77" cy="400" rx="8.3" ry="4.9" fill="#b3b3b3" fill-opacity="0.9" transform="rotate(117 77 400)"/>
<ellipse cx="78" cy="459" rx="6.1" ry="3.5" fill="#b1b1b1" fill-opacity="0.9" transform="rotate(94 78 459)"/>
<ellipse cx="171" cy="168" rx="8.0" ry="4.2" fill="#c5c5c5" fill-opacity="0.9" transform="rotate(165 171 168)"/>
<ellipse cx="128" cy="544" rx="7.4" ry="4.7" fill="#bababa" fill-opacity="0.9" transform="rotate(171 128 544)"/>
<ellipse cx="357" cy="171" rx="8.4" ry="5.0" fill="#d8d8d8" fill-opacity="0.9" transform="rotate(82 357 171)"/>
<ellipse cx="303" cy="268" rx="7.0" ry="4.1" fill="#c8c8c8" fill-opacity="0.9" transform="rotate(122 303 268)"/>
<ellipse cx="293" cy="245" rx="8.6" ry="5.5" fill="#d7d7d7" fill-opacity="0.9" transform="rotate(128 293 245)"/>
<ellipse cx="34" cy="24" rx="7.2" ry="5.9" fill="#b1b1b1" fill-opacity="0.9" transform="rotate(41 34 24)"/>
<ellipse cx="118" cy="19" rx="8.7" ry="3.8" fill="#d7d7d7" fill-opacity="0.9" transform="rotate(156 118 19)"/>
<ellipse cx="555" cy="84" rx="8.0" ry="4.0" fill="#bababa" fill-opacity="0.9" transform="rotate(169 555 84)"/>
<ellipse cx="509" cy="362" rx="7.0" ry="4.5" fill="#b7b7b7" fill-opacity="0.9" transform="rotate(21 509 362)"/>
<ellipse cx="488" cy="512" rx="9.0" ry="4.0" fill="#d6d6d6" fill-opacity="0.9" transform="rotate(36 488 512)"/>
<ellipse cx="223" cy="124" rx="6.3" ry="3.6" fill="#bcbcbc" fill-opacity="0.9" transform="rotate(117 223 124)"/>
<ellipse cx="156" cy="258" rx="5.5" ry="4.6" fill="#d8d8d8" fill-opacity="0.9" transform="rotate(174 156 258)"/>
<ellipse cx="527" cy="594" rx="5.5" ry="5.9" fill="#b2b2b2" fill-opacity="0.9" transform="rotate(93 527 594)"/>
<ellipse cx="367" cy="510" rx="5.6" ry="5.1" fill="#bababa" fill-opacity="0.9" transform="rotate(42 367 510)"/>
<ellipse cx="360" cy="225" rx="7.6" ry="5.7" fill="#b2b2b2" fill-opacity="0.9" transform="rotate(4 360 225)"/>
<ellipse cx="452" cy="138" rx="7.5" ry="4.2" fill="#bfbfbf" fill-opacity="0.9" transform="rotate(137 452 138)"/>
<ellipse cx="143" cy="217" rx="8.6" ry="4.3" fill="#d1d1d1" fill-opacity="0.9" transform="rotate(88 143 217)"/>
<ellipse cx="213" cy="271" rx="6.8" ry="5.1" fill="#bfbfbf" fill-opacity="0.9" transform="rotate(26 213 271)"/>
<ellipse cx="543" cy="31" rx="6.5" ry="4.6" fill="#b9b9b9" fill-opacity="0.9" transform="rotate(11 543 31)"/>
<ellipse cx="92" cy="412" rx="8.8" ry="6.0" fill="#d5d5d5" fill-opacity="0.9" transform="rotate(93 92 412)"/>
<ellipse cx="503" cy="79" rx="6.2" ry="5.6" fill="#b9b9b9" fill-opacity="0.9" transform="rotate(98 503 79)"/>
<ellipse cx="247" cy="262" rx="6.7" ry="3.9" fill="#b1b1b1" fill-opacity="0.9" transform="rotate(159 247 262)"/>
<ellipse cx="130" cy="31" rx="8.0" ry="3.8" fill="#b7b7b7" fill-opacity="0.9" transform="rotate(137 130 31)"/>
<ellipse cx="85" cy="496" rx="8.8" ry="4.6" fill="#cfcfcf" fill-opacity="0.9" transform="rotate(112 85 496)"/>
<ellipse cx="410" cy="212" rx="7.3" ry="4.8" fill="#d2d2d2" fill-opacity="0.9" transform="rotate(106 410 212)"/>
<ellipse cx="266" cy="604" rx="9.3" ry="4.9" fill="#cccccc" fill-opacity="0.9" transform="rotate(101 266 604)"/>
<ellipse cx="571" cy="272" rx="9.0" ry="3.5" fill="#d6d6d6" fill-opacity="0.9" transform="rotate(4 571 272)"/>
<ellipse cx="335" cy="525" rx="7.4" ry="5.8" fill="#b5b5b5" fill-opacity="0.9" transform="rotate(114 335 525)"/>
<ellipse cx="596" cy="339" rx="6.4" ry="4.8" fill="#c4c4c4" fill-opacity="0.9" transform="rotate(74 596 339)"/>
<ellipse cx="336" cy="289" rx="5.8" ry="5.4" fill="#b1b1b1" fill-opacity="0.9" transform="rotate(56 336 289)"/>
<ellipse cx="285" cy="107" rx="5.8" ry="5.1" fill="#bfbfbf" fill-opacity="0.9" transform="rotate(39 285 107)"/>
<ellipse cx="240" cy="595" rx="5.5" ry="5.7" fill="#bbbbbb" fill-opacity="0.9" transform="rotate(109 240 595)"/>
<ellipse cx="379" cy="355" rx="9.4" ry="4.9" fill="#d2d2d2" fill-opacity="0.9" transform="rotate(171 379 355)"/>
<ellipse cx="496" cy="406" rx="8.7" ry="5.2" fill="#bababa" fill-opacity="0.9" transform="rotate(22 496 406)"/>
<ellipse cx="2" cy="319" rx="6.4" ry="4.5" fill="#b5b5b5" fill-opacity="0.9" transform="rotate(119 2 319)"/>
<ellipse cx="437" cy="30" rx="5.8" ry="4.8" fill="#d3d3d3" fill-opacity="0.9" transform="rotate(95 437 30)"/>
<ellipse cx="185" cy="435" rx="5.9" ry="4.2" fill="#b5b5b5" fill-opacity="0.9" transform="rotate(79 185 435)"/>
<ellipse cx="544" cy="50" rx="8.6" ry="4.9" fill="#bebebe" fill-opacity="0.9" transform="rotate(34 544 50)"/>
<ellipse cx="259" cy="581" rx="6.8" ry="4.8" fill="#bababa" fill-opacity="0.9" transform="rotate(16 259 581)"/>
<ellipse cx="192" cy="294" rx="6.4" ry="5.2" fill="#b9b9b9" fill-opacity="0.9" transform="rotate(106 192 294)"/>
<ellipse cx="199" cy="234" rx="6.9" ry="4.9" fill="#d5d5d5" fill-opacity="0.9" transform="rotate(77 199 234)"/>
<ellipse cx="93" cy="360" rx="7.5" ry="4.5" fill="#b5b5b5" fill-opacity="0.9" transform="rotate(48 93 360)"/>
<ellipse cx="533" cy="412" rx="7.5" ry="3.5" fill="#c5c5c5" fill-opacity="0.9" transform="rotate(122 533 412)"/>
<ellipse cx="298" cy="619" rx="8.6" ry="4.6" fill="#cfcfcf" fill-opacity="0.9" transform="rotate(114 298 619)"/>
<ellipse cx="415" cy="110" rx="8.0" ry="5.2" fill="#cecece" fill-opacity="0.9" transform="rotate(71 415 110)"/>
<ellipse cx="161" cy="565" rx="7.8" ry="5.7" fill="#b2b2b2" fill-opacity="0.9" transform="rotate(22 161 565)"/>
<ellipse cx="382" cy="625" rx="8.2" ry="4.3" fill="#c1c1c1" fill-opacity="0.9" transform="rotate(36 382 625)"/>
<ellipse cx="582" cy="179" rx="6.4" ry="3.8" fill="#b9b9b9" fill-opacity="0.9" transform="rotate(2 582 179)"/>
<ellipse cx="13" cy="452" rx="7.1" ry="5.0" fill="#d1d1d1" fill-opacity="0.9" transform="rotate(39 13 452)"/>
<ellipse cx="5" cy="410" rx="9.4" ry="5.1" fill="#cfcfcf" fill-opacity="0.9" transform="rotate(179 5 410)"/>
<ellipse cx="626" cy="590" rx="9.0" ry="4.6" fill="#bebebe" fill-opacity="0.9" transform="rotate(21 626 590)"/>
<ellipse cx="459" cy="559" rx="6.3" ry="3.7" fill="#b9b9b9" fill-opacity="0.9" transform="rotate(128 459 559)"/>
<ellipse cx="13" cy="390" rx="7.4" ry="3.8" fill="#b7b7b7" fill-opacity="0.9" transform="rotate(157 13 390)"/>
<ellipse cx="334" cy="578" rx="7.2" ry="5.9" fill="#c0c0c0" fill-opacity="0.9" transform="rotate(80 334 578)"/>
<ellipse cx="175" cy="30" rx="7.3" ry="5.4" fill="#c8c8c8" fill-opacity="0.9" transform="rotate(152 175 30)"/>
<ellipse cx="23" cy="120" rx="8.9" ry="4.2" fill="#bbbbbb" fill-opacity="0.9" transform="rotate(12 23 120)"/>
<ellipse cx="415" cy="504" rx="7.4" ry="3.6" fill="#d1d1d1" fill-opacity="0.9" transform="rotate(162 415 504)"/>
<ellipse cx="318" cy="464" rx="7.2" ry="4.4" fill="#c6c6c6" fill-opacity="0.9" transform="rotate(13 318 464)"/>
<ellipse cx="614" cy="301" rx="7.2" ry="4.6" fill="#c7c7c7" fill-opacity="0.9" transform="rotate(126 614 301)"/>
<ellipse cx="585" cy="376" rx="7.9" ry="5.1" fill="#b9b9b9" fill-opacity="0.9" transform="rotate(34 585 376)"/>
<ellipse cx="111" cy="334" rx="5.7" ry="4.0" fill="#cfcfcf" fill-opacity="0.9" transform="rotate(175 111 334)"/>
<ellipse cx="443" cy="253" rx="7.5" ry="3.7" fill="#d5d5d5" fill-opacity="0.9" transform="rotate(102 443 253)"/>
<ellipse cx="271" cy="32" rx="8.0" ry="3.9" fill="#c6c6c6" fill-opacity="0.9" transform="rotate(173 271 32)"/>
<ellipse cx="97" cy="104" rx="7.9" ry="5.1" fill="#c9c9c9" fill-opacity="0.9" transform="rotate(66 97 104)"/>
<ellipse cx="377" cy="261" rx="7.0" ry="3.7" fill="#bababa" fill-opacity="0.9" transform="rotate(74 377 261)"/>
<ellipse cx="397" cy="441" rx="6.4" ry="5.8" fill="#c2c2c2" fill-opacity="0.9" transform="rotate(104 397 441)"/>
<ellipse cx="413" cy="481" rx="6.7" ry="3.8" fill="#c4c4c4" fill-opacity="0.9" transform="rotate(60 413 481)"/>
<ellipse cx="408" cy="306" rx="9.2" ry="4.6" fill="#b1b1b1" fill-opacity="0.9" transform="rotate(78 408 306)"/>
<ellipse cx="319" cy="325" rx="6.3" ry="3.6" fill="#cacaca" fill-opacity="0.9" transform="rotate(64 319 325)"/>
<ellipse cx="0" cy="434" rx="7.2" ry="4.8" fill="#b7b7b7" fill-opacity="0.9" transform="rotate(172 0 434)"/>
<ellipse cx="469" cy="580" rx="7.6" ry="5.1" fill="#d6d6d6" fill-opacity="0.9" transform="rotate(123 469 580)"/>
<ellipse cx="262" cy="507" rx="6.0" ry="4.3" fill="#cbcbcb" fill-opacity="0.9" transform="rotate(142 262 507)"/>
<ellipse cx="572" cy="541" rx="8.2" ry="5.2" fill="#c9c9c9" fill-opacity="0.9" transform="rotate(25 572 541)"/>
<ellipse cx="268" cy="109" rx="9.5" ry="3.9" fill="#b0b0b0" fill-opacity="0.9" transform="rotate(41 268 109)"/>
<ellipse cx="106" cy="531" rx="6.7" ry="5.9" fill="#c7c7c7" fill-opacity="0.9" transform="rotate(26 106 531)"/>
<ellipse cx="190" cy="56" rx="7.2" ry="5.8" fill="#bebebe" fill-opacity="0.9" transform="rotate(86 190 56)"/>
<ellipse cx="33" cy="533" rx="6.8" ry="4.9" fill="#c1c1c1" fill-opacity="0.9" transform="rotate(53 33 533)"/>
<ellipse cx="495" cy="50" rx="7.5" ry="4.3" fill="#b8b8b8" fill-opacity="0.9" transform="rotate(45 495 50)"/>
<ellipse cx="7" cy="146" rx="8.9" ry="4.8" fill="#bfbfbf" fill-opacity="0.9" transform="rotate(94 7 146)"/>
<ellipse cx="198" cy="133" rx="9.4" ry="5.6" fill="#b0b0b0" fill-opacity="0.9" transform="rotate(76 198 133)"/>
<ellipse cx="382" cy="7" rx="9.2" ry="3.6" fill="#d5d5d5" fill-opacity="0.9" transform="rotate(11 382 7)"/>
<ellipse cx="546" cy="335" rx="6.3" ry="4.3" fill="#b9b9b9" fill-opacity="0.9" transform="rotate(130 546 335)"/>
<ellipse cx="611" cy="445" rx="7.1" ry="3.9" fill="#cccccc" fill-opacity="0.9" transform="rotate(149 611 445)"/>
<ellipse cx="310" cy="488" rx="7.8" ry="4.7" fill="#b0b0b0" fill-opacity="0.9" transform="rotate(179 310 488)"/>
<ellipse cx="366" cy="569" rx="8.4" ry="3.7" fill="#c9c9c9" fill-opacity="0.9" transform="rotate(27 366 569)"/>
<ellipse cx="195" cy="5" rx="8.7" ry="5.8" fill="#b2b2b2" fill-opacity="0.9" transform="rotate(90 195 5)"/>
<ellipse cx="321" cy="241" rx="6.1" ry="5.6" fill="#b7b7b7" fill-opacity="0.9" transform="rotate(40 321 241)"/>
<ellipse cx="463" cy="537" rx="7.0" ry="4.9" fill="#c9c9c9" fill-opacity="0.9" transform="rotate(126 463 537)"/>
<ellipse cx="233" cy="183" rx="8.9" ry="5.1" fill="#b1b1b1" fill-opacity="0.9" transform="rotate(42 233 183)"/>
<ellipse cx="281" cy="151" rx="8.0" ry="3.5" fill="#c2c2c2" fill-opacity="0.9" transform="rotate(72 281 151)"/>
<ellipse cx="41" cy="585" rx="5.7" ry="4.1" fill="#b7b7b7" fill-opacity="0.9" transform="rotate(36 41 585)"/>
<ellipse cx="169" cy="55" rx="8.1" ry="4.2" fill="#b9b9b9" fill-opacity="0.9" transform="rotate(11 169 55)"/>
<ellipse cx="511" cy="236" rx="8.8" ry="5.7" fill="#bebebe" fill-opacity="0.9" transform="rotate(93 511 236)"/>
<ellipse cx="255" cy="627" rx="6.3" ry="4.3" fill="#d8d8d8" fill-opacity="0.9" transform="rotate(94 255 627)"/>
<ellipse cx="460" cy="325" rx="8.5" ry="3.9" fill="#cfcfcf" fill-opacity="0.9" transform="rotate(72 460 325)"/>
<ellipse cx="570" cy="562" rx="8.7" ry="6.0" fill="#b7b7b7" fill-opacity="0.9" transform="rotate(124 570 562)"/>
<ellipse cx="582" cy="298" rx="8.4" ry="3.8" fill="#b9b9b9" fill-opacity="0.9" transform="rotate(21 582 298)"/>
<ellipse cx="490" cy="220" rx="6.2" ry="3.9" fill="#cacaca" fill-opacity="0.9" transform="rotate(5 490 220)"/>
<ellipse cx="547" cy="583" rx="6.8" ry="4.8" fill="#c9c9c9" fill-opacity="0.9" transform="rotate(156 547 583)"/>
<ellipse cx="223" cy="433" rx="6.6" ry="3.7" fill="#bebebe" fill-opacity="0.9" transform="rotate(38 223 433)"/>
<ellipse cx="393" cy="547" rx="8.8" ry="4.3" fill="#d2d2d2" fill-opacity="0.9" transform="rotate(76 393 547)"/>
<ellipse cx="315" cy="631" rx="7.2" ry="4.1" fill="#b7b7b7" fill-opacity="0.9" transform="rotate(163 315 631)"/>
<ellipse cx="363" cy="394" rx="7.1" ry="4.1" fill="#b5b5b5" fill-opacity="0.9" transform="rotate(144 363 394)"/>
<ellipse cx="161" cy="485" rx="6.9" ry="4.2" fill="#b1b1b1" fill-opacity="0.9" transform="rotate(7 161 485)"/>
<ellipse cx="115" cy="133" rx="8.9" ry="6.0" fill="#b6b6b6" fill-opacity="0.9" transform="rotate(40 115 133)"/>
<ellipse cx="544" cy="219" rx="5.7" ry="4.7" fill="#cdcdcd" fill-opacity="0.9" transform="rotate(2 544 219)"/>
<ellipse cx="402" cy="467" rx="7.5" ry="4.9" fill="#d1d1d1" fill-opacity="0.9" transform="rotate(63 402 467)"/>
<ellipse cx="99" cy="568" rx="8.9" ry="5.3" fill="#cccccc" fill-opacity="0.9" transform="rotate(127 99 568)"/>
<ellipse cx="271" cy="341" rx="6.5" ry="4.8" fill="#c4c4c4" fill-opacity="0.9" transform="rotate(76 271 341)"/>
<ellipse cx="579" cy="420" rx="6.9" ry="3.9" fill="#d0d0d0" fill-opacity="0.9" transform="rotate(83 579 420)"/>
<ellipse cx="411" cy="12" rx="6.0" ry="4.1" fill="#c0c0c0" fill-opacity="0.9" transform="rotate(68 411 12)"/>
<ellipse cx="524" cy="518" rx="8.5" ry="5.9" fill="#b2b2b2" fill-opacity="0.9" transform="rotate(36 524 518)"/>
<ellipse cx="594" cy="16" rx="5.6" ry="3.9" fill="#c4c4c4" fill-opacity="0.9" transform="rotate(83 594 16)"/>
<ellipse cx="236" cy="622" rx="9.0" ry="4.0" fill="#b5b5b5" fill-opacity="0.9" transform="rotate(155 236 622)"/>
<ellipse cx="529" cy="343" rx="5.8" ry="3.9" fill="#d3d3d3" fill-opacity="0.9" transform="rotate(50 529 343)"/>
<ellipse cx="316" cy="556" rx="7.6" ry="3.9" fill="#cacaca" fill-opacity="0.9" transform="rotate(6 316 556)"/>
<ellipse cx="66" cy="355" rx="8.1" ry="5.2" fill="#b6b6b6" fill-opacity="0.9" transform="rotate(137 66 355)"/>
<ellipse cx="462" cy="89" rx="8.3" ry="5.7" fill="#c1c1c1" fill-opacity="0.9" transform="rotate(11 462 89)"/>
<ellipse cx="554" cy="440" rx="8.2" ry="3.8" fill="#b9b9b9" fill-opacity="0.9" transform="rotate(54 554 440)"/>
<ellipse cx="103" cy="276" rx="8.2" ry="5.4" fill="#cccccc" fill-opacity="0.9" transform="rotate(116 103 276)"/>
<ellipse cx="308" cy="166" rx="8.9" ry="3.5" fill="#cacaca" fill-opacity="0.9" transform="rotate(51 308 166)"/>
<ellipse cx="26" cy="411" rx="7.3" ry="4.0" fill="#c1c1c1" fill-opacity="0.9" transform="rotate(40 26 411)"/>
<ellipse cx="18" cy="215" rx="8.8" ry="5.0" fill="#c7c7c7" fill-opacity="0.9" transform="rotate(32 18 215)"/>
<ellipse cx="121" cy="580" rx="6.6" ry="5.3" fill="#c3c3c3" fill-opacity="0.9" transform="rotate(17 121 580)"/>
<ellipse cx="582" cy="80" rx="8.6" ry="4.8" fill="#bdbdbd" fill-opacity="0.9" transform="rotate(120 582 80)"/>
<ellipse cx="386" cy="574" rx="6.7" ry="6.0" fill="#c5c5c5" fill-opacity="0.9" transform="rotate(34 386 574)"/>
<ellipse cx="443" cy="340" rx="8.6" ry="3.6" fill="#b9b9b9" fill-opacity="0.9" transform="rotate(47 443 340)"/>
<ellipse cx="290" cy="356" rx="6.7" ry="6.0" fill="#bcbcbc" fill-opacity="0.9" transform="rotate(168 290 356)"/>
<ellipse cx="386" cy="498" rx="7.8" ry="5.1" fill="#b8b8b8" fill-opacity="0.9" transform="rotate(85 386 498)"/>
<ellipse cx="510" cy="199" rx="7.4" ry="3.6" fill="#bcbcbc" fill-opacity="0.9" transform="rotate(132 510 199)"/>
<ellipse cx="436" cy="501" rx="7.1" ry="4.7" fill="#c0c0c0" fill-opacity="0.9" transform="rotate(148 436 501)"/>
<ellipse cx="48" cy="632" rx="5.5" ry="4.9" fill="#d2d2d2" fill-opacity="0.9" transform="rotate(116 48 632)"/>
<ellipse cx="367" cy="536" rx="8.9" ry="6.0" fill="#cdcdcd" fill-opacity="0.9" transform="rotate(32 367 536)"/>
<ellipse cx="627" cy="12" rx="6.0" ry="5.8" fill="#cbcbcb" fill-opacity="0.9" transform="rotate(103 627 12)"/>
<ellipse cx="158" cy="511" rx="6.0" ry="6.0" fill="#cfcfcf" fill-opacity="0.9" transform="rotate(161 158 511)"/>
<ellipse cx="293" cy="199" rx="6.0" ry="3.5" fill="#bbbbbb" fill-opacity="0.9" transform="rotate(24 293 199)"/>
<ellipse cx="22" cy="85" rx="6.5" ry="3.9" fill="#b4b4b4" fill-opacity="0.9" transform="rotate(144 22 85)"/>
<ellipse cx="220" cy="145" rx="6.2" ry="4.3" fill="#cdcdcd" fill-opacity="0.9" transform="rotate(143 220 145)"/>
<ellipse cx="229" cy="579" rx="7.9" ry="5.1" fill="#b9b9b9" fill-opacity="0.9" transform="rotate(105 229 579)"/>
<ellipse cx="256" cy="16" rx="9.1" ry="4.2" fill="#b8b8b8" fill-opacity="0.9" transform="rotate(38 256 16)"/>
<ellipse cx="350" cy="354" rx="9.2" ry="4.4" fill="#d4d4d4" fill-opacity="0.9" transform="rotate(145 350 354)"/>
<ellipse cx="181" cy="584" rx="7.9" ry="5.3" fill="#bababa" fill-opacity="0.9" transform="rotate(28 181 584)"/>
<ellipse cx="126" cy="428" rx="6.2" ry="4.6" fill="#cfcfcf" fill-opacity="0.9" transform="rotate(8 126 428)"/>
<ellipse cx="321" cy="94" rx="7.2" ry="4.7" fill="#bababa" fill-opacity="0.9" transform="rotate(38 321 94)"/>
<ellipse cx="167" cy="75" rx="8.1" ry="3.9" fill="#d2d2d2" fill-opacity="0.9" transform="rotate(79 167 75)"/>
<ellipse cx="463" cy="598" rx="7.4" ry="5.3" fill="#b6b6b6" fill-opacity="0.9" transform="rotate(2 463 598)"/>
<ellipse cx="127" cy="465" rx="7.3" ry="4.1" fill="#bdbdbd" fill-opacity="0.9" transform="rotate(0 127 465)"/>
<ellipse cx="618" cy="393" rx="8.9" ry="3.7" fill="#cacaca" fill-opacity="0.9" transform="rotate(72 618 393)"/>
<ellipse cx="631" cy="183" rx="6.3" ry="4.2" fill="#bdbdbd" fill-opacity="0.9" transform="rotate(22 631 183)"/>
<ellipse cx="215" cy="28" rx="6.5" ry="5.7" fill="#bcbcbc" fill-opacity="0.9" transform="rotate(66 215 28)"/>
<ellipse cx="337" cy="90" rx="7.7" ry="5.1" fill="#d8d8d8" fill-opacity="0.9" transform="rotate(98 337 90)"/>
<ellipse cx="116" cy="374" rx="7.7" ry="5.9" fill="#b7b7b7" fill-opacity="0.9" transform="rotate(9 116 374)"/>
<ellipse cx="18" cy="58" rx="6.8" ry="5.8" fill="#bcbcbc" fill-opacity="0.9" transform="rotate(17 18 58)"/>
<ellipse cx="95" cy="151" rx="6.3" ry="5.1" fill="#b2b2b2" fill-opacity="0.9" transform="rotate(53 95 151)"/>
<ellipse cx="26" cy="431" rx="9.1" ry="5.0" fill="#b0b0b0" fill-opacity="0.9" transform="rotate(69 26 431)"/>
<ellipse cx="143" cy="386" rx="6.0" ry="4.8" fill="#bababa" fill-opacity="0.9" transform="rotate(20 143 386)"/>
<ellipse cx="136" cy="152" rx="7.1" ry="5.8" fill="#b0b0b0" fill-opacity="0.9" transform="rotate(172 136 152)"/>
<ellipse cx="59" cy="427" rx="5.6" ry="3.8" fill="#d3d3d3" fill-opacity="0.9" transform="rotate(139 59 427)"/>
<ellipse cx="61" cy="384" rx="6.1" ry="4.6" fill="#b2b2b2" fill-opacity="0.9" transform="rotate(22 61 384)"/>
<ellipse cx="533" cy="313" rx="6.3" ry="4.0" fill="#b3b3b3" fill-opacity="0.9" transform="rotate(150 533 313)"/>
<ellipse cx="628" cy="215" rx="7.5" ry="4.4" fill="#cbcbcb" fill-opacity="0.9" transform="rotate(29 628 215)"/>
<ellipse cx="573" cy="41" rx="7.2" ry="5.1" fill="#b1b1b1" fill-opacity="0.9" transform="rotate(82 573 41)"/>
<ellipse cx="369" cy="429" rx="5.8" ry="4.9" fill="#b9b9b9" fill-opacity="0.9" transform="rotate(34 369 429)"/>
<ellipse cx="18" cy="548" rx="9.0" ry="4.3" fill="#b3b3b3" fill-opacity="0.9" transform="rotate(82 18 548)"/>
<ellipse cx="85" cy="237" rx="5.6" ry="5.0" fill="#b9b9b9" fill-opacity="0.9" transform="rotate(3 85 237)"/>
<ellipse cx="530" cy="445" rx="7.5" ry="5.6" fill="#b9b9b9" fill-opacity="0.9" transform="rotate(119 530 445)"/>
<ellipse cx="555" cy="633" rx="6.8" ry="4.9" fill="#c9c9c9" fill-opacity="0.9" transform="rotate(48 555 633)"/>
<ellipse cx="64" cy="234" rx="6.5" ry="4.1" fill="#cdcdcd" fill-opacity="0.9" transform="rotate(161 64 234)"/>
<ellipse cx="151" cy="596" rx="7.0" ry="5.3" fill="#c9c9c9" fill-opacity="0.9" transform="rotate(77 151 596)"/>
<ellipse cx="67" cy="522" rx="7.7" ry="3.8" fill="#c2c2c2" fill-opacity="0.9" transform="rotate(179 67 522)"/>
<ellipse cx="576" cy="490" rx="6.0" ry="4.1" fill="#d2d2d2" fill-opacity="0.9" transform="rotate(77 576 490)"/>
<ellipse cx="230" cy="280" rx="7.3" ry="4.7" fill="#b0b0b0" fill-opacity="0.9" transform="rotate(150 230 280)"/>
<ellipse cx="235" cy="346" rx="9.1" ry="4.3" fill="#cfcfcf" fill-opacity="0.9" transform="rotate(51 235 346)"/>
<ellipse cx="154" cy="304" rx="7.9" ry="3.9" fill="#b2b2b2" fill-opacity="0.9" transform="rotate(63 154 304)"/>
<ellipse cx="210" cy="189" rx="9.0" ry="5.2" fill="#cacaca" fill-opacity="0.9" transform="rotate(174 210 189)"/>
<ellipse cx="90" cy="205" rx="6.3" ry="3.8" fill="#bbbbbb" fill-opacity="0.9" transform="rotate(127 90 205)"/>
<ellipse cx="87" cy="438" rx="5.8" ry="5.8" fill="#b0b0b0" fill-opacity="0.9" transform="rotate(50 87 438)"/>
<ellipse cx="177" cy="511" rx="8.1" ry="4.5" fill="#c3c3c3" fill-opacity="0.9" transform="rotate(30 177 511)"/>
<ellipse cx="602" cy="153" rx="7.8" ry="3.8" fill="#c8c8c8" fill-opacity="0.9" transform="rotate(48 602 153)"/>
<ellipse cx="83" cy="339" rx="6.6" ry="4.6" fill="#bcbcbc" fill-opacity="0.9" transform="rotate(6 83 339)"/>
<ellipse cx="634" cy="93" rx="8.2" ry="4.9" fill="#b1b1b1" fill-opacity="0.9" transform="rotate(139 634 93)"/>
<ellipse cx="421" cy="552" rx="6.5" ry="4.1" fill="#d4d4d4" fill-opacity="0.9" transform="rotate(111 421 552)"/>
<ellipse cx="599" cy="52" rx="7.5" ry="3.6" fill="#bababa" fill-opacity="0.9" transform="rotate(81 599 52)"/>
<ellipse cx="246" cy="131" rx="9.3" ry="5.3" fill="#d2d2d2" fill-opacity="0.9" transform="rotate(125 246 131)"/>
<ellipse cx="225" cy="480" rx="7.5" ry="5.2" fill="#d4d4d4" fill-opacity="0.9" transform="rotate(145 225 480)"/>
<ellipse cx="427" cy="84" rx="8.2" ry="4.2" fill="#b7b7b7" fill-opacity="0.9" transform="rotate(33 427 84)"/>
<ellipse cx="34" cy="300" rx="5.8" ry="5.1" fill="#cbcbcb" fill-opacity="0.9" transform="rotate(20 34 300)"/>
<ellipse cx="142" cy="475" rx="9.2" ry="5.9" fill="#b2b2b2" fill-opacity="0.9" transform="rotate(114 142 475)"/>
<ellipse cx="135" cy="619" rx="6.7" ry="5.2" fill="#bababa" fill-opacity="0.9" transform="rotate(178 135 619)"/>
<ellipse cx="352" cy="25" rx="5.6" ry="5.9" fill="#c6c6c6" fill-opacity="0.9" transform="rotate(24 352 25)"/>
<ellipse cx="46" cy="173" rx="7.9" ry="3.5" fill="#b9b9b9" fill-opacity="0.9" transform="rotate(164 46 173)"/>
<ellipse cx="435" cy="110" rx="6.1" ry="5.3" fill="#d1d1d1" fill-opacity="0.9" transform="rotate(96 435 110)"/>
<ellipse cx="193" cy="402" rx="5.9" ry="4.8" fill="#c0c0c0" fill-opacity="0.9" transform="rotate(158 193 402)"/>
<ellipse cx="76" cy="558" rx="6.8" ry="5.8" fill="#c0c0c0" fill-opacity="0.9" transform="rotate(165 76 558)"/>
<ellipse cx="534" cy="277" rx="9.0" ry="4.5" fill="#b8b8b8" fill-opacity="0.9" transform="rotate(42 534 277)"/>
<ellipse cx="116" cy="172" rx="7.1" ry="5.3" fill="#bababa" fill-opacity="0.9" transform="rotate(108 116 172)"/>
<ellipse cx="409" cy="572" rx="7.8" ry="5.8" fill="#b6b6b6" fill-opacity="0.9" transform="rotate(66 409 572)"/>
<ellipse cx="592" cy="215" rx="7.6" ry="5.4" fill="#d1d1d1" fill-opacity="0.9" transform="rotate(101 592 215)"/>
<ellipse cx="135" cy="272" rx="8.8" ry="3.7" fill="#b0b0b0" fill-opacity="0.9" transform="rotate(43 135 272)"/>
<ellipse cx="430" cy="227" rx="7.8" ry="4.4" fill="#c4c4c4" fill-opacity="0.9" transform="rotate(16 430 227)"/>
<ellipse cx="387" cy="74" rx="8.1" ry="4.5" fill="#c0c0c0" fill-opacity="0.9" transform="rotate(16 387 74)"/>
<ellipse cx="332" cy="257" rx="8.3" ry="3.5" fill="#c9c9c9" fill-opacity="0.9" transform="rotate(175 332 257)"/>
<ellipse cx="486" cy="442" rx="6.2" ry="4.4" fill="#bcbcbc" fill-opacity="0.9" transform="rotate(162 486 442)"/>
<ellipse cx="523" cy="95" rx="8.4" ry="3.5" fill="#bababa" fill-opacity="0.9" transform="rotate(110 523 95)"/>
<ellipse cx="335" cy="437" rx="8.2" ry="5.7" fill="#cfcfcf" fill-opacity="0.9" transform="rotate(24 335 437)"/>
<ellipse cx="572" cy="349" rx="8.6" ry="4.6" fill="#bebebe" fill-opacity="0.9" transform="rotate(166 572 349)"/>
<ellipse cx="584" cy="511" rx="6.1" ry="5.7" fill="#b8b8b8" fill-opacity="0.9" transform="rotate(168 584 511)"/>
<ellipse cx="333" cy="412" rx="7.5" ry="5.0" fill="#c8c8c8" fill-opacity="0.9" transform="rotate(16 333 412)"/>
<ellipse cx="185" cy="155" rx="7.1" ry="3.6" fill="#bdbdbd" fill-opacity="0.9" transform="rotate(47 185 155)"/>
<ellipse cx="145" cy="453" rx="6.6" ry="6.0" fill="#c7c7c7" fill-opacity="0.9" transform="rotate(167 145 453)"/>
<ellipse cx="86" cy="256" rx="8.4" ry="3.7" fill="#d7d7d7" fill-opacity="0.9" transform="rotate(31 86 256)"/>
<ellipse cx="51" cy="531" rx="8.8" ry="4.3" fill="#d4d4d4" fill-opacity="0.9" transform="rotate(149 51 531)"/>
<ellipse cx="217" cy="376" rx="7.3" ry="4.6" fill="#d4d4d4" fill-opacity="0.9" transform="rotate(106 217 376)"/>
<ellipse cx="626" cy="29" rx="8.7" ry="4.3" fill="#cfcfcf" fill-opacity="0.9" transform="rotate(47 626 29)"/>
<ellipse cx="73" cy="174" rx="6.6" ry="4.5" fill="#b5b5b5" fill-opacity="0.9" transform="rotate(112 73 174)"/>
<ellipse cx="626" cy="56" rx="7.1" ry="5.6" fill="#cecece" fill-opacity="0.9" transform="rotate(163 626 56)"/>
<ellipse cx="522" cy="1" rx="7.8" ry="5.7" fill="#d6d6d6" fill-opacity="0.9" transform="rotate(108 522 1)"/>
<ellipse cx="63" cy="500" rx="8.4" ry="5.2" fill="#bfbfbf" fill-opacity="0.9" transform="rotate(168 63 500)"/>
<ellipse cx="441" cy="57" rx="6.3" ry="5.2" fill="#cbcbcb" fill-opacity="0.9" transform="rotate(65 441 57)"/>
<ellipse cx="245" cy="327" rx="7.5" ry="4.7" fill="#d8d8d8" fill-opacity="0.9" transform="rotate(93 245 327)"/>
<ellipse cx="328" cy="46" rx="8.3" ry="5.0" fill="#bfbfbf" fill-opacity="0.9" transform="rotate(118 328 46)"/>
<ellipse cx="420" cy="51" rx="6.4" ry="4.3" fill="#b6b6b6" fill-opacity="0.9" transform="rotate(2 420 51)"/>
<ellipse cx="397" cy="362" rx="7.3" ry="5.3" fill="#b1b1b1" fill-opacity="0.9" transform="rotate(118 397 362)"/>
<ellipse cx="471" cy="477" rx="6.5" ry="5.2" fill="#d5d5d5" fill-opacity="0.9" transform="rotate(28 471 477)"/>
<ellipse cx="300" cy="543" rx="8.5" ry="5.1" fill="#d0d0d0" fill-opacity="0.9" transform="rotate(104 300 543)"/>
<ellipse cx="107" cy="225" rx="8.0" ry="4.6" fill="#c8c8c8" fill-opacity="0.9" transform="rotate(18 107 225)"/>
<ellipse cx="249" cy="470" rx="7.6" ry="3.7" fill="#b0b0b0" fill-opacity="0.9" transform="rotate(65 249 470)"/>
<ellipse cx="437" cy="380" rx="6.1" ry="4.8" fill="#c8c8c8" fill-opacity="0.9" transform="rotate(100 437 380)"/>
<ellipse cx="472" cy="283" rx="5.6" ry="5.8" fill="#c8c8c8" fill-opacity="0.9" transform="rotate(142 472 283)"/>
<ellipse cx="433" cy="142" rx="9.2" ry="4.5" fill="#b3b3b3" fill-opacity="0.9" transform="rotate(13 433 142)"/>
<ellipse cx="262" cy="312" rx="7.4" ry="4.4" fill="#d6d6d6" fill-opacity="0.9" transform="rotate(148 262 312)"/>
<ellipse cx="369" cy="483" rx="6.9" ry="3.6" fill="#c7c7c7" fill-opacity="0.9" transform="rotate(0 369 483)"/>
<ellipse cx="127" cy="600" rx="8.6" ry="4.5" fill="#d8d8d8" fill-opacity="0.9" transform="rotate(69 127 600)"/>
<ellipse cx="189" cy="486" rx="7.9" ry="4.1" fill="#d0d0d0" fill-opacity="0.9" transform="rotate(86 189 486)"/>
<ellipse cx="392" cy="326" rx="5.7" ry="3.9" fill="#bababa" fill-opacity="0.9" transform="rotate(55 392 326)"/>
<ellipse cx="507" cy="535" rx="9.2" ry="4.0" fill="#c3c3c3" fill-opacity="0.9" transform="rotate(42 507 535)"/>
<ellipse cx="293" cy="403" rx="9.3" ry="3.5" fill="#c7c7c7" fill-opacity="0.9" transform="rotate(177 293 403)"/>
<ellipse cx="530" cy="394" rx="6.8" ry="4.7" fill="#b9b9b9" fill-opacity="0.9" transform="rotate(84 530 394)"/>
<ellipse cx="602" cy="180" rx="6.3" ry="4.4" fill="#cdcdcd" fill-opacity="0.9" transform="rotate(65 602 180)"/>
<ellipse cx="18" cy="484" rx="5.7" ry="4.0" fill="#d7d7d7" fill-opacity="0.9" transform="rotate(126 18 484)"/>
<ellipse cx="380" cy="524" rx="8.5" ry="4.0" fill="#bababa" fill-opacity="0.9" transform="rotate(76 380 524)"/>
<ellipse cx="299" cy="435" rx="5.9" ry="4.6" fill="#b0b0b0" fill-opacity="0.9" transform="rotate(113 299 435)"/>
<ellipse cx="399" cy="249" rx="8.7" ry="5.8" fill="#d4d4d4" fill-opacity="0.9" transform="rotate(120 399 249)"/>
<ellipse cx="611" cy="554" rx="6.0" ry="5.0" fill="#c1c1c1" fill-opacity="0.9" transform="rotate(136 611 554)"/>
<ellipse cx="542" cy="560" rx="6.6" ry="4.9" fill="#d8d8d8" fill-opacity="0.9" transform="rotate(63 542 560)"/>
<ellipse cx="44" cy="604" rx="8.7" ry="4.3" fill="#b3b3b3" fill-opacity="0.9" transform="rotate(73 44 604)"/>
<ellipse cx="290" cy="594" rx="9.3" ry="3.6" fill="#cdcdcd" fill-opacity="0.9" transform="rotate(76 290 594)"/>
<ellipse cx="34" cy="367" rx="6.0" ry="3.6" fill="#bfbfbf" fill-opacity="0.9" transform="rotate(160 34 367)"/>
<ellipse cx="242" cy="154" rx="5.6" ry="5.5" fill="#bfbfbf" fill-opacity="0.9" transform="rotate(34 242 154)"/>
<ellipse cx="78" cy="612" rx="8.7" ry="4.7" fill="#b0b0b0" fill-opacity="0.9" transform="rotate(63 78 612)"/>
<ellipse cx="305" cy="519" rx="9.5" ry="4.2" fill="#c6c6c6" fill-opacity="0.9" transform="rotate(117 305 519)"/>
<ellipse cx="478" cy="340" rx="7.0" ry="6.0" fill="#bfbfbf" fill-opacity="0.9" transform="rotate(149 478 340)"/>
<ellipse cx="67" cy="32" rx="7.6" ry="3.5" fill="#bebebe" fill-opacity="0.9" transform="rotate(130 67 32)"/>
<ellipse cx="299" cy="7" rx="8.2" ry="5.8" fill="#c6c6c6" fill-opacity="0.9" transform="rotate(112 299 7)"/>
<ellipse cx="631" cy="629" rx="7.6" ry="5.0" fill="#b8b8b8" fill-opacity="0.9" transform="rotate(79 631 629)"/>
<ellipse cx="1" cy="336" rx="8.1" ry="5.0" fill="#bebebe" fill-opacity="0.9" transform="rotate(76 1 336)"/>
<ellipse cx="169" cy="367" rx="8.4" ry="5.6" fill="#cdcdcd" fill-opacity="0.9" transform="rotate(159 169 367)"/>
<ellipse cx="246" cy="233" rx="7.8" ry="5.2" fill="#d0d0d0" fill-opacity="0.9" transform="rotate(11 246 233)"/>
<ellipse cx="474" cy="41" rx="9.2" ry="5.2" fill="#d6d6d6" fill-opacity="0.9" transform="rotate(93 474 41)"/>
<ellipse cx="488" cy="24" rx="6.3" ry="3.7" fill="#b4b4b4" fill-opacity="0.9" transform="rotate(155 488 24)"/>
<ellipse cx="450" cy="400" rx="5.7" ry="4.5" fill="#b2b2b2" fill-opacity="0.9" transform="rotate(156 450 400)"/>
<ellipse cx="285" cy="451" rx="8.5" ry="3.8" fill="#cdcdcd" fill-opacity="0.9" transform="rotate(123 285 451)"/>
<ellipse cx="601" cy="416" rx="8.9" ry="6.0" fill="#b1b1b1" fill-opacity="0.9" transform="rotate(32 601 416)"/>
<ellipse cx="364" cy="611" rx="7.3" ry="5.7" fill="#d7d7d7" fill-opacity="0.9" transform="rotate(46 364 611)"/>
<ellipse cx="63" cy="81" rx="8.7" ry="4.1" fill="#d3d3d3" fill-opacity="0.9" transform="rotate(59 63 81)"/>
<ellipse cx="383" cy="24" rx="8.0" ry="4.9" fill="#cbcbcb" fill-opacity="0.9" transform="rotate(162 383 24)"/>
<ellipse cx="101" cy="83" rx="6.5" ry="5.0" fill="#b3b3b3" fill-opacity="0.9" transform="rotate(127 101 83)"/>
<ellipse cx="134" cy="71" rx="5.6" ry="3.8" fill="#bfbfbf" fill-opacity="0.9" transform="rotate(123 134 71)"/>
<ellipse cx="68" cy="630" rx="9.3" ry="4.8" fill="#d3d3d3" fill-opacity="0.9" transform="rotate(132 68 630)"/>
<ellipse cx="105" cy="389" rx="9.0" ry="3.8" fill="#b1b1b1" fill-opacity="0.9" transform="rotate(92 105 389)"/>
<ellipse cx="170" cy="626" rx="8.9" ry="4.6" fill="#b1b1b1" fill-opacity="0.9" transform="rotate(99 170 626)"/>
<ellipse cx="163" cy="196" rx="8.7" ry="4.8" fill="#b3b3b3" fill-opacity="0.9" transform="rotate(67 163 196)"/>
<ellipse cx="32" cy="269" rx="7.4" ry="3.5" fill="#d4d4d4" fill-opacity="0.9" transform="rotate(40 32 269)"/>
<ellipse cx="6" cy="102" rx="7.9" ry="5.5" fill="#c0c0c0" fill-opacity="0.9" transform="rotate(58 6 102)"/>
<ellipse cx="103" cy="492" rx="6.9" ry="4.6" fill="#c2c2c2" fill-opacity="0.9" transform="rotate(119 103 492)"/>
<ellipse cx="587" cy="261" rx="8.4" ry="4.8" fill="#d6d6d6" fill-opacity="0.9" transform="rotate(107 587 261)"/>
<ellipse cx="16" cy="346" rx="6.6" ry="3.8" fill="#c4c4c4" fill-opacity="0.9" transform="rotate(51 16 346)"/>
<ellipse cx="37" cy="97" rx="6.0" ry="5.2" fill="#bdbdbd" fill-opacity="0.9" transform="rotate(91 37 97)"/>
<ellipse cx="65" cy="473" rx="6.4" ry="5.2" fill="#c2c2c2" fill-opacity="0.9" transform="rotate(106 65 473)"/>
<ellipse cx="66" cy="320" rx="7.6" ry="5.2" fill="#cfcfcf" fill-opacity="0.9" transform="rotate(72 66 320)"/>
<ellipse cx="287" cy="277" rx="9.4" ry="5.7" fill="#b2b2b2" fill-opacity="0.9" transform="rotate(162 287 277)"/>
<ellipse cx="492" cy="1" rx="8.6" ry="5.2" fill="#c7c7c7" fill-opacity="0.9" transform="rotate(29 492 1)"/>
<ellipse cx="246" cy="490" rx="9.4" ry="4.7" fill="#b8b8b8" fill-opacity="0.9" transform="rotate(28 246 490)"/>
<ellipse cx="242" cy="82" rx="6.7" ry="5.7" fill="#c1c1c1" fill-opacity="0.9" transform="rotate(133 242 82)"/>
<ellipse cx="434" cy="615" rx="5.6" ry="4.2" fill="#c3c3c3" fill-opacity="0.9" transform="rotate(172 434 615)"/>
<ellipse cx="484" cy="572" rx="5.7" ry="5.9" fill="#b9b9b9" fill-opacity="0.9" transform="rotate(14 484 572)"/>
<ellipse cx="295" cy="93" rx="8.1" ry="3.5" fill="#b2b2b2" fill-opacity="0.9" transform="rotate(101 295 93)"/>
<ellipse cx="527" cy="537" rx="8.1" ry="5.0" fill="#d9d9d9" fill-opacity="0.9" transform="rotate(129 527 537)"/>
<ellipse cx="466" cy="458" rx="8.2" ry="4.7" fill="#cacaca" fill-opacity="0.9" transform="rotate(174 466 458)"/>
<ellipse cx="35" cy="59" rx="9.0" ry="5.2" fill="#c1c1c1" fill-opacity="0.9" transform="rotate(38 35 59)"/>
<ellipse cx="447" cy="465" rx="6.6" ry="5.2" fill="#bababa" fill-opacity="0.9" transform="rotate(62 447 465)"/>
<ellipse cx="169" cy="343" rx="8.3" ry="3.7" fill="#c8c8c8" fill-opacity="0.9" transform="rotate(74 169 343)"/>
<ellipse cx="265" cy="396" rx="9.0" ry="5.6" fill="#b5b5b5" fill-opacity="0.9" transform="rotate(22 265 396)"/>
<ellipse cx="449" cy="436" rx="6.9" ry="3.8" fill="#d1d1d1" fill-opacity="0.9" transform="rotate(46 449 436)"/>
<ellipse cx="191" cy="460" rx="8.8" ry="5.3" fill="#cccccc" fill-opacity="0.9" transform="rotate(52 191 460)"/>
<ellipse cx="170" cy="234" rx="8.3" ry="5.9" fill="#d6d6d6" fill-opacity="0.9" transform="rotate(170 170 234)"/>
<ellipse cx="276" cy="195" rx="6.3" ry="5.3" fill="#b0b0b0" fill-opacity="0.9" transform="rotate(76 276 195)"/>
<ellipse cx="491" cy="365" rx="5.7" ry="3.9" fill="#cfcfcf" fill-opacity="0.9" transform="rotate(45 491 365)"/>
<ellipse cx="445" cy="4" rx="8.6" ry="5.1" fill="#bfbfbf" fill-opacity="0.9" transform="rotate(152 445 4)"/>
<ellipse cx="592" cy="443" rx="7.9" ry="4.1" fill="#bcbcbc" fill-opacity="0.9" transform="rotate(125 592 443)"/>
<ellipse cx="163" cy="385" rx="9.3" ry="4.7" fill="#cacaca" fill-opacity="0.9" transform="rotate(99 163 385)"/>
<ellipse cx="482" cy="186" rx="7.8" ry="5.4" fill="#bfbfbf" fill-opacity="0.9" transform="rotate(47 482 186)"/>
<ellipse cx="550" cy="296" rx="8.7" ry="3.5" fill="#d7d7d7" fill-opacity="0.9" transform="rotate(40 550 296)"/>
<ellipse cx="36" cy="476" rx="6.0" ry="5.2" fill="#b3b3b3" fill-opacity="0.9" transform="rotate(111 36 476)"/>
<ellipse cx="591" cy="241" rx="6.2" ry="5.0" fill="#cfcfcf" fill-opacity="0.9" transform="rotate(80 591 241)"/>
<ellipse cx="117" cy="506" rx="7.3" ry="5.7" fill="#c5c5c5" fill-opacity="0.9" transform="rotate(177 117 506)"/>
<ellipse cx="182" cy="326" rx="8.5" ry="5.6" fill="#c5c5c5" fill-opacity="0.9" transform="rotate(101 182 326)"/>
<ellipse cx="454" cy="513" rx="9.5" ry="3.6" fill="#c7c7c7" fill-opacity="0.9" transform="rotate(130 454 513)"/>
<ellipse cx="599" cy="602" rx="8.0" ry="4.1" fill="#b3b3b3" fill-opacity="0.9" transform="rotate(112 599 602)"/>
<ellipse cx="432" cy="201" rx="7.0" ry="5.6" fill="#cdcdcd" fill-opacity="0.9" transform="rotate(83 432 201)"/>
<ellipse cx="551" cy="254" rx="8.7" ry="3.7" fill="#c5c5c5" fill-opacity="0.9" transform="rotate(14 551 254)"/>
<ellipse cx="486" cy="555" rx="6.4" ry="5.2" fill="#bbbbbb" fill-opacity="0.9" transform="rotate(44 486 555)"/>
<ellipse cx="311" cy="130" rx="7.2" ry="3.7" fill="#b7b7b7" fill-opacity="0.9" transform="rotate(119 311 130)"/>
<ellipse cx="190" cy="117" rx="7.5" ry="5.9" fill="#b4b4b4" fill-opacity="0.9" transform="rotate(111 190 117)"/>
<ellipse cx="599" cy="320" rx="8.3" ry="5.1" fill="#d7d7d7" fill-opacity="0.9" transform="rotate(105 599 320)"/>
<ellipse cx="443" cy="578" rx="5.5" ry="4.1" fill="#b0b0b0" fill-opacity="0.9" transform="rotate(31 443 578)"/>
<ellipse cx="55" cy="129" rx="6.7" ry="3.9" fill="#c4c4c4" fill-opacity="0.9" transform="rotate(13 55 129)"/>
<ellipse cx="103" cy="9" rx="7.3" ry="4.8" fill="#c6c6c6" fill-opacity="0.9" transform="rotate(107 103 9)"/>
<ellipse cx="332" cy="507" rx="6.6" ry="3.6" fill="#b2b2b2" fill-opacity="0.9" transform="rotate(178 332 507)"/>
<ellipse cx="585" cy="199" rx="7.9" ry="4.3" fill="#b4b4b4" fill-opacity="0.9" transform="rotate(106 585 199)"/>
<ellipse cx="82" cy="47" rx="8.9" ry="5.8" fill="#cdcdcd" fill-opacity="0.9" transform="rotate(103 82 47)"/>
<ellipse cx="83" cy="84" rx="5.8" ry="5.6" fill="#b9b9b9" fill-opacity="0.9" transform="rotate(100 83 84)"/>
<ellipse cx="183" cy="263" rx="9.4" ry="4.6" fill="#b0b0b0" fill-opacity="0.9" transform="rotate(70 183 263)"/>
<ellipse cx="165" cy="450" rx="8.9" ry="3.9" fill="#b2b2b2" fill-opacity="0.9" transform="rotate(103 165 450)"/>
<ellipse cx="579" cy="7" rx="6.1" ry="3.9" fill="#cacaca" fill-opacity="0.9" transform="rotate(60 579 7)"/>
<ellipse cx="42" cy="3" rx="8.4" ry="5.5" fill="#b2b2b2" fill-opacity="0.9" transform="rotate(21 42 3)"/>
<ellipse cx="287" cy="221" rx="7.7" ry="4.3" fill="#d5d5d5" fill-opacity="0.9" transform="rotate(46 287 221)"/>
<ellipse cx="234" cy="23" rx="9.3" ry="5.4" fill="#d0d0d0" fill-opacity="0.9" transform="rotate(108 234 23)"/>
<ellipse cx="576" cy="326" rx="5.9" ry="5.9" fill="#b3b3b3" fill-opacity="0.9" transform="rotate(127 576 326)"/>
<ellipse cx="204" cy="598" rx="6.0" ry="5.0" fill="#c1c1c1" fill-opacity="0.9" transform="rotate(73 204 598)"/>
<ellipse cx="80" cy="109" rx="7.8" ry="5.5" fill="#c5c5c5" fill-opacity="0.9" transform="rotate(120 80 109)"/>
<ellipse cx="331" cy="142" rx="7.2" ry="5.2" fill="#bababa" fill-opacity="0.9" transform="rotate(91 331 142)"/>
<ellipse cx="109" cy="203" rx="6.8" ry="4.5" fill="#bcbcbc" fill-opacity="0.9" transform="rotate(42 109 203)"/>
<ellipse cx="320" cy="609" rx="6.9" ry="4.5" fill="#b9b9b9" fill-opacity="0.9" transform="rotate(143 320 609)"/>
<ellipse cx="45" cy="392" rx="8.3" ry="4.8" fill="#bdbdbd" fill-opacity="0.9" transform="rotate(96 45 392)"/>
<ellipse cx="218" cy="564" rx="7.0" ry="3.7" fill="#d4d4d4" fill-opacity="0.9" transform="rotate(118 218 564)"/>
<ellipse cx="484" cy="391" rx="6.0" ry="4.3" fill="#b8b8b8" fill-opacity="0.9" transform="rotate(139 484 391)"/>
<ellipse cx="18" cy="167" rx="9.4" ry="3.5" fill="#bcbcbc" fill-opacity="0.9" transform="rotate(35 18 167)"/>
<ellipse cx="561" cy="156" rx="8.0" ry="3.7" fill="#cdcdcd" fill-opacity="0.9" transform="rotate(2 561 156)"/>
<ellipse cx="91" cy="514" rx="8.9" ry="5.4" fill="#b7b7b7" fill-opacity="0.9" transform="rotate(28 91 514)"/>
<ellipse cx="482" cy="628" rx="7.8" ry="3.7" fill="#c6c6c6" fill-opacity="0.9" transform="rotate(77 482 628)"/>
<ellipse cx="393" cy="397" rx="8.8" ry="4.6" fill="#c6c6c6" fill-opacity="0.9" transform="rotate(140 393 397)"/>
<ellipse cx="19" cy="39" rx="7.9" ry="4.9" fill="#b3b3b3" fill-opacity="0.9" transform="rotate(168 19 39)"/>
<ellipse cx="267" cy="140" rx="7.8" ry="6.0" fill="#c0c0c0" fill-opacity="0.9" transform="rotate(52 267 140)"/>
<ellipse cx="92" cy="322" rx="7.8" ry="3.8" fill="#c3c3c3" fill-opacity="0.9" transform="rotate(46 92 322)"/>
<ellipse cx="626" cy="487" rx="5.6" ry="5.9" fill="#c4c4c4" fill-opacity="0.9" transform="rotate(148 626 487)"/>
<ellipse cx="455" cy="417" rx="6.4" ry="5.4" fill="#d3d3d3" fill-opacity="0.9" transform="rotate(36 455 417)"/>
<ellipse cx="248" cy="216" rx="7.2" ry="5.5" fill="#bfbfbf" fill-opacity="0.9" transform="rotate(134 248 216)"/>
<ellipse cx="22" cy="628" rx="7.9" ry="3.8" fill="#b7b7b7" fill-opacity="0.9" transform="rotate(36 22 628)"/>
<ellipse cx="95" cy="170" rx="5.5" ry="4.1" fill="#c5c5c5" fill-opacity="0.9" transform="rotate(175 95 170)"/>
<ellipse cx="52" cy="331" rx="8.8" ry="4.8" fill="#d3d3d3" fill-opacity="0.9" transform="rotate(139 52 331)"/>
<ellipse cx="156" cy="330" rx="6.3" ry="3.9" fill="#d4d4d4" fill-opacity="0.9" transform="rotate(164 156 330)"/>
<ellipse cx="134" cy="348" rx="7.5" ry="5.4" fill="#d5d5d5" fill-opacity="0.9" transform="rotate(124 134 348)"/>
<ellipse cx="382" cy="412" rx="9.4" ry="6.0" fill="#d8d8d8" fill-opacity="0.9" transform="rotate(121 382 412)"/>
<ellipse cx="454" cy="495" rx="6.2" ry="5.0" fill="#bdbdbd" fill-opacity="0.9" transform="rotate(159 454 495)"/>
<ellipse cx="64" cy="271" rx="5.9" ry="3.8" fill="#b3b3b3" fill-opacity="0.9" transform="rotate(17 64 271)"/>
<ellipse cx="455" cy="293" rx="7.1" ry="4.2" fill="#d1d1d1" fill-opacity="0.9" transform="rotate(162 455 293)"/>
<ellipse cx="303" cy="37" rx="6.0" ry="4.6" fill="#d0d0d0" fill-opacity="0.9" transform="rotate(36 303 37)"/>
<ellipse cx="580" cy="120" rx="6.0" ry="3.8" fill="#c3c3c3" fill-opacity="0.9" transform="rotate(146 580 120)"/>
<ellipse cx="223" cy="7" rx="6.8" ry="3.7" fill="#c8c8c8" fill-opacity="0.9" transform="rotate(91 223 7)"/>
<ellipse cx="218" cy="408" rx="7.6" ry="4.0" fill="#c1c1c1" fill-opacity="0.9" transform="rotate(150 218 408)"/>
<ellipse cx="355" cy="51" rx="5.8" ry="3.6" fill="#c6c6c6" fill-opacity="0.9" transform="rotate(85 355 51)"/>
<ellipse cx="625" cy="142" rx="8.5" ry="5.7" fill="#d9d9d9" fill-opacity="0.9" transform="rotate(159 625 142)"/>
<ellipse cx="424" cy="332" rx="7.7" ry="6.0" fill="#bdbdbd" fill-opacity="0.9" transform="rotate(91 424 332)"/>
<ellipse cx="366" cy="301" rx="7.0" ry="4.1" fill="#d2d2d2" fill-opacity="0.9" transform="rotate(86 366 301)"/>
<ellipse cx="106" cy="253" rx="7.3" ry="3.8" fill="#cacaca" fill-opacity="0.9" transform="rotate(49 106 253)"/>
<ellipse cx="173" cy="109" rx="7.4" ry="4.6" fill="#cbcbcb" fill-opacity="0.9" transform="rotate(139 173 109)"/>
<ellipse cx="32" cy="506" rx="5.7" ry="4.6" fill="#cfcfcf" fill-opacity="0.9" transform="rotate(92 32 506)"/>
<ellipse cx="359" cy="201" rx="7.6" ry="4.4" fill="#c9c9c9" fill-opacity="0.9" transform="rotate(7 359 201)"/>
<ellipse cx="630" cy="261" rx="7.9" ry="5.6" fill="#b5b5b5" fill-opacity="0.9" transform="rotate(116 630 261)"/>
<ellipse cx="321" cy="376" rx="8.9" ry="5.7" fill="#c1c1c1" fill-opacity="0.9" transform="rotate(6 321 376)"/>
<ellipse cx="337" cy="328" rx="6.6" ry="5.9" fill="#bfbfbf" fill-opacity="0.9" transform="rotate(148 337 328)"/>
<ellipse cx="27" cy="193" rx="6.4" ry="4.2" fill="#c2c2c2" fill-opacity="0.9" transform="rotate(91 27 193)"/>
<ellipse cx="520" cy="261" rx="8.6" ry="4.7" fill="#b1b1b1" fill-opacity="0.9" transform="rotate(70 520 261)"/>
<ellipse cx="447" cy="359" rx="5.8" ry="5.2" fill="#bdbdbd" fill-opacity="0.9" transform="rotate(75 447 359)"/>
<ellipse cx="54" cy="408" rx="7.1" ry="4.4" fill="#b8b8b8" fill-opacity="0.9" transform="rotate(161 54 408)"/>
<ellipse cx="245" cy="379" rx="7.2" ry="4.5" fill="#bababa" fill-opacity="0.9" transform="rotate(119 245 379)"/>
<ellipse cx="319" cy="280" rx="7.5" ry="5.5" fill="#cacaca" fill-opacity="0.9" transform="rotate(150 319 280)"/>
<ellipse cx="508" cy="461" rx="9.0" ry="5.5" fill="#c8c8c8" fill-opacity="0.9" transform="rotate(163 508 461)"/>
<ellipse cx="112" cy="357" rx="7.5" ry="5.8" fill="#c7c7c7" fill-opacity="0.9" transform="rotate(40 112 357)"/>
<ellipse cx="579" cy="159" rx="6.4" ry="4.6" fill="#b8b8b8" fill-opacity="0.9" transform="rotate(146 579 159)"/>
<ellipse cx="238" cy="446" rx="9.5" ry="4.0" fill="#b0b0b0" fill-opacity="0.9" transform="rotate(27 238 446)"/>
<ellipse cx="460" cy="375" rx="5.6" ry="5.6" fill="#c6c6c6" fill-opacity="0.9" transform="rotate(48 460 375)"/>
<ellipse cx="324" cy="304" rx="5.6" ry="4.8" fill="#b9b9b9" fill-opacity="0.9" transform="rotate(7 324 304)"/>
<ellipse cx="327" cy="192" rx="5.7" ry="3.7" fill="#cdcdcd" fill-opacity="0.9" transform="rotate(137 327 192)"/>
<ellipse cx="516" cy="111" rx="6.8" ry="3.9" fill="#cdcdcd" fill-opacity="0.9" transform="rotate(169 516 111)"/>
<ellipse cx="69" cy="154" rx="7.7" ry="5.3" fill="#c5c5c5" fill-opacity="0.9" transform="rotate(26 69 154)"/>
<ellipse cx="401" cy="144" rx="6.4" ry="4.6" fill="#b4b4b4" fill-opacity="0.9" transform="rotate(62 401 144)"/>
<ellipse cx="634" cy="357" rx="5.8" ry="3.7" fill="#b0b0b0" fill-opacity="0.9" transform="rotate(52 634 357)"/>
<ellipse cx="567" cy="369" rx="8.2" ry="3.9" fill="#d5d5d5" fill-opacity="0.9" transform="rotate(138 567 369)"/>
<ellipse cx="434" cy="405" rx="9.1" ry="3.9" fill="#b8b8b8" fill-opacity="0.9" transform="rotate(171 434 405)"/>
<ellipse cx="310" cy="186" rx="7.6" ry="5.7" fill="#b7b7b7" fill-opacity="0.9" transform="rotate(97 310 186)"/>
<ellipse cx="352" cy="423" rx="8.7" ry="5.7" fill="#b8b8b8" fill-opacity="0.9" transform="rotate(35 352 423)"/>
<ellipse cx="63" cy="1" rx="5.8" ry="4.4" fill="#b6b6b6" fill-opacity="0.9" transform="rotate(89 63 1)"/>
<ellipse cx="525" cy="618" rx="8.3" ry="5.1" fill="#c1c1c1" fill-opacity="0.9" transform="rotate(81 525 618)"/>
<ellipse cx="115" cy="444" rx="8.8" ry="3.7" fill="#b6b6b6" fill-opacity="0.9" transform="rotate(15 115 444)"/>
<ellipse cx="428" cy="423" rx="8.9" ry="4.5" fill="#cdcdcd" fill-opacity="0.9" transform="rotate(63 428 423)"/>
<ellipse cx="347" cy="592" rx="8.2" ry="5.3" fill="#c0c0c0" fill-opacity="0.9" transform="rotate(80 347 592)"/>
<ellipse cx="268" cy="537" rx="8.7" ry="4.1" fill="#b9b9b9" fill-opacity="0.9" transform="rotate(101 268 537)"/>
<ellipse cx="4" cy="76" rx="7.7" ry="3.7" fill="#cfcfcf" fill-opacity="0.9" transform="rotate(106 4 76)"/>
<ellipse cx="524" cy="150" rx="7.3" ry="5.4" fill="#c8c8c8" fill-opacity="0.9" transform="rotate(23 524 150)"/>
<ellipse cx="138" cy="111" rx="7.4" ry="3.7" fill="#d1d1d1" fill-opacity="0.9" transform="rotate(98 138 111)"/>
<ellipse cx="63" cy="53" rx="9.2" ry="3.5" fill="#b9b9b9" fill-opacity="0.9" transform="rotate(175 63 53)"/>
<ellipse cx="74" cy="134" rx="9.4" ry="5.2" fill="#b9b9b9" fill-opacity="0.9" transform="rotate(77 74 134)"/>
<ellipse cx="615" cy="470" rx="7.6" ry="5.6" fill="#b9b9b9" fill-opacity="0.9" transform="rotate(105 615 470)"/>
<ellipse cx="13" cy="365" rx="8.7" ry="3.6" fill="#c1c1c1" fill-opacity="0.9" transform="rotate(37 13 365)"/>
<ellipse cx="408" cy="229" rx="6.5" ry="5.4" fill="#c3c3c3" fill-opacity="0.9" transform="rotate(34 408 229)"/>
<ellipse cx="352" cy="442" rx="5.7" ry="5.8" fill="#c0c0c0" fill-opacity="0.9" transform="rotate(80 352 442)"/>
<ellipse cx="99" cy="302" rx="8.8" ry="4.8" fill="#c4c4c4" fill-opacity="0.9" transform="rotate(119 99 302)"/>
<ellipse cx="200" cy="211" rx="7.8" ry="4.8" fill="#d3d3d3" fill-opacity="0.9" transform="rotate(28 200 211)"/>
<ellipse cx="353" cy="132" rx="5.7" ry="3.5" fill="#c8c8c8" fill-opacity="0.9" transform="rotate(54 353 132)"/>
<ellipse cx="138" cy="312" rx="7.1" ry="5.4" fill="#b3b3b3" fill-opacity="0.9" transform="rotate(140 138 312)"/>
<ellipse cx="456" cy="45" rx="8.6" ry="5.8" fill="#b9b9b9" fill-opacity="0.9" transform="rotate(165 456 45)"/>
<ellipse cx="296" cy="314" rx="9.4" ry="4.4" fill="#b9b9b9" fill-opacity="0.9" transform="rotate(19 296 314)"/>
<ellipse cx="199" cy="36" rx="9.0" ry="4.4" fill="#b0b0b0" fill-opacity="0.9" transform="rotate(164 199 36)"/>
<ellipse cx="567" cy="19" rx="5.9" ry="5.1" fill="#c2c2c2" fill-opacity="0.9" transform="rotate(2 567 19)"/>
<ellipse cx="35" cy="567" rx="5.6" ry="4.5" fill="#b9b9b9" fill-opacity="0.9" transform="rotate(68 35 567)"/>
<ellipse cx="416" cy="526" rx="6.9" ry="3.9" fill="#b6b6b6" fill-opacity="0.9" transform="rotate(106 416 526)"/>
<ellipse cx="512" cy="334" rx="9.0" ry="5.6" fill="#c5c5c5" fill-opacity="0.9" transform="rotate(58 512 334)"/>
<ellipse cx="530" cy="198" rx="6.2" ry="4.4" fill="#c4c4c4" fill-opacity="0.9" transform="rotate(122 530 198)"/>
<ellipse cx="472" cy="66" rx="5.9" ry="4.6" fill="#b3b3b3" fill-opacity="0.9" transform="rotate(168 472 66)"/>
<ellipse cx="342" cy="562" rx="5.7" ry="4.4" fill="#cccccc" fill-opacity="0.9" transform="rotate(2 342 562)"/>
<ellipse cx="32" cy="333" rx="7.4" ry="3.8" fill="#cccccc" fill-opacity="0.9" transform="rotate(9 32 333)"/>
<ellipse cx="285" cy="490" rx="8.7" ry="3.9" fill="#b5b5b5" fill-opacity="0.9" transform="rotate(51 285 490)"/>
<ellipse cx="205" cy="441" rx="8.9" ry="3.8" fill="#d9d9d9" fill-opacity="0.9" transform="rotate(29 205 441)"/>
<ellipse cx="220" cy="170" rx="7.4" ry="5.6" fill="#c7c7c7" fill-opacity="0.9" transform="rotate(135 220 170)"/>
<ellipse cx="122" cy="101" rx="8.1" ry="3.8" fill="#b6b6b6" fill-opacity="0.9" transform="rotate(103 122 101)"/>
<ellipse cx="569" cy="61" rx="8.3" ry="3.7" fill="#b8b8b8" fill-opacity="0.9" transform="rotate(18 569 61)"/>
<ellipse cx="383" cy="592" rx="7.0" ry="3.9" fill="#b1b1b1" fill-opacity="0.9" transform="rotate(8 383 592)"/>
<ellipse cx="605" cy="227" rx="6.8" ry="3.6" fill="#b8b8b8" fill-opacity="0.9" transform="rotate(60 605 227)"/>
<ellipse cx="601" cy="131" rx="8.3" ry="5.2" fill="#b9b9b9" fill-opacity="0.9" transform="rotate(114 601 131)"/>
<ellipse cx="203" cy="315" rx="9.1" ry="3.8" fill="#b2b2b2" fill-opacity="0.9" transform="rotate(100 203 315)"/>
<ellipse cx="150" cy="405" rx="8.6" ry="4.5" fill="#c3c3c3" fill-opacity="0.9" transform="rotate(67 150 405)"/>
<ellipse cx="442" cy="164" rx="6.8" ry="5.9" fill="#d5d5d5" fill-opacity="0.9" transform="rotate(149 442 164)"/>
<ellipse cx="154" cy="436" rx="5.9" ry="5.1" fill="#b5b5b5" fill-opacity="0.9" transform="rotate(153 154 436)"/>
<ellipse cx="626" cy="289" rx="6.2" ry="4.8" fill="#b5b5b5" fill-opacity="0.9" transform="rotate(108 626 289)"/>
<ellipse cx="216" cy="333" rx="9.1" ry="3.7" fill="#d8d8d8" fill-opacity="0.9" transform="rotate(74 216 333)"/>
<ellipse cx="540" cy="375" rx="8.5" ry="4.2" fill="#d7d7d7" fill-opacity="0.9" transform="rotate(21 540 375)"/>
<ellipse cx="189" cy="193" rx="6.0" ry="3.5" fill="#b2b2b2" fill-opacity="0.9" transform="rotate(129 189 193)"/>
<ellipse cx="385" cy="159" rx="8.3" ry="4.2" fill="#b1b1b1" fill-opacity="0.9" transform="rotate(138 385 159)"/>
<ellipse cx="333" cy="16" rx="9.0" ry="4.3" fill="#c8c8c8" fill-opacity="0.9" transform="rotate(30 333 16)"/>
<ellipse cx="49" cy="452" rx="6.6" ry="4.7" fill="#b9b9b9" fill-opacity="0.9" transform="rotate(80 49 452)"/>
<ellipse cx="68" cy="254" rx="6.4" ry="5.5" fill="#d1d1d1" fill-opacity="0.9" transform="rotate(67 68 254)"/>
<ellipse cx="143" cy="86" rx="6.5" ry="3.5" fill="#c3c3c3" fill-opacity="0.9" transform="rotate(94 143 86)"/>
<ellipse cx="502" cy="275" rx="8.6" ry="4.8" fill="#cccccc" fill-opacity="0.9" transform="rotate(125 502 275)"/>
<ellipse cx="225" cy="315" rx="8.9" ry="5.4" fill="#b0b0b0" fill-opacity="0.9" transform="rotate(63 225 315)"/>
<ellipse cx="79" cy="535" rx="5.7" ry="5.0" fill="#cfcfcf" fill-opacity="0.9" transform="rotate(1 79 535)"/>
<ellipse cx="452" cy="622" rx="8.5" ry="5.7" fill="#c5c5c5" fill-opacity="0.9" transform="rotate(6 452 622)"/>
<ellipse cx="335" cy="474" rx="8.6" ry="5.2" fill="#cacaca" fill-opacity="0.9" transform="rotate(104 335 474)"/>
<ellipse cx="17" cy="520" rx="6.0" ry="5.2" fill="#d3d3d3" fill-opacity="0.9" transform="rotate(94 17 520)"/>
<ellipse cx="94" cy="605" rx="8.5" ry="5.1" fill="#b5b5b5" fill-opacity="0.9" transform="rotate(81 94 605)"/>
<ellipse cx="504" cy="124" rx="5.9" ry="5.0" fill="#b6b6b6" fill-opacity="0.9" transform="rotate(113 504 124)"/>
<ellipse cx="555" cy="541" rx="9.3" ry="4.9" fill="#cacaca" fill-opacity="0.9" transform="rotate(2 555 541)"/>
<ellipse cx="574" cy="390" rx="6.1" ry="4.9" fill="#c4c4c4" fill-opacity="0.9" transform="rotate(126 574 390)"/>
<ellipse cx="538" cy="12" rx="6.3" ry="5.8" fill="#b0b0b0" fill-opacity="0.9" transform="rotate(116 538 12)"/>
<ellipse cx="431" cy="446" rx="8.5" ry="3.9" fill="#b3b3b3" fill-opacity="0.9" transform="rotate(120 431 446)"/>
<ellipse cx="135" cy="186" rx="7.4" ry="5.6" fill="#b7b7b7" fill-opacity="0.9" transform="rotate(118 135 186)"/>
<ellipse cx="343" cy="376" rx="7.2" ry="5.7" fill="#bebebe" fill-opacity="0.9" transform="rotate(24 343 376)"/>
<ellipse cx="417" cy="458" rx="8.0" ry="5.9" fill="#cecece" fill-opacity="0.9" transform="rotate(61 417 458)"/>
<ellipse cx="593" cy="548" rx="7.2" ry="4.3" fill="#bcbcbc" fill-opacity="0.9" transform="rotate(116 593 548)"/>
<ellipse cx="309" cy="69" rx="6.9" ry="5.5" fill="#bcbcbc" fill-opacity="0.9" transform="rotate(108 309 69)"/>
<ellipse cx="529" cy="72" rx="9.4" ry="5.5" fill="#bababa" fill-opacity="0.9" transform="rotate(28 529 72)"/>
<ellipse cx="632" cy="409" rx="7.2" ry="4.4" fill="#b3b3b3" fill-opacity="0.9" transform="rotate(50 632 409)"/>
<ellipse cx="165" cy="419" rx="6.7" ry="5.5" fill="#b6b6b6" fill-opacity="0.9" transform="rotate(144 165 419)"/>
<ellipse cx="216" cy="460" rx="6.0" ry="4.6" fill="#cbcbcb" fill-opacity="0.9" transform="rotate(172 216 460)"/>
<ellipse cx="61" cy="586" rx="6.9" ry="4.2" fill="#bababa" fill-opacity="0.9" transform="rotate(92 61 586)"/>
<ellipse cx="491" cy="248" rx="6.9" ry="4.5" fill="#d6d6d6" fill-opacity="0.9" transform="rotate(73 491 248)"/>
<ellipse cx="250" cy="52" rx="6.2" ry="5.6" fill="#d5d5d5" fill-opacity="0.9" transform="rotate(84 250 52)"/>
<ellipse cx="331" cy="547" rx="8.3" ry="5.8" fill="#b2b2b2" fill-opacity="0.9" transform="rotate(58 331 547)"/>
<ellipse cx="526" cy="296" rx="8.1" ry="4.4" fill="#d0d0d0" fill-opacity="0.9" transform="rotate(150 526 296)"/>
<ellipse cx="238" cy="542" rx="8.8" ry="4.8" fill="#b3b3b3" fill-opacity="0.9" transform="rotate(76 238 542)"/>
<ellipse cx="154" cy="534" rx="7.0" ry="5.0" fill="#bdbdbd" fill-opacity="0.9" transform="rotate(31 154 534)"/>
<ellipse cx="7" cy="128" rx="8.0" ry="5.5" fill="#cccccc" fill-opacity="0.9" transform="rotate(30 7 128)"/>
<ellipse cx="511" cy="629" rx="9.2" ry="4.2" fill="#d1d1d1" fill-opacity="0.9" transform="rotate(110 511 629)"/>
<ellipse cx="426" cy="596" rx="9.2" ry="4.6" fill="#cacaca" fill-opacity="0.9" transform="rotate(112 426 596)"/>
<ellipse cx="273" cy="263" rx="5.8" ry="6.0" fill="#b8b8b8" fill-opacity="0.9" transform="rotate(161 273 263)"/>
<ellipse cx="61" cy="190" rx="6.7" ry="4.8" fill="#c9c9c9" fill-opacity="0.9" transform="rotate(8 61 190)"/>
<ellipse cx="598" cy="294" rx="6.4" ry="5.9" fill="#c8c8c8" fill-opacity="0.9" transform="rotate(172 598 294)"/>
<ellipse cx="5" cy="270" rx="6.4" ry="5.3" fill="#b0b0b0" fill-opacity="0.9" transform="rotate(101 5 270)"/>
<ellipse cx="340" cy="616" rx="7.1" ry="5.8" fill="#b9b9b9" fill-opacity="0.9" transform="rotate(82 340 616)"/>
<ellipse cx="351" cy="281" rx="7.4" ry="5.0" fill="#bfbfbf" fill-opacity="0.9" transform="rotate(109 351 281)"/>
<ellipse cx="29" cy="227" rx="8.0" ry="5.5" fill="#cccccc" fill-opacity="0.9" transform="rotate(79 29 227)"/>
<ellipse cx="411" cy="630" rx="7.9" ry="3.8" fill="#b2b2b2" fill-opacity="0.9" transform="rotate(52 411 630)"/>
<ellipse cx="516" cy="425" rx="6.2" ry="4.4" fill="#b0b0b0" fill-opacity="0.9" transform="rotate(57 516 425)"/>
<ellipse cx="387" cy="235" rx="5.6" ry="5.8" fill="#c3c3c3" fill-opacity="0.9" transform="rotate(170 387 235)"/>
<ellipse cx="137" cy="504" rx="7.0" ry="4.1" fill="#bcbcbc" fill-opacity="0.9" transform="rotate(141 137 504)"/>
<ellipse cx="349" cy="69" rx="5.7" ry="4.7" fill="#b5b5b5" fill-opacity="0.9" transform="rotate(150 349 69)"/>
<ellipse cx="175" cy="549" rx="7.7" ry="4.5" fill="#bcbcbc" fill-opacity="0.9" transform="rotate(145 175 549)"/>
<ellipse cx="193" cy="173" rx="8.9" ry="3.6" fill="#bdbdbd" fill-opacity="0.9" transform="rotate(121 193 173)"/>
<ellipse cx="628" cy="448" rx="9.1" ry="5.9" fill="#b0b0b0" fill-opacity="0.9" transform="rotate(168 628 448)"/>
<ellipse cx="435" cy="292" rx="6.5" ry="3.9" fill="#bbbbbb" fill-opacity="0.9" transform="rotate(14 435 292)"/>
<ellipse cx="278" cy="516" rx="7.3" ry="5.8" fill="#c7c7c7" fill-opacity="0.9" transform="rotate(1 278 516)"/>
<ellipse cx="238" cy="104" rx="9.4" ry="4.6" fill="#b3b3b3" fill-opacity="0.9" transform="rotate(156 238 104)"/>
<ellipse cx="148" cy="234" rx="8.2" ry="3.8" fill="#bcbcbc" fill-opacity="0.9" transform="rotate(101 148 234)"/>
<ellipse cx="338" cy="230" rx="5.8" ry="4.9" fill="#b1b1b1" fill-opacity="0.9" transform="rotate(23 338 230)"/>
<ellipse cx="214" cy="292" rx="7.8" ry="5.7" fill="#d1d1d1" fill-opacity="0.9" transform="rotate(12 214 292)"/>
<ellipse cx="633" cy="607" rx="8.0" ry="4.8" fill="#bebebe" fill-opacity="0.9" transform="rotate(150 633 607)"/>
<ellipse cx="556" cy="483" rx="7.1" ry="3.7" fill="#cacaca" fill-opacity="0.9" transform="rotate(141 556 483)"/>
<ellipse cx="340" cy="118" rx="7.9" ry="5.7" fill="#c3c3c3" fill-opacity="0.9" transform="rotate(132 340 118)"/>
<ellipse cx="148" cy="579" rx="6.0" ry="4.6" fill="#c0c0c0" fill-opacity="0.9" transform="rotate(142 148 579)"/>
<ellipse cx="385" cy="205" rx="7.5" ry="5.3" fill="#bcbcbc" fill-opacity="0.9" transform="rotate(116 385 205)"/>
<ellipse cx="239" cy="406" rx="8.2" ry="5.6" fill="#bdbdbd" fill-opacity="0.9" transform="rotate(49 239 406)"/>
<ellipse cx="391" cy="47" rx="6.0" ry="5.6" fill="#b0b0b0" fill-opacity="0.9" transform="rotate(73 391 47)"/>
<ellipse cx="612" cy="275" rx="8.4" ry="5.7" fill="#b1b1b1" fill-opacity="0.9" transform="rotate(118 612 275)"/>
<ellipse cx="534" cy="129" rx="7.8" ry="5.3" fill="#b2b2b2" fill-opacity="0.9" transform="rotate(129 534 129)"/>
<ellipse cx="512" cy="16" rx="7.9" ry="5.8" fill="#b3b3b3" fill-opacity="0.9" transform="rotate(134 512 16)"/>
<ellipse cx="109" cy="48" rx="7.4" ry="4.5" fill="#d8d8d8" fill-opacity="0.9" transform="rotate(22 109 48)"/>
<ellipse cx="134" cy="522" rx="8.1" ry="5.5" fill="#c2c2c2" fill-opacity="0.9" transform="rotate(126 134 522)"/>
<ellipse cx="5" cy="233" rx="6.0" ry="5.2" fill="#cecece" fill-opacity="0.9" transform="rotate(62 5 233)"/>
<ellipse cx="552" cy="419" rx="6.8" ry="5.0" fill="#b7b7b7" fill-opacity="0.9" transform="rotate(141 552 419)"/>
<ellipse cx="562" cy="201" rx="7.2" ry="5.6" fill="#cbcbcb" fill-opacity="0.9" transform="rotate(178 562 201)"/>
<ellipse cx="346" cy="539" rx="6.6" ry="5.0" fill="#b9b9b9" fill-opacity="0.9" transform="rotate(140 346 539)"/>
<ellipse cx="115" cy="154" rx="9.1" ry="4.5" fill="#c6c6c6" fill-opacity="0.9" transform="rotate(7 115 154)"/>
<ellipse cx="275" cy="245" rx="8.2" ry="3.6" fill="#bcbcbc" fill-opacity="0.9" transform="rotate(125 275 245)"/>
<ellipse cx="607" cy="201" rx="7.9" ry="5.1" fill="#b5b5b5" fill-opacity="0.9" transform="rotate(34 607 201)"/>
<ellipse cx="403" cy="35" rx="5.5" ry="4.2" fill="#d8d8d8" fill-opacity="0.9" transform="rotate(2 403 35)"/>
<ellipse cx="251" cy="180" rx="7.7" ry="5.4" fill="#c1c1c1" fill-opacity="0.9" transform="rotate(169 251 180)"/>
<ellipse cx="167" cy="146" rx="6.9" ry="3.5" fill="#d5d5d5" fill-opacity="0.9" transform="rotate(162 167 146)"/>
<ellipse cx="212" cy="98" rx="7.1" ry="5.3" fill="#b7b7b7" fill-opacity="0.9" transform="rotate(93 212 98)"/>
<ellipse cx="589" cy="355" rx="7.9" ry="4.0" fill="#b4b4b4" fill-opacity="0.9" transform="rotate(26 589 355)"/>
<ellipse cx="283" cy="550" rx="9.1" ry="5.5" fill="#cccccc" fill-opacity="0.9" transform="rotate(175 283 550)"/>
<ellipse cx="450" cy="202" rx="7.1" ry="4.8" fill="#b5b5b5" fill-opacity="0.9" transform="rotate(127 450 202)"/>
<ellipse cx="581" cy="577" rx="8.6" ry="3.8" fill="#c5c5c5" fill-opacity="0.9" transform="rotate(98 581 577)"/>
<ellipse cx="619" cy="426" rx="7.9" ry="5.2" fill="#c7c7c7" fill-opacity="0.9" transform="rotate(146 619 426)"/>
<ellipse cx="500" cy="597" rx="8.4" ry="4.2" fill="#c5c5c5" fill-opacity="0.9" transform="rotate(129 500 597)"/>
<ellipse cx="403" cy="68" rx="6.3" ry="5.7" fill="#c4c4c4" fill-opacity="0.9" transform="rotate(11 403 68)"/>
<ellipse cx="395" cy="178" rx="7.6" ry="4.8" fill="#c0c0c0" fill-opacity="0.9" transform="rotate(134 395 178)"/>
<ellipse cx="205" cy="360" rx="8.9" ry="4.5" fill="#c5c5c5" fill-opacity="0.9" transform="rotate(147 205 360)"/>
<ellipse cx="339" cy="171" rx="8.4" ry="5.5" fill="#c3c3c3" fill-opacity="0.9" transform="rotate(2 339 171)"/>
<ellipse cx="349" cy="3" rx="8.0" ry="6.0" fill="#bbbbbb" fill-opacity="0.9" transform="rotate(21 349 3)"/>
<ellipse cx="121" cy="633" rx="9.4" ry="5.6" fill="#d5d5d5" fill-opacity="0.9" transform="rotate(35 121 633)"/>
<ellipse cx="520" cy="38" rx="6.1" ry="4.1" fill="#d7d7d7" fill-opacity="0.9" transform="rotate(117 520 38)"/>
<ellipse cx="347" cy="498" rx="7.6" ry="5.3" fill="#b4b4b4" fill-opacity="0.9" transform="rotate(30 347 498)"/>
<ellipse cx="605" cy="372" rx="8.4" ry="4.6" fill="#d4d4d4" fill-opacity="0.9" transform="rotate(89 605 372)"/>
<ellipse cx="11" cy="18" rx="9.1" ry="3.9" fill="#cacaca" fill-opacity="0.9" transform="rotate(148 11 18)"/>
<ellipse cx="370" cy="188" rx="7.2" ry="4.3" fill="#c9c9c9" fill-opacity="0.9" transform="rotate(45 370 188)"/>
<ellipse cx="384" cy="311" rx="6.5" ry="3.5" fill="#b8b8b8" fill-opacity="0.9" transform="rotate(75 384 311)"/>
<ellipse cx="141" cy="2" rx="6.9" ry="4.1" fill="#bbbbbb" fill-opacity="0.9" transform="rotate(92 141 2)"/>
<ellipse cx="29" cy="150" rx="6.5" ry="4.4" fill="#b3b3b3" fill-opacity="0.9" transform="rotate(67 29 150)"/>
<ellipse cx="81" cy="589" rx="7.3" ry="5.0" fill="#c6c6c6" fill-opacity="0.9" transform="rotate(132 81 589)"/>
<ellipse cx="181" cy="381" rx="5.9" ry="4.8" fill="#b6b6b6" fill-opacity="0.9" transform="rotate(141 181 381)"/>
<ellipse cx="613" cy="617" rx="9.2" ry="4.6" fill="#d0d0d0" fill-opacity="0.9" transform="rotate(31 613 617)"/>
<ellipse cx="79" cy="381" rx="8.0" ry="5.2" fill="#bcbcbc" fill-opacity="0.9" transform="rotate(84 79 381)"/>
<ellipse cx="318" cy="586" rx="7.3" ry="4.2" fill="#d4d4d4" fill-opacity="0.9" transform="rotate(133 318 586)"/>
<ellipse cx="564" cy="518" rx="6.9" ry="5.1" fill="#d0d0d0" fill-opacity="0.9" transform="rotate(131 564 518)"/>
<ellipse cx="507" cy="143" rx="8.0" ry="3.7" fill="#d8d8d8" fill-opacity="0.9" transform="rotate(165 507 143)"/>
<ellipse cx="369" cy="150" rx="6.3" ry="5.3" fill="#b6b6b6" fill-opacity="0.9" transform="rotate(77 369 150)"/>
<ellipse cx="476" cy="309" rx="5.7" ry="4.3" fill="#d5d5d5" fill-opacity="0.9" transform="rotate(143 476 309)"/>
<ellipse cx="620" cy="79" rx="6.0" ry="5.8" fill="#c5c5c5" fill-opacity="0.9" transform="rotate(31 620 79)"/>
<ellipse cx="482" cy="85" rx="6.4" ry="3.5" fill="#b4b4b4" fill-opacity="0.9" transform="rotate(47 482 85)"/>
<ellipse cx="318" cy="25" rx="8.7" ry="3.8" fill="#d4d4d4" fill-opacity="0.9" transform="rotate(139 318 25)"/>
<ellipse cx="269" cy="417" rx="8.3" ry="4.5" fill="#d3d3d3" fill-opacity="0.9" transform="rotate(12 269 417)"/>
<ellipse cx="566" cy="459" rx="7.4" ry="5.9" fill="#b7b7b7" fill-opacity="0.9" transform="rotate(139 566 459)"/>
<ellipse cx="411" cy="351" rx="6.7" ry="4.9" fill="#c5c5c5" fill-opacity="0.9" transform="rotate(64 411 351)"/>
<ellipse cx="116" cy="414" rx="6.5" ry="4.2" fill="#d5d5d5" fill-opacity="0.9" transform="rotate(40 116 414)"/>
<ellipse cx="408" cy="410" rx="8.2" ry="4.7" fill="#c4c4c4" fill-opacity="0.9" transform="rotate(70 408 410)"/>
<ellipse cx="178" cy="0" rx="7.8" ry="5.8" fill="#b5b5b5" fill-opacity="0.9" transform="rotate(69 178 0)"/>
<ellipse cx="80" cy="296" rx="8.1" ry="4.7" fill="#c2c2c2" fill-opacity="0.9" transform="rotate(26 80 296)"/>
<ellipse cx="3" cy="499" rx="5.6" ry="5.5" fill="#d0d0d0" fill-opacity="0.9" transform="rotate(110 3 499)"/>
<ellipse cx="15" cy="586" rx="8.0" ry="3.8" fill="#b2b2b2" fill-opacity="0.9" transform="rotate(36 15 586)"/>
<ellipse cx="218" cy="233" rx="6.1" ry="5.4" fill="#c2c2c2" fill-opacity="0.9" transform="rotate(142 218 233)"/>
<ellipse cx="164" cy="607" rx="7.8" ry="5.0" fill="#c9c9c9" fill-opacity="0.9" transform="rotate(34 164 607)"/>
<ellipse cx="195" cy="620" rx="8.3" ry="5.1" fill="#cfcfcf" fill-opacity="0.9" transform="rotate(127 195 620)"/>
<ellipse cx="262" cy="457" rx="8.6" ry="3.6" fill="#cdcdcd" fill-opacity="0.9" transform="rotate(37 262 457)"/>
<ellipse cx="232" cy="363" rx="8.8" ry="4.4" fill="#b9b9b9" fill-opacity="0.9" transform="rotate(70 232 363)"/>
<ellipse cx="489" cy="477" rx="8.6" ry="3.6" fill="#bababa" fill-opacity="0.9" transform="rotate(107 489 477)"/>
<ellipse cx="473" cy="361" rx="9.1" ry="5.3" fill="#c9c9c9" fill-opacity="0.9" transform="rotate(28 473 361)"/>
<ellipse cx="234" cy="298" rx="5.7" ry="4.1" fill="#c0c0c0" fill-opacity="0.9" transform="rotate(75 234 298)"/>
<ellipse cx="378" cy="279" rx="8.8" ry="5.2" fill="#bebebe" fill-opacity="0.9" transform="rotate(74 378 279)"/>
<ellipse cx="476" cy="413" rx="7.8" ry="4.2" fill="#b3b3b3" fill-opacity="0.9" transform="rotate(179 476 413)"/>
<ellipse cx="584" cy="458" rx="9.2" ry="3.9" fill="#d6d6d6" fill-opacity="0.9" transform="rotate(96 584 458)"/>
<ellipse cx="377" cy="373" rx="9.0" ry="3.6" fill="#b7b7b7" fill-opacity="0.9" transform="rotate(38 377 373)"/>
<ellipse cx="2" cy="558" rx="7.1" ry="5.7" fill="#d3d3d3" fill-opacity="0.9" transform="rotate(43 2 558)"/>
<ellipse cx="409" cy="376" rx="8.3" ry="5.7" fill="#bababa" fill-opacity="0.9" transform="rotate(135 409 376)"/>
<ellipse cx="593" cy="476" rx="8.6" ry="4.1" fill="#d7d7d7" fill-opacity="0.9" transform="rotate(22 593 476)"/>
<ellipse cx="124" cy="223" rx="8.6" ry="4.9" fill="#b0b0b0" fill-opacity="0.9" transform="rotate(172 124 223)"/>
<ellipse cx="266" cy="483" rx="9.2" ry="5.2" fill="#d2d2d2" fill-opacity="0.9" transform="rotate(117 266 483)"/>
<ellipse cx="151" cy="625" rx="8.4" ry="6.0" fill="#cdcdcd" fill-opacity="0.9" transform="rotate(122 151 625)"/>
<ellipse cx="153" cy="36" rx="8.4" ry="4.1" fill="#c7c7c7" fill-opacity="0.9" transform="rotate(34 153 36)"/>
<ellipse cx="299" cy="292" rx="6.3" ry="4.3" fill="#c2c2c2" fill-opacity="0.9" transform="rotate(52 299 292)"/>
<ellipse cx="416" cy="160" rx="7.4" ry="5.2" fill="#b7b7b7" fill-opacity="0.9" transform="rotate(153 416 160)"/>
<ellipse cx="534" cy="234" rx="8.5" ry="3.5" fill="#b5b5b5" fill-opacity="0.9" transform="rotate(59 534 234)"/>
<ellipse cx="234" cy="504" rx="9.4" ry="5.9" fill="#d2d2d2" fill-opacity="0.9" transform="rotate(114 234 504)"/>
<ellipse cx="634" cy="563" rx="8.4" ry="4.1" fill="#c3c3c3" fill-opacity="0.9" transform="rotate(13 634 563)"/>
<ellipse cx="5" cy="468" rx="8.0" ry="4.5" fill="#cecece" fill-opacity="0.9" transform="rotate(153 5 468)"/>
<ellipse cx="273" cy="13" rx="6.4" ry="5.4" fill="#cccccc" fill-opacity="0.9" transform="rotate(69 273 13)"/>
<ellipse cx="501" cy="499" rx="6.7" ry="3.5" fill="#d5d5d5" fill-opacity="0.9" transform="rotate(167 501 499)"/>
<ellipse cx="196" cy="278" rx="9.3" ry="3.8" fill="#cecece" fill-opacity="0.9" transform="rotate(45 196 278)"/>
<ellipse cx="469" cy="199" rx="5.7" ry="6.0" fill="#b1b1b1" fill-opacity="0.9" transform="rotate(0 469 199)"/>
<ellipse cx="444" cy="532" rx="7.3" ry="5.4" fill="#b6b6b6" fill-opacity="0.9" transform="rotate(133 444 532)"/>
<ellipse cx="212" cy="613" rx="6.0" ry="3.7" fill="#cacaca" fill-opacity="0.9" transform="rotate(14 212 613)"/>
<ellipse cx="456" cy="108" rx="6.6" ry="6.0" fill="#d8d8d8" fill-opacity="0.9" transform="rotate(83 456 108)"/>
<ellipse cx="412" cy="261" rx="9.2" ry="4.1" fill="#b7b7b7" fill-opacity="0.9" transform="rotate(71 412 261)"/>
<ellipse cx="363" cy="461" rx="7.0" ry="3.8" fill="#bbbbbb" fill-opacity="0.9" transform="rotate(34 363 461)"/>
<ellipse cx="345" cy="400" rx="8.1" ry="5.8" fill="#d8d8d8" fill-opacity="0.9" transform="rotate(57 345 400)"/>
<ellipse cx="508" cy="569" rx="7.5" ry="4.4" fill="#b4b4b4" fill-opacity="0.9" transform="rotate(90 508 569)"/>
<ellipse cx="557" cy="598" rx="8.7" ry="5.0" fill="#cccccc" fill-opacity="0.9" transform="rotate(81 557 598)"/>
<ellipse cx="56" cy="559" rx="6.2" ry="4.3" fill="#b1b1b1" fill-opacity="0.9" transform="rotate(10 56 559)"/>
<ellipse cx="318" cy="215" rx="6.5" ry="4.7" fill="#b2b2b2" fill-opacity="0.9" transform="rotate(86 318 215)"/>
<ellipse cx="43" cy="283" rx="8.7" ry="4.8" fill="#b9b9b9" fill-opacity="0.9" transform="rotate(166 43 283)"/>
<ellipse cx="3" cy="631" rx="6.7" ry="6.0" fill="#c5c5c5" fill-opacity="0.9" transform="rotate(10 3 631)"/>
<ellipse cx="320" cy="396" rx="9.2" ry="5.6" fill="#cccccc" fill-opacity="0.9" transform="rotate(14 320 396)"/>
<ellipse cx="133" cy="562" rx="8.2" ry="3.7" fill="#b3b3b3" fill-opacity="0.9" transform="rotate(53 133 562)"/>
<ellipse cx="395" cy="607" rx="6.0" ry="4.8" fill="#d2d2d2" fill-opacity="0.9" transform="rotate(82 395 607)"/>
<ellipse cx="269" cy="88" rx="7.8" ry="5.2" fill="#c3c3c3" fill-opacity="0.9" transform="rotate(92 269 88)"/>
<ellipse cx="304" cy="575" rx="5.7" ry="3.9" fill="#b8b8b8" fill-opacity="0.9" transform="rotate(174 304 575)"/>
<ellipse cx="475" cy="145" rx="6.0" ry="3.8" fill="#d6d6d6" fill-opacity="0.9" transform="rotate(120 475 145)"/>
<ellipse cx="358" cy="336" rx="8.7" ry="3.9" fill="#b8b8b8" fill-opacity="0.9" transform="rotate(121 358 336)"/>
<ellipse cx="546" cy="517" rx="9.2" ry="4.3" fill="#b2b2b2" fill-opacity="0.9" transform="rotate(76 546 517)"/>
<ellipse cx="97" cy="63" rx="8.4" ry="3.8" fill="#c6c6c6" fill-opacity="0.9" transform="rotate(96 97 63)"/>
<ellipse cx="46" cy="204" rx="8.3" ry="5.3" fill="#b3b3b3" fill-opacity="0.9" transform="rotate(167 46 204)"/>
<ellipse cx="594" cy="625" rx="8.3" ry="3.6" fill="#c4c4c4" fill-opacity="0.9" transform="rotate(9 594 625)"/>
<ellipse cx="601" cy="397" rx="6.9" ry="4.0" fill="#b7b7b7" fill-opacity="0.9" transform="rotate(48 601 397)"/>
<ellipse cx="95" cy="473" rx="5.8" ry="4.6" fill="#b5b5b5" fill-opacity="0.9" transform="rotate(63 95 473)"/>
<ellipse cx="302" cy="110" rx="7.8" ry="3.6" fill="#cbcbcb" fill-opacity="0.9" transform="rotate(72 302 110)"/>
<ellipse cx="311" cy="345" rx="6.7" ry="4.8" fill="#b5b5b5" fill-opacity="0.9" transform="rotate(61 311 345)"/>
<ellipse cx="585" cy="98" rx="5.8" ry="5.0" fill="#b0b0b0" fill-opacity="0.9" transform="rotate(68 585 98)"/>
<ellipse cx="82" cy="21" rx="6.9" ry="4.1" fill="#b5b5b5" fill-opacity="0.9" transform="rotate(103 82 21)"/>
<ellipse cx="466" cy="177" rx="6.7" ry="5.1" fill="#cacaca" fill-opacity="0.9" transform="rotate(127 466 177)"/>
<ellipse cx="497" cy="292" rx="7.6" ry="5.4" fill="#c5c5c5" fill-opacity="0.9" transform="rotate(95 497 292)"/>
<ellipse cx="482" cy="129" rx="7.5" ry="3.6" fill="#b0b0b0" fill-opacity="0.9" transform="rotate(159 482 129)"/>
<ellipse cx="105" cy="430" rx="7.8" ry="6.0" fill="#b6b6b6" fill-opacity="0.9" transform="rotate(151 105 430)"/>
<ellipse cx="518" cy="500" rx="6.8" ry="4.8" fill="#cbcbcb" fill-opacity="0.9" transform="rotate(77 518 500)"/>
<ellipse cx="347" cy="249" rx="9.3" ry="5.2" fill="#b6b6b6" fill-opacity="0.9" transform="rotate(123 347 249)"/>
<ellipse cx="156" cy="127" rx="6.2" ry="5.3" fill="#b1b1b1" fill-opacity="0.9" transform="rotate(131 156 127)"/>
<ellipse cx="78" cy="222" rx="5.9" ry="5.2" fill="#c0c0c0" fill-opacity="0.9" transform="rotate(134 78 222)"/>
<ellipse cx="588" cy="530" rx="6.6" ry="4.4" fill="#c6c6c6" fill-opacity="0.9" transform="rotate(124 588 530)"/>
<ellipse cx="603" cy="72" rx="9.2" ry="4.5" fill="#b0b0b0" fill-opacity="0.9" transform="rotate(107 603 72)"/>
<ellipse cx="312" cy="412" rx="6.2" ry="4.9" fill="#b3b3b3" fill-opacity="0.9" transform="rotate(133 312 412)"/>
<ellipse cx="511" cy="385" rx="8.7" ry="4.5" fill="#c7c7c7" fill-opacity="0.9" transform="rotate(47 511 385)"/>
<ellipse cx="266" cy="219" rx="6.3" ry="5.5" fill="#d8d8d8" fill-opacity="0.9" transform="rotate(32 266 219)"/>
<ellipse cx="181" cy="211" rx="8.6" ry="4.4" fill="#b9b9b9" fill-opacity="0.9" transform="rotate(101 181 211)"/>
<ellipse cx="359" cy="83" rx="7.3" ry="5.3" fill="#bdbdbd" fill-opacity="0.9" transform="rotate(38 359 83)"/>
<ellipse cx="560" cy="182" rx="6.2" ry="5.7" fill="#bababa" fill-opacity="0.9" transform="rotate(172 560 182)"/>
<ellipse cx="40" cy="550" rx="7.3" ry="4.3" fill="#c4c4c4" fill-opacity="0.9" transform="rotate(36 40 550)"/>
<ellipse cx="240" cy="525" rx="8.9" ry="5.9" fill="#cdcdcd" fill-opacity="0.9" transform="rotate(1 240 525)"/>
<ellipse cx="298" cy="375" rx="8.3" ry="5.5" fill="#bababa" fill-opacity="0.9" transform="rotate(92 298 375)"/>
<ellipse cx="38" cy="129" rx="7.5" ry="3.6" fill="#cdcdcd" fill-opacity="0.9" transform="rotate(45 38 129)"/>
<ellipse cx="453" cy="70" rx="7.9" ry="5.3" fill="#d0d0d0" fill-opacity="0.9" transform="rotate(8 453 70)"/>
<ellipse cx="190" cy="352" rx="6.9" ry="3.7" fill="#bebebe" fill-opacity="0.9" transform="rotate(144 190 352)"/>
<ellipse cx="144" cy="422" rx="6.9" ry="4.6" fill="#d1d1d1" fill-opacity="0.9" transform="rotate(172 144 422)"/>
<ellipse cx="573" cy="441" rx="7.6" ry="5.2" fill="#d8d8d8" fill-opacity="0.9" transform="rotate(124 573 441)"/>
<ellipse cx="462" cy="222" rx="5.6" ry="4.2" fill="#d4d4d4" fill-opacity="0.9" transform="rotate(37 462 222)"/>
<ellipse cx="610" cy="4" rx="7.6" ry="5.7" fill="#b9b9b9" fill-opacity="0.9" transform="rotate(152 610 4)"/>
<ellipse cx="241" cy="565" rx="6.5" ry="4.3" fill="#bcbcbc" fill-opacity="0.9" transform="rotate(4 241 565)"/>
<ellipse cx="470" cy="431" rx="7.0" ry="4.9" fill="#c7c7c7" fill-opacity="0.9" transform="rotate(161 470 431)"/>
<ellipse cx="634" cy="233" rx="5.6" ry="5.2" fill="#d8d8d8" fill-opacity="0.9" transform="rotate(8 634 233)"/>
<ellipse cx="288" cy="69" rx="8.1" ry="5.5" fill="#b3b3b3" fill-opacity="0.9" transform="rotate(36 288 69)"/>
<ellipse cx="211" cy="77" rx="6.0" ry="3.9" fill="#d7d7d7" fill-opacity="0.9" transform="rotate(30 211 77)"/>
<ellipse cx="9" cy="192" rx="6.5" ry="3.7" fill="#b7b7b7" fill-opacity="0.9" transform="rotate(12 9 192)"/>
<ellipse cx="420" cy="390" rx="7.3" ry="5.6" fill="#c1c1c1" fill-opacity="0.9" transform="rotate(57 420 390)"/>
<ellipse cx="161" cy="94" rx="6.6" ry="4.3" fill="#d6d6d6" fill-opacity="0.9" transform="rotate(60 161 94)"/>
<ellipse cx="129" cy="398" rx="8.1" ry="4.3" fill="#bbbbbb" fill-opacity="0.9" transform="rotate(179 129 398)"/>
<ellipse cx="375" cy="552" rx="8.0" ry="4.1" fill="#b1b1b1" fill-opacity="0.9" transform="rotate(88 375 552)"/>
<ellipse cx="149" cy="60" rx="8.0" ry="4.9" fill="#c7c7c7" fill-opacity="0.9" transform="rotate(137 149 60)"/>
<ellipse cx="284" cy="634" rx="6.9" ry="4.8" fill="#bdbdbd" fill-opacity="0.9" transform="rotate(22 284 634)"/>
<ellipse cx="568" cy="249" rx="8.9" ry="5.1" fill="#cccccc" fill-opacity="0.9" transform="rotate(174 568 249)"/>
<ellipse cx="472" cy="496" rx="8.2" ry="3.7" fill="#bebebe" fill-opacity="0.9" transform="rotate(13 472 496)"/>
<ellipse cx="347" cy="149" rx="5.8" ry="3.8" fill="#b1b1b1" fill-opacity="0.9" transform="rotate(4 347 149)"/>
<ellipse cx="55" cy="110" rx="8.2" ry="5.0" fill="#bdbdbd" fill-opacity="0.9" transform="rotate(137 55 110)"/>
<ellipse cx="130" cy="289" rx="8.2" ry="4.1" fill="#b1b1b1" fill-opacity="0.9" transform="rotate(163 130 289)"/>
<ellipse cx="260" cy="553" rx="9.0" ry="5.2" fill="#b9b9b9" fill-opacity="0.9" transform="rotate(89 260 553)"/>
<ellipse cx="370" cy="122" rx="5.5" ry="4.1" fill="#c4c4c4" fill-opacity="0.9" transform="rotate(60 370 122)"/>
<ellipse cx="426" cy="271" rx="5.7" ry="5.0" fill="#b4b4b4" fill-opacity="0.9" transform="rotate(105 426 271)"/>
<ellipse cx="195" cy="558" rx="6.9" ry="3.9" fill="#d2d2d2" fill-opacity="0.9" transform="rotate(82 195 558)"/>
<ellipse cx="172" cy="400" rx="9.0" ry="5.6" fill="#b1b1b1" fill-opacity="0.9" transform="rotate(124 172 400)"/>
<ellipse cx="281" cy="172" rx="5.7" ry="5.9" fill="#bbbbbb" fill-opacity="0.9" transform="rotate(129 281 172)"/>
<ellipse cx="496" cy="98" rx="7.4" ry="4.5" fill="#d1d1d1" fill-opacity="0.9" transform="rotate(61 496 98)"/>
<ellipse cx="77" cy="420" rx="8.5" ry="3.7" fill="#c2c2c2" fill-opacity="0.9" transform="rotate(15 77 420)"/>
<ellipse cx="534" cy="633" rx="8.1" ry="4.9" fill="#bebebe" fill-opacity="0.9" transform="rotate(68 534 633)"/>
<ellipse cx="50" cy="312" rx="6.2" ry="5.9" fill="#b1b1b1" fill-opacity="0.9" transform="rotate(123 50 312)"/>
<ellipse cx="544" cy="143" rx="6.4" ry="5.6" fill="#d8d8d8" fill-opacity="0.9" transform="rotate(16 544 143)"/>
<ellipse cx="472" cy="18" rx="9.5" ry="5.9" fill="#d6d6d6" fill-opacity="0.9" transform="rotate(65 472 18)"/>
<ellipse cx="321" cy="1" rx="5.9" ry="4.9" fill="#bebebe" fill-opacity="0.9" transform="rotate(124 321 1)"/>
<ellipse cx="176" cy="472" rx="6.1" ry="4.0" fill="#c1c1c1" fill-opacity="0.9" transform="rotate(12 176 472)"/>
<ellipse cx="149" cy="171" rx="5.9" ry="5.8" fill="#c3c3c3" fill-opacity="0.9" transform="rotate(121 149 171)"/>
<ellipse cx="240" cy="6" rx="7.8" ry="3.7" fill="#bdbdbd" fill-opacity="0.9" transform="rotate(163 240 6)"/>
<ellipse cx="208" cy="632" rx="7.3" ry="3.7" fill="#c6c6c6" fill-opacity="0.9" transform="rotate(92 208 632)"/>
<ellipse cx="396" cy="484" rx="6.2" ry="5.0" fill="#d3d3d3" fill-opacity="0.9" transform="rotate(68 396 484)"/>
<ellipse cx="512" cy="65" rx="6.1" ry="3.9" fill="#b5b5b5" fill-opacity="0.9" transform="rotate(66 512 65)"/>
<ellipse cx="626" cy="507" rx="8.3" ry="4.0" fill="#b0b0b0" fill-opacity="0.9" transform="rotate(56 626 507)"/>
<ellipse cx="615" cy="338" rx="7.4" ry="4.1" fill="#b1b1b1" fill-opacity="0.9" transform="rotate(174 615 338)"/>
<ellipse cx="398" cy="424" rx="8.4" ry="3.6" fill="#cccccc" fill-opacity="0.9" transform="rotate(157 398 424)"/>
<ellipse cx="59" cy="613" rx="8.3" ry="3.6" fill="#cecece" fill-opacity="0.9" transform="rotate(43 59 613)"/>
<ellipse cx="518" cy="216" rx="7.9" ry="4.6" fill="#b2b2b2" fill-opacity="0.9" transform="rotate(164 518 216)"/>
<ellipse cx="620" cy="163" rx="6.5" ry="4.1" fill="#cbcbcb" fill-opacity="0.9" transform="rotate(120 620 163)"/>
<ellipse cx="634" cy="534" rx="9.1" ry="5.1" fill="#b9b9b9" fill-opacity="0.9" transform="rotate(27 634 534)"/>
<ellipse cx="252" cy="33" rx="8.8" ry="5.3" fill="#d3d3d3" fill-opacity="0.9" transform="rotate(95 252 33)"/>
<ellipse cx="602" cy="491" rx="9.5" ry="4.5" fill="#b9b9b9" fill-opacity="0.9" transform="rotate(38 602 491)"/>
<ellipse cx="413" cy="192" rx="7.6" ry="5.7" fill="#d5d5d5" fill-opacity="0.9" transform="rotate(77 413 192)"/>
<ellipse cx="253" cy="97" rx="5.7" ry="4.7" fill="#cccccc" fill-opacity="0.9" transform="rotate(40 253 97)"/>
<ellipse cx="103" cy="29" rx="8.2" ry="5.6" fill="#b2b2b2" fill-opacity="0.9" transform="rotate(145 103 29)"/>
<ellipse cx="118" cy="315" rx="6.6" ry="5.5" fill="#b8b8b8" fill-opacity="0.9" transform="rotate(100 118 315)"/>
<ellipse cx="127" cy="204" rx="7.3" ry="5.8" fill="#cfcfcf" fill-opacity="0.9" transform="rotate(175 127 204)"/>
<ellipse cx="624" cy="373" rx="6.3" ry="3.6" fill="#b2b2b2" fill-opacity="0.9" transform="rotate(161 624 373)"/>
<ellipse cx="258" cy="69" rx="7.7" ry="4.0" fill="#b8b8b8" fill-opacity="0.9" transform="rotate(72 258 69)"/>
<ellipse cx="328" cy="490" rx="6.9" ry="5.5" fill="#bdbdbd" fill-opacity="0.9" transform="rotate(83 328 490)"/>
<ellipse cx="161" cy="16" rx="8.3" ry="3.7" fill="#b0b0b0" fill-opacity="0.9" transform="rotate(167 161 16)"/>
<ellipse cx="539" cy="461" rx="8.7" ry="4.3" fill="#c6c6c6" fill-opacity="0.9" transform="rotate(18 539 461)"/>
<ellipse cx="291" cy="123" rx="6.2" ry="4.8" fill="#d8d8d8" fill-opacity="0.9" transform="rotate(171 291 123)"/>
<ellipse cx="141" cy="136" rx="7.2" ry="5.9" fill="#bebebe" fill-opacity="0.9" transform="rotate(97 141 136)"/>
<ellipse cx="575" cy="633" rx="8.0" ry="3.9" fill="#b1b1b1" fill-opacity="0.9" transform="rotate(45 575 633)"/>
<ellipse cx="279" cy="298" rx="6.3" ry="3.7" fill="#c6c6c6" fill-opacity="0.9" transform="rotate(95 279 298)"/>
<ellipse cx="203" cy="153" rx="9.0" ry="5.5" fill="#cdcdcd" fill-opacity="0.9" transform="rotate(103 203 153)"/>
<ellipse cx="139" cy="250" rx="8.7" ry="5.1" fill="#c8c8c8" fill-opacity="0.9" transform="rotate(115 139 250)"/>
<ellipse cx="198" cy="579" rx="6.8" ry="4.2" fill="#d3d3d3" fill-opacity="0.9" transform="rotate(46 198 579)"/>
<ellipse cx="372" cy="57" rx="6.5" ry="4.9" fill="#bbbbbb" fill-opacity="0.9" transform="rotate(150 372 57)"/>
<ellipse cx="349" cy="313" rx="7.7" ry="4.5" fill="#b1b1b1" fill-opacity="0.9" transform="rotate(4 349 313)"/>
<ellipse cx="175" cy="306" rx="8.5" ry="4.6" fill="#c0c0c0" fill-opacity="0.9" transform="rotate(101 175 306)"/>
<ellipse cx="547" cy="497" rx="6.6" ry="4.9" fill="#bdbdbd" fill-opacity="0.9" transform="rotate(158 547 497)"/>
<ellipse cx="93" cy="126" rx="8.0" ry="4.5" fill="#bdbdbd" fill-opacity="0.9" transform="rotate(55 93 126)"/>
<ellipse cx="553" cy="394" rx="9.0" ry="5.2" fill="#bababa" fill-opacity="0.9" transform="rotate(91 553 394)"/>
<ellipse cx="559" cy="1" rx="6.7" ry="4.2" fill="#c4c4c4" fill-opacity="0.9" transform="rotate(164 559 1)"/>
<ellipse cx="394" cy="268" rx="7.1" ry="5.6" fill="#c0c0c0" fill-opacity="0.9" transform="rotate(164 394 268)"/>
<ellipse cx="496" cy="427" rx="6.4" ry="4.9" fill="#d2d2d2" fill-opacity="0.9" transform="rotate(38 496 427)"/>
<ellipse cx="601" cy="113" rx="7.0" ry="4.4" fill="#b0b0b0" fill-opacity="0.9" transform="rotate(90 601 113)"/>
<ellipse cx="103" cy="590" rx="9.1" ry="4.1" fill="#d0d0d0" fill-opacity="0.9" transform="rotate(32 103 590)"/>
<ellipse cx="414" cy="127" rx="9.1" ry="4.5" fill="#c8c8c8" fill-opacity="0.9" transform="rotate(89 414 127)"/>
<ellipse cx="368" cy="34" rx="6.2" ry="4.2" fill="#b2b2b2" fill-opacity="0.9" transform="rotate(17 368 34)"/>
<ellipse cx="419" cy="26" rx="8.8" ry="5.8" fill="#c2c2c2" fill-opacity="0.9" transform="rotate(33 419 26)"/>
<ellipse cx="45" cy="156" rx="8.2" ry="3.7" fill="#c7c7c7" fill-opacity="0.9" transform="rotate(65 45 156)"/>
<ellipse cx="125" cy="486" rx="8.3" ry="5.2" fill="#cbcbcb" fill-opacity="0.9" transform="rotate(77 125 486)"/>
<ellipse cx="281" cy="616" rx="9.4" ry="4.2" fill="#c3c3c3" fill-opacity="0.9" transform="rotate(55 281 616)"/>
<ellipse cx="465" cy="0" rx="9.3" ry="4.5" fill="#b5b5b5" fill-opacity="0.9" transform="rotate(70 465 0)"/>
<ellipse cx="597" cy="567" rx="8.7" ry="5.6" fill="#bebebe" fill-opacity="0.9" transform="rotate(46 597 567)"/>
<ellipse cx="210" cy="59" rx="5.9" ry="5.5" fill="#b9b9b9" fill-opacity="0.9" transform="rotate(32 210 59)"/>
<ellipse cx="476" cy="264" rx="9.2" ry="4.1" fill="#d0d0d0" fill-opacity="0.9" transform="rotate(171 476 264)"/>
<ellipse cx="253" cy="198" rx="8.8" ry="4.5" fill="#b0b0b0" fill-opacity="0.9" transform="rotate(97 253 198)"/>
<ellipse cx="450" cy="234" rx="9.4" ry="3.7" fill="#c8c8c8" fill-opacity="0.9" transform="rotate(56 450 234)"/>
<ellipse cx="606" cy="584" rx="7.7" ry="5.0" fill="#c4c4c4" fill-opacity="0.9" transform="rotate(12 606 584)"/>
<ellipse cx="495" cy="329" rx="7.7" ry="4.6" fill="#c6c6c6" fill-opacity="0.9" transform="rotate(71 495 329)"/>
<ellipse cx="400" cy="515" rx="7.1" ry="5.4" fill="#b5b5b5" fill-opacity="0.9" transform="rotate(67 400 515)"/>
<ellipse cx="138" cy="331" rx="7.4" ry="5.5" fill="#bebebe" fill-opacity="0.9" transform="rotate(110 138 331)"/>
<ellipse cx="1" cy="35" rx="9.4" ry="4.1" fill="#bfbfbf" fill-opacity="0.9" transform="rotate(116 1 35)"/>
<ellipse cx="76" cy="66" rx="6.0" ry="4.4" fill="#cfcfcf" fill-opacity="0.9" transform="rotate(172 76 66)"/>
<ellipse cx="307" cy="230" rx="7.4" ry="4.4" fill="#cecece" fill-opacity="0.9" transform="rotate(49 307 230)"/>
<ellipse cx="86" cy="1" rx="7.2" ry="5.8" fill="#c7c7c7" fill-opacity="0.9" transform="rotate(74 86 1)"/>
<ellipse cx="86" cy="274" rx="6.4" ry="5.6" fill="#c2c2c2" fill-opacity="0.9" transform="rotate(128 86 274)"/>
<ellipse cx="48" cy="352" rx="8.8" ry="4.0" fill="#b2b2b2" fill-opacity="0.9" transform="rotate(40 48 352)"/>
<ellipse cx="16" cy="254" rx="8.7" ry="3.6" fill="#d3d3d3" fill-opacity="0.9" transform="rotate(165 16 254)"/>
<ellipse cx="545" cy="358" rx="6.9" ry="4.9" fill="#c7c7c7" fill-opacity="0.9" transform="rotate(5 545 358)"/>
<ellipse cx="397" cy="292" rx="6.9" ry="5.3" fill="#bebebe" fill-opacity="0.9" transform="rotate(10 397 292)"/>
<circle cx="88" cy="105" r="7.5" fill="#0d0d0d"/>
<circle cx="162" cy="170" r="7.5" fill="#0d0d0d"/>
<circle cx="105" cy="212" r="7.5" fill="#0d0d0d"/>
<circle cx="60" cy="232" r="7.5" fill="#0d0d0d"/>
<circle cx="291" cy="198" r="7.5" fill="#0d0d0d"/>
<circle cx="370" cy="181" r="7.5" fill="#0d0d0d"/>
<circle cx="432" cy="100" r="7.5" fill="#0d0d0d"/>
<circle cx="551" cy="111" r="7.5" fill="#0d0d0d"/>
<circle cx="568" cy="198" r="7.5" fill="#0d0d0d"/>
<circle cx="466" cy="241" r="7.5" fill="#0d0d0d"/>
<circle cx="100" cy="280" r="7.5" fill="#0d0d0d"/>
<circle cx="156" cy="274" r="7.5" fill="#0d0d0d"/>
<circle cx="294" cy="286" r="7.5" fill="#0d0d0d"/>
<circle cx="218" cy="322" r="7.5" fill="#0d0d0d"/>
<circle cx="390" cy="305" r="7.5" fill="#0d0d0d"/>
<circle cx="514" cy="288" r="7.5" fill="#0d0d0d"/>
<circle cx="289" cy="353" r="7.5" fill="#0d0d0d"/>
<circle cx="387" cy="339" r="7.5" fill="#0d0d0d"/>
<circle cx="438" cy="356" r="7.5" fill="#0d0d0d"/>
<circle cx="500" cy="319" r="7.5" fill="#0d0d0d"/>
<circle cx="60" cy="396" r="7.5" fill="#0d0d0d"/>
<circle cx="325" cy="398" r="7.5" fill="#0d0d0d"/>
<circle cx="384" cy="398" r="7.5" fill="#0d0d0d"/>
<circle cx="534" cy="370" r="7.5" fill="#0d0d0d"/>
<circle cx="117" cy="449" r="7.5" fill="#0d0d0d"/>
<circle cx="55" cy="463" r="7.5" fill="#0d0d0d"/>
<circle cx="229" cy="477" r="7.5" fill="#0d0d0d"/>
<circle cx="421" cy="472" r="7.5" fill="#0d0d0d"/>
<circle cx="511" cy="432" r="7.5" fill="#0d0d0d"/>
<circle cx="579" cy="460" r="7.5" fill="#0d0d0d"/>
<circle cx="314" cy="522" r="7.5" fill="#0d0d0d"/>
<circle cx="196" cy="542" r="7.5" fill="#0d0d0d"/>
<circle cx="72" cy="570" r="7.5" fill="#0d0d0d"/>
<circle cx="404" cy="562" r="7.5" fill="#0d0d0d"/>
<circle cx="551" cy="545" r="7.5" fill="#0d0d0d"/>
<circle cx="540" cy="590" r="7.5" fill="#0d0d0d"/>
<circle cx="384" cy="610" r="7.5" fill="#0d0d0d"/>
<circle cx="196" cy="607" r="7.5" fill="#0d0d0d"/>
<circle cx="320" cy="18" r="7.5" fill="#0d0d0d"/>
<circle cx="613" cy="9" r="7.5" fill="#0d0d0d"/>
<circle cx="193" cy="15" r="7.5" fill="#0d0d0d"/>
</g>
</g></svg>
<g filter="url(#soft)">
<text class="tw" x="138.5" y="2081.8" font-size="68.5" textLength="614.0" lengthAdjust="spacingAndGlyphs">SMAMP*-co-10%PEG</text>
<rect x="864.6" y="2162.0" width="49" height="321" fill="url(#cb)" stroke="#1c1408" stroke-width="3"/>
<text class="sr" x="882.2" y="2153.5" font-size="44.2" text-anchor="middle">13.0 nm</text>
<rect x="611.7" y="2647.4" width="130" height="8.6" fill="#0c0c0c"/>
<text class="sr" x="610.2" y="2692.1" font-size="43.2">1.0 µm</text>
</g>
<svg x="1027.0" y="2004.0" width="634.5" height="634.6" overflow="hidden">
<g filter="url(#f4)">
<rect width="640" height="640" fill="#a3a3a3"/>
<g filter="url(#b30)">
<ellipse cx="50" cy="240" rx="60" ry="50" fill="#b8b8b8"/>
<ellipse cx="80" cy="420" rx="50" ry="30" fill="#b5b5b5"/>
<ellipse cx="320" cy="520" rx="90" ry="80" fill="#b5b5b5"/>
<ellipse cx="470" cy="190" rx="60" ry="40" fill="#bababa"/>
<ellipse cx="600" cy="360" rx="40" ry="50" fill="#b5b5b5"/>
<ellipse cx="250" cy="60" rx="80" ry="40" fill="#adadad"/>
<ellipse cx="50" cy="90" rx="60" ry="40" fill="#808080"/>
<ellipse cx="200" cy="240" rx="70" ry="110" fill="#878787"/>
<ellipse cx="500" cy="440" rx="70" ry="80" fill="#8a8a8a"/>
<ellipse cx="590" cy="120" rx="40" ry="60" fill="#8c8c8c"/>
<ellipse cx="120" cy="540" rx="60" ry="40" fill="#8f8f8f"/>
<ellipse cx="330" cy="150" rx="50" ry="50" fill="#8f8f8f"/>
</g>
<g filter="url(#b1)">
<ellipse cx="530" cy="67" rx="5.5" ry="3.6" fill="#2b2b2b"/>
<ellipse cx="387" cy="250" rx="4.1" ry="4.0" fill="#424242"/>
<ellipse cx="610" cy="290" rx="4.2" ry="2.8" fill="#222222"/>
<ellipse cx="608" cy="599" rx="6.0" ry="4.4" fill="#222222"/>
<ellipse cx="404" cy="88" rx="4.3" ry="5.1" fill="#252525"/>
<ellipse cx="422" cy="548" rx="3.1" ry="4.2" fill="#1f1f1f"/>
<ellipse cx="110" cy="66" rx="3.3" ry="3.9" fill="#474747"/>
<ellipse cx="629" cy="511" rx="4.0" ry="4.0" fill="#181818"/>
<ellipse cx="452" cy="46" rx="6.0" ry="4.7" fill="#4a4a4a"/>
<ellipse cx="451" cy="443" rx="6.2" ry="5.1" fill="#1a1a1a"/>
<ellipse cx="290" cy="313" rx="2.9" ry="3.0" fill="#535353"/>
<ellipse cx="172" cy="570" rx="3.2" ry="2.9" fill="#292929"/>
<ellipse cx="195" cy="268" rx="3.8" ry="4.2" fill="#1a1a1a"/>
<ellipse cx="507" cy="171" rx="6.1" ry="5.2" fill="#151515"/>
<ellipse cx="542" cy="429" rx="2.7" ry="3.4" fill="#383838"/>
<ellipse cx="377" cy="432" rx="5.0" ry="5.3" fill="#434343"/>
<ellipse cx="473" cy="69" rx="4.5" ry="5.1" fill="#161616"/>
<ellipse cx="116" cy="72" rx="5.9" ry="2.6" fill="#343434"/>
<ellipse cx="319" cy="486" rx="3.9" ry="5.3" fill="#272727"/>
<ellipse cx="350" cy="37" rx="4.9" ry="4.4" fill="#444444"/>
<ellipse cx="63" cy="219" rx="5.3" ry="3.0" fill="#151515"/>
<ellipse cx="170" cy="444" rx="4.2" ry="3.5" fill="#222222"/>
<ellipse cx="199" cy="235" rx="3.0" ry="4.5" fill="#353535"/>
<ellipse cx="544" cy="0" rx="5.6" ry="4.9" fill="#181818"/>
<ellipse cx="273" cy="220" rx="5.9" ry="4.0" fill="#252525"/>
<ellipse cx="74" cy="391" rx="3.9" ry="4.0" fill="#2c2c2c"/>
<ellipse cx="623" cy="258" rx="5.7" ry="4.5" fill="#252525"/>
<ellipse cx="318" cy="257" rx="5.4" ry="3.6" fill="#4c4c4c"/>
<ellipse cx="293" cy="594" rx="5.9" ry="3.4" fill="#333333"/>
<ellipse cx="257" cy="626" rx="4.4" ry="3.5" fill="#313131"/>
<ellipse cx="110" cy="364" rx="5.4" ry="5.2" fill="#474747"/>
<ellipse cx="308" cy="198" rx="5.3" ry="4.2" fill="#2d2d2d"/>
<ellipse cx="292" cy="391" rx="3.0" ry="4.3" fill="#383838"/>
<ellipse cx="309" cy="349" rx="6.4" ry="3.0" fill="#363636"/>
<ellipse cx="449" cy="342" rx="4.1" ry="4.8" fill="#424242"/>
<ellipse cx="129" cy="624" rx="5.6" ry="2.5" fill="#383838"/>
<ellipse cx="484" cy="155" rx="5.5" ry="2.6" fill="#191919"/>
<ellipse cx="488" cy="623" rx="4.5" ry="3.4" fill="#282828"/>
<ellipse cx="132" cy="34" rx="6.4" ry="2.7" fill="#353535"/>
<ellipse cx="259" cy="365" rx="5.1" ry="2.9" fill="#333333"/>
<ellipse cx="83" cy="179" rx="3.2" ry="5.1" fill="#1f1f1f"/>
<ellipse cx="513" cy="392" rx="4.1" ry="4.5" fill="#161616"/>
<ellipse cx="228" cy="221" rx="3.5" ry="3.1" fill="#404040"/>
<ellipse cx="558" cy="514" rx="3.2" ry="4.1" fill="#3d3d3d"/>
<ellipse cx="583" cy="398" rx="6.2" ry="3.0" fill="#383838"/>
<ellipse cx="306" cy="259" rx="5.5" ry="3.6" fill="#373737"/>
<ellipse cx="319" cy="627" rx="3.0" ry="4.7" fill="#282828"/>
<ellipse cx="460" cy="248" rx="5.8" ry="3.8" fill="#282828"/>
<ellipse cx="268" cy="371" rx="4.9" ry="3.0" fill="#2b2b2b"/>
<ellipse cx="104" cy="468" rx="3.3" ry="5.0" fill="#303030"/>
<ellipse cx="382" cy="244" rx="4.9" ry="5.3" fill="#1d1d1d"/>
<ellipse cx="490" cy="422" rx="4.1" ry="5.4" fill="#474747"/>
<ellipse cx="98" cy="291" rx="5.3" ry="5.3" fill="#4a4a4a"/>
<ellipse cx="607" cy="183" rx="5.9" ry="3.3" fill="#282828"/>
<ellipse cx="426" cy="137" rx="4.0" ry="5.5" fill="#4b4b4b"/>
<ellipse cx="437" cy="98" rx="5.6" ry="4.0" fill="#3c3c3c"/>
<ellipse cx="369" cy="206" rx="3.4" ry="2.9" fill="#4d4d4d"/>
<ellipse cx="137" cy="244" rx="3.2" ry="5.0" fill="#343434"/>
<ellipse cx="180" cy="120" rx="5.1" ry="4.9" fill="#4a4a4a"/>
<ellipse cx="565" cy="49" rx="4.9" ry="2.9" fill="#171717"/>
<ellipse cx="307" cy="559" rx="5.8" ry="5.4" fill="#515151"/>
<ellipse cx="584" cy="550" rx="5.9" ry="2.9" fill="#1e1e1e"/>
<ellipse cx="582" cy="346" rx="4.0" ry="4.0" fill="#2f2f2f"/>
<ellipse cx="15" cy="42" rx="4.7" ry="4.3" fill="#232323"/>
<ellipse cx="193" cy="372" rx="6.1" ry="5.5" fill="#1c1c1c"/>
<ellipse cx="220" cy="75" rx="5.6" ry="4.4" fill="#2a2a2a"/>
<ellipse cx="28" cy="168" rx="2.5" ry="5.2" fill="#1f1f1f"/>
<ellipse cx="516" cy="190" rx="3.8" ry="3.4" fill="#333333"/>
<ellipse cx="265" cy="442" rx="2.6" ry="3.8" fill="#151515"/>
<ellipse cx="618" cy="568" rx="4.9" ry="4.1" fill="#303030"/>
<ellipse cx="552" cy="289" rx="3.5" ry="4.2" fill="#3f3f3f"/>
<ellipse cx="209" cy="232" rx="6.1" ry="5.1" fill="#525252"/>
<ellipse cx="141" cy="507" rx="4.1" ry="5.1" fill="#535353"/>
<ellipse cx="171" cy="373" rx="2.8" ry="5.2" fill="#272727"/>
<ellipse cx="250" cy="23" rx="4.6" ry="4.2" fill="#444444"/>
<ellipse cx="52" cy="423" rx="4.0" ry="5.1" fill="#313131"/>
<ellipse cx="454" cy="475" rx="5.5" ry="4.6" fill="#373737"/>
<ellipse cx="425" cy="208" rx="4.7" ry="3.1" fill="#2b2b2b"/>
<ellipse cx="616" cy="480" rx="3.2" ry="2.7" fill="#4d4d4d"/>
<ellipse cx="425" cy="18" rx="5.8" ry="2.8" fill="#4a4a4a"/>
<ellipse cx="146" cy="389" rx="2.6" ry="3.3" fill="#3d3d3d"/>
<ellipse cx="494" cy="88" rx="4.5" ry="2.6" fill="#151515"/>
<ellipse cx="605" cy="396" rx="3.8" ry="4.8" fill="#1c1c1c"/>
<ellipse cx="204" cy="206" rx="6.3" ry="2.6" fill="#323232"/>
<ellipse cx="468" cy="456" rx="3.7" ry="4.3" fill="#4c4c4c"/>
<ellipse cx="445" cy="616" rx="4.7" ry="4.5" fill="#454545"/>
<ellipse cx="408" cy="374" rx="5.0" ry="5.0" fill="#464646"/>
<ellipse cx="551" cy="399" rx="6.0" ry="5.2" fill="#535353"/>
<ellipse cx="252" cy="592" rx="2.8" ry="5.1" fill="#4f4f4f"/>
<ellipse cx="231" cy="56" rx="3.9" ry="5.4" fill="#2e2e2e"/>
<ellipse cx="459" cy="277" rx="2.9" ry="4.0" fill="#343434"/>
<ellipse cx="365" cy="358" rx="5.2" ry="4.9" fill="#535353"/>
<ellipse cx="102" cy="477" rx="2.8" ry="4.3" fill="#313131"/>
<ellipse cx="588" cy="406" rx="4.5" ry="3.4" fill="#292929"/>
<ellipse cx="544" cy="159" rx="4.3" ry="4.7" fill="#272727"/>
<ellipse cx="504" cy="178" rx="4.5" ry="4.4" fill="#272727"/>
<ellipse cx="439" cy="452" rx="4.2" ry="4.0" fill="#1c1c1c"/>
<ellipse cx="91" cy="492" rx="2.8" ry="3.3" fill="#2d2d2d"/>
<ellipse cx="54" cy="24" rx="2.5" ry="4.2" fill="#545454"/>
<ellipse cx="95" cy="430" rx="4.9" ry="4.3" fill="#494949"/>
<ellipse cx="290" cy="467" rx="3.8" ry="4.9" fill="#4a4a4a"/>
<ellipse cx="393" cy="91" rx="5.4" ry="5.1" fill="#393939"/>
<ellipse cx="358" cy="332" rx="5.4" ry="5.0" fill="#313131"/>
<ellipse cx="154" cy="512" rx="6.2" ry="3.5" fill="#161616"/>
<ellipse cx="54" cy="588" rx="5.1" ry="3.7" fill="#1f1f1f"/>
<ellipse cx="292" cy="453" rx="6.3" ry="4.7" fill="#4a4a4a"/>
<ellipse cx="310" cy="604" rx="3.6" ry="4.1" fill="#323232"/>
<ellipse cx="150" cy="133" rx="4.3" ry="2.8" fill="#161616"/>
<ellipse cx="340" cy="538" rx="5.7" ry="2.9" fill="#1a1a1a"/>
<ellipse cx="34" cy="197" rx="4.9" ry="4.4" fill="#4e4e4e"/>
<ellipse cx="494" cy="490" rx="5.3" ry="3.5" fill="#4e4e4e"/>
<ellipse cx="572" cy="518" rx="6.4" ry="4.6" fill="#3d3d3d"/>
<ellipse cx="442" cy="121" rx="2.8" ry="3.1" fill="#242424"/>
<ellipse cx="197" cy="238" rx="5.5" ry="3.7" fill="#515151"/>
<ellipse cx="593" cy="625" rx="3.9" ry="5.0" fill="#4b4b4b"/>
<ellipse cx="434" cy="315" rx="4.2" ry="4.4" fill="#2d2d2d"/>
<ellipse cx="5" cy="473" rx="2.9" ry="5.5" fill="#383838"/>
<ellipse cx="583" cy="418" rx="5.9" ry="4.7" fill="#2f2f2f"/>
<ellipse cx="43" cy="62" rx="3.3" ry="5.4" fill="#393939"/>
<ellipse cx="407" cy="128" rx="2.8" ry="4.1" fill="#4c4c4c"/>
<ellipse cx="544" cy="220" rx="4.4" ry="2.6" fill="#1d1d1d"/>
<ellipse cx="245" cy="605" rx="3.3" ry="4.8" fill="#515151"/>
<ellipse cx="290" cy="607" rx="5.5" ry="4.0" fill="#202020"/>
<ellipse cx="212" cy="453" rx="3.1" ry="5.4" fill="#444444"/>
<ellipse cx="340" cy="520" rx="6.5" ry="5.5" fill="#2b2b2b"/>
<ellipse cx="260" cy="494" rx="4.2" ry="5.4" fill="#444444"/>
<ellipse cx="83" cy="414" rx="2.9" ry="4.5" fill="#4e4e4e"/>
<ellipse cx="243" cy="420" rx="5.9" ry="4.7" fill="#202020"/>
<ellipse cx="40" cy="290" rx="2.5" ry="3.5" fill="#202020"/>
<ellipse cx="588" cy="245" rx="3.0" ry="3.3" fill="#505050"/>
<ellipse cx="314" cy="286" rx="4.2" ry="4.3" fill="#414141"/>
<ellipse cx="481" cy="103" rx="6.1" ry="4.8" fill="#363636"/>
<ellipse cx="319" cy="46" rx="6.2" ry="3.9" fill="#545454"/>
<ellipse cx="9" cy="341" rx="4.5" ry="5.2" fill="#303030"/>
<ellipse cx="330" cy="471" rx="5.5" ry="4.1" fill="#424242"/>
<ellipse cx="187" cy="325" rx="2.7" ry="4.7" fill="#343434"/>
<ellipse cx="231" cy="278" rx="2.7" ry="2.9" fill="#1e1e1e"/>
<ellipse cx="237" cy="551" rx="6.1" ry="5.1" fill="#3d3d3d"/>
<ellipse cx="139" cy="409" rx="5.9" ry="2.8" fill="#3b3b3b"/>
<ellipse cx="158" cy="201" rx="4.0" ry="3.9" fill="#444444"/>
<ellipse cx="549" cy="502" rx="6.4" ry="3.4" fill="#484848"/>
<ellipse cx="561" cy="4" rx="3.7" ry="2.9" fill="#454545"/>
<ellipse cx="46" cy="414" rx="4.7" ry="5.2" fill="#515151"/>
<ellipse cx="62" cy="619" rx="4.7" ry="4.5" fill="#414141"/>
<ellipse cx="30" cy="601" rx="2.6" ry="3.4" fill="#2a2a2a"/>
<ellipse cx="586" cy="243" rx="5.4" ry="5.0" fill="#1a1a1a"/>
<ellipse cx="35" cy="619" rx="5.3" ry="3.8" fill="#424242"/>
<ellipse cx="114" cy="235" rx="6.4" ry="3.1" fill="#1e1e1e"/>
<ellipse cx="175" cy="212" rx="4.5" ry="3.3" fill="#2b2b2b"/>
<ellipse cx="390" cy="464" rx="6.1" ry="4.6" fill="#444444"/>
<ellipse cx="450" cy="619" rx="3.3" ry="4.8" fill="#171717"/>
<ellipse cx="106" cy="46" rx="5.5" ry="4.4" fill="#202020"/>
<ellipse cx="606" cy="607" rx="5.6" ry="3.4" fill="#222222"/>
<ellipse cx="388" cy="353" rx="5.8" ry="3.7" fill="#353535"/>
<ellipse cx="130" cy="164" rx="3.5" ry="3.5" fill="#3e3e3e"/>
<ellipse cx="219" cy="237" rx="4.4" ry="3.3" fill="#242424"/>
<ellipse cx="196" cy="37" rx="2.7" ry="4.3" fill="#383838"/>
<ellipse cx="318" cy="199" rx="4.1" ry="2.6" fill="#1c1c1c"/>
<ellipse cx="226" cy="540" rx="3.6" ry="3.5" fill="#171717"/>
<ellipse cx="85" cy="204" rx="5.3" ry="4.2" fill="#393939"/>
<ellipse cx="2" cy="507" rx="3.9" ry="5.0" fill="#222222"/>
<ellipse cx="602" cy="307" rx="4.6" ry="5.5" fill="#222222"/>
<ellipse cx="85" cy="317" rx="5.9" ry="5.0" fill="#2e2e2e"/>
<ellipse cx="576" cy="198" rx="6.1" ry="2.8" fill="#3d3d3d"/>
<ellipse cx="461" cy="629" rx="5.5" ry="4.9" fill="#373737"/>
<ellipse cx="21" cy="431" rx="4.1" ry="4.1" fill="#3d3d3d"/>
<ellipse cx="368" cy="453" rx="2.9" ry="4.1" fill="#212121"/>
<ellipse cx="428" cy="608" rx="4.4" ry="3.1" fill="#292929"/>
<ellipse cx="478" cy="103" rx="6.2" ry="3.8" fill="#303030"/>
<ellipse cx="430" cy="387" rx="5.9" ry="3.0" fill="#222222"/>
</g>
</g></svg>
<g filter="url(#soft)">
<text class="tw" x="1043.0" y="2081.8" font-size="68.5" textLength="613.5" lengthAdjust="spacingAndGlyphs">SMAMP*-co-25%PEG</text>
<rect x="1761.6" y="2162.0" width="49" height="321" fill="url(#cb)" stroke="#1c1408" stroke-width="3"/>
<text class="sr" x="1779.2" y="2153.5" font-size="44.2" text-anchor="middle">5.0 nm</text>
<rect x="1508.7" y="2647.4" width="130" height="8.6" fill="#0c0c0c"/>
<text class="sr" x="1507.2" y="2692.1" font-size="43.2">1.0 µm</text>
</g>
</svg></body></html>
